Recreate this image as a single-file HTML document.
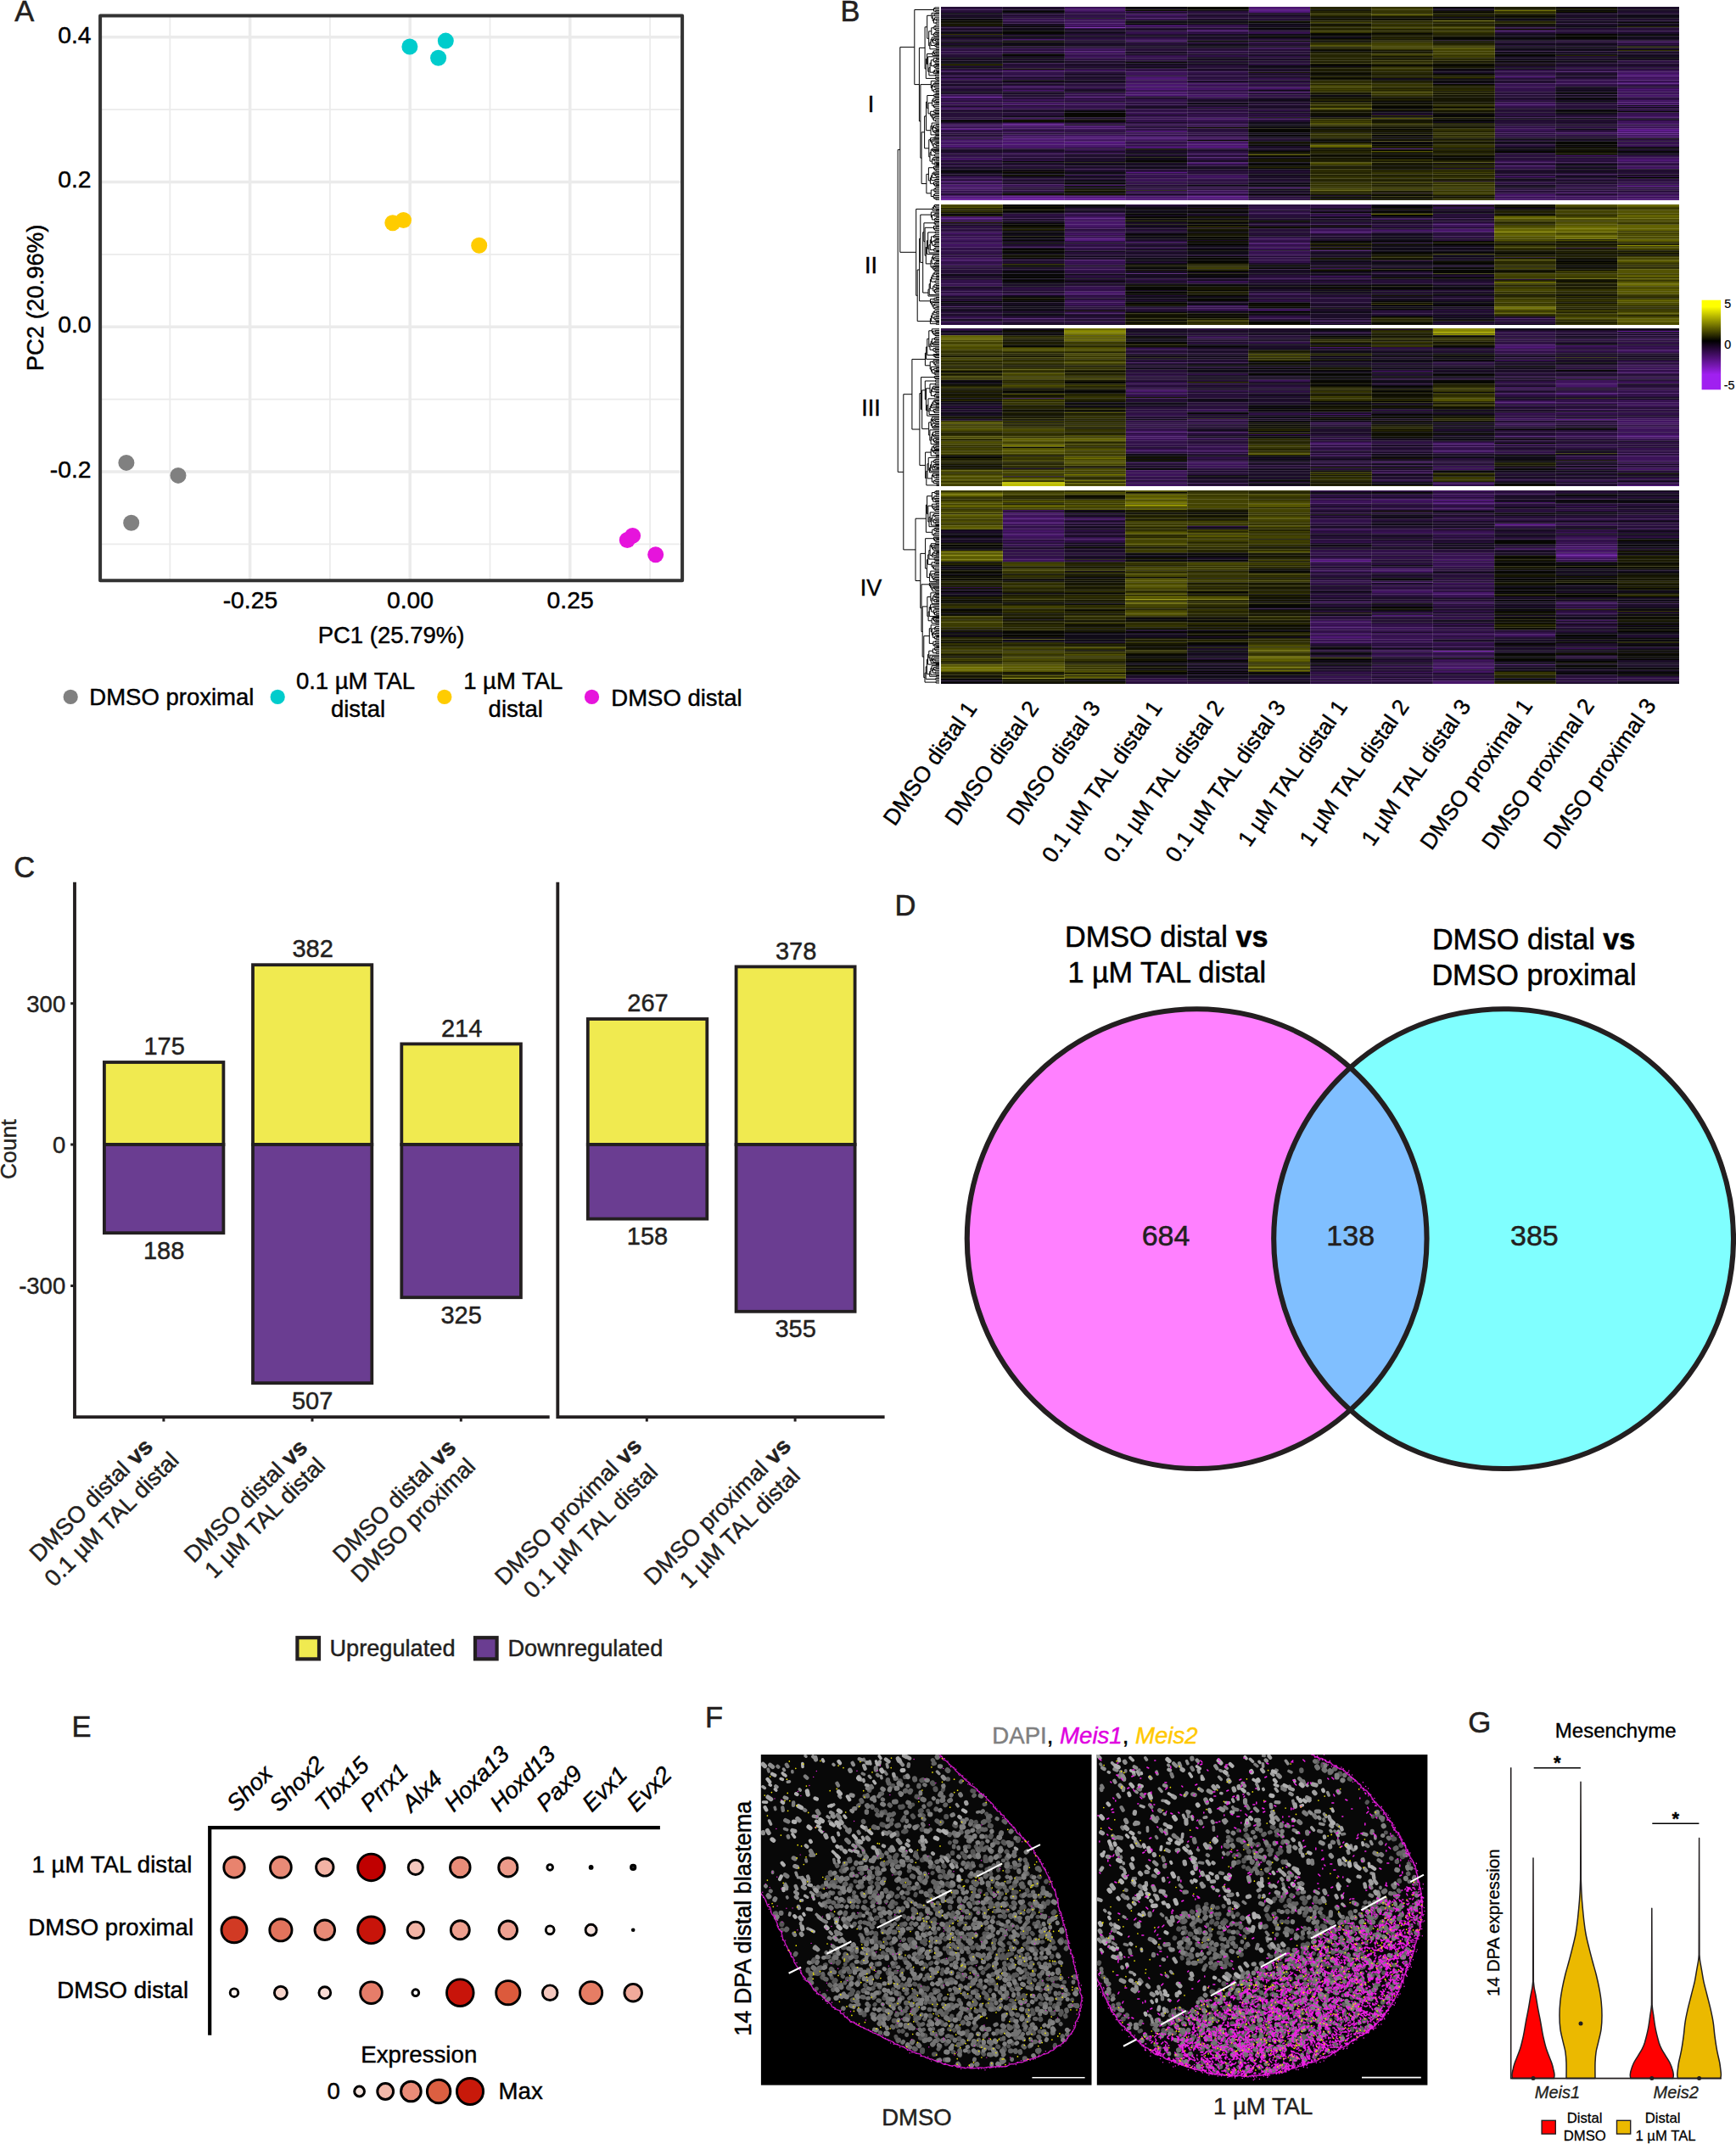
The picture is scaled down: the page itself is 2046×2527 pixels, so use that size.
<!DOCTYPE html>
<html lang="en"><head><meta charset="utf-8"><title>Figure</title>
<style>html,body{margin:0;padding:0;background:#fff}svg{display:block}text{font-family:"Liberation Sans", Arial, Helvetica, sans-serif}</style></head>
<body>
<svg width="2046" height="2527" viewBox="0 0 2046 2527">
<rect width="2046" height="2527" fill="#fff"/>
<g id="panelA">
<text x="17.2" y="25.3" font-size="34.5" fill="#231f20" stroke="#231f20" stroke-width="0.55">A</text>
<path d="M200.3 18.45V684.2M388.9 18.45V684.2M577.5 18.45V684.2M766.1 18.45V684.2M118.1 129.1H804.1M118.1 299.8H804.1M118.1 470.6H804.1M118.1 641.3H804.1" stroke="#ebebeb" stroke-width="1.8" fill="none"/>
<path d="M294.6 18.45V684.2M483.2 18.45V684.2M671.8 18.45V684.2M118.1 43.7H804.1M118.1 214.4H804.1M118.1 385.2H804.1M118.1 556.0H804.1" stroke="#ebebeb" stroke-width="3.5" fill="none"/>
<circle cx="482.9" cy="55.0" r="9.5" fill="#00cccc"/>
<circle cx="525.3" cy="48.1" r="9.5" fill="#00cccc"/>
<circle cx="516.6" cy="68.3" r="9.5" fill="#00cccc"/>
<circle cx="462.8" cy="262.7" r="9.5" fill="#ffcc00"/>
<circle cx="475.5" cy="259.5" r="9.5" fill="#ffcc00"/>
<circle cx="564.7" cy="289.2" r="9.5" fill="#ffcc00"/>
<circle cx="148.9" cy="545.4" r="9.5" fill="#808080"/>
<circle cx="210.0" cy="560.4" r="9.5" fill="#808080"/>
<circle cx="154.7" cy="616.3" r="9.5" fill="#808080"/>
<circle cx="739.3" cy="636.5" r="9.5" fill="#e614dc"/>
<circle cx="745.6" cy="631.4" r="9.5" fill="#e614dc"/>
<circle cx="772.7" cy="653.7" r="9.5" fill="#e614dc"/>
<rect x="118.1" y="18.45" width="686.0" height="665.8" fill="none" stroke="#333" stroke-width="4" stroke-linejoin="round"/>
<text x="107.6" y="50.6" font-size="28.3" text-anchor="end" stroke="#000" stroke-width="0.45">0.4</text>
<text x="107.6" y="221.3" font-size="28.3" text-anchor="end" stroke="#000" stroke-width="0.45">0.2</text>
<text x="107.6" y="392.1" font-size="28.3" text-anchor="end" stroke="#000" stroke-width="0.45">0.0</text>
<text x="107.6" y="562.9" font-size="28.3" text-anchor="end" stroke="#000" stroke-width="0.45">-0.2</text>
<text x="294.9" y="717.0" font-size="28.3" text-anchor="middle" stroke="#000" stroke-width="0.45">-0.25</text>
<text x="483.5" y="717.0" font-size="28.3" text-anchor="middle" stroke="#000" stroke-width="0.45">0.00</text>
<text x="672.1" y="717.0" font-size="28.3" text-anchor="middle" stroke="#000" stroke-width="0.45">0.25</text>
<text x="461.0" y="758.0" font-size="27.5" text-anchor="middle" stroke="#000" stroke-width="0.44">PC1 (25.79%)</text>
<text x="51.0" y="351.0" font-size="27.5" text-anchor="middle" stroke="#000" stroke-width="0.44" transform="rotate(-90 51.0 351.0)">PC2 (20.96%)</text>
<circle cx="83.2" cy="821.4" r="8.6" fill="#808080"/>
<text x="105.3" y="831.2" font-size="27.5" stroke="#000" stroke-width="0.44">DMSO proximal</text>
<circle cx="327.2" cy="821.4" r="8.6" fill="#00cccc"/>
<text x="419.0" y="811.9" font-size="27.5" text-anchor="middle" stroke="#000" stroke-width="0.44">0.1 µM TAL</text>
<text x="422.0" y="845.0" font-size="27.5" text-anchor="middle" stroke="#000" stroke-width="0.44">distal</text>
<circle cx="523.8" cy="821.4" r="8.6" fill="#ffcc00"/>
<text x="604.8" y="811.9" font-size="27.5" text-anchor="middle" stroke="#000" stroke-width="0.44">1 µM TAL</text>
<text x="607.7" y="845.0" font-size="27.5" text-anchor="middle" stroke="#000" stroke-width="0.44">distal</text>
<circle cx="697.5" cy="821.4" r="8.6" fill="#e614dc"/>
<text x="720.3" y="832.0" font-size="27.5" stroke="#000" stroke-width="0.44">DMSO distal</text>
</g>
<g id="panelB">
<text x="990.4" y="24.9" font-size="34.5" fill="#231f20" stroke="#231f20" stroke-width="0.55">B</text>
<path d="M1107 8.9H1101.7V10.7H1107M1107 12.4H1102.7V14H1107M1101.7 9.8H1100.5V13.2H1102.7M1107 16.9H1101.3V18.9H1107M1107 22.6H1103.4V24.3H1107M1107 20.8H1101.6V23.4H1103.4M1107 26.1H1103.1V28.1H1107M1101.6 22.1H1100.4V27.1H1103.1M1101.3 17.9H1099.2V24.6H1100.4M1107 15.4H1098V21.3H1099.2M1107 30.1H1102.1V31.9H1107M1107 33.7H1102.5V35.5H1107M1102.1 31H1100.9V34.6H1102.5M1107 37.2H1103.1V38.7H1107M1107 39.9H1103.8V41H1107M1103.1 37.9H1101.9V40.4H1103.8M1101.9 39.2H1100.7V42.5H1107M1100.9 32.8H1097.8V40.8H1100.7M1107 47.9H1103.8V49.1H1107M1107 46.4H1102.5V48.5H1103.8M1107 45.1H1100.7V47.5H1102.5M1107 50.3H1103V51.3H1107M1100.7 46.3H1099.5V50.8H1103M1107 44H1098.3V48.5H1099.5M1107 53.8H1103.1V55.5H1107M1107 52.4H1101.9V54.6H1103.1M1098.3 46.3H1097.1V53.5H1101.9M1107 57.1H1103.3V58.6H1107M1097.1 49.9H1095.9V57.8H1103.3M1097.8 36.8H1094.7V53.9H1095.9M1098 18.3H1092.7V45.3H1094.7M1107 61.2H1103.1V62.8H1107M1103.1 62H1101.5V64.2H1107M1107 59.9H1100.3V63.1H1101.5M1100.3 61.5H1099.1V65.4H1107M1107 68.1H1103.5V69.5H1107M1107 70.9H1103.2V72.4H1107M1103.2 71.6H1102V74H1107M1103.5 68.8H1100.2V72.8H1102M1107 75.4H1102.5V76.6H1107M1107 77.8H1103.4V78.9H1107M1103.4 78.3H1102.2V80.4H1107M1102.5 76H1101V79.4H1102.2M1100.2 70.8H1097.3V77.7H1101M1107 82H1103.3V83.3H1107M1107 84.5H1103.8V85.6H1107M1103.3 82.6H1101.4V85H1103.8M1101.4 83.8H1100.2V86.7H1107M1097.3 74.2H1096.1V85.2H1100.2M1107 88.1H1102.4V89.8H1107M1096.1 79.7H1094.9V88.9H1102.4M1107 66.8H1093.7V84.3H1094.9M1099.1 63.5H1092.5V75.5H1093.7M1107 92.8H1103.8V94.1H1107M1107 91.4H1102.6V93.4H1103.8M1092.5 69.5H1091.3V92.4H1102.6M1092.7 31.8H1090.1V81H1091.3M1107 97.1H1102.1V98.6H1107M1102.1 97.8H1100.9V99.9H1107M1107 101.3H1101.6V103.1H1107M1100.9 98.9H1099.7V102.2H1101.6M1107 104.7H1102.5V106.1H1107M1107 107.6H1103.1V109H1107M1102.5 105.4H1100.3V108.3H1103.1M1099.7 100.5H1098.5V106.8H1100.3M1107 95.5H1097.3V103.7H1098.5M1107 110.4H1102.6V111.7H1107M1107 113.1H1102.1V114.6H1107M1102.6 111.1H1100.9V113.9H1102.1M1107 117.4H1102.6V119.2H1107M1107 120.6H1102.8V121.8H1107M1102.6 118.3H1101.1V121.2H1102.8M1107 115.9H1099.9V119.7H1101.1M1107 125.3H1101.7V127.3H1107M1107 123.4H1100.5V126.3H1101.7M1099.9 117.8H1098.7V124.8H1100.5M1107 129H1102.6V130.5H1107M1107 132H1102V133.5H1107M1102.6 129.8H1100.8V132.8H1102M1107 137.4H1101.7V139.2H1107M1107 141.1H1102.5V143.1H1107M1101.7 138.3H1100.3V142.1H1102.5M1107 135.9H1099.1V140.2H1100.3M1107 134.8H1097.9V138.1H1099.1M1100.8 131.3H1096.7V136.4H1097.9M1098.7 121.3H1094V133.9H1096.7M1100.9 112.5H1092.8V127.6H1094M1107 146.6H1103.4V148H1107M1107 151H1103.5V152.3H1107M1107 149.6H1102.3V151.7H1103.5M1103.4 147.3H1100.6V150.6H1102.3M1107 153.4H1102.9V154.4H1107M1107 155.7H1102.1V157.1H1107M1102.9 153.9H1100.9V156.4H1102.1M1100.6 149H1099.4V155.2H1100.9M1107 145H1098.2V152.1H1099.4M1107 158.3H1102.7V159.5H1107M1098.2 148.5H1097V158.9H1102.7M1092.8 120H1091.6V153.7H1097M1107 160.9H1102.1V162.4H1107M1102.1 161.6H1100.9V163.7H1107M1107 167.3H1103.5V168.3H1107M1107 169.7H1103.1V171.4H1107M1103.5 167.8H1101.9V170.6H1103.1M1107 172.9H1103.2V174.1H1107M1101.9 169.2H1100.1V173.5H1103.2M1107 166.1H1098.9V171.3H1100.1M1107 164.8H1097.7V168.7H1098.9M1100.9 162.7H1096.5V166.8H1097.7M1107 178.7H1102V180.3H1107M1107 177.4H1100.8V179.5H1102M1107 176.4H1099.6V178.5H1100.8M1107 175.2H1098.4V177.4H1099.6M1107 182H1101.6V184.1H1107M1098.4 176.3H1097.2V183H1101.6M1107 186.8H1103.4V188.2H1107M1103.4 187.5H1101.1V189.8H1107M1107 185.6H1099.9V188.7H1101.1M1107 191.3H1102.8V192.4H1107M1107 193.5H1103.6V194.6H1107M1102.8 191.9H1101.2V194.1H1103.6M1099.9 187.1H1098.7V193H1101.2M1097.2 179.7H1096V190.1H1098.7M1096.5 164.7H1094.8V184.9H1096M1091.6 136.9H1089.6V174.8H1094.8M1107 195.7H1102.8V196.8H1107M1107 199.5H1102.9V201.5H1107M1107 197.9H1101.7V200.5H1102.9M1102.8 196.2H1100.5V199.2H1101.7M1107 205.5H1102.5V207.3H1107M1107 204.1H1101.2V206.4H1102.5M1107 203H1100V205.3H1101.2M1107 208.8H1103.4V210H1107M1100 204.2H1098.8V209.4H1103.4M1107 211.5H1101.8V213.2H1107M1098.8 206.8H1097.6V212.4H1101.8M1107 216H1103.4V217.3H1107M1107 218.6H1103.1V219.8H1107M1103.4 216.7H1101.7V219.2H1103.1M1107 214.7H1100.5V217.9H1101.7M1097.6 209.6H1096.4V216.3H1100.5M1100.5 197.7H1094.4V212.9H1096.4M1107 221.3H1102.4V223.2H1107M1107 225H1102.2V226.7H1107M1102.4 222.3H1101V225.8H1102.2M1107 228.5H1101.4V230.5H1107M1107 233.9H1103V235.3H1107M1107 232.3H1101.8V234.6H1103M1101.4 229.5H1100.2V233.5H1101.8M1101 224H1097.3V231.5H1100.2M1094.4 205.3H1091.9V227.8H1097.3M1089.6 155.8H1086.1V216.5H1091.9M1097.3 99.6H1084.9V186.2H1086.1M1090.1 56.4H1083.4V142.9H1084.9M1100.5 11.5H1077.8V99.6H1083.4M1107 243H1102.7V244.9H1107M1107 241.5H1101.5V243.9H1102.7M1101.5 242.7H1100.3V246.3H1107M1107 247.5H1103.6V248.9H1107M1100.3 244.5H1099.1V248.2H1103.6M1107 251.3H1102.2V252.8H1107M1107 254.1H1103.6V255.3H1107M1102.2 252.1H1101V254.7H1103.6M1107 256.8H1102.9V258.5H1107M1102.9 257.6H1101.7V260.2H1107M1101 253.4H1098.6V258.9H1101.7M1107 250.1H1097.4V256.1H1098.6M1107 263H1102.4V265H1107M1107 261.5H1101.2V264H1102.4M1107 267.9H1103.1V269.7H1107M1103.1 268.8H1101.7V271.3H1107M1107 266.5H1100.5V270.1H1101.7M1107 273H1102.2V274.8H1107M1107 276.7H1101.8V278.6H1107M1101.8 277.7H1100.6V280.1H1107M1107 281.4H1103.5V282.7H1107M1103.5 282H1102.2V284.1H1107M1102.2 283.1H1101V285.4H1107M1107 286.9H1102.2V288.9H1107M1102.2 287.9H1101V290.5H1107M1101 284.2H1098.7V289.2H1101M1100.6 278.9H1097.5V286.7H1098.7M1107 292H1102V294H1107M1107 295.5H1103.5V296.5H1107M1102 293H1100.8V296H1103.5M1097.5 282.8H1096.3V294.5H1100.8M1096.3 288.7H1094.9V297.9H1107M1102.2 273.9H1093.7V293.3H1094.9M1093.7 283.6H1092.5V299.5H1107M1107 302.8H1101.8V304.7H1107M1107 306.3H1103.3V307.5H1107M1101.8 303.7H1100.6V306.9H1103.3M1107 301H1099.4V305.3H1100.6M1107 308.9H1102.8V310.6H1107M1102.8 309.8H1101.6V312H1107M1099.4 303.2H1098.2V310.9H1101.6M1107 315.9H1102.4V317H1107M1107 318.3H1102.6V319.8H1107M1102.4 316.4H1101.2V319H1102.6M1107 314.7H1100V317.7H1101.2M1107 313.4H1098.8V316.2H1100M1098.2 307H1097V314.8H1098.8M1092.5 291.5H1091.3V310.9H1097M1100.5 268.3H1090.1V301.2H1091.3M1101.2 262.8H1088.9V284.7H1090.1M1107 322.4H1103.4V324H1107M1107 321H1101.2V323.2H1103.4M1107 325.5H1103.6V326.8H1107M1101.2 322.1H1100V326.1H1103.6M1107 328.1H1103.5V329.4H1107M1100 324.1H1098.8V328.8H1103.5M1107 331.1H1102V333.1H1107M1098.8 326.4H1097.6V332.1H1102M1107 334.9H1102.9V336.5H1107M1107 338H1103.3V339.3H1107M1102.9 335.7H1101V338.6H1103.3M1107 340.6H1102.6V342H1107M1107 343.7H1102.6V345.7H1107M1102.6 341.3H1101.4V344.7H1102.6M1101 337.2H1099.8V343H1101.4M1097.6 329.3H1096.4V340.1H1099.8M1096.4 334.7H1095.2V347.5H1107M1095.2 341.1H1094V349H1107M1088.9 273.7H1087.7V345H1094M1097.4 253.1H1084.8V309.4H1087.7M1107 350.5H1103.3V352.2H1107M1103.3 351.3H1101V353.7H1107M1107 358.1H1101.3V360.1H1107M1107 361.7H1103.8V362.9H1107M1103.8 362.3H1101.8V364.4H1107M1101.3 359.1H1100.1V363.4H1101.8M1107 356.5H1098.9V361.2H1100.1M1107 355.1H1097.7V358.9H1098.9M1101 352.5H1096.5V357H1097.7M1084.8 281.2H1083.6V354.8H1096.5M1107 367.8H1103.5V369.2H1107M1107 366.3H1101.2V368.5H1103.5M1101.2 367.4H1100V370.9H1107M1107 372.6H1103.3V373.9H1107M1107 375.4H1102.2V377.2H1107M1103.3 373.2H1101V376.3H1102.2M1100 369.2H1098.8V374.8H1101M1107 378.6H1103.1V379.6H1107M1098.8 372H1097.6V379.1H1103.1M1107 380.9H1103.4V382.3H1107M1097.6 375.5H1096.4V381.6H1103.4M1083.6 318H1081.2V378.6H1096.4M1099.1 246.4H1079.7V348.3H1081.2M1107 389.4H1102.5V391.1H1107M1107 393.9H1102V395.5H1107M1107 392.5H1100.8V394.7H1102M1102.5 390.2H1099.6V393.6H1100.8M1107 387.8H1098.4V391.9H1099.6M1107 397.2H1102.8V399H1107M1102.8 398.1H1101.6V400.6H1107M1107 402.1H1102V403.7H1107M1102 402.9H1100.8V405.1H1107M1100.8 404H1099.6V406.6H1107M1101.6 399.4H1098.4V405.3H1099.6M1098.4 402.3H1097.2V408.3H1107M1107 409.9H1102.1V411.5H1107M1107 414.3H1103.2V416H1107M1107 412.8H1102V415.2H1103.2M1102.1 410.7H1100V414H1102M1097.2 405.3H1096V412.3H1100M1098.4 389.8H1094.8V408.8H1096M1107 419.9H1102.5V421.5H1107M1107 418.6H1101.2V420.7H1102.5M1107 417.5H1100V419.6H1101.2M1094.8 399.3H1092.8V418.5H1100M1092.8 408.9H1091.6V423.3H1107M1107 425.9H1103.3V427.2H1107M1107 428.9H1102.4V430.9H1107M1103.3 426.6H1101.2V429.9H1102.4M1107 424.7H1100V428.2H1101.2M1107 433.7H1103.5V435H1107M1107 436.3H1102.8V437.5H1107M1103.5 434.3H1100.9V436.9H1102.8M1107 440.1H1102.3V441.9H1107M1107 438.6H1101.1V441H1102.3M1100.9 435.6H1098.6V439.8H1101.1M1107 432.4H1097.4V437.7H1098.6M1100 426.5H1096.2V435.1H1097.4M1091.6 416.1H1090.4V430.8H1096.2M1107 445H1102.5V446.5H1107M1107 443.5H1101.3V445.7H1102.5M1107 448.1H1102.5V449.9H1107M1107 451.7H1102.3V453.7H1107M1107 456.5H1102.2V458H1107M1102.2 457.2H1101V459.6H1107M1107 455.2H1099.8V458.4H1101M1107 461.2H1102.7V462.5H1107M1099.8 456.8H1098.6V461.8H1102.7M1107 464.1H1102.5V465.9H1107M1107 467.4H1103.5V468.4H1107M1102.5 465H1101.3V467.9H1103.5M1098.6 459.3H1097.4V466.5H1101.3M1102.3 452.7H1096V462.9H1097.4M1107 474.2H1103.5V475.5H1107M1107 472.7H1102.3V474.8H1103.5M1107 471.4H1101.1V473.8H1102.3M1101.1 472.6H1099.9V476.6H1107M1107 477.9H1103.1V479.4H1107M1099.9 474.6H1098.7V478.7H1103.1M1098.7 476.6H1097.5V480.7H1107M1107 481.9H1102.5V483.1H1107M1107 484.7H1101.5V486.6H1107M1102.5 482.5H1100.3V485.7H1101.5M1097.5 478.7H1096.3V484.1H1100.3M1096.3 481.4H1095.1V488.5H1107M1107 469.9H1093.9V484.9H1095.1M1093.9 477.4H1092.7V490.1H1107M1096 457.8H1091.5V483.8H1092.7M1102.5 449H1090.3V470.8H1091.5M1107 494.6H1102.1V496.5H1107M1107 493.1H1100.9V495.5H1102.1M1100.9 494.3H1099.7V498H1107M1107 491.7H1098.5V496.2H1099.7M1107 500.8H1102.2V502.4H1107M1102.2 501.6H1101V503.7H1107M1101 502.7H1099.8V505.1H1107M1107 499.3H1098.6V503.9H1099.8M1098.5 493.9H1097.3V501.6H1098.6M1107 508.4H1102.1V510H1107M1107 511.7H1101.9V513.5H1107M1101.9 512.6H1100.7V515H1107M1102.1 509.2H1099.5V513.8H1100.7M1107 516.1H1102.7V517.3H1107M1107 518.7H1102.9V520.4H1107M1102.9 519.5H1101.7V521.7H1107M1102.7 516.7H1100.5V520.6H1101.7M1099.5 511.5H1098.3V518.7H1100.5M1107 522.8H1103.1V523.9H1107M1098.3 515.1H1097.1V523.3H1103.1M1107 506.8H1095.9V519.2H1097.1M1097.3 497.8H1094.7V513H1095.9M1090.3 459.9H1086.7V505.4H1094.7M1101.3 444.6H1085.5V482.6H1086.7M1107 526.4H1102.8V528.1H1107M1102.8 527.2H1101.6V529.4H1107M1107 525H1100.4V528.3H1101.6M1107 533.1H1102.6V535H1107M1107 531.6H1100.8V534H1102.6M1107 530.5H1099.6V532.8H1100.8M1100.4 526.7H1098.4V531.7H1099.6M1107 536.5H1103.5V537.7H1107M1098.4 529.2H1097.2V537.1H1103.5M1107 538.8H1103.2V539.9H1107M1107 541.4H1101.9V543.2H1107M1107 544.8H1102.3V546.2H1107M1101.9 542.3H1100.7V545.5H1102.3M1107 548.8H1102.6V550.3H1107M1107 551.6H1104V552.7H1107M1102.6 549.5H1101.4V552.1H1104M1107 547.5H1100.2V550.8H1101.4M1100.2 549.1H1099V553.8H1107M1100.7 543.9H1097.8V551.5H1099M1097.8 547.7H1096.6V555.2H1107M1096.6 551.4H1095.4V556.8H1107M1103.2 539.4H1094.2V554.1H1095.4M1107 559.4H1103V560.7H1107M1107 562.2H1103.2V563.9H1107M1103 560.1H1100.8V563.1H1103.2M1107 558.1H1099.6V561.6H1100.8M1107 565.6H1101.8V567.4H1107M1107 568.9H1103.6V570.1H1107M1101.8 566.5H1100.3V569.5H1103.6M1099.6 559.8H1098.4V568H1100.3M1094.2 546.7H1093V563.9H1098.4M1107 571.3H1103.9V572.4H1107M1093 555.3H1091.8V571.9H1103.9M1097.2 533.1H1090.6V563.6H1091.8M1085.5 463.6H1083.9V548.4H1090.6M1090.4 423.4H1074.9V506H1083.9M1107 578.6H1103V579.9H1107M1107 581.2H1103.1V582.3H1107M1103 579.3H1101.8V581.7H1103.1M1107 583.9H1103.1V585.7H1107M1107 587.5H1102.1V589H1107M1103.1 584.8H1100.9V588.2H1102.1M1107 590.5H1102.3V591.8H1107M1100.9 586.5H1099.7V591.2H1102.3M1101.8 580.5H1098.4V588.8H1099.7M1107 593.3H1103.4V595H1107M1107 597.9H1102.9V599.1H1107M1107 600.5H1102.2V602.1H1107M1102.9 598.5H1101V601.3H1102.2M1107 596.6H1099.8V599.9H1101M1103.4 594.2H1098.6V598.2H1099.8M1107 607.5H1101.9V609.4H1107M1107 605.6H1100.7V608.4H1101.9M1107 612.9H1103.1V614H1107M1107 611.4H1101.8V613.4H1103.1M1107 615.4H1102.1V617.1H1107M1101.8 612.4H1100.1V616.2H1102.1M1100.7 607H1098.9V614.3H1100.1M1107 618.5H1102.7V619.5H1107M1098.9 610.7H1097.4V619H1102.7M1107 603.9H1096.2V614.8H1097.4M1096.2 609.4H1095V620.7H1107M1098.6 596.2H1093.8V615H1095M1098.4 584.7H1092.6V605.6H1093.8M1107 622.1H1102.3V623.4H1107M1107 624.9H1103V626.4H1107M1102.3 622.7H1101.1V625.6H1103M1107 628.1H1101.9V630H1107M1101.9 629.1H1100.7V631.8H1107M1101.1 624.2H1098.8V630.4H1100.7M1092.6 595.1H1091.4V627.3H1098.8M1107 634.3H1103.7V635.4H1107M1107 636.7H1102.8V638.4H1107M1103.7 634.8H1101.6V637.5H1102.8M1107 633.3H1100.4V636.2H1101.6M1107 640H1102.2V641.5H1107M1107 645.2H1102.1V646.9H1107M1107 643.9H1100.9V646.1H1102.1M1100.9 645H1099.7V648.2H1107M1107 642.8H1098.5V646.6H1099.7M1102.2 640.7H1097.3V644.7H1098.5M1107 649.3H1103.7V650.4H1107M1107 651.6H1103.5V652.8H1107M1103.7 649.9H1101V652.2H1103.5M1107 653.9H1102.8V655H1107M1101 651H1099.8V654.5H1102.8M1099.8 652.7H1098.6V656.4H1107M1097.3 642.7H1096.1V654.5H1098.6M1107 659.3H1102.4V660.6H1107M1107 657.9H1101.2V660H1102.4M1096.1 648.6H1094.9V659H1101.2M1107 663.3H1103.5V664.7H1107M1107 661.9H1101.7V664H1103.5M1107 669.8H1102V671.7H1107M1107 667.8H1100.4V670.7H1102M1107 666.1H1099.2V669.3H1100.4M1101.7 662.9H1098V667.7H1099.2M1094.9 653.8H1093.7V665.3H1098M1107 674.5H1102.5V676H1107M1102.5 675.2H1101.3V677.6H1107M1107 680.5H1101.6V682.2H1107M1101.6 681.4H1100.4V683.7H1107M1107 679H1099.2V682.5H1100.4M1101.3 676.4H1098V680.7H1099.2M1107 673.1H1096.8V678.6H1098M1107 684.8H1103V686H1107M1096.8 675.9H1095.6V685.4H1103M1093.7 659.6H1092.5V680.6H1095.6M1100.4 634.7H1090.6V670.1H1092.5M1107 693.7H1102.6V695.3H1107M1107 692.3H1101.4V694.5H1102.6M1107 691.2H1100.2V693.4H1101.4M1100.2 692.3H1099V696.8H1107M1107 690.2H1097.8V694.5H1099M1107 688.6H1096.6V692.4H1097.8M1107 687.1H1095.4V690.5H1096.6M1107 698.1H1102.5V699.4H1107M1107 701.9H1103.4V703.3H1107M1103.4 702.6H1102.2V704.6H1107M1107 700.6H1101V703.6H1102.2M1107 706H1103.2V707.2H1107M1107 708.5H1103.3V709.9H1107M1103.2 706.6H1101V709.2H1103.3M1101 702.1H1099.8V707.9H1101M1099.8 705H1098.1V711.4H1107M1102.5 698.8H1096.9V708.2H1098.1M1107 715.9H1102V717.6H1107M1107 714.3H1100.8V716.7H1102M1107 720.5H1103V722.5H1107M1107 724.1H1103.3V725.3H1107M1103 721.5H1101.5V724.7H1103.3M1107 718.9H1100.3V723.1H1101.5M1100.8 715.5H1097.7V721H1100.3M1107 712.8H1096.5V718.3H1097.7M1096.5 715.5H1095.3V726.4H1107M1107 729.9H1102.9V731.4H1107M1102.9 730.6H1101.7V732.7H1107M1107 728.6H1100.5V731.7H1101.7M1107 727.5H1099.3V730.1H1100.5M1107 733.9H1102.7V735.1H1107M1099.3 728.8H1098.1V734.5H1102.7M1095.3 721H1094.1V731.7H1098.1M1096.9 703.5H1092.9V726.3H1094.1M1107 738.6H1102.5V740.6H1107M1102.5 739.6H1101.3V742.1H1107M1107 743.4H1102.9V745H1107M1107 746.6H1102V748.2H1107M1102.9 744.2H1100.8V747.4H1102M1107 749.5H1103.6V750.6H1107M1107 751.9H1103.1V753.6H1107M1103.6 750.1H1101.4V752.8H1103.1M1100.8 745.8H1099.6V751.4H1101.4M1101.3 740.9H1098.4V748.6H1099.6M1107 736.7H1097.2V744.7H1098.4M1107 755.4H1102.6V757.1H1107M1107 758.7H1102.3V760.1H1107M1107 761.3H1103.8V762.4H1107M1102.3 759.4H1101.1V761.9H1103.8M1102.6 756.2H1099.9V760.6H1101.1M1097.2 740.7H1095.3V758.4H1099.9M1107 765.2H1102.8V767H1107M1107 763.6H1101.6V766.1H1102.8M1107 768.7H1103.3V770.4H1107M1101.6 764.9H1099.4V769.6H1103.3M1107 777H1102V778.9H1107M1107 775.2H1100.8V778H1102M1100.8 776.6H1099.6V780.3H1107M1107 773.7H1098.4V778.5H1099.6M1098.4 776.1H1097.2V781.4H1107M1107 772.2H1096V778.7H1097.2M1099.4 767.2H1094.8V775.5H1096M1107 782.5H1103V783.6H1107M1094.8 771.3H1093.6V783.1H1103M1107 785.9H1102.9V787.1H1107M1107 788.6H1101.7V790.4H1107M1102.9 786.5H1100.5V789.5H1101.7M1107 792.1H1102.2V793.8H1107M1100.5 788H1099.3V793H1102.2M1107 784.7H1098.1V790.5H1099.3M1098.1 787.6H1096.9V795.3H1107M1107 796.6H1103.3V798H1107M1096.9 791.4H1095.7V797.3H1103.3M1093.6 777.2H1092.4V794.4H1095.7M1107 799.6H1102.7V801.3H1107M1092.4 785.8H1091.2V800.4H1102.7M1107 803.1H1103.1V805H1107M1091.2 793.1H1090V804.1H1103.1M1095.3 749.6H1088.8V798.6H1090M1092.9 714.9H1087.2V774.1H1088.8M1095.4 688.8H1086V744.5H1087.2M1090.6 652.4H1084.8V716.6H1086M1091.4 611.2H1079V684.5H1084.8M1077.8 55.6H1060.8V297.3H1079.7M1074.9 464.7H1064.8V647.9H1079M1060.8 176.4H1058.2V556.3H1064.8" fill="none" stroke="#000" stroke-width="1"/>
<g shape-rendering="crispEdges">
<rect x="1109.4" y="8" width="869.2" height="228" fill="#1a0f22"/>
<rect x="1109.4" y="241" width="869.2" height="142" fill="#1a0f22"/>
<rect x="1109.4" y="387" width="869.2" height="186" fill="#1a0f22"/>
<rect x="1109.4" y="578" width="869.2" height="228" fill="#1a0f22"/>
<g fill="none" stroke-width="73.03">
<path stroke="#721eaa" d="M1145.6 235v1M1290.5 32v1M1725.1 767v1"/>
<path stroke="#671c9a" d="M1145.6 114v1M1218.0 233v3M1290.5 234v1M1362.9 173v1M1797.5 618v1M1869.9 654v1M1942.3 153v1M1942.3 390v1"/>
<path stroke="#5c1a8a" d="M1145.6 152v1M1145.6 232v1M1145.6 234v1M1218.0 146v1M1218.0 232v1M1290.5 168v1M1290.5 233v1M1290.5 235v1M1362.9 30v1M1362.9 154v1M1362.9 203v1M1435.3 36v1M1435.3 173v1M1435.3 232v1M1507.8 12v1M1580.2 661v1M1725.1 589v1M1725.1 787v1M1869.9 494v1M1869.9 653v1M1869.9 655v1M1942.3 156v1M1942.3 219v1"/>
<path stroke="#511879" d="M1145.6 172v1M1145.6 187v1M1145.6 218v1M1145.6 233v1M1145.6 257v2M1218.0 147v1M1218.0 163v2M1218.0 168v2M1218.0 173v1M1218.0 231v1M1218.0 610v1M1218.0 616v1M1290.5 148v1M1290.5 161v1M1290.5 163v1M1290.5 167v1M1290.5 170v1M1290.5 232v1M1290.5 257v1M1290.5 281v3M1362.9 92v1M1362.9 100v1M1362.9 104v2M1362.9 112v1M1362.9 162v1M1362.9 232v1M1362.9 234v2M1362.9 531v1M1435.3 169v1M1435.3 172v1M1435.3 192v1M1435.3 231v1M1435.3 233v1M1435.3 235v1M1507.8 9v2M1507.8 13v2M1507.8 286v1M1507.8 365v1M1580.2 273v1M1580.2 660v1M1580.2 751v1M1652.6 725v1M1725.1 592v1M1797.5 208v1M1797.5 409v1M1869.9 464v1M1869.9 644v1M1869.9 646v1M1869.9 652v1M1869.9 656v1M1942.3 87v1M1942.3 89v1M1942.3 97v2M1942.3 105v1M1942.3 152v1M1942.3 154v2M1942.3 158v1M1942.3 189v1M1942.3 235v1M1942.3 513v2M1942.3 572v1"/>
<path stroke="#471669" d="M1145.6 148v1M1145.6 151v1M1145.6 165v1M1145.6 167v2M1145.6 170v2M1145.6 173v1M1145.6 213v2M1145.6 220v3M1145.6 230v2M1145.6 255v2M1145.6 275v1M1145.6 288v1M1145.6 307v1M1218.0 46v1M1218.0 83v1M1218.0 106v1M1218.0 122v1M1218.0 145v1M1218.0 148v1M1218.0 150v1M1218.0 160v2M1218.0 165v3M1218.0 170v3M1218.0 230v1M1218.0 375v1M1218.0 605v1M1218.0 611v2M1218.0 615v1M1218.0 625v2M1218.0 629v3M1290.5 9v2M1290.5 12v1M1290.5 23v1M1290.5 27v1M1290.5 29v2M1290.5 58v1M1290.5 60v2M1290.5 114v1M1290.5 149v3M1290.5 160v1M1290.5 162v1M1290.5 164v1M1290.5 166v1M1290.5 169v1M1290.5 171v3M1290.5 218v1M1290.5 231v1M1290.5 255v2M1290.5 258v1M1290.5 261v6M1290.5 276v1M1290.5 280v1M1290.5 307v1M1290.5 344v2M1290.5 347v1M1290.5 612v1M1290.5 636v1M1362.9 17v1M1362.9 48v1M1362.9 90v2M1362.9 93v1M1362.9 96v1M1362.9 99v1M1362.9 101v2M1362.9 108v4M1362.9 161v1M1362.9 163v2M1362.9 233v1M1362.9 285v1M1362.9 322v1M1362.9 460v2M1362.9 508v2M1362.9 514v1M1362.9 516v1M1362.9 545v1M1362.9 571v1M1435.3 99v1M1435.3 104v2M1435.3 112v2M1435.3 139v1M1435.3 168v1M1435.3 170v2M1435.3 181v1M1435.3 185v1M1435.3 208v1M1435.3 227v1M1435.3 230v1M1435.3 234v1M1435.3 331v1M1435.3 333v1M1435.3 360v1M1435.3 545v1M1507.8 8v1M1507.8 11v1M1507.8 103v2M1507.8 221v1M1507.8 293v1M1580.2 295v1M1580.2 409v1M1580.2 488v1M1580.2 522v2M1580.2 659v1M1580.2 732v1M1580.2 738v2M1580.2 746v1M1580.2 749v2M1580.2 757v1M1652.6 175v1M1652.6 258v1M1652.6 271v1M1652.6 437v1M1652.6 544v1M1652.6 589v1M1652.6 671v1M1652.6 673v1M1652.6 686v1M1652.6 697v1M1725.1 264v1M1725.1 270v4M1725.1 522v2M1725.1 526v1M1725.1 531v2M1725.1 593v1M1725.1 660v1M1725.1 698v3M1725.1 785v1M1725.1 791v1M1725.1 803v3M1797.5 36v1M1797.5 90v1M1797.5 123v1M1797.5 229v2M1797.5 234v2M1797.5 407v2M1797.5 410v1M1797.5 464v1M1797.5 473v2M1797.5 514v1M1797.5 592v1M1797.5 748v1M1797.5 783v1M1869.9 84v1M1869.9 183v1M1869.9 233v1M1869.9 235v1M1869.9 451v1M1869.9 453v3M1869.9 463v1M1869.9 649v2M1869.9 657v1M1869.9 659v1M1942.3 85v1M1942.3 88v1M1942.3 90v1M1942.3 92v1M1942.3 94v1M1942.3 107v1M1942.3 112v2M1942.3 118v1M1942.3 120v2M1942.3 123v1M1942.3 125v1M1942.3 137v1M1942.3 145v1M1942.3 148v1M1942.3 151v1M1942.3 159v2M1942.3 168v1M1942.3 187v2M1942.3 196v1M1942.3 198v1M1942.3 230v1M1942.3 233v2M1942.3 413v1M1942.3 438v1M1942.3 496v1M1942.3 498v1M1942.3 515v1M1942.3 553v1"/>
<path stroke="#3c1359" d="M1145.6 83v1M1145.6 92v2M1145.6 112v2M1145.6 115v1M1145.6 117v1M1145.6 121v2M1145.6 126v3M1145.6 147v1M1145.6 150v1M1145.6 162v1M1145.6 164v1M1145.6 166v1M1145.6 169v1M1145.6 208v1M1145.6 217v1M1145.6 219v1M1145.6 223v2M1145.6 226v1M1145.6 274v1M1145.6 279v5M1145.6 285v1M1145.6 287v1M1145.6 289v3M1145.6 301v1M1145.6 304v3M1145.6 311v1M1145.6 334v1M1145.6 336v1M1145.6 345v1M1145.6 347v1M1145.6 361v1M1145.6 373v1M1145.6 379v1M1145.6 388v1M1218.0 23v1M1218.0 101v3M1218.0 117v2M1218.0 121v1M1218.0 123v1M1218.0 126v1M1218.0 139v1M1218.0 149v1M1218.0 151v2M1218.0 155v1M1218.0 159v1M1218.0 162v1M1218.0 181v1M1218.0 217v2M1218.0 347v1M1218.0 601v1M1218.0 604v1M1218.0 606v4M1218.0 613v2M1218.0 617v2M1218.0 622v2M1218.0 627v2M1218.0 632v4M1218.0 638v1M1218.0 642v1M1218.0 658v4M1290.5 11v1M1290.5 13v1M1290.5 25v2M1290.5 28v1M1290.5 62v1M1290.5 64v1M1290.5 66v2M1290.5 82v2M1290.5 110v1M1290.5 113v1M1290.5 115v1M1290.5 117v1M1290.5 121v3M1290.5 127v1M1290.5 152v1M1290.5 159v1M1290.5 165v1M1290.5 206v1M1290.5 230v1M1290.5 251v1M1290.5 253v1M1290.5 259v2M1290.5 267v3M1290.5 274v2M1290.5 279v1M1290.5 288v1M1290.5 291v1M1290.5 306v1M1290.5 309v1M1290.5 311v1M1290.5 317v1M1290.5 339v1M1290.5 343v1M1290.5 346v1M1290.5 354v3M1290.5 358v2M1290.5 369v1M1290.5 634v1M1362.9 13v1M1362.9 18v1M1362.9 21v2M1362.9 38v1M1362.9 46v1M1362.9 66v1M1362.9 81v1M1362.9 84v5M1362.9 94v1M1362.9 97v2M1362.9 103v1M1362.9 106v1M1362.9 129v1M1362.9 133v1M1362.9 137v1M1362.9 140v1M1362.9 155v1M1362.9 157v2M1362.9 160v1M1362.9 165v1M1362.9 169v1M1362.9 172v1M1362.9 207v1M1362.9 211v2M1362.9 216v1M1362.9 225v1M1362.9 227v1M1362.9 230v2M1362.9 427v1M1362.9 459v1M1362.9 464v2M1362.9 512v2M1362.9 515v1M1362.9 517v2M1362.9 529v1M1362.9 554v3M1362.9 558v3M1362.9 564v1M1362.9 568v1M1362.9 572v1M1435.3 30v1M1435.3 97v1M1435.3 100v1M1435.3 102v2M1435.3 108v1M1435.3 110v2M1435.3 126v1M1435.3 140v2M1435.3 146v1M1435.3 161v4M1435.3 166v2M1435.3 174v1M1435.3 191v1M1435.3 206v2M1435.3 209v1M1435.3 220v1M1435.3 224v3M1435.3 363v1M1435.3 365v1M1435.3 397v1M1435.3 483v1M1435.3 494v1M1435.3 509v1M1435.3 517v1M1435.3 525v1M1435.3 527v1M1435.3 530v3M1435.3 546v2M1435.3 549v2M1507.8 38v1M1507.8 57v1M1507.8 102v1M1507.8 108v2M1507.8 140v1M1507.8 281v2M1507.8 287v2M1507.8 290v1M1507.8 292v1M1507.8 296v1M1507.8 298v1M1507.8 300v1M1507.8 346v1M1507.8 448v1M1507.8 512v1M1580.2 241v1M1580.2 253v1M1580.2 270v3M1580.2 274v1M1580.2 316v1M1580.2 325v1M1580.2 521v1M1580.2 526v1M1580.2 536v1M1580.2 587v1M1580.2 590v4M1580.2 624v1M1580.2 649v1M1580.2 658v1M1580.2 662v1M1580.2 664v1M1580.2 672v2M1580.2 709v1M1580.2 733v4M1580.2 740v2M1580.2 747v1M1580.2 752v3M1580.2 756v1M1580.2 797v1M1580.2 803v1M1652.6 272v1M1652.6 556v1M1652.6 590v3M1652.6 627v1M1652.6 670v1M1652.6 672v1M1652.6 695v2M1652.6 698v1M1652.6 739v3M1652.6 746v1M1652.6 749v1M1652.6 751v1M1652.6 753v2M1652.6 757v1M1652.6 767v1M1652.6 772v1M1652.6 785v1M1652.6 792v1M1725.1 241v1M1725.1 245v1M1725.1 263v1M1725.1 265v2M1725.1 524v1M1725.1 530v1M1725.1 549v1M1725.1 552v2M1725.1 569v3M1725.1 578v2M1725.1 582v1M1725.1 584v2M1725.1 587v1M1725.1 590v2M1725.1 594v1M1725.1 598v3M1725.1 623v1M1725.1 625v1M1725.1 627v2M1725.1 652v1M1725.1 655v1M1725.1 657v2M1725.1 663v1M1725.1 665v2M1725.1 683v1M1725.1 687v2M1725.1 701v1M1725.1 703v1M1725.1 710v1M1725.1 746v2M1725.1 749v1M1725.1 751v1M1725.1 757v1M1725.1 761v1M1725.1 768v1M1725.1 772v1M1725.1 777v3M1725.1 781v4M1725.1 786v1M1725.1 792v1M1725.1 802v1M1797.5 87v1M1797.5 89v1M1797.5 91v1M1797.5 98v1M1797.5 100v1M1797.5 103v1M1797.5 121v2M1797.5 124v1M1797.5 152v2M1797.5 156v1M1797.5 190v2M1797.5 195v2M1797.5 231v3M1797.5 375v1M1797.5 400v1M1797.5 405v2M1797.5 412v2M1797.5 424v1M1797.5 456v1M1797.5 475v1M1797.5 478v1M1797.5 487v1M1797.5 493v2M1797.5 498v1M1797.5 500v1M1797.5 524v1M1797.5 617v1M1797.5 619v1M1797.5 646v1M1797.5 747v1M1797.5 749v1M1869.9 95v1M1869.9 97v2M1869.9 156v2M1869.9 226v2M1869.9 230v3M1869.9 407v2M1869.9 445v1M1869.9 448v3M1869.9 452v1M1869.9 474v2M1869.9 482v1M1869.9 486v1M1869.9 513v2M1869.9 618v1M1869.9 627v1M1869.9 633v2M1869.9 639v1M1869.9 641v3M1869.9 645v1M1869.9 648v1M1869.9 651v1M1869.9 658v1M1869.9 661v1M1869.9 710v2M1869.9 714v1M1869.9 731v1M1869.9 764v1M1942.3 49v1M1942.3 83v2M1942.3 86v1M1942.3 91v1M1942.3 93v1M1942.3 95v1M1942.3 99v1M1942.3 104v1M1942.3 106v1M1942.3 109v3M1942.3 119v1M1942.3 122v1M1942.3 134v1M1942.3 136v1M1942.3 138v1M1942.3 142v3M1942.3 146v1M1942.3 149v2M1942.3 157v1M1942.3 161v2M1942.3 171v1M1942.3 186v1M1942.3 190v3M1942.3 197v1M1942.3 207v1M1942.3 216v1M1942.3 218v1M1942.3 227v1M1942.3 229v1M1942.3 231v2M1942.3 400v1M1942.3 409v1M1942.3 412v1M1942.3 414v1M1942.3 430v1M1942.3 433v3M1942.3 439v1M1942.3 450v2M1942.3 460v1M1942.3 463v2M1942.3 466v1M1942.3 472v1M1942.3 474v4M1942.3 479v1M1942.3 493v3M1942.3 497v1M1942.3 499v2M1942.3 503v6M1942.3 510v3M1942.3 516v2M1942.3 529v1M1942.3 531v1M1942.3 534v1M1942.3 537v7M1942.3 546v1M1942.3 552v1M1942.3 571v1"/>
<path stroke="#311149" d="M1145.6 10v2M1145.6 57v2M1145.6 60v3M1145.6 84v1M1145.6 89v2M1145.6 102v1M1145.6 104v1M1145.6 111v1M1145.6 116v1M1145.6 118v1M1145.6 120v1M1145.6 124v1M1145.6 129v1M1145.6 140v1M1145.6 145v2M1145.6 149v1M1145.6 153v1M1145.6 155v2M1145.6 161v1M1145.6 175v1M1145.6 180v1M1145.6 183v4M1145.6 188v1M1145.6 192v1M1145.6 195v1M1145.6 209v3M1145.6 215v2M1145.6 225v1M1145.6 227v1M1145.6 259v3M1145.6 267v1M1145.6 270v1M1145.6 272v2M1145.6 276v3M1145.6 284v1M1145.6 286v1M1145.6 292v7M1145.6 303v1M1145.6 308v3M1145.6 312v1M1145.6 315v1M1145.6 330v4M1145.6 335v1M1145.6 342v2M1145.6 346v1M1145.6 348v1M1145.6 374v2M1145.6 380v1M1145.6 382v1M1145.6 692v1M1218.0 17v1M1218.0 19v1M1218.0 22v1M1218.0 24v2M1218.0 27v1M1218.0 57v2M1218.0 60v2M1218.0 75v1M1218.0 82v1M1218.0 84v7M1218.0 92v1M1218.0 104v1M1218.0 107v1M1218.0 114v1M1218.0 120v1M1218.0 125v1M1218.0 127v2M1218.0 154v1M1218.0 156v1M1218.0 158v1M1218.0 174v2M1218.0 180v1M1218.0 183v1M1218.0 185v1M1218.0 189v1M1218.0 211v1M1218.0 219v2M1218.0 224v2M1218.0 253v1M1218.0 257v1M1218.0 290v2M1218.0 340v1M1218.0 345v1M1218.0 376v1M1218.0 378v1M1218.0 469v1M1218.0 602v1M1218.0 619v3M1218.0 624v1M1218.0 637v1M1218.0 639v1M1218.0 641v1M1218.0 643v1M1218.0 648v3M1218.0 652v2M1218.0 655v3M1290.5 8v1M1290.5 14v3M1290.5 18v3M1290.5 22v1M1290.5 24v1M1290.5 31v1M1290.5 33v1M1290.5 46v1M1290.5 56v2M1290.5 59v1M1290.5 63v1M1290.5 65v1M1290.5 68v1M1290.5 70v1M1290.5 100v1M1290.5 102v3M1290.5 111v2M1290.5 118v1M1290.5 124v3M1290.5 145v1M1290.5 153v3M1290.5 157v2M1290.5 175v3M1290.5 180v2M1290.5 199v1M1290.5 252v1M1290.5 271v3M1290.5 277v2M1290.5 284v2M1290.5 290v1M1290.5 292v2M1290.5 308v1M1290.5 310v1M1290.5 315v2M1290.5 318v2M1290.5 321v1M1290.5 326v1M1290.5 337v2M1290.5 340v3M1290.5 349v2M1290.5 353v1M1290.5 357v1M1290.5 361v1M1290.5 367v2M1290.5 375v1M1290.5 379v1M1290.5 609v3M1290.5 616v1M1290.5 625v1M1290.5 633v1M1290.5 635v1M1290.5 638v1M1290.5 661v1M1362.9 15v1M1362.9 19v2M1362.9 31v2M1362.9 36v1M1362.9 39v1M1362.9 45v1M1362.9 47v1M1362.9 65v1M1362.9 67v4M1362.9 83v1M1362.9 95v1M1362.9 107v1M1362.9 113v1M1362.9 117v4M1362.9 122v2M1362.9 131v2M1362.9 134v1M1362.9 138v2M1362.9 141v3M1362.9 145v4M1362.9 150v3M1362.9 156v1M1362.9 159v1M1362.9 166v3M1362.9 170v2M1362.9 202v1M1362.9 204v3M1362.9 208v3M1362.9 213v2M1362.9 222v2M1362.9 226v1M1362.9 241v1M1362.9 292v1M1362.9 329v1M1362.9 410v3M1362.9 416v1M1362.9 440v1M1362.9 442v1M1362.9 450v4M1362.9 456v1M1362.9 458v1M1362.9 462v2M1362.9 467v1M1362.9 469v1M1362.9 483v1M1362.9 485v1M1362.9 487v4M1362.9 496v2M1362.9 499v4M1362.9 504v4M1362.9 510v2M1362.9 519v7M1362.9 530v1M1362.9 533v1M1362.9 557v1M1362.9 561v3M1362.9 565v1M1362.9 567v1M1362.9 569v2M1362.9 800v2M1362.9 803v1M1435.3 15v1M1435.3 31v2M1435.3 34v2M1435.3 38v2M1435.3 60v2M1435.3 65v2M1435.3 84v3M1435.3 88v1M1435.3 90v1M1435.3 92v1M1435.3 94v1M1435.3 98v1M1435.3 101v1M1435.3 106v2M1435.3 109v1M1435.3 114v3M1435.3 129v1M1435.3 131v2M1435.3 134v5M1435.3 142v2M1435.3 145v1M1435.3 147v3M1435.3 155v1M1435.3 157v2M1435.3 160v1M1435.3 179v1M1435.3 182v1M1435.3 186v2M1435.3 193v2M1435.3 202v1M1435.3 210v3M1435.3 214v1M1435.3 216v1M1435.3 222v1M1435.3 228v1M1435.3 361v2M1435.3 364v1M1435.3 388v1M1435.3 396v1M1435.3 398v1M1435.3 404v1M1435.3 427v1M1435.3 441v1M1435.3 460v2M1435.3 479v1M1435.3 482v1M1435.3 484v1M1435.3 492v1M1435.3 495v2M1435.3 498v2M1435.3 510v1M1435.3 516v1M1435.3 523v1M1435.3 526v1M1435.3 528v2M1435.3 534v1M1435.3 539v2M1435.3 543v2M1435.3 548v1M1435.3 551v1M1435.3 556v1M1435.3 569v1M1435.3 572v1M1435.3 620v1M1435.3 804v1M1507.8 39v1M1507.8 50v1M1507.8 56v1M1507.8 66v1M1507.8 75v1M1507.8 92v2M1507.8 97v1M1507.8 99v2M1507.8 105v1M1507.8 112v2M1507.8 130v1M1507.8 134v1M1507.8 137v1M1507.8 139v1M1507.8 232v1M1507.8 234v1M1507.8 241v1M1507.8 243v5M1507.8 249v4M1507.8 279v2M1507.8 283v2M1507.8 289v1M1507.8 291v1M1507.8 297v1M1507.8 299v1M1507.8 301v1M1507.8 303v7M1507.8 327v3M1507.8 347v1M1507.8 350v1M1507.8 354v1M1507.8 364v1M1507.8 373v3M1507.8 403v2M1507.8 449v1M1507.8 456v1M1507.8 461v1M1507.8 487v2M1580.2 243v2M1580.2 254v1M1580.2 264v1M1580.2 269v1M1580.2 275v1M1580.2 326v1M1580.2 329v1M1580.2 332v1M1580.2 350v1M1580.2 377v2M1580.2 381v1M1580.2 391v1M1580.2 498v2M1580.2 516v2M1580.2 524v2M1580.2 527v1M1580.2 529v2M1580.2 534v1M1580.2 537v1M1580.2 544v1M1580.2 548v2M1580.2 578v1M1580.2 584v1M1580.2 589v1M1580.2 595v1M1580.2 598v1M1580.2 600v1M1580.2 608v1M1580.2 611v6M1580.2 623v1M1580.2 625v1M1580.2 627v1M1580.2 636v1M1580.2 638v2M1580.2 651v4M1580.2 657v1M1580.2 666v1M1580.2 669v1M1580.2 671v1M1580.2 677v1M1580.2 683v3M1580.2 687v2M1580.2 703v1M1580.2 710v1M1580.2 726v1M1580.2 728v1M1580.2 730v2M1580.2 737v1M1580.2 742v4M1580.2 748v1M1580.2 755v1M1580.2 792v2M1580.2 798v4M1580.2 805v1M1652.6 266v1M1652.6 270v1M1652.6 273v1M1652.6 307v1M1652.6 410v1M1652.6 483v1M1652.6 521v1M1652.6 523v1M1652.6 549v1M1652.6 554v1M1652.6 557v1M1652.6 566v1M1652.6 578v1M1652.6 584v1M1652.6 587v2M1652.6 594v1M1652.6 598v3M1652.6 624v3M1652.6 628v1M1652.6 638v1M1652.6 642v1M1652.6 648v6M1652.6 656v3M1652.6 664v1M1652.6 669v1M1652.6 674v1M1652.6 685v1M1652.6 688v1M1652.6 691v2M1652.6 694v1M1652.6 699v3M1652.6 721v1M1652.6 726v1M1652.6 728v1M1652.6 735v4M1652.6 742v3M1652.6 747v2M1652.6 750v1M1652.6 752v1M1652.6 755v2M1652.6 759v1M1652.6 761v2M1652.6 766v1M1652.6 768v1M1652.6 770v2M1652.6 773v1M1652.6 795v1M1652.6 797v1M1652.6 799v1M1652.6 801v3M1725.1 244v1M1725.1 257v1M1725.1 267v1M1725.1 269v1M1725.1 275v1M1725.1 278v2M1725.1 428v1M1725.1 521v1M1725.1 525v1M1725.1 527v3M1725.1 533v1M1725.1 544v1M1725.1 550v1M1725.1 568v1M1725.1 581v1M1725.1 583v1M1725.1 595v1M1725.1 597v1M1725.1 609v1M1725.1 611v1M1725.1 613v1M1725.1 626v1M1725.1 629v1M1725.1 631v2M1725.1 634v1M1725.1 653v2M1725.1 656v1M1725.1 659v1M1725.1 661v2M1725.1 664v1M1725.1 667v3M1725.1 690v3M1725.1 694v2M1725.1 697v1M1725.1 702v1M1725.1 709v1M1725.1 711v1M1725.1 713v2M1725.1 716v1M1725.1 720v1M1725.1 724v1M1725.1 727v3M1725.1 735v2M1725.1 739v3M1725.1 743v2M1725.1 748v1M1725.1 752v1M1725.1 758v2M1725.1 762v1M1725.1 769v3M1725.1 773v1M1725.1 780v1M1725.1 788v3M1725.1 797v1M1725.1 799v1M1725.1 801v1M1797.5 33v1M1797.5 37v1M1797.5 82v4M1797.5 99v1M1797.5 101v2M1797.5 104v4M1797.5 111v1M1797.5 118v1M1797.5 120v1M1797.5 125v2M1797.5 135v1M1797.5 138v1M1797.5 142v1M1797.5 148v4M1797.5 154v2M1797.5 158v3M1797.5 183v1M1797.5 189v1M1797.5 192v1M1797.5 194v1M1797.5 197v2M1797.5 215v1M1797.5 224v1M1797.5 227v2M1797.5 377v1M1797.5 391v2M1797.5 394v1M1797.5 396v1M1797.5 403v1M1797.5 411v1M1797.5 414v3M1797.5 421v1M1797.5 444v1M1797.5 450v2M1797.5 457v3M1797.5 463v1M1797.5 466v1M1797.5 472v1M1797.5 476v1M1797.5 488v2M1797.5 491v2M1797.5 495v1M1797.5 499v1M1797.5 501v1M1797.5 513v1M1797.5 532v2M1797.5 565v1M1797.5 579v1M1797.5 581v2M1797.5 602v1M1797.5 612v1M1797.5 620v2M1797.5 647v1M1797.5 745v2M1797.5 750v1M1869.9 79v1M1869.9 81v2M1869.9 93v2M1869.9 96v1M1869.9 99v2M1869.9 138v1M1869.9 150v1M1869.9 155v1M1869.9 159v1M1869.9 188v1M1869.9 191v1M1869.9 205v1M1869.9 211v1M1869.9 218v1M1869.9 220v2M1869.9 224v1M1869.9 234v1M1869.9 400v1M1869.9 409v2M1869.9 413v2M1869.9 433v1M1869.9 444v1M1869.9 456v1M1869.9 461v2M1869.9 465v2M1869.9 471v3M1869.9 478v1M1869.9 483v1M1869.9 487v2M1869.9 491v1M1869.9 495v1M1869.9 498v1M1869.9 500v1M1869.9 509v2M1869.9 512v1M1869.9 515v2M1869.9 523v3M1869.9 527v1M1869.9 537v2M1869.9 540v1M1869.9 548v1M1869.9 552v1M1869.9 566v2M1869.9 594v1M1869.9 596v2M1869.9 601v1M1869.9 611v2M1869.9 617v1M1869.9 625v1M1869.9 631v2M1869.9 635v4M1869.9 640v1M1869.9 647v1M1869.9 660v1M1869.9 709v1M1869.9 712v1M1869.9 715v1M1869.9 721v3M1869.9 735v1M1869.9 737v1M1869.9 799v2M1869.9 803v1M1942.3 37v1M1942.3 48v1M1942.3 50v1M1942.3 52v1M1942.3 72v1M1942.3 79v1M1942.3 82v1M1942.3 96v1M1942.3 100v1M1942.3 103v1M1942.3 108v1M1942.3 114v2M1942.3 117v1M1942.3 127v1M1942.3 130v1M1942.3 133v1M1942.3 135v1M1942.3 139v1M1942.3 165v1M1942.3 170v1M1942.3 172v1M1942.3 183v3M1942.3 194v2M1942.3 211v1M1942.3 213v1M1942.3 215v1M1942.3 221v3M1942.3 226v1M1942.3 228v1M1942.3 393v1M1942.3 395v1M1942.3 399v1M1942.3 403v2M1942.3 407v2M1942.3 410v2M1942.3 415v1M1942.3 425v2M1942.3 429v1M1942.3 431v2M1942.3 436v2M1942.3 440v1M1942.3 444v3M1942.3 449v1M1942.3 457v2M1942.3 461v2M1942.3 471v1M1942.3 473v1M1942.3 478v1M1942.3 482v2M1942.3 486v3M1942.3 491v2M1942.3 501v2M1942.3 509v1M1942.3 518v1M1942.3 521v1M1942.3 524v1M1942.3 528v1M1942.3 533v1M1942.3 536v1M1942.3 544v1M1942.3 548v1M1942.3 550v2M1942.3 563v2M1942.3 568v3M1942.3 608v1M1942.3 611v2M1942.3 618v1M1942.3 622v2M1942.3 633v1M1942.3 711v1M1942.3 798v1M1942.3 800v2"/>
<path stroke="#260f38" d="M1145.6 8v2M1145.6 12v3M1145.6 32v2M1145.6 36v1M1145.6 46v1M1145.6 51v1M1145.6 59v1M1145.6 63v4M1145.6 78v1M1145.6 81v2M1145.6 85v1M1145.6 87v2M1145.6 94v5M1145.6 101v1M1145.6 103v1M1145.6 106v1M1145.6 110v1M1145.6 119v1M1145.6 123v1M1145.6 131v1M1145.6 133v7M1145.6 154v1M1145.6 157v4M1145.6 174v1M1145.6 181v2M1145.6 189v2M1145.6 193v1M1145.6 196v1M1145.6 212v1M1145.6 228v2M1145.6 263v1M1145.6 266v1M1145.6 268v2M1145.6 271v1M1145.6 299v2M1145.6 302v1M1145.6 313v2M1145.6 316v7M1145.6 326v1M1145.6 329v1M1145.6 337v1M1145.6 340v2M1145.6 344v1M1145.6 353v2M1145.6 367v3M1145.6 371v1M1145.6 381v1M1145.6 387v1M1145.6 389v1M1145.6 479v2M1145.6 484v1M1218.0 8v1M1218.0 11v1M1218.0 20v2M1218.0 26v1M1218.0 41v1M1218.0 54v1M1218.0 59v1M1218.0 62v1M1218.0 70v1M1218.0 74v1M1218.0 77v4M1218.0 93v1M1218.0 97v1M1218.0 100v1M1218.0 105v1M1218.0 112v1M1218.0 115v2M1218.0 119v1M1218.0 124v1M1218.0 129v1M1218.0 132v4M1218.0 138v1M1218.0 140v1M1218.0 144v1M1218.0 153v1M1218.0 157v1M1218.0 179v1M1218.0 182v1M1218.0 184v1M1218.0 186v3M1218.0 194v2M1218.0 197v1M1218.0 213v1M1218.0 215v1M1218.0 221v3M1218.0 252v1M1218.0 254v3M1218.0 259v1M1218.0 288v1M1218.0 305v1M1218.0 307v1M1218.0 309v1M1218.0 338v2M1218.0 341v3M1218.0 346v1M1218.0 367v1M1218.0 373v2M1218.0 377v1M1218.0 379v2M1218.0 603v1M1218.0 636v1M1218.0 640v1M1218.0 644v2M1218.0 647v1M1218.0 651v1M1218.0 654v1M1290.5 17v1M1290.5 40v2M1290.5 44v2M1290.5 48v1M1290.5 50v1M1290.5 54v1M1290.5 69v1M1290.5 71v1M1290.5 74v1M1290.5 78v1M1290.5 81v1M1290.5 84v3M1290.5 89v1M1290.5 92v1M1290.5 97v3M1290.5 101v1M1290.5 109v1M1290.5 116v1M1290.5 119v2M1290.5 128v2M1290.5 146v1M1290.5 156v1M1290.5 174v1M1290.5 179v1M1290.5 183v1M1290.5 185v1M1290.5 187v1M1290.5 189v1M1290.5 195v1M1290.5 198v1M1290.5 201v1M1290.5 211v1M1290.5 245v1M1290.5 247v1M1290.5 250v1M1290.5 254v1M1290.5 270v1M1290.5 287v1M1290.5 289v1M1290.5 294v2M1290.5 297v3M1290.5 301v1M1290.5 303v1M1290.5 305v1M1290.5 313v2M1290.5 320v1M1290.5 322v1M1290.5 324v2M1290.5 329v1M1290.5 332v1M1290.5 336v1M1290.5 348v1M1290.5 351v1M1290.5 360v1M1290.5 362v4M1290.5 370v1M1290.5 373v2M1290.5 376v1M1290.5 378v1M1290.5 380v2M1290.5 605v1M1290.5 613v1M1290.5 615v1M1290.5 617v1M1290.5 619v1M1290.5 622v1M1290.5 626v1M1290.5 628v3M1290.5 637v1M1290.5 639v1M1290.5 652v2M1290.5 658v1M1290.5 660v1M1362.9 16v1M1362.9 23v1M1362.9 29v1M1362.9 33v1M1362.9 37v1M1362.9 40v1M1362.9 43v2M1362.9 49v4M1362.9 57v4M1362.9 72v1M1362.9 77v1M1362.9 82v1M1362.9 114v1M1362.9 116v1M1362.9 121v1M1362.9 124v1M1362.9 128v1M1362.9 130v1M1362.9 135v2M1362.9 153v1M1362.9 174v1M1362.9 182v1M1362.9 199v3M1362.9 215v1M1362.9 217v5M1362.9 228v1M1362.9 268v1M1362.9 271v2M1362.9 284v1M1362.9 287v2M1362.9 291v1M1362.9 293v1M1362.9 296v1M1362.9 300v1M1362.9 309v1M1362.9 330v1M1362.9 332v2M1362.9 348v1M1362.9 354v1M1362.9 362v4M1362.9 394v1M1362.9 414v2M1362.9 418v1M1362.9 424v2M1362.9 428v1M1362.9 432v1M1362.9 436v3M1362.9 441v1M1362.9 443v6M1362.9 454v2M1362.9 457v1M1362.9 466v1M1362.9 470v1M1362.9 472v2M1362.9 479v4M1362.9 484v1M1362.9 486v1M1362.9 492v2M1362.9 495v1M1362.9 498v1M1362.9 503v1M1362.9 526v3M1362.9 532v1M1362.9 534v1M1362.9 547v1M1362.9 550v1M1362.9 566v1M1362.9 743v1M1362.9 799v1M1362.9 802v1M1362.9 804v2M1435.3 13v2M1435.3 17v1M1435.3 19v4M1435.3 29v1M1435.3 37v1M1435.3 46v1M1435.3 50v2M1435.3 57v3M1435.3 62v2M1435.3 72v1M1435.3 77v4M1435.3 83v1M1435.3 87v1M1435.3 89v1M1435.3 91v1M1435.3 93v1M1435.3 95v1M1435.3 120v1M1435.3 128v1M1435.3 130v1M1435.3 133v1M1435.3 144v1M1435.3 151v4M1435.3 156v1M1435.3 159v1M1435.3 175v2M1435.3 178v1M1435.3 180v1M1435.3 183v2M1435.3 188v1M1435.3 195v1M1435.3 200v1M1435.3 203v3M1435.3 213v1M1435.3 215v1M1435.3 221v1M1435.3 223v1M1435.3 229v1M1435.3 301v1M1435.3 328v1M1435.3 393v2M1435.3 399v2M1435.3 402v1M1435.3 412v1M1435.3 416v1M1435.3 424v1M1435.3 426v1M1435.3 432v2M1435.3 440v1M1435.3 448v1M1435.3 452v2M1435.3 455v1M1435.3 463v7M1435.3 474v4M1435.3 480v2M1435.3 488v1M1435.3 497v1M1435.3 501v3M1435.3 508v1M1435.3 511v2M1435.3 518v5M1435.3 524v1M1435.3 533v1M1435.3 535v1M1435.3 538v1M1435.3 541v2M1435.3 552v3M1435.3 558v2M1435.3 570v1M1435.3 776v1M1435.3 801v1M1435.3 803v1M1435.3 805v1M1507.8 19v2M1507.8 22v2M1507.8 36v2M1507.8 46v2M1507.8 49v1M1507.8 51v2M1507.8 58v6M1507.8 67v2M1507.8 72v2M1507.8 76v1M1507.8 82v1M1507.8 84v1M1507.8 86v1M1507.8 88v1M1507.8 91v1M1507.8 94v1M1507.8 96v1M1507.8 101v1M1507.8 107v1M1507.8 111v1M1507.8 114v2M1507.8 122v2M1507.8 128v2M1507.8 135v2M1507.8 141v2M1507.8 164v1M1507.8 202v1M1507.8 212v1M1507.8 214v1M1507.8 220v1M1507.8 230v1M1507.8 233v1M1507.8 235v1M1507.8 242v1M1507.8 253v4M1507.8 258v1M1507.8 263v3M1507.8 270v3M1507.8 274v3M1507.8 285v1M1507.8 295v1M1507.8 302v1M1507.8 317v1M1507.8 324v3M1507.8 331v2M1507.8 344v2M1507.8 348v2M1507.8 352v2M1507.8 355v1M1507.8 372v1M1507.8 376v1M1507.8 395v3M1507.8 399v1M1507.8 402v1M1507.8 447v1M1507.8 450v1M1507.8 454v2M1507.8 458v1M1507.8 460v1M1507.8 462v1M1507.8 467v1M1507.8 473v1M1507.8 493v1M1507.8 545v1M1507.8 548v4M1507.8 563v1M1507.8 568v1M1507.8 717v1M1507.8 800v1M1580.2 242v1M1580.2 245v1M1580.2 248v1M1580.2 251v2M1580.2 257v1M1580.2 262v2M1580.2 277v3M1580.2 313v1M1580.2 327v2M1580.2 348v1M1580.2 351v7M1580.2 361v1M1580.2 375v1M1580.2 379v1M1580.2 393v1M1580.2 411v1M1580.2 486v1M1580.2 497v1M1580.2 500v3M1580.2 506v1M1580.2 512v2M1580.2 515v1M1580.2 519v2M1580.2 528v1M1580.2 531v1M1580.2 533v1M1580.2 535v1M1580.2 539v1M1580.2 542v1M1580.2 545v2M1580.2 552v2M1580.2 579v1M1580.2 583v1M1580.2 585v1M1580.2 588v1M1580.2 594v1M1580.2 597v1M1580.2 599v1M1580.2 601v1M1580.2 603v3M1580.2 609v1M1580.2 617v3M1580.2 622v1M1580.2 626v1M1580.2 628v1M1580.2 632v2M1580.2 635v1M1580.2 637v1M1580.2 646v1M1580.2 648v1M1580.2 650v1M1580.2 655v2M1580.2 663v1M1580.2 665v1M1580.2 667v1M1580.2 670v1M1580.2 674v3M1580.2 678v2M1580.2 686v1M1580.2 689v1M1580.2 692v2M1580.2 695v1M1580.2 699v1M1580.2 701v2M1580.2 706v1M1580.2 708v1M1580.2 713v2M1580.2 720v2M1580.2 723v1M1580.2 727v1M1580.2 729v1M1580.2 758v2M1580.2 761v1M1580.2 766v2M1580.2 772v1M1580.2 785v1M1580.2 791v1M1580.2 794v3M1580.2 804v1M1652.6 134v1M1652.6 257v1M1652.6 263v3M1652.6 267v1M1652.6 274v1M1652.6 321v2M1652.6 330v4M1652.6 342v1M1652.6 344v1M1652.6 366v5M1652.6 388v1M1652.6 409v1M1652.6 411v1M1652.6 428v1M1652.6 441v1M1652.6 446v2M1652.6 452v1M1652.6 519v2M1652.6 522v1M1652.6 526v2M1652.6 529v4M1652.6 534v1M1652.6 545v1M1652.6 548v1M1652.6 552v1M1652.6 555v1M1652.6 558v1M1652.6 562v1M1652.6 564v2M1652.6 567v1M1652.6 579v1M1652.6 583v1M1652.6 585v1M1652.6 593v1M1652.6 595v3M1652.6 603v1M1652.6 605v1M1652.6 612v2M1652.6 622v2M1652.6 629v1M1652.6 633v1M1652.6 637v1M1652.6 639v3M1652.6 643v1M1652.6 654v2M1652.6 659v4M1652.6 665v1M1652.6 668v1M1652.6 675v1M1652.6 679v1M1652.6 689v2M1652.6 693v1M1652.6 702v2M1652.6 707v4M1652.6 722v1M1652.6 724v1M1652.6 727v1M1652.6 730v1M1652.6 732v1M1652.6 734v1M1652.6 758v1M1652.6 760v1M1652.6 763v1M1652.6 765v1M1652.6 769v1M1652.6 774v1M1652.6 778v2M1652.6 783v2M1652.6 786v3M1652.6 790v2M1652.6 793v2M1652.6 796v1M1652.6 800v1M1652.6 804v2M1725.1 243v1M1725.1 252v4M1725.1 258v1M1725.1 260v3M1725.1 268v1M1725.1 276v2M1725.1 280v1M1725.1 282v2M1725.1 325v1M1725.1 332v4M1725.1 342v1M1725.1 349v1M1725.1 351v2M1725.1 365v2M1725.1 368v1M1725.1 370v1M1725.1 381v1M1725.1 410v2M1725.1 414v1M1725.1 426v2M1725.1 429v2M1725.1 446v1M1725.1 506v1M1725.1 520v1M1725.1 534v1M1725.1 540v3M1725.1 545v3M1725.1 551v1M1725.1 572v1M1725.1 580v1M1725.1 586v1M1725.1 588v1M1725.1 596v1M1725.1 601v1M1725.1 605v2M1725.1 610v1M1725.1 612v1M1725.1 616v1M1725.1 622v1M1725.1 630v1M1725.1 633v1M1725.1 635v2M1725.1 638v2M1725.1 647v5M1725.1 670v4M1725.1 676v5M1725.1 684v3M1725.1 689v1M1725.1 693v1M1725.1 696v1M1725.1 704v1M1725.1 707v2M1725.1 712v1M1725.1 719v1M1725.1 721v1M1725.1 723v1M1725.1 725v2M1725.1 738v1M1725.1 742v1M1725.1 745v1M1725.1 750v1M1725.1 753v1M1725.1 760v1M1725.1 763v2M1725.1 766v1M1725.1 774v2M1725.1 793v1M1725.1 795v2M1725.1 798v1M1725.1 800v1M1797.5 32v1M1797.5 35v1M1797.5 38v1M1797.5 49v1M1797.5 53v1M1797.5 60v1M1797.5 75v1M1797.5 79v1M1797.5 86v1M1797.5 88v1M1797.5 92v4M1797.5 97v1M1797.5 108v3M1797.5 112v4M1797.5 117v1M1797.5 119v1M1797.5 127v2M1797.5 130v2M1797.5 133v2M1797.5 136v1M1797.5 144v3M1797.5 157v1M1797.5 161v2M1797.5 165v1M1797.5 170v3M1797.5 180v2M1797.5 184v5M1797.5 199v2M1797.5 204v4M1797.5 214v1M1797.5 216v2M1797.5 222v2M1797.5 225v2M1797.5 329v1M1797.5 373v1M1797.5 376v1M1797.5 379v3M1797.5 390v1M1797.5 393v1M1797.5 395v1M1797.5 397v3M1797.5 401v2M1797.5 404v1M1797.5 417v1M1797.5 422v1M1797.5 425v1M1797.5 439v3M1797.5 443v1M1797.5 447v1M1797.5 449v1M1797.5 452v3M1797.5 460v1M1797.5 462v1M1797.5 465v1M1797.5 467v1M1797.5 471v1M1797.5 479v1M1797.5 481v2M1797.5 486v1M1797.5 490v1M1797.5 496v1M1797.5 502v2M1797.5 507v4M1797.5 512v1M1797.5 515v2M1797.5 518v4M1797.5 523v1M1797.5 525v3M1797.5 529v3M1797.5 534v2M1797.5 550v1M1797.5 559v1M1797.5 563v1M1797.5 566v1M1797.5 578v1M1797.5 580v1M1797.5 583v1M1797.5 593v4M1797.5 600v2M1797.5 608v4M1797.5 613v1M1797.5 616v1M1797.5 623v1M1797.5 627v1M1797.5 633v3M1797.5 643v1M1797.5 645v1M1797.5 648v1M1797.5 743v2M1797.5 751v1M1797.5 767v1M1797.5 785v1M1869.9 23v1M1869.9 27v1M1869.9 34v5M1869.9 48v2M1869.9 60v1M1869.9 66v1M1869.9 75v1M1869.9 78v1M1869.9 83v1M1869.9 85v1M1869.9 87v1M1869.9 89v2M1869.9 92v1M1869.9 101v1M1869.9 111v1M1869.9 121v7M1869.9 136v2M1869.9 142v1M1869.9 145v1M1869.9 148v2M1869.9 153v2M1869.9 158v1M1869.9 160v1M1869.9 162v1M1869.9 184v1M1869.9 186v2M1869.9 189v2M1869.9 192v1M1869.9 196v1M1869.9 204v1M1869.9 206v1M1869.9 209v1M1869.9 213v1M1869.9 216v2M1869.9 219v1M1869.9 222v2M1869.9 225v1M1869.9 228v2M1869.9 292v1M1869.9 390v4M1869.9 395v1M1869.9 399v1M1869.9 401v1M1869.9 403v1M1869.9 411v2M1869.9 415v1M1869.9 420v1M1869.9 430v2M1869.9 434v1M1869.9 438v2M1869.9 441v1M1869.9 443v1M1869.9 446v1M1869.9 457v1M1869.9 459v2M1869.9 467v1M1869.9 470v1M1869.9 476v1M1869.9 479v3M1869.9 489v1M1869.9 492v2M1869.9 496v2M1869.9 499v1M1869.9 503v1M1869.9 507v2M1869.9 511v1M1869.9 517v2M1869.9 520v2M1869.9 526v1M1869.9 528v2M1869.9 539v1M1869.9 541v1M1869.9 543v1M1869.9 551v1M1869.9 556v1M1869.9 560v1M1869.9 564v2M1869.9 569v2M1869.9 572v1M1869.9 579v2M1869.9 587v2M1869.9 599v2M1869.9 602v1M1869.9 608v3M1869.9 613v1M1869.9 615v2M1869.9 619v1M1869.9 621v1M1869.9 624v1M1869.9 626v1M1869.9 628v1M1869.9 713v1M1869.9 716v2M1869.9 719v2M1869.9 724v1M1869.9 730v1M1869.9 733v2M1869.9 738v3M1869.9 743v2M1869.9 760v1M1869.9 762v2M1869.9 773v3M1869.9 796v3M1869.9 801v2M1869.9 804v1M1942.3 14v1M1942.3 16v1M1942.3 23v1M1942.3 33v4M1942.3 51v1M1942.3 71v1M1942.3 73v3M1942.3 78v1M1942.3 81v1M1942.3 101v2M1942.3 116v1M1942.3 128v2M1942.3 132v1M1942.3 147v1M1942.3 164v1M1942.3 166v2M1942.3 169v1M1942.3 193v1M1942.3 201v1M1942.3 203v3M1942.3 212v1M1942.3 214v1M1942.3 217v1M1942.3 220v1M1942.3 224v2M1942.3 392v1M1942.3 396v3M1942.3 401v2M1942.3 405v1M1942.3 416v1M1942.3 427v2M1942.3 441v3M1942.3 448v1M1942.3 454v3M1942.3 459v1M1942.3 465v1M1942.3 467v1M1942.3 480v2M1942.3 484v2M1942.3 489v1M1942.3 519v1M1942.3 522v2M1942.3 525v3M1942.3 530v1M1942.3 532v1M1942.3 535v1M1942.3 545v1M1942.3 549v1M1942.3 554v3M1942.3 565v1M1942.3 580v1M1942.3 585v2M1942.3 593v4M1942.3 598v1M1942.3 601v2M1942.3 604v1M1942.3 606v2M1942.3 609v2M1942.3 615v3M1942.3 619v3M1942.3 627v1M1942.3 631v2M1942.3 646v1M1942.3 709v1M1942.3 749v1M1942.3 763v1M1942.3 797v1M1942.3 799v1"/>
<path stroke="#1b0d28" d="M1145.6 17v3M1145.6 21v1M1145.6 31v1M1145.6 34v2M1145.6 41v1M1145.6 44v2M1145.6 47v3M1145.6 52v1M1145.6 55v2M1145.6 67v1M1145.6 70v2M1145.6 86v1M1145.6 91v1M1145.6 99v2M1145.6 105v1M1145.6 107v2M1145.6 125v1M1145.6 130v1M1145.6 132v1M1145.6 144v1M1145.6 163v1M1145.6 176v4M1145.6 191v1M1145.6 194v1M1145.6 197v3M1145.6 204v4M1145.6 264v2M1145.6 325v1M1145.6 327v2M1145.6 338v2M1145.6 349v4M1145.6 358v3M1145.6 362v4M1145.6 370v1M1145.6 372v1M1145.6 376v3M1145.6 392v3M1145.6 476v1M1145.6 478v1M1145.6 482v2M1145.6 488v1M1145.6 494v2M1145.6 625v3M1145.6 634v2M1145.6 637v2M1145.6 695v1M1145.6 698v2M1145.6 749v1M1145.6 802v1M1218.0 9v2M1218.0 15v2M1218.0 18v1M1218.0 28v1M1218.0 30v1M1218.0 32v1M1218.0 44v2M1218.0 47v1M1218.0 55v2M1218.0 66v1M1218.0 76v1M1218.0 91v1M1218.0 94v1M1218.0 96v1M1218.0 98v2M1218.0 108v4M1218.0 113v1M1218.0 130v2M1218.0 136v1M1218.0 176v3M1218.0 192v2M1218.0 196v1M1218.0 198v2M1218.0 201v1M1218.0 208v3M1218.0 212v1M1218.0 214v1M1218.0 216v1M1218.0 226v2M1218.0 251v1M1218.0 258v1M1218.0 260v1M1218.0 262v1M1218.0 284v2M1218.0 289v1M1218.0 292v1M1218.0 306v1M1218.0 308v1M1218.0 310v1M1218.0 315v4M1218.0 335v2M1218.0 344v1M1218.0 356v1M1218.0 358v1M1218.0 368v1M1218.0 372v1M1218.0 381v2M1218.0 388v1M1218.0 552v1M1218.0 561v1M1218.0 646v1M1290.5 34v4M1290.5 39v1M1290.5 43v1M1290.5 47v1M1290.5 51v2M1290.5 55v1M1290.5 72v2M1290.5 75v3M1290.5 79v2M1290.5 87v2M1290.5 90v2M1290.5 93v3M1290.5 105v4M1290.5 138v3M1290.5 144v1M1290.5 147v1M1290.5 178v1M1290.5 184v1M1290.5 186v1M1290.5 192v1M1290.5 196v2M1290.5 200v1M1290.5 208v3M1290.5 217v1M1290.5 221v1M1290.5 246v1M1290.5 249v1M1290.5 286v1M1290.5 300v1M1290.5 304v1M1290.5 312v1M1290.5 327v1M1290.5 330v1M1290.5 333v3M1290.5 352v1M1290.5 371v2M1290.5 377v1M1290.5 382v1M1290.5 607v1M1290.5 614v1M1290.5 618v1M1290.5 620v1M1290.5 623v2M1290.5 627v1M1290.5 631v2M1290.5 641v3M1290.5 646v6M1290.5 654v3M1290.5 757v1M1362.9 14v1M1362.9 34v2M1362.9 41v1M1362.9 53v4M1362.9 61v4M1362.9 71v1M1362.9 75v1M1362.9 78v1M1362.9 89v1M1362.9 115v1M1362.9 125v3M1362.9 144v1M1362.9 149v1M1362.9 175v1M1362.9 177v3M1362.9 183v1M1362.9 192v2M1362.9 195v2M1362.9 229v1M1362.9 242v2M1362.9 254v1M1362.9 262v2M1362.9 265v1M1362.9 269v2M1362.9 273v2M1362.9 282v2M1362.9 286v1M1362.9 289v2M1362.9 295v1M1362.9 297v3M1362.9 301v3M1362.9 308v1M1362.9 319v1M1362.9 321v1M1362.9 324v1M1362.9 326v3M1362.9 331v1M1362.9 342v1M1362.9 352v1M1362.9 366v2M1362.9 387v4M1362.9 392v2M1362.9 409v1M1362.9 413v1M1362.9 420v1M1362.9 422v1M1362.9 426v1M1362.9 429v3M1362.9 433v1M1362.9 435v1M1362.9 439v1M1362.9 449v1M1362.9 471v1M1362.9 477v1M1362.9 491v1M1362.9 546v1M1362.9 548v2M1362.9 551v1M1362.9 746v1M1362.9 749v1M1362.9 796v3M1435.3 16v1M1435.3 18v1M1435.3 28v1M1435.3 33v1M1435.3 40v1M1435.3 42v4M1435.3 47v1M1435.3 56v1M1435.3 64v1M1435.3 67v2M1435.3 70v1M1435.3 73v1M1435.3 75v2M1435.3 81v2M1435.3 117v3M1435.3 123v3M1435.3 127v1M1435.3 177v1M1435.3 189v2M1435.3 196v2M1435.3 199v1M1435.3 201v1M1435.3 217v1M1435.3 219v1M1435.3 241v1M1435.3 244v1M1435.3 247v1M1435.3 252v2M1435.3 268v1M1435.3 283v1M1435.3 292v1M1435.3 300v1M1435.3 321v1M1435.3 329v1M1435.3 332v1M1435.3 355v3M1435.3 366v1M1435.3 368v1M1435.3 387v1M1435.3 389v4M1435.3 395v1M1435.3 401v1M1435.3 403v1M1435.3 405v1M1435.3 410v2M1435.3 413v3M1435.3 417v2M1435.3 420v2M1435.3 423v1M1435.3 425v1M1435.3 428v1M1435.3 439v1M1435.3 442v1M1435.3 444v1M1435.3 446v1M1435.3 449v1M1435.3 451v1M1435.3 454v1M1435.3 456v4M1435.3 462v1M1435.3 473v1M1435.3 478v1M1435.3 485v1M1435.3 489v2M1435.3 500v1M1435.3 504v3M1435.3 513v3M1435.3 536v1M1435.3 555v1M1435.3 557v1M1435.3 563v6M1435.3 571v1M1435.3 622v1M1435.3 658v1M1435.3 750v1M1435.3 764v2M1435.3 770v1M1435.3 772v1M1435.3 775v1M1435.3 777v1M1435.3 781v3M1435.3 785v2M1435.3 790v1M1435.3 792v1M1435.3 795v1M1435.3 800v1M1435.3 802v1M1507.8 15v4M1507.8 21v1M1507.8 30v1M1507.8 35v1M1507.8 45v1M1507.8 53v3M1507.8 64v2M1507.8 69v3M1507.8 74v1M1507.8 81v1M1507.8 87v1M1507.8 89v2M1507.8 95v1M1507.8 98v1M1507.8 110v1M1507.8 116v1M1507.8 119v3M1507.8 124v4M1507.8 131v3M1507.8 143v1M1507.8 162v2M1507.8 165v1M1507.8 172v5M1507.8 200v2M1507.8 203v2M1507.8 207v5M1507.8 213v1M1507.8 222v1M1507.8 225v4M1507.8 231v1M1507.8 248v1M1507.8 257v1M1507.8 262v1M1507.8 266v1M1507.8 269v1M1507.8 273v1M1507.8 277v2M1507.8 294v1M1507.8 310v2M1507.8 318v1M1507.8 320v2M1507.8 323v1M1507.8 330v1M1507.8 333v3M1507.8 338v1M1507.8 340v4M1507.8 351v1M1507.8 363v1M1507.8 366v1M1507.8 371v1M1507.8 377v1M1507.8 387v6M1507.8 394v1M1507.8 398v1M1507.8 401v1M1507.8 405v1M1507.8 407v4M1507.8 432v2M1507.8 438v1M1507.8 443v2M1507.8 446v1M1507.8 452v2M1507.8 457v1M1507.8 459v1M1507.8 463v3M1507.8 468v5M1507.8 474v3M1507.8 485v2M1507.8 489v1M1507.8 495v1M1507.8 540v1M1507.8 544v1M1507.8 547v1M1507.8 552v1M1507.8 554v7M1507.8 562v1M1507.8 572v1M1507.8 797v3M1507.8 801v1M1507.8 803v1M1507.8 805v1M1580.2 230v1M1580.2 247v1M1580.2 249v1M1580.2 255v1M1580.2 258v2M1580.2 261v1M1580.2 265v1M1580.2 267v2M1580.2 276v1M1580.2 280v4M1580.2 291v1M1580.2 294v1M1580.2 296v3M1580.2 300v3M1580.2 309v2M1580.2 312v1M1580.2 315v1M1580.2 321v1M1580.2 324v1M1580.2 330v2M1580.2 333v3M1580.2 341v1M1580.2 344v1M1580.2 346v2M1580.2 349v1M1580.2 358v3M1580.2 362v1M1580.2 364v3M1580.2 369v6M1580.2 376v1M1580.2 380v1M1580.2 392v1M1580.2 410v1M1580.2 412v1M1580.2 420v1M1580.2 426v1M1580.2 428v2M1580.2 487v1M1580.2 490v2M1580.2 504v1M1580.2 507v5M1580.2 514v1M1580.2 518v1M1580.2 532v1M1580.2 538v1M1580.2 540v1M1580.2 543v1M1580.2 547v1M1580.2 582v1M1580.2 586v1M1580.2 596v1M1580.2 602v1M1580.2 607v1M1580.2 610v1M1580.2 620v2M1580.2 629v3M1580.2 634v1M1580.2 640v1M1580.2 642v1M1580.2 644v2M1580.2 647v1M1580.2 668v1M1580.2 680v3M1580.2 690v2M1580.2 694v1M1580.2 696v1M1580.2 698v1M1580.2 700v1M1580.2 704v2M1580.2 707v1M1580.2 711v2M1580.2 715v1M1580.2 719v1M1580.2 760v1M1580.2 765v1M1580.2 768v1M1580.2 773v2M1580.2 781v1M1580.2 786v5M1580.2 802v1M1652.6 135v1M1652.6 227v1M1652.6 241v1M1652.6 245v1M1652.6 255v2M1652.6 260v3M1652.6 268v2M1652.6 275v1M1652.6 277v1M1652.6 279v1M1652.6 285v2M1652.6 313v3M1652.6 320v1M1652.6 323v1M1652.6 325v1M1652.6 329v1M1652.6 334v1M1652.6 345v1M1652.6 347v1M1652.6 349v1M1652.6 351v2M1652.6 365v1M1652.6 371v1M1652.6 412v3M1652.6 417v1M1652.6 420v3M1652.6 429v2M1652.6 432v2M1652.6 436v1M1652.6 438v1M1652.6 440v1M1652.6 442v1M1652.6 445v1M1652.6 451v1M1652.6 453v1M1652.6 476v1M1652.6 484v1M1652.6 486v2M1652.6 493v1M1652.6 495v1M1652.6 517v1M1652.6 524v2M1652.6 528v1M1652.6 533v1M1652.6 537v1M1652.6 541v3M1652.6 546v1M1652.6 553v1M1652.6 560v2M1652.6 563v1M1652.6 582v1M1652.6 586v1M1652.6 601v1M1652.6 604v1M1652.6 608v1M1652.6 611v1M1652.6 614v3M1652.6 619v3M1652.6 630v3M1652.6 634v3M1652.6 644v4M1652.6 663v1M1652.6 667v1M1652.6 676v3M1652.6 680v1M1652.6 684v1M1652.6 704v3M1652.6 713v2M1652.6 723v1M1652.6 729v1M1652.6 731v1M1652.6 733v1M1652.6 745v1M1652.6 775v3M1652.6 780v3M1652.6 789v1M1652.6 798v1M1725.1 10v1M1725.1 47v1M1725.1 83v1M1725.1 85v1M1725.1 98v1M1725.1 198v1M1725.1 213v1M1725.1 246v1M1725.1 248v2M1725.1 256v1M1725.1 259v1M1725.1 274v1M1725.1 281v1M1725.1 291v1M1725.1 294v1M1725.1 304v2M1725.1 312v3M1725.1 324v1M1725.1 329v3M1725.1 341v1M1725.1 343v3M1725.1 350v1M1725.1 353v2M1725.1 361v2M1725.1 364v1M1725.1 367v1M1725.1 372v2M1725.1 379v2M1725.1 382v1M1725.1 412v2M1725.1 415v1M1725.1 431v3M1725.1 436v2M1725.1 439v1M1725.1 445v1M1725.1 447v1M1725.1 483v1M1725.1 486v2M1725.1 498v1M1725.1 501v2M1725.1 507v1M1725.1 513v2M1725.1 535v3M1725.1 543v1M1725.1 548v1M1725.1 604v1M1725.1 607v2M1725.1 614v2M1725.1 617v5M1725.1 637v1M1725.1 642v3M1725.1 675v1M1725.1 681v2M1725.1 705v2M1725.1 715v1M1725.1 717v2M1725.1 722v1M1725.1 730v1M1725.1 732v3M1725.1 737v1M1725.1 754v3M1725.1 765v1M1725.1 794v1M1797.5 31v1M1797.5 39v1M1797.5 41v1M1797.5 48v1M1797.5 50v2M1797.5 55v1M1797.5 59v1M1797.5 67v1M1797.5 69v1M1797.5 73v1M1797.5 77v2M1797.5 96v1M1797.5 116v1M1797.5 129v1M1797.5 132v1M1797.5 137v1M1797.5 139v2M1797.5 143v1M1797.5 147v1M1797.5 166v1M1797.5 169v1M1797.5 174v1M1797.5 182v1M1797.5 193v1M1797.5 201v3M1797.5 209v2M1797.5 212v2M1797.5 218v1M1797.5 220v2M1797.5 245v1M1797.5 303v1M1797.5 374v1M1797.5 378v1M1797.5 389v1M1797.5 418v3M1797.5 426v1M1797.5 428v3M1797.5 433v1M1797.5 435v4M1797.5 442v1M1797.5 445v2M1797.5 448v1M1797.5 455v1M1797.5 461v1M1797.5 468v1M1797.5 470v1M1797.5 480v1M1797.5 483v3M1797.5 497v1M1797.5 504v2M1797.5 511v1M1797.5 528v1M1797.5 556v3M1797.5 560v2M1797.5 564v1M1797.5 567v1M1797.5 584v6M1797.5 591v1M1797.5 597v1M1797.5 599v1M1797.5 603v2M1797.5 606v1M1797.5 614v2M1797.5 622v1M1797.5 625v2M1797.5 628v2M1797.5 631v2M1797.5 642v1M1797.5 644v1M1797.5 650v4M1797.5 703v2M1797.5 706v1M1797.5 709v1M1797.5 711v2M1797.5 714v2M1797.5 725v1M1797.5 742v1M1797.5 752v4M1797.5 757v1M1797.5 760v1M1797.5 762v4M1797.5 769v1M1797.5 780v1M1797.5 784v1M1797.5 787v1M1797.5 789v1M1869.9 15v5M1869.9 21v2M1869.9 25v1M1869.9 28v2M1869.9 33v1M1869.9 39v1M1869.9 47v1M1869.9 50v2M1869.9 53v2M1869.9 57v1M1869.9 61v2M1869.9 67v4M1869.9 73v2M1869.9 76v2M1869.9 80v1M1869.9 86v1M1869.9 91v1M1869.9 102v1M1869.9 104v2M1869.9 107v1M1869.9 113v2M1869.9 118v1M1869.9 128v1M1869.9 134v2M1869.9 140v2M1869.9 143v2M1869.9 146v2M1869.9 151v1M1869.9 161v1M1869.9 165v1M1869.9 185v1M1869.9 197v1M1869.9 200v2M1869.9 203v1M1869.9 207v1M1869.9 210v1M1869.9 212v1M1869.9 214v2M1869.9 389v1M1869.9 394v1M1869.9 396v2M1869.9 402v1M1869.9 404v1M1869.9 416v2M1869.9 419v1M1869.9 422v1M1869.9 424v3M1869.9 429v1M1869.9 432v1M1869.9 435v1M1869.9 440v1M1869.9 442v1M1869.9 458v1M1869.9 468v1M1869.9 477v1M1869.9 484v2M1869.9 490v1M1869.9 501v2M1869.9 519v1M1869.9 522v1M1869.9 530v1M1869.9 533v1M1869.9 536v1M1869.9 544v1M1869.9 546v2M1869.9 550v1M1869.9 553v1M1869.9 557v1M1869.9 559v1M1869.9 561v3M1869.9 568v1M1869.9 571v1M1869.9 578v1M1869.9 581v1M1869.9 585v2M1869.9 593v1M1869.9 595v1M1869.9 598v1M1869.9 606v2M1869.9 620v1M1869.9 629v2M1869.9 670v1M1869.9 674v1M1869.9 690v1M1869.9 692v1M1869.9 697v2M1869.9 704v2M1869.9 707v2M1869.9 725v3M1869.9 732v1M1869.9 741v1M1869.9 745v1M1869.9 754v1M1869.9 758v2M1869.9 765v1M1869.9 768v1M1869.9 772v1M1869.9 776v1M1869.9 782v1M1869.9 789v2M1869.9 795v1M1869.9 805v1M1942.3 8v3M1942.3 12v2M1942.3 15v1M1942.3 22v1M1942.3 24v2M1942.3 28v1M1942.3 32v1M1942.3 38v2M1942.3 43v1M1942.3 46v2M1942.3 53v1M1942.3 56v2M1942.3 60v5M1942.3 66v1M1942.3 70v1M1942.3 76v2M1942.3 80v1M1942.3 141v1M1942.3 173v1M1942.3 176v2M1942.3 181v1M1942.3 199v2M1942.3 202v1M1942.3 208v1M1942.3 389v1M1942.3 394v1M1942.3 406v1M1942.3 417v6M1942.3 424v1M1942.3 447v1M1942.3 452v2M1942.3 468v3M1942.3 490v1M1942.3 520v1M1942.3 547v1M1942.3 559v2M1942.3 562v1M1942.3 566v1M1942.3 579v1M1942.3 581v1M1942.3 583v1M1942.3 587v1M1942.3 599v2M1942.3 603v1M1942.3 613v1M1942.3 624v2M1942.3 628v1M1942.3 648v1M1942.3 672v1M1942.3 705v1M1942.3 712v4M1942.3 721v2M1942.3 737v1M1942.3 748v1M1942.3 750v2M1942.3 764v1M1942.3 778v3M1942.3 782v4M1942.3 790v1M1942.3 802v2"/>
<path stroke="#100b18" d="M1145.6 15v2M1145.6 20v1M1145.6 22v1M1145.6 37v3M1145.6 42v1M1145.6 53v1M1145.6 68v2M1145.6 72v3M1145.6 77v1M1145.6 79v2M1145.6 109v1M1145.6 141v1M1145.6 143v1M1145.6 200v2M1145.6 203v1M1145.6 252v1M1145.6 323v2M1145.6 356v2M1145.6 366v1M1145.6 390v2M1145.6 448v1M1145.6 450v2M1145.6 469v1M1145.6 473v3M1145.6 477v1M1145.6 481v1M1145.6 485v3M1145.6 489v2M1145.6 628v4M1145.6 633v1M1145.6 636v1M1145.6 639v1M1145.6 646v1M1145.6 648v1M1145.6 668v3M1145.6 677v1M1145.6 694v1M1145.6 696v1M1145.6 700v3M1145.6 722v1M1145.6 742v1M1145.6 745v2M1145.6 801v1M1145.6 803v1M1145.6 805v1M1218.0 12v1M1218.0 14v1M1218.0 29v1M1218.0 33v3M1218.0 40v1M1218.0 43v1M1218.0 48v1M1218.0 50v3M1218.0 63v1M1218.0 67v3M1218.0 71v3M1218.0 137v1M1218.0 191v1M1218.0 204v2M1218.0 250v1M1218.0 261v1M1218.0 272v2M1218.0 275v3M1218.0 280v3M1218.0 287v1M1218.0 298v2M1218.0 319v1M1218.0 321v2M1218.0 325v1M1218.0 328v2M1218.0 332v3M1218.0 337v1M1218.0 348v2M1218.0 354v1M1218.0 357v1M1218.0 359v8M1218.0 369v3M1218.0 387v1M1218.0 392v1M1218.0 394v1M1218.0 683v1M1218.0 699v1M1218.0 730v1M1218.0 751v2M1218.0 754v3M1290.5 21v1M1290.5 38v1M1290.5 42v1M1290.5 49v1M1290.5 53v1M1290.5 96v1M1290.5 130v1M1290.5 132v1M1290.5 142v1M1290.5 182v1M1290.5 188v1M1290.5 190v1M1290.5 193v2M1290.5 202v4M1290.5 207v1M1290.5 212v4M1290.5 220v1M1290.5 227v1M1290.5 242v3M1290.5 248v1M1290.5 296v1M1290.5 302v1M1290.5 323v1M1290.5 328v1M1290.5 474v2M1290.5 478v2M1290.5 550v1M1290.5 601v2M1290.5 604v1M1290.5 606v1M1290.5 608v1M1290.5 621v1M1290.5 640v1M1290.5 657v1M1290.5 673v1M1290.5 681v1M1290.5 711v1M1290.5 746v7M1290.5 754v3M1290.5 801v2M1362.9 9v2M1362.9 24v3M1362.9 28v1M1362.9 42v1M1362.9 74v1M1362.9 76v1M1362.9 79v2M1362.9 180v2M1362.9 184v1M1362.9 186v3M1362.9 194v1M1362.9 197v2M1362.9 244v2M1362.9 247v4M1362.9 253v1M1362.9 258v1M1362.9 266v2M1362.9 275v1M1362.9 277v1M1362.9 279v3M1362.9 294v1M1362.9 304v4M1362.9 310v1M1362.9 317v1M1362.9 320v1M1362.9 323v1M1362.9 325v1M1362.9 335v1M1362.9 349v3M1362.9 353v1M1362.9 355v1M1362.9 360v2M1362.9 391v1M1362.9 395v2M1362.9 399v4M1362.9 417v1M1362.9 423v1M1362.9 434v1M1362.9 474v3M1362.9 478v1M1362.9 494v1M1362.9 535v2M1362.9 540v1M1362.9 544v1M1362.9 553v1M1362.9 652v1M1362.9 654v3M1362.9 660v1M1362.9 728v1M1362.9 742v1M1362.9 747v2M1362.9 750v2M1362.9 781v3M1362.9 788v1M1362.9 795v1M1435.3 12v1M1435.3 23v4M1435.3 41v1M1435.3 49v1M1435.3 52v4M1435.3 69v1M1435.3 71v1M1435.3 74v1M1435.3 96v1M1435.3 121v2M1435.3 198v1M1435.3 218v1M1435.3 242v2M1435.3 249v1M1435.3 251v1M1435.3 254v1M1435.3 258v1M1435.3 263v1M1435.3 274v1M1435.3 289v3M1435.3 293v1M1435.3 296v4M1435.3 303v1M1435.3 324v1M1435.3 326v2M1435.3 330v1M1435.3 335v1M1435.3 349v2M1435.3 358v2M1435.3 367v1M1435.3 372v1M1435.3 406v2M1435.3 409v1M1435.3 419v1M1435.3 422v1M1435.3 429v1M1435.3 431v1M1435.3 434v5M1435.3 443v1M1435.3 445v1M1435.3 447v1M1435.3 470v3M1435.3 486v1M1435.3 491v1M1435.3 507v1M1435.3 537v1M1435.3 560v1M1435.3 562v1M1435.3 621v1M1435.3 652v1M1435.3 656v2M1435.3 659v1M1435.3 661v1M1435.3 728v1M1435.3 742v2M1435.3 751v1M1435.3 760v3M1435.3 766v1M1435.3 768v2M1435.3 771v1M1435.3 773v2M1435.3 779v1M1435.3 784v1M1435.3 787v3M1435.3 794v1M1435.3 796v4M1507.8 24v1M1507.8 27v3M1507.8 31v2M1507.8 34v1M1507.8 40v2M1507.8 44v1M1507.8 77v4M1507.8 83v1M1507.8 106v1M1507.8 117v2M1507.8 144v5M1507.8 150v1M1507.8 156v3M1507.8 160v2M1507.8 166v1M1507.8 169v1M1507.8 177v1M1507.8 185v2M1507.8 191v2M1507.8 199v1M1507.8 205v2M1507.8 215v5M1507.8 223v2M1507.8 259v1M1507.8 314v2M1507.8 319v1M1507.8 322v1M1507.8 336v1M1507.8 356v1M1507.8 368v1M1507.8 370v1M1507.8 378v1M1507.8 393v1M1507.8 400v1M1507.8 406v1M1507.8 411v2M1507.8 427v1M1507.8 430v1M1507.8 435v3M1507.8 439v1M1507.8 442v1M1507.8 445v1M1507.8 451v1M1507.8 466v1M1507.8 477v1M1507.8 479v2M1507.8 483v1M1507.8 490v3M1507.8 494v1M1507.8 496v1M1507.8 499v1M1507.8 509v1M1507.8 511v1M1507.8 514v1M1507.8 538v2M1507.8 541v3M1507.8 546v1M1507.8 553v1M1507.8 561v1M1507.8 564v2M1507.8 567v1M1507.8 569v3M1507.8 709v1M1507.8 716v1M1507.8 718v1M1507.8 743v1M1507.8 750v2M1507.8 792v1M1507.8 795v2M1507.8 802v1M1507.8 804v1M1580.2 43v2M1580.2 78v1M1580.2 112v1M1580.2 137v1M1580.2 233v1M1580.2 246v1M1580.2 256v1M1580.2 260v1M1580.2 289v1M1580.2 299v1M1580.2 303v1M1580.2 306v3M1580.2 311v1M1580.2 320v1M1580.2 322v2M1580.2 338v1M1580.2 342v1M1580.2 345v1M1580.2 367v2M1580.2 382v1M1580.2 389v2M1580.2 394v2M1580.2 405v1M1580.2 413v3M1580.2 421v2M1580.2 425v1M1580.2 427v1M1580.2 430v3M1580.2 437v3M1580.2 443v1M1580.2 446v1M1580.2 475v1M1580.2 485v1M1580.2 489v1M1580.2 495v2M1580.2 503v1M1580.2 505v1M1580.2 541v1M1580.2 551v1M1580.2 555v1M1580.2 580v2M1580.2 641v1M1580.2 697v1M1580.2 716v3M1580.2 724v2M1580.2 763v1M1580.2 770v2M1580.2 778v2M1580.2 782v1M1580.2 784v1M1652.6 92v2M1652.6 131v3M1652.6 137v1M1652.6 160v1M1652.6 163v1M1652.6 167v1M1652.6 174v1M1652.6 242v1M1652.6 248v1M1652.6 259v1M1652.6 276v1M1652.6 278v1M1652.6 280v4M1652.6 287v1M1652.6 289v8M1652.6 308v5M1652.6 316v1M1652.6 319v1M1652.6 324v1M1652.6 326v1M1652.6 328v1M1652.6 335v1M1652.6 338v1M1652.6 341v1M1652.6 343v1M1652.6 346v1M1652.6 350v1M1652.6 353v2M1652.6 359v1M1652.6 361v2M1652.6 372v1M1652.6 415v2M1652.6 418v1M1652.6 423v5M1652.6 431v1M1652.6 434v2M1652.6 439v1M1652.6 443v1M1652.6 448v3M1652.6 454v1M1652.6 457v1M1652.6 475v1M1652.6 481v2M1652.6 485v1M1652.6 490v1M1652.6 494v1M1652.6 497v1M1652.6 499v1M1652.6 518v1M1652.6 535v2M1652.6 539v1M1652.6 547v1M1652.6 550v1M1652.6 559v1M1652.6 568v4M1652.6 581v1M1652.6 606v2M1652.6 609v2M1652.6 617v2M1652.6 666v1M1652.6 681v1M1652.6 683v1M1652.6 687v1M1652.6 712v1M1652.6 719v2M1652.6 764v1M1725.1 9v1M1725.1 11v2M1725.1 20v1M1725.1 81v1M1725.1 84v1M1725.1 86v1M1725.1 93v1M1725.1 95v1M1725.1 97v1M1725.1 134v1M1725.1 143v2M1725.1 192v1M1725.1 247v1M1725.1 250v2M1725.1 289v2M1725.1 292v2M1725.1 295v2M1725.1 298v1M1725.1 300v4M1725.1 306v2M1725.1 317v1M1725.1 323v1M1725.1 326v1M1725.1 336v4M1725.1 347v2M1725.1 355v1M1725.1 357v2M1725.1 363v1M1725.1 369v1M1725.1 371v1M1725.1 374v3M1725.1 378v1M1725.1 409v1M1725.1 416v2M1725.1 420v1M1725.1 422v2M1725.1 425v1M1725.1 434v2M1725.1 438v1M1725.1 440v1M1725.1 443v2M1725.1 484v1M1725.1 488v1M1725.1 497v1M1725.1 499v1M1725.1 503v3M1725.1 508v3M1725.1 512v1M1725.1 515v5M1725.1 538v2M1725.1 554v1M1725.1 556v1M1725.1 602v2M1725.1 640v2M1725.1 645v2M1725.1 674v1M1725.1 731v1M1797.5 22v2M1797.5 29v1M1797.5 40v1M1797.5 42v3M1797.5 46v2M1797.5 52v1M1797.5 54v1M1797.5 56v3M1797.5 61v3M1797.5 66v1M1797.5 68v1M1797.5 70v2M1797.5 80v2M1797.5 141v1M1797.5 163v2M1797.5 167v2M1797.5 173v1M1797.5 176v2M1797.5 211v1M1797.5 219v1M1797.5 382v1M1797.5 387v2M1797.5 423v1M1797.5 427v1M1797.5 431v1M1797.5 434v1M1797.5 469v1M1797.5 477v1M1797.5 537v5M1797.5 543v1M1797.5 552v1M1797.5 554v2M1797.5 562v1M1797.5 568v2M1797.5 590v1M1797.5 598v1M1797.5 607v1M1797.5 624v1M1797.5 630v1M1797.5 636v1M1797.5 641v1M1797.5 649v1M1797.5 654v1M1797.5 672v1M1797.5 681v1M1797.5 691v2M1797.5 695v1M1797.5 698v1M1797.5 705v1M1797.5 708v1M1797.5 710v1M1797.5 713v1M1797.5 716v2M1797.5 719v1M1797.5 727v1M1797.5 756v1M1797.5 766v1M1797.5 768v1M1797.5 774v1M1797.5 779v1M1797.5 781v2M1797.5 786v1M1797.5 788v1M1797.5 790v1M1797.5 799v3M1869.9 8v1M1869.9 20v1M1869.9 24v1M1869.9 26v1M1869.9 30v3M1869.9 46v1M1869.9 52v1M1869.9 55v2M1869.9 58v2M1869.9 63v2M1869.9 71v2M1869.9 88v1M1869.9 103v1M1869.9 106v1M1869.9 108v1M1869.9 110v1M1869.9 112v1M1869.9 115v1M1869.9 117v1M1869.9 119v2M1869.9 129v1M1869.9 131v1M1869.9 133v1M1869.9 139v1M1869.9 152v1M1869.9 163v2M1869.9 166v1M1869.9 172v1M1869.9 193v3M1869.9 198v2M1869.9 202v1M1869.9 208v1M1869.9 387v1M1869.9 398v1M1869.9 405v2M1869.9 418v1M1869.9 423v1M1869.9 428v1M1869.9 437v1M1869.9 447v1M1869.9 504v1M1869.9 506v1M1869.9 531v2M1869.9 535v1M1869.9 545v1M1869.9 549v1M1869.9 554v2M1869.9 558v1M1869.9 582v1M1869.9 584v1M1869.9 589v1M1869.9 591v2M1869.9 603v3M1869.9 614v1M1869.9 622v2M1869.9 662v1M1869.9 664v2M1869.9 671v3M1869.9 675v4M1869.9 681v1M1869.9 689v1M1869.9 691v1M1869.9 693v4M1869.9 728v2M1869.9 742v1M1869.9 746v2M1869.9 750v2M1869.9 755v1M1869.9 761v1M1869.9 766v2M1869.9 777v2M1869.9 783v1M1869.9 787v2M1869.9 791v2M1869.9 794v1M1942.3 11v1M1942.3 17v5M1942.3 27v1M1942.3 29v2M1942.3 40v1M1942.3 42v1M1942.3 44v2M1942.3 54v1M1942.3 58v1M1942.3 65v1M1942.3 67v1M1942.3 69v1M1942.3 124v1M1942.3 126v1M1942.3 140v1M1942.3 175v1M1942.3 179v2M1942.3 182v1M1942.3 210v1M1942.3 387v2M1942.3 391v1M1942.3 423v1M1942.3 557v1M1942.3 561v1M1942.3 567v1M1942.3 578v1M1942.3 582v1M1942.3 584v1M1942.3 588v3M1942.3 592v1M1942.3 597v1M1942.3 605v1M1942.3 614v1M1942.3 626v1M1942.3 629v2M1942.3 634v2M1942.3 638v4M1942.3 643v3M1942.3 653v1M1942.3 671v1M1942.3 673v2M1942.3 696v3M1942.3 704v1M1942.3 706v3M1942.3 716v1M1942.3 719v1M1942.3 725v1M1942.3 734v1M1942.3 740v1M1942.3 745v3M1942.3 754v1M1942.3 758v2M1942.3 761v2M1942.3 765v1M1942.3 769v1M1942.3 776v1M1942.3 781v1M1942.3 786v2M1942.3 789v1M1942.3 791v1M1942.3 793v1M1942.3 796v1M1942.3 804v2"/>
<path stroke="#070703" d="M1145.6 23v3M1145.6 27v1M1145.6 43v1M1145.6 50v1M1145.6 54v1M1145.6 75v1M1145.6 142v1M1145.6 202v1M1145.6 253v1M1145.6 355v1M1145.6 438v1M1145.6 449v1M1145.6 452v2M1145.6 463v1M1145.6 470v1M1145.6 493v1M1145.6 537v3M1145.6 548v1M1145.6 551v1M1145.6 624v1M1145.6 632v1M1145.6 642v4M1145.6 647v1M1145.6 662v1M1145.6 666v2M1145.6 671v1M1145.6 674v3M1145.6 678v1M1145.6 680v1M1145.6 683v1M1145.6 697v1M1145.6 706v1M1145.6 708v3M1145.6 717v3M1145.6 723v2M1145.6 747v2M1145.6 750v1M1145.6 757v1M1145.6 796v1M1145.6 800v1M1145.6 804v1M1218.0 13v1M1218.0 31v1M1218.0 36v4M1218.0 42v1M1218.0 53v1M1218.0 64v2M1218.0 95v1M1218.0 141v1M1218.0 143v1M1218.0 190v1M1218.0 200v1M1218.0 203v1M1218.0 207v1M1218.0 228v1M1218.0 241v2M1218.0 244v2M1218.0 248v2M1218.0 263v4M1218.0 269v1M1218.0 274v1M1218.0 279v1M1218.0 283v1M1218.0 286v1M1218.0 293v5M1218.0 301v1M1218.0 303v2M1218.0 312v3M1218.0 320v1M1218.0 323v2M1218.0 326v2M1218.0 330v2M1218.0 350v1M1218.0 352v1M1218.0 355v1M1218.0 389v1M1218.0 391v1M1218.0 393v1M1218.0 407v2M1218.0 458v1M1218.0 461v3M1218.0 484v1M1218.0 490v1M1218.0 495v1M1218.0 527v1M1218.0 684v1M1218.0 710v2M1218.0 744v6M1218.0 805v1M1290.5 131v1M1290.5 133v5M1290.5 143v1M1290.5 216v1M1290.5 219v1M1290.5 222v1M1290.5 226v1M1290.5 241v1M1290.5 331v1M1290.5 450v2M1290.5 459v5M1290.5 476v1M1290.5 484v1M1290.5 585v1M1290.5 603v1M1290.5 644v2M1290.5 677v1M1290.5 680v1M1290.5 685v1M1290.5 699v1M1290.5 708v1M1290.5 712v1M1290.5 719v1M1290.5 736v1M1290.5 739v1M1290.5 742v1M1290.5 745v1M1290.5 753v1M1290.5 766v1M1290.5 793v1M1290.5 803v1M1362.9 8v1M1362.9 12v1M1362.9 27v1M1362.9 73v1M1362.9 189v3M1362.9 246v1M1362.9 251v2M1362.9 255v2M1362.9 261v1M1362.9 276v1M1362.9 278v1M1362.9 311v1M1362.9 314v3M1362.9 334v1M1362.9 337v5M1362.9 343v5M1362.9 356v3M1362.9 368v1M1362.9 372v1M1362.9 377v1M1362.9 380v1M1362.9 397v2M1362.9 403v2M1362.9 407v1M1362.9 419v1M1362.9 537v2M1362.9 542v2M1362.9 552v1M1362.9 580v1M1362.9 605v1M1362.9 653v1M1362.9 657v1M1362.9 659v1M1362.9 661v1M1362.9 680v1M1362.9 729v3M1362.9 741v1M1362.9 744v2M1362.9 761v1M1362.9 763v1M1362.9 771v5M1362.9 779v2M1362.9 784v1M1362.9 789v1M1362.9 792v3M1435.3 9v2M1435.3 27v1M1435.3 48v1M1435.3 165v1M1435.3 246v1M1435.3 248v1M1435.3 250v1M1435.3 257v1M1435.3 262v1M1435.3 265v1M1435.3 272v2M1435.3 279v4M1435.3 285v4M1435.3 294v2M1435.3 302v1M1435.3 304v6M1435.3 319v2M1435.3 323v1M1435.3 325v1M1435.3 334v1M1435.3 336v2M1435.3 342v1M1435.3 348v1M1435.3 351v4M1435.3 370v1M1435.3 374v1M1435.3 408v1M1435.3 430v1M1435.3 487v1M1435.3 561v1M1435.3 604v2M1435.3 608v1M1435.3 623v1M1435.3 653v3M1435.3 660v1M1435.3 697v2M1435.3 701v1M1435.3 731v2M1435.3 739v1M1435.3 744v2M1435.3 749v1M1435.3 752v1M1435.3 757v3M1435.3 767v1M1435.3 778v1M1435.3 780v1M1435.3 791v1M1435.3 793v1M1507.8 26v1M1507.8 33v1M1507.8 42v2M1507.8 48v1M1507.8 138v1M1507.8 149v1M1507.8 152v4M1507.8 159v1M1507.8 167v1M1507.8 170v2M1507.8 178v1M1507.8 183v2M1507.8 193v3M1507.8 198v1M1507.8 229v1M1507.8 260v2M1507.8 268v1M1507.8 312v2M1507.8 316v1M1507.8 337v1M1507.8 339v1M1507.8 357v2M1507.8 360v3M1507.8 367v1M1507.8 369v1M1507.8 379v3M1507.8 426v1M1507.8 428v1M1507.8 431v1M1507.8 434v1M1507.8 440v2M1507.8 478v1M1507.8 481v2M1507.8 484v1M1507.8 497v1M1507.8 501v1M1507.8 503v1M1507.8 508v1M1507.8 513v1M1507.8 515v2M1507.8 537v1M1507.8 566v1M1507.8 635v1M1507.8 669v1M1507.8 671v4M1507.8 700v1M1507.8 704v1M1507.8 706v1M1507.8 712v4M1507.8 737v1M1507.8 739v1M1507.8 741v2M1507.8 744v1M1507.8 793v1M1580.2 11v1M1580.2 21v1M1580.2 39v4M1580.2 45v1M1580.2 48v1M1580.2 59v2M1580.2 76v2M1580.2 86v1M1580.2 88v1M1580.2 92v1M1580.2 113v2M1580.2 119v1M1580.2 134v1M1580.2 136v1M1580.2 151v1M1580.2 165v3M1580.2 175v1M1580.2 183v1M1580.2 231v1M1580.2 234v1M1580.2 250v1M1580.2 284v3M1580.2 292v1M1580.2 314v1M1580.2 317v1M1580.2 319v1M1580.2 336v2M1580.2 339v1M1580.2 343v1M1580.2 363v1M1580.2 387v2M1580.2 396v1M1580.2 398v1M1580.2 406v1M1580.2 419v1M1580.2 423v1M1580.2 436v1M1580.2 440v3M1580.2 444v2M1580.2 447v4M1580.2 452v3M1580.2 473v2M1580.2 476v1M1580.2 478v1M1580.2 483v1M1580.2 493v2M1580.2 554v1M1580.2 606v1M1580.2 643v1M1580.2 762v1M1580.2 764v1M1580.2 769v1M1580.2 776v2M1580.2 780v1M1580.2 783v1M1652.6 21v1M1652.6 23v1M1652.6 39v1M1652.6 77v1M1652.6 94v1M1652.6 119v3M1652.6 125v4M1652.6 130v1M1652.6 152v1M1652.6 156v1M1652.6 159v1M1652.6 162v1M1652.6 165v1M1652.6 168v4M1652.6 177v1M1652.6 180v1M1652.6 182v1M1652.6 184v3M1652.6 195v1M1652.6 199v1M1652.6 230v1M1652.6 234v1M1652.6 243v2M1652.6 247v1M1652.6 249v2M1652.6 253v2M1652.6 284v1M1652.6 297v2M1652.6 300v1M1652.6 305v1M1652.6 318v1M1652.6 336v1M1652.6 339v2M1652.6 355v1M1652.6 357v1M1652.6 360v1M1652.6 363v2M1652.6 373v1M1652.6 381v1M1652.6 419v1M1652.6 444v1M1652.6 455v2M1652.6 460v2M1652.6 464v1M1652.6 466v1M1652.6 473v1M1652.6 477v2M1652.6 488v2M1652.6 491v1M1652.6 498v1M1652.6 509v2M1652.6 512v1M1652.6 514v3M1652.6 538v1M1652.6 551v1M1652.6 580v1M1652.6 682v1M1652.6 711v1M1652.6 715v3M1725.1 8v1M1725.1 14v1M1725.1 21v1M1725.1 44v3M1725.1 76v2M1725.1 82v1M1725.1 87v1M1725.1 94v1M1725.1 96v1M1725.1 99v1M1725.1 126v1M1725.1 135v3M1725.1 140v3M1725.1 184v3M1725.1 188v1M1725.1 284v1M1725.1 287v2M1725.1 297v1M1725.1 309v3M1725.1 315v2M1725.1 318v4M1725.1 327v2M1725.1 340v1M1725.1 346v1M1725.1 356v1M1725.1 359v2M1725.1 395v2M1725.1 406v1M1725.1 408v1M1725.1 419v1M1725.1 421v1M1725.1 424v1M1725.1 441v2M1725.1 448v4M1725.1 462v1M1725.1 480v1M1725.1 482v1M1725.1 485v1M1725.1 489v1M1725.1 491v1M1725.1 500v1M1725.1 555v1M1725.1 624v1M1725.1 776v1M1797.5 19v1M1797.5 21v1M1797.5 24v1M1797.5 45v1M1797.5 64v2M1797.5 72v1M1797.5 74v1M1797.5 175v1M1797.5 178v2M1797.5 244v1M1797.5 246v1M1797.5 252v1M1797.5 298v1M1797.5 320v1M1797.5 432v1M1797.5 506v1M1797.5 517v1M1797.5 522v1M1797.5 536v1M1797.5 542v1M1797.5 544v1M1797.5 551v1M1797.5 553v1M1797.5 570v2M1797.5 605v1M1797.5 637v4M1797.5 656v2M1797.5 661v6M1797.5 669v1M1797.5 671v1M1797.5 673v4M1797.5 680v1M1797.5 682v4M1797.5 689v2M1797.5 693v2M1797.5 696v2M1797.5 699v1M1797.5 702v1M1797.5 707v1M1797.5 718v1M1797.5 720v1M1797.5 722v1M1797.5 724v1M1797.5 728v1M1797.5 731v1M1797.5 733v1M1797.5 735v1M1797.5 740v1M1797.5 758v2M1797.5 761v1M1797.5 770v4M1797.5 775v4M1869.9 11v2M1869.9 14v1M1869.9 40v6M1869.9 109v1M1869.9 116v1M1869.9 130v1M1869.9 132v1M1869.9 167v5M1869.9 174v1M1869.9 176v1M1869.9 178v1M1869.9 182v1M1869.9 285v1M1869.9 305v4M1869.9 310v1M1869.9 312v4M1869.9 318v1M1869.9 331v1M1869.9 388v1M1869.9 427v1M1869.9 436v1M1869.9 505v1M1869.9 583v1M1869.9 590v1M1869.9 663v1M1869.9 666v1M1869.9 668v2M1869.9 680v1M1869.9 682v1M1869.9 687v2M1869.9 699v1M1869.9 701v3M1869.9 706v1M1869.9 736v1M1869.9 748v2M1869.9 752v2M1869.9 756v2M1869.9 769v1M1869.9 771v1M1869.9 779v2M1869.9 784v3M1869.9 793v1M1942.3 26v1M1942.3 41v1M1942.3 68v1M1942.3 131v1M1942.3 163v1M1942.3 174v1M1942.3 178v1M1942.3 206v1M1942.3 209v1M1942.3 591v1M1942.3 637v1M1942.3 642v1M1942.3 647v1M1942.3 651v2M1942.3 654v1M1942.3 662v1M1942.3 664v1M1942.3 669v1M1942.3 675v1M1942.3 677v1M1942.3 693v1M1942.3 695v1M1942.3 703v1M1942.3 710v1M1942.3 717v2M1942.3 723v2M1942.3 727v1M1942.3 729v1M1942.3 733v1M1942.3 736v1M1942.3 738v2M1942.3 741v1M1942.3 743v2M1942.3 752v2M1942.3 755v1M1942.3 760v1M1942.3 766v3M1942.3 771v5M1942.3 777v1M1942.3 788v1M1942.3 792v1M1942.3 794v2"/>
<path stroke="#161603" d="M1145.6 26v1M1145.6 28v3M1145.6 250v2M1145.6 420v1M1145.6 437v1M1145.6 441v1M1145.6 454v1M1145.6 458v3M1145.6 462v1M1145.6 464v3M1145.6 468v1M1145.6 472v1M1145.6 491v2M1145.6 518v1M1145.6 536v1M1145.6 541v1M1145.6 545v1M1145.6 547v1M1145.6 549v2M1145.6 552v1M1145.6 640v2M1145.6 663v1M1145.6 672v2M1145.6 679v1M1145.6 681v2M1145.6 684v1M1145.6 687v1M1145.6 689v3M1145.6 693v1M1145.6 703v1M1145.6 705v1M1145.6 707v1M1145.6 720v2M1145.6 725v1M1145.6 743v2M1145.6 755v2M1145.6 771v1M1145.6 773v2M1145.6 794v1M1145.6 797v1M1145.6 799v1M1218.0 49v1M1218.0 81v1M1218.0 142v1M1218.0 202v1M1218.0 206v1M1218.0 229v1M1218.0 243v1M1218.0 246v2M1218.0 267v2M1218.0 271v1M1218.0 278v1M1218.0 300v1M1218.0 302v1M1218.0 351v1M1218.0 353v1M1218.0 390v1M1218.0 395v1M1218.0 400v4M1218.0 405v2M1218.0 420v1M1218.0 431v1M1218.0 459v2M1218.0 465v3M1218.0 478v1M1218.0 482v2M1218.0 485v1M1218.0 487v3M1218.0 492v1M1218.0 494v1M1218.0 497v1M1218.0 500v1M1218.0 537v1M1218.0 551v1M1218.0 676v2M1218.0 682v1M1218.0 685v1M1218.0 698v1M1218.0 700v2M1218.0 708v1M1218.0 712v1M1218.0 722v3M1218.0 726v1M1218.0 728v2M1218.0 731v1M1218.0 735v1M1218.0 743v1M1218.0 750v1M1218.0 792v2M1218.0 795v1M1218.0 801v4M1290.5 141v1M1290.5 191v1M1290.5 223v3M1290.5 228v2M1290.5 366v1M1290.5 431v1M1290.5 437v2M1290.5 440v1M1290.5 448v2M1290.5 472v2M1290.5 477v1M1290.5 480v1M1290.5 483v1M1290.5 485v1M1290.5 487v1M1290.5 495v1M1290.5 504v1M1290.5 584v1M1290.5 586v2M1290.5 659v1M1290.5 662v2M1290.5 667v2M1290.5 679v1M1290.5 682v3M1290.5 686v5M1290.5 692v2M1290.5 695v1M1290.5 698v1M1290.5 700v1M1290.5 710v1M1290.5 718v1M1290.5 723v2M1290.5 731v2M1290.5 737v2M1290.5 743v2M1290.5 758v1M1290.5 761v1M1290.5 780v1M1290.5 800v1M1290.5 804v2M1362.9 11v1M1362.9 176v1M1362.9 185v1M1362.9 224v1M1362.9 257v1M1362.9 259v2M1362.9 264v1M1362.9 312v2M1362.9 318v1M1362.9 336v1M1362.9 370v2M1362.9 373v2M1362.9 376v1M1362.9 378v1M1362.9 381v1M1362.9 405v1M1362.9 408v1M1362.9 421v1M1362.9 468v1M1362.9 539v1M1362.9 541v1M1362.9 601v1M1362.9 603v2M1362.9 608v1M1362.9 612v1M1362.9 645v1M1362.9 658v1M1362.9 732v1M1362.9 739v1M1362.9 752v1M1362.9 755v2M1362.9 758v3M1362.9 762v1M1362.9 764v2M1362.9 770v1M1362.9 776v3M1362.9 785v3M1362.9 790v1M1435.3 8v1M1435.3 11v1M1435.3 150v1M1435.3 245v1M1435.3 255v2M1435.3 259v3M1435.3 264v1M1435.3 266v1M1435.3 269v3M1435.3 275v4M1435.3 284v1M1435.3 310v1M1435.3 317v1M1435.3 322v1M1435.3 338v4M1435.3 343v1M1435.3 345v3M1435.3 369v1M1435.3 371v1M1435.3 373v1M1435.3 376v1M1435.3 493v1M1435.3 601v3M1435.3 607v1M1435.3 611v2M1435.3 651v1M1435.3 681v1M1435.3 687v1M1435.3 700v1M1435.3 709v1M1435.3 715v1M1435.3 717v1M1435.3 726v1M1435.3 729v2M1435.3 733v1M1435.3 736v2M1435.3 740v1M1435.3 746v3M1435.3 753v1M1507.8 25v1M1507.8 85v1M1507.8 151v1M1507.8 179v3M1507.8 187v4M1507.8 196v1M1507.8 267v1M1507.8 359v1M1507.8 382v1M1507.8 414v1M1507.8 416v1M1507.8 425v1M1507.8 429v1M1507.8 498v1M1507.8 500v1M1507.8 502v1M1507.8 504v2M1507.8 536v1M1507.8 644v2M1507.8 652v5M1507.8 662v1M1507.8 681v1M1507.8 687v2M1507.8 692v2M1507.8 695v1M1507.8 701v2M1507.8 705v1M1507.8 707v2M1507.8 710v1M1507.8 719v3M1507.8 723v3M1507.8 731v3M1507.8 736v1M1507.8 738v1M1507.8 740v1M1507.8 749v1M1507.8 794v1M1580.2 12v1M1580.2 19v2M1580.2 22v2M1580.2 28v3M1580.2 46v2M1580.2 49v1M1580.2 58v1M1580.2 61v1M1580.2 73v1M1580.2 75v1M1580.2 79v1M1580.2 81v1M1580.2 83v3M1580.2 87v1M1580.2 89v1M1580.2 91v1M1580.2 93v2M1580.2 109v3M1580.2 115v2M1580.2 130v4M1580.2 135v1M1580.2 138v2M1580.2 149v2M1580.2 152v2M1580.2 155v2M1580.2 163v2M1580.2 174v1M1580.2 177v1M1580.2 181v2M1580.2 184v4M1580.2 189v1M1580.2 196v1M1580.2 198v1M1580.2 229v1M1580.2 232v1M1580.2 266v1M1580.2 288v1M1580.2 304v2M1580.2 318v1M1580.2 340v1M1580.2 397v1M1580.2 399v1M1580.2 404v1M1580.2 408v1M1580.2 416v2M1580.2 424v1M1580.2 433v3M1580.2 451v1M1580.2 455v1M1580.2 463v1M1580.2 465v1M1580.2 477v1M1580.2 479v4M1580.2 484v1M1580.2 492v1M1580.2 550v1M1580.2 557v1M1580.2 560v1M1580.2 568v2M1580.2 571v1M1652.6 19v2M1652.6 22v1M1652.6 40v2M1652.6 43v1M1652.6 46v1M1652.6 59v3M1652.6 66v1M1652.6 68v2M1652.6 76v1M1652.6 88v1M1652.6 95v1M1652.6 114v3M1652.6 118v1M1652.6 122v3M1652.6 138v1M1652.6 141v4M1652.6 149v3M1652.6 153v3M1652.6 157v1M1652.6 161v1M1652.6 164v1M1652.6 176v1M1652.6 181v1M1652.6 183v1M1652.6 187v1M1652.6 190v1M1652.6 192v3M1652.6 196v3M1652.6 207v1M1652.6 213v1M1652.6 225v1M1652.6 229v1M1652.6 232v2M1652.6 246v1M1652.6 251v1M1652.6 288v1M1652.6 299v1M1652.6 301v1M1652.6 304v1M1652.6 306v1M1652.6 327v1M1652.6 337v1M1652.6 348v1M1652.6 356v1M1652.6 379v2M1652.6 382v1M1652.6 393v1M1652.6 395v3M1652.6 401v1M1652.6 405v1M1652.6 458v2M1652.6 462v2M1652.6 465v1M1652.6 467v4M1652.6 472v1M1652.6 479v2M1652.6 492v1M1652.6 496v1M1652.6 500v3M1652.6 506v1M1652.6 508v1M1652.6 511v1M1652.6 513v1M1652.6 540v1M1652.6 602v1M1652.6 718v1M1725.1 13v1M1725.1 16v2M1725.1 19v1M1725.1 22v2M1725.1 42v2M1725.1 48v3M1725.1 69v1M1725.1 72v1M1725.1 74v2M1725.1 78v3M1725.1 88v2M1725.1 92v1M1725.1 100v1M1725.1 102v1M1725.1 107v1M1725.1 110v1M1725.1 112v10M1725.1 130v4M1725.1 139v1M1725.1 146v1M1725.1 148v3M1725.1 163v2M1725.1 167v2M1725.1 174v2M1725.1 178v1M1725.1 180v1M1725.1 183v1M1725.1 187v1M1725.1 194v2M1725.1 199v1M1725.1 211v1M1725.1 230v3M1725.1 242v1M1725.1 285v2M1725.1 308v1M1725.1 377v1M1725.1 403v2M1725.1 407v1M1725.1 418v1M1725.1 453v1M1725.1 475v1M1725.1 481v1M1725.1 490v1M1725.1 496v1M1725.1 511v1M1725.1 560v2M1797.5 9v1M1797.5 16v3M1797.5 20v1M1797.5 28v1M1797.5 30v1M1797.5 34v1M1797.5 76v1M1797.5 241v3M1797.5 247v2M1797.5 251v1M1797.5 287v2M1797.5 295v3M1797.5 299v3M1797.5 304v1M1797.5 318v2M1797.5 346v1M1797.5 545v1M1797.5 547v3M1797.5 572v1M1797.5 655v1M1797.5 658v3M1797.5 667v1M1797.5 670v1M1797.5 677v3M1797.5 686v3M1797.5 700v1M1797.5 721v1M1797.5 723v1M1797.5 726v1M1797.5 729v2M1797.5 732v1M1797.5 734v1M1797.5 738v1M1797.5 741v1M1797.5 791v1M1797.5 796v1M1797.5 802v2M1869.9 9v2M1869.9 13v1M1869.9 173v1M1869.9 175v1M1869.9 177v1M1869.9 179v3M1869.9 287v2M1869.9 294v1M1869.9 296v1M1869.9 298v4M1869.9 303v2M1869.9 309v1M1869.9 311v1M1869.9 316v2M1869.9 329v2M1869.9 335v2M1869.9 339v1M1869.9 346v3M1869.9 350v1M1869.9 356v2M1869.9 469v1M1869.9 542v1M1869.9 679v1M1869.9 683v3M1869.9 700v1M1869.9 770v1M1869.9 781v1M1942.3 295v2M1942.3 298v4M1942.3 558v1M1942.3 636v1M1942.3 649v2M1942.3 656v2M1942.3 659v2M1942.3 663v1M1942.3 665v2M1942.3 668v1M1942.3 670v1M1942.3 676v1M1942.3 678v7M1942.3 686v1M1942.3 688v4M1942.3 694v1M1942.3 699v2M1942.3 726v1M1942.3 728v1M1942.3 730v3M1942.3 735v1M1942.3 742v1M1942.3 756v1M1942.3 770v1"/>
<path stroke="#252503" d="M1145.6 245v1M1145.6 247v2M1145.6 254v1M1145.6 262v1M1145.6 418v2M1145.6 426v1M1145.6 428v1M1145.6 431v3M1145.6 439v1M1145.6 442v1M1145.6 455v1M1145.6 457v1M1145.6 461v1M1145.6 467v1M1145.6 509v4M1145.6 540v1M1145.6 542v3M1145.6 546v1M1145.6 664v2M1145.6 685v2M1145.6 688v1M1145.6 704v1M1145.6 711v3M1145.6 730v1M1145.6 739v2M1145.6 751v4M1145.6 760v3M1145.6 772v1M1145.6 775v1M1145.6 779v3M1145.6 792v2M1145.6 798v1M1218.0 270v1M1218.0 396v1M1218.0 398v2M1218.0 404v1M1218.0 415v1M1218.0 417v3M1218.0 423v2M1218.0 429v2M1218.0 432v2M1218.0 438v1M1218.0 448v1M1218.0 451v1M1218.0 457v1M1218.0 468v1M1218.0 470v1M1218.0 473v1M1218.0 477v1M1218.0 479v3M1218.0 486v1M1218.0 491v1M1218.0 498v1M1218.0 501v2M1218.0 509v1M1218.0 511v1M1218.0 536v1M1218.0 544v4M1218.0 550v1M1218.0 585v1M1218.0 587v1M1218.0 593v2M1218.0 662v1M1218.0 667v3M1218.0 680v2M1218.0 686v1M1218.0 689v1M1218.0 693v5M1218.0 702v3M1218.0 707v1M1218.0 709v1M1218.0 713v1M1218.0 717v3M1218.0 725v1M1218.0 727v1M1218.0 732v3M1218.0 737v4M1218.0 742v1M1218.0 757v1M1218.0 759v3M1218.0 766v1M1218.0 794v1M1218.0 797v1M1218.0 800v1M1290.5 408v1M1290.5 415v1M1290.5 424v1M1290.5 432v1M1290.5 436v1M1290.5 441v1M1290.5 443v1M1290.5 452v2M1290.5 455v4M1290.5 464v3M1290.5 469v3M1290.5 481v2M1290.5 488v3M1290.5 493v2M1290.5 497v1M1290.5 499v2M1290.5 503v1M1290.5 505v1M1290.5 509v4M1290.5 521v1M1290.5 526v1M1290.5 563v1M1290.5 568v1M1290.5 583v1M1290.5 588v1M1290.5 664v3M1290.5 669v2M1290.5 674v3M1290.5 678v1M1290.5 691v1M1290.5 694v1M1290.5 696v1M1290.5 701v2M1290.5 704v4M1290.5 709v1M1290.5 714v1M1290.5 717v1M1290.5 720v3M1290.5 728v1M1290.5 730v1M1290.5 733v1M1290.5 735v1M1290.5 740v2M1290.5 759v2M1290.5 765v1M1290.5 767v1M1290.5 779v1M1290.5 781v2M1362.9 359v1M1362.9 369v1M1362.9 375v1M1362.9 379v1M1362.9 382v1M1362.9 406v1M1362.9 602v1M1362.9 606v2M1362.9 609v1M1362.9 611v1M1362.9 613v1M1362.9 621v1M1362.9 624v1M1362.9 631v1M1362.9 633v1M1362.9 644v1M1362.9 651v1M1362.9 666v2M1362.9 672v1M1362.9 674v1M1362.9 697v1M1362.9 701v1M1362.9 717v2M1362.9 726v2M1362.9 733v1M1362.9 735v1M1362.9 740v1M1362.9 753v2M1362.9 768v2M1362.9 791v1M1435.3 311v3M1435.3 318v1M1435.3 344v1M1435.3 375v1M1435.3 380v1M1435.3 606v1M1435.3 609v2M1435.3 613v1M1435.3 619v1M1435.3 626v1M1435.3 639v1M1435.3 645v1M1435.3 648v3M1435.3 672v2M1435.3 686v1M1435.3 688v1M1435.3 690v2M1435.3 693v2M1435.3 699v1M1435.3 707v1M1435.3 713v1M1435.3 716v1M1435.3 720v2M1435.3 723v3M1435.3 727v1M1435.3 734v1M1435.3 738v1M1435.3 741v1M1435.3 754v3M1435.3 763v1M1507.8 168v1M1507.8 197v1M1507.8 413v1M1507.8 415v1M1507.8 418v1M1507.8 422v1M1507.8 506v2M1507.8 518v6M1507.8 529v2M1507.8 532v1M1507.8 580v2M1507.8 589v1M1507.8 598v1M1507.8 624v2M1507.8 641v1M1507.8 643v1M1507.8 646v1M1507.8 648v1M1507.8 657v3M1507.8 661v1M1507.8 666v2M1507.8 670v1M1507.8 675v1M1507.8 678v1M1507.8 680v1M1507.8 682v1M1507.8 686v1M1507.8 689v3M1507.8 694v1M1507.8 696v3M1507.8 703v1M1507.8 711v1M1507.8 722v1M1507.8 728v2M1507.8 734v2M1507.8 745v4M1507.8 752v2M1507.8 755v1M1507.8 757v1M1507.8 781v1M1507.8 789v1M1580.2 8v3M1580.2 13v3M1580.2 17v1M1580.2 24v2M1580.2 27v1M1580.2 32v4M1580.2 50v1M1580.2 55v3M1580.2 62v11M1580.2 80v1M1580.2 82v1M1580.2 90v1M1580.2 96v1M1580.2 99v1M1580.2 117v2M1580.2 120v2M1580.2 125v2M1580.2 154v1M1580.2 160v1M1580.2 162v1M1580.2 168v1M1580.2 176v1M1580.2 178v3M1580.2 188v1M1580.2 190v1M1580.2 195v1M1580.2 197v1M1580.2 200v1M1580.2 202v3M1580.2 206v2M1580.2 211v4M1580.2 226v3M1580.2 235v1M1580.2 287v1M1580.2 290v1M1580.2 293v1M1580.2 401v1M1580.2 403v1M1580.2 407v1M1580.2 456v2M1580.2 459v2M1580.2 464v1M1580.2 466v1M1580.2 472v1M1580.2 558v1M1580.2 561v2M1580.2 565v3M1580.2 570v1M1580.2 572v1M1580.2 722v1M1652.6 25v1M1652.6 27v1M1652.6 30v1M1652.6 34v2M1652.6 37v2M1652.6 42v1M1652.6 44v2M1652.6 47v2M1652.6 62v1M1652.6 67v1M1652.6 70v1M1652.6 72v1M1652.6 75v1M1652.6 78v1M1652.6 83v5M1652.6 89v3M1652.6 96v3M1652.6 103v2M1652.6 106v1M1652.6 113v1M1652.6 117v1M1652.6 129v1M1652.6 140v1M1652.6 147v2M1652.6 158v1M1652.6 172v2M1652.6 179v1M1652.6 189v1M1652.6 200v3M1652.6 205v2M1652.6 210v3M1652.6 216v4M1652.6 226v1M1652.6 228v1M1652.6 231v1M1652.6 235v1M1652.6 302v2M1652.6 317v1M1652.6 374v5M1652.6 387v1M1652.6 389v1M1652.6 391v2M1652.6 394v1M1652.6 398v1M1652.6 400v1M1652.6 402v1M1652.6 406v1M1652.6 474v1M1652.6 503v3M1652.6 507v1M1652.6 572v1M1725.1 15v1M1725.1 18v1M1725.1 26v5M1725.1 35v1M1725.1 39v3M1725.1 51v2M1725.1 71v1M1725.1 73v1M1725.1 90v1M1725.1 101v1M1725.1 103v3M1725.1 108v2M1725.1 111v1M1725.1 122v2M1725.1 125v1M1725.1 127v1M1725.1 138v1M1725.1 145v1M1725.1 147v1M1725.1 151v1M1725.1 154v2M1725.1 159v1M1725.1 162v1M1725.1 165v2M1725.1 169v2M1725.1 176v2M1725.1 179v1M1725.1 181v2M1725.1 189v2M1725.1 193v1M1725.1 196v2M1725.1 200v1M1725.1 202v1M1725.1 204v1M1725.1 206v2M1725.1 212v1M1725.1 233v1M1725.1 397v2M1725.1 401v2M1725.1 452v1M1725.1 454v3M1725.1 463v1M1725.1 466v1M1725.1 473v2M1725.1 476v1M1725.1 478v2M1725.1 492v4M1725.1 557v1M1725.1 559v1M1725.1 567v1M1797.5 8v1M1797.5 10v2M1797.5 14v1M1797.5 25v3M1797.5 249v2M1797.5 253v2M1797.5 262v1M1797.5 264v1M1797.5 285v2M1797.5 293v2M1797.5 305v1M1797.5 307v1M1797.5 309v2M1797.5 313v2M1797.5 317v1M1797.5 330v2M1797.5 336v2M1797.5 344v1M1797.5 347v3M1797.5 371v2M1797.5 546v1M1797.5 668v1M1797.5 701v1M1797.5 737v1M1797.5 739v1M1797.5 795v1M1797.5 797v2M1797.5 804v1M1869.9 65v1M1869.9 245v2M1869.9 282v1M1869.9 284v1M1869.9 286v1M1869.9 289v3M1869.9 293v1M1869.9 295v1M1869.9 297v1M1869.9 302v1M1869.9 332v3M1869.9 337v2M1869.9 340v1M1869.9 343v2M1869.9 351v2M1869.9 355v1M1869.9 360v1M1869.9 362v4M1869.9 367v2M1869.9 377v1M1869.9 379v3M1869.9 421v1M1869.9 667v1M1869.9 686v1M1869.9 718v1M1942.3 31v1M1942.3 287v2M1942.3 312v1M1942.3 315v1M1942.3 350v1M1942.3 363v1M1942.3 371v1M1942.3 655v1M1942.3 658v1M1942.3 661v1M1942.3 667v1M1942.3 685v1M1942.3 687v1M1942.3 692v1M1942.3 702v1M1942.3 757v1"/>
<path stroke="#343403" d="M1145.6 40v1M1145.6 246v1M1145.6 249v1M1145.6 413v5M1145.6 423v1M1145.6 425v1M1145.6 427v1M1145.6 429v2M1145.6 434v1M1145.6 436v1M1145.6 440v1M1145.6 445v3M1145.6 456v1M1145.6 471v1M1145.6 497v1M1145.6 500v1M1145.6 508v1M1145.6 513v1M1145.6 525v3M1145.6 530v1M1145.6 553v1M1145.6 556v3M1145.6 567v1M1145.6 579v1M1145.6 586v5M1145.6 599v2M1145.6 602v1M1145.6 605v1M1145.6 612v1M1145.6 617v1M1145.6 714v3M1145.6 728v2M1145.6 731v1M1145.6 735v1M1145.6 737v1M1145.6 741v1M1145.6 758v2M1145.6 763v2M1145.6 766v3M1145.6 770v1M1145.6 777v1M1145.6 782v1M1145.6 795v1M1218.0 311v1M1218.0 397v1M1218.0 409v1M1218.0 414v1M1218.0 416v1M1218.0 422v1M1218.0 425v4M1218.0 434v1M1218.0 436v2M1218.0 443v1M1218.0 447v1M1218.0 449v2M1218.0 452v2M1218.0 456v1M1218.0 474v3M1218.0 493v1M1218.0 499v1M1218.0 503v2M1218.0 512v2M1218.0 515v1M1218.0 538v1M1218.0 540v2M1218.0 548v2M1218.0 553v1M1218.0 558v1M1218.0 563v1M1218.0 567v1M1218.0 579v1M1218.0 584v1M1218.0 586v1M1218.0 588v2M1218.0 592v1M1218.0 663v1M1218.0 670v1M1218.0 673v3M1218.0 678v2M1218.0 687v2M1218.0 690v3M1218.0 705v2M1218.0 720v2M1218.0 736v1M1218.0 741v1M1218.0 758v1M1218.0 762v1M1218.0 765v1M1218.0 768v1M1218.0 771v3M1218.0 776v1M1218.0 779v1M1290.5 403v1M1290.5 405v3M1290.5 414v1M1290.5 420v1M1290.5 423v1M1290.5 429v2M1290.5 433v3M1290.5 439v1M1290.5 442v1M1290.5 444v2M1290.5 447v1M1290.5 467v2M1290.5 491v2M1290.5 496v1M1290.5 498v1M1290.5 501v2M1290.5 506v3M1290.5 514v1M1290.5 522v1M1290.5 525v1M1290.5 527v1M1290.5 531v1M1290.5 536v2M1290.5 549v1M1290.5 551v2M1290.5 558v1M1290.5 561v2M1290.5 564v2M1290.5 578v2M1290.5 589v1M1290.5 594v1M1290.5 671v2M1290.5 697v1M1290.5 703v1M1290.5 713v1M1290.5 715v2M1290.5 725v3M1290.5 729v1M1290.5 734v1M1290.5 764v1M1290.5 768v3M1290.5 773v2M1290.5 776v3M1290.5 783v1M1290.5 785v1M1290.5 787v1M1290.5 796v1M1290.5 799v1M1362.9 581v1M1362.9 610v1M1362.9 616v1M1362.9 618v1M1362.9 622v2M1362.9 625v1M1362.9 630v1M1362.9 632v1M1362.9 643v1M1362.9 646v3M1362.9 650v1M1362.9 662v4M1362.9 681v1M1362.9 696v1M1362.9 698v1M1362.9 708v1M1362.9 716v1M1362.9 734v1M1362.9 736v3M1362.9 757v1M1362.9 766v2M1435.3 267v1M1435.3 314v2M1435.3 378v2M1435.3 381v2M1435.3 450v1M1435.3 578v4M1435.3 584v1M1435.3 599v2M1435.3 615v2M1435.3 618v1M1435.3 624v1M1435.3 627v1M1435.3 630v1M1435.3 633v1M1435.3 635v1M1435.3 638v1M1435.3 640v3M1435.3 644v1M1435.3 646v2M1435.3 662v2M1435.3 666v1M1435.3 668v1M1435.3 671v1M1435.3 674v7M1435.3 682v1M1435.3 684v1M1435.3 689v1M1435.3 692v1M1435.3 695v2M1435.3 708v1M1435.3 710v1M1435.3 712v1M1435.3 714v1M1435.3 718v2M1435.3 722v1M1435.3 735v1M1507.8 419v1M1507.8 421v1M1507.8 423v2M1507.8 510v1M1507.8 517v1M1507.8 524v1M1507.8 526v3M1507.8 531v1M1507.8 578v2M1507.8 585v4M1507.8 591v1M1507.8 604v2M1507.8 607v1M1507.8 615v1M1507.8 617v2M1507.8 621v3M1507.8 627v4M1507.8 637v1M1507.8 639v1M1507.8 642v1M1507.8 647v1M1507.8 651v1M1507.8 664v1M1507.8 676v1M1507.8 679v1M1507.8 683v1M1507.8 685v1M1507.8 699v1M1507.8 726v2M1507.8 730v1M1507.8 754v1M1507.8 756v1M1507.8 758v2M1507.8 762v1M1507.8 768v1M1507.8 770v3M1507.8 783v1M1580.2 18v1M1580.2 31v1M1580.2 37v2M1580.2 51v2M1580.2 74v1M1580.2 95v1M1580.2 97v2M1580.2 104v1M1580.2 106v3M1580.2 122v2M1580.2 129v1M1580.2 140v3M1580.2 144v1M1580.2 147v2M1580.2 157v3M1580.2 161v1M1580.2 169v2M1580.2 194v1M1580.2 199v1M1580.2 201v1M1580.2 205v1M1580.2 208v3M1580.2 215v7M1580.2 225v1M1580.2 400v1M1580.2 402v1M1580.2 418v1M1580.2 458v1M1580.2 461v2M1580.2 468v4M1580.2 563v2M1652.6 8v2M1652.6 11v6M1652.6 18v1M1652.6 24v1M1652.6 26v1M1652.6 28v2M1652.6 32v1M1652.6 36v1M1652.6 49v2M1652.6 58v1M1652.6 63v1M1652.6 65v1M1652.6 71v1M1652.6 73v2M1652.6 79v4M1652.6 99v4M1652.6 105v1M1652.6 107v1M1652.6 110v3M1652.6 136v1M1652.6 145v2M1652.6 188v1M1652.6 191v1M1652.6 203v2M1652.6 208v2M1652.6 215v1M1652.6 220v3M1652.6 224v1M1652.6 390v1M1652.6 399v1M1652.6 403v2M1652.6 407v2M1652.6 471v1M1725.1 25v1M1725.1 34v1M1725.1 37v2M1725.1 53v1M1725.1 55v1M1725.1 65v1M1725.1 67v2M1725.1 70v1M1725.1 91v1M1725.1 106v1M1725.1 124v1M1725.1 128v2M1725.1 152v2M1725.1 156v3M1725.1 160v2M1725.1 171v3M1725.1 201v1M1725.1 205v1M1725.1 208v3M1725.1 214v3M1725.1 218v2M1725.1 221v2M1725.1 224v2M1725.1 227v1M1725.1 229v1M1725.1 234v2M1725.1 322v1M1725.1 399v2M1725.1 405v1M1725.1 458v4M1725.1 464v2M1725.1 467v1M1725.1 558v1M1725.1 562v1M1725.1 564v3M1797.5 13v1M1797.5 261v1M1797.5 263v1M1797.5 284v1M1797.5 289v2M1797.5 292v1M1797.5 302v1M1797.5 308v1M1797.5 311v2M1797.5 315v1M1797.5 321v2M1797.5 326v1M1797.5 328v1M1797.5 334v1M1797.5 338v1M1797.5 340v1M1797.5 350v1M1797.5 352v1M1797.5 357v1M1797.5 366v1M1797.5 370v1M1797.5 736v1M1797.5 792v3M1797.5 805v1M1869.9 244v1M1869.9 251v1M1869.9 253v2M1869.9 320v3M1869.9 326v1M1869.9 341v2M1869.9 345v1M1869.9 349v1M1869.9 353v2M1869.9 358v2M1869.9 361v1M1869.9 369v1M1869.9 371v2M1869.9 378v1M1869.9 382v1M1869.9 534v1M1942.3 55v1M1942.3 59v1M1942.3 245v1M1942.3 263v1M1942.3 272v1M1942.3 285v2M1942.3 294v1M1942.3 297v1M1942.3 310v1M1942.3 313v2M1942.3 316v1M1942.3 330v1M1942.3 348v2M1942.3 351v2M1942.3 360v3M1942.3 364v1M1942.3 366v1M1942.3 372v1M1942.3 701v1M1942.3 720v1"/>
<path stroke="#434303" d="M1145.6 76v1M1145.6 242v2M1145.6 401v1M1145.6 403v3M1145.6 409v1M1145.6 411v2M1145.6 421v2M1145.6 424v1M1145.6 435v1M1145.6 443v2M1145.6 496v1M1145.6 499v1M1145.6 501v4M1145.6 507v1M1145.6 515v1M1145.6 517v1M1145.6 519v2M1145.6 522v3M1145.6 528v2M1145.6 531v5M1145.6 559v1M1145.6 564v1M1145.6 568v1M1145.6 570v3M1145.6 578v1M1145.6 585v1M1145.6 594v1M1145.6 598v1M1145.6 601v1M1145.6 604v1M1145.6 610v1M1145.6 613v1M1145.6 615v2M1145.6 618v1M1145.6 661v1M1145.6 726v2M1145.6 732v3M1145.6 736v1M1145.6 738v1M1145.6 765v1M1145.6 769v1M1145.6 776v1M1145.6 778v1M1218.0 412v1M1218.0 421v1M1218.0 439v1M1218.0 441v2M1218.0 444v3M1218.0 455v1M1218.0 471v2M1218.0 496v1M1218.0 505v1M1218.0 507v2M1218.0 510v1M1218.0 514v1M1218.0 521v2M1218.0 526v1M1218.0 535v1M1218.0 539v1M1218.0 542v2M1218.0 554v2M1218.0 557v1M1218.0 559v2M1218.0 562v1M1218.0 565v2M1218.0 578v1M1218.0 580v4M1218.0 598v3M1218.0 664v3M1218.0 671v2M1218.0 714v3M1218.0 753v1M1218.0 763v2M1218.0 767v1M1218.0 769v2M1218.0 774v1M1218.0 778v1M1218.0 780v3M1218.0 798v1M1290.5 395v1M1290.5 402v1M1290.5 404v1M1290.5 409v1M1290.5 412v1M1290.5 416v4M1290.5 421v2M1290.5 425v2M1290.5 428v1M1290.5 446v1M1290.5 454v1M1290.5 515v1M1290.5 520v1M1290.5 523v2M1290.5 528v1M1290.5 532v4M1290.5 541v1M1290.5 543v1M1290.5 547v2M1290.5 554v4M1290.5 567v1M1290.5 571v1M1290.5 581v2M1290.5 591v3M1290.5 597v3M1290.5 762v1M1290.5 772v1M1290.5 775v1M1290.5 784v1M1290.5 786v1M1290.5 788v3M1290.5 792v1M1290.5 795v1M1362.9 582v1M1362.9 598v2M1362.9 614v2M1362.9 617v1M1362.9 619v2M1362.9 626v1M1362.9 629v1M1362.9 635v5M1362.9 642v1M1362.9 649v1M1362.9 668v4M1362.9 673v1M1362.9 675v2M1362.9 678v2M1362.9 682v1M1362.9 686v2M1362.9 693v3M1362.9 709v1M1362.9 712v4M1362.9 719v2M1362.9 725v1M1435.3 316v1M1435.3 377v1M1435.3 582v2M1435.3 585v12M1435.3 598v1M1435.3 614v1M1435.3 617v1M1435.3 625v1M1435.3 629v1M1435.3 634v1M1435.3 636v2M1435.3 643v1M1435.3 665v1M1435.3 667v1M1435.3 669v2M1435.3 683v1M1435.3 685v1M1435.3 702v2M1435.3 711v1M1507.8 420v1M1507.8 525v1M1507.8 533v2M1507.8 582v3M1507.8 593v1M1507.8 599v5M1507.8 606v1M1507.8 608v2M1507.8 611v4M1507.8 616v1M1507.8 619v1M1507.8 626v1M1507.8 631v4M1507.8 636v1M1507.8 638v1M1507.8 640v1M1507.8 649v1M1507.8 660v1M1507.8 663v1M1507.8 665v1M1507.8 668v1M1507.8 677v1M1507.8 684v1M1507.8 761v1M1507.8 763v1M1507.8 769v1M1507.8 780v1M1507.8 782v1M1507.8 784v1M1507.8 788v1M1507.8 791v1M1580.2 16v1M1580.2 26v1M1580.2 36v1M1580.2 54v1M1580.2 100v4M1580.2 105v1M1580.2 124v1M1580.2 128v1M1580.2 143v1M1580.2 146v1M1580.2 191v1M1580.2 193v1M1580.2 222v2M1580.2 467v1M1580.2 556v1M1580.2 559v1M1580.2 775v1M1652.6 10v1M1652.6 31v1M1652.6 33v1M1652.6 51v7M1652.6 64v1M1652.6 108v2M1652.6 166v1M1652.6 214v1M1652.6 223v1M1652.6 358v1M1725.1 31v3M1725.1 36v1M1725.1 54v1M1725.1 58v7M1725.1 66v1M1725.1 191v1M1725.1 203v1M1725.1 217v1M1725.1 220v1M1725.1 223v1M1725.1 226v1M1725.1 228v1M1725.1 299v1M1725.1 457v1M1725.1 468v2M1725.1 477v1M1725.1 563v1M1797.5 15v1M1797.5 259v2M1797.5 265v2M1797.5 282v1M1797.5 291v1M1797.5 316v1M1797.5 323v3M1797.5 327v1M1797.5 335v1M1797.5 339v1M1797.5 342v2M1797.5 351v1M1797.5 353v4M1797.5 358v3M1797.5 367v1M1869.9 243v1M1869.9 247v4M1869.9 252v1M1869.9 255v1M1869.9 259v3M1869.9 275v1M1869.9 319v1M1869.9 323v3M1869.9 327v1M1869.9 370v1M1869.9 373v1M1869.9 375v2M1942.3 244v1M1942.3 246v2M1942.3 252v1M1942.3 259v1M1942.3 261v2M1942.3 264v1M1942.3 274v2M1942.3 277v1M1942.3 280v1M1942.3 290v2M1942.3 293v1M1942.3 302v4M1942.3 309v1M1942.3 311v1M1942.3 322v2M1942.3 326v2M1942.3 331v1M1942.3 337v1M1942.3 339v1M1942.3 346v2M1942.3 357v1M1942.3 359v1M1942.3 365v1M1942.3 367v1M1942.3 373v1M1942.3 381v1"/>
<path stroke="#535303" d="M1145.6 241v1M1145.6 244v1M1145.6 395v1M1145.6 402v1M1145.6 406v3M1145.6 410v1M1145.6 505v2M1145.6 514v1M1145.6 516v1M1145.6 521v1M1145.6 554v2M1145.6 560v4M1145.6 565v2M1145.6 569v1M1145.6 580v1M1145.6 591v3M1145.6 595v1M1145.6 597v1M1145.6 606v1M1145.6 608v2M1145.6 611v1M1145.6 614v1M1145.6 619v2M1145.6 622v1M1145.6 652v1M1145.6 657v1M1145.6 784v1M1145.6 791v1M1218.0 410v2M1218.0 413v1M1218.0 435v1M1218.0 440v1M1218.0 454v1M1218.0 464v1M1218.0 506v1M1218.0 516v1M1218.0 519v2M1218.0 523v1M1218.0 528v2M1218.0 531v4M1218.0 556v1M1218.0 590v2M1218.0 595v1M1218.0 597v1M1218.0 775v1M1218.0 777v1M1218.0 783v2M1218.0 786v1M1218.0 788v1M1218.0 790v2M1290.5 398v2M1290.5 410v2M1290.5 413v1M1290.5 427v1M1290.5 486v1M1290.5 513v1M1290.5 516v1M1290.5 519v1M1290.5 529v2M1290.5 539v1M1290.5 542v1M1290.5 544v3M1290.5 553v1M1290.5 560v1M1290.5 570v1M1290.5 572v1M1290.5 580v1M1290.5 590v1M1290.5 595v2M1290.5 600v1M1290.5 763v1M1290.5 771v1M1290.5 791v1M1290.5 794v1M1290.5 797v1M1362.9 578v2M1362.9 585v1M1362.9 588v3M1362.9 627v1M1362.9 634v1M1362.9 640v2M1362.9 677v1M1362.9 684v2M1362.9 688v5M1362.9 699v2M1362.9 702v1M1362.9 704v2M1362.9 707v1M1362.9 721v4M1435.3 597v1M1435.3 628v1M1435.3 632v1M1435.3 664v1M1435.3 704v2M1507.8 417v1M1507.8 590v1M1507.8 592v1M1507.8 595v3M1507.8 620v1M1507.8 650v1M1507.8 760v1M1507.8 764v2M1507.8 776v1M1507.8 779v1M1507.8 785v1M1507.8 787v1M1580.2 53v1M1580.2 145v1M1580.2 173v1M1580.2 192v1M1580.2 224v1M1652.6 139v1M1652.6 178v1M1725.1 56v2M1725.1 470v3M1797.5 258v1M1797.5 267v2M1797.5 275v1M1797.5 278v4M1797.5 283v1M1797.5 333v1M1797.5 341v1M1797.5 345v1M1797.5 365v1M1797.5 368v2M1869.9 241v2M1869.9 256v1M1869.9 258v1M1869.9 262v4M1869.9 274v1M1869.9 276v1M1869.9 283v1M1869.9 366v1M1869.9 374v1M1942.3 243v1M1942.3 248v4M1942.3 256v1M1942.3 258v1M1942.3 260v1M1942.3 273v1M1942.3 276v1M1942.3 278v2M1942.3 281v1M1942.3 284v1M1942.3 292v1M1942.3 306v1M1942.3 308v1M1942.3 317v5M1942.3 324v1M1942.3 328v2M1942.3 332v1M1942.3 338v1M1942.3 340v1M1942.3 342v3M1942.3 355v2M1942.3 358v1M1942.3 368v3M1942.3 374v2M1942.3 377v1M1942.3 379v2M1942.3 382v1"/>
<path stroke="#626203" d="M1145.6 396v5M1145.6 581v1M1145.6 584v1M1145.6 603v1M1145.6 607v1M1145.6 621v1M1145.6 623v1M1145.6 649v3M1145.6 653v1M1145.6 655v2M1145.6 658v1M1145.6 660v1M1145.6 783v1M1145.6 785v1M1145.6 789v1M1218.0 517v2M1218.0 524v1M1218.0 530v1M1218.0 785v1M1218.0 787v1M1218.0 789v1M1218.0 796v1M1290.5 388v1M1290.5 396v2M1290.5 400v2M1290.5 517v2M1290.5 538v1M1290.5 569v1M1290.5 798v1M1362.9 583v2M1362.9 586v1M1362.9 593v2M1362.9 596v2M1362.9 600v1M1362.9 628v1M1362.9 683v1M1362.9 703v1M1362.9 710v2M1435.3 631v1M1507.8 182v1M1507.8 535v1M1507.8 594v1M1507.8 610v1M1507.8 766v2M1507.8 773v2M1507.8 777v2M1580.2 127v1M1580.2 172v1M1652.6 17v1M1652.6 252v1M1725.1 24v1M1725.1 393v1M1797.5 256v2M1797.5 269v3M1797.5 274v1M1797.5 276v2M1797.5 306v1M1797.5 361v1M1797.5 363v2M1869.9 266v2M1869.9 271v2M1869.9 277v1M1869.9 279v1M1869.9 281v1M1869.9 328v1M1942.3 241v1M1942.3 253v3M1942.3 257v1M1942.3 265v7M1942.3 282v2M1942.3 307v1M1942.3 333v2M1942.3 336v1M1942.3 341v1M1942.3 345v1M1942.3 353v2M1942.3 376v1M1942.3 378v1"/>
<path stroke="#717103" d="M1145.6 498v1M1145.6 582v2M1145.6 596v1M1145.6 659v1M1145.6 786v3M1145.6 790v1M1218.0 596v1M1290.5 387v1M1290.5 393v2M1290.5 540v1M1290.5 566v1M1362.9 587v1M1362.9 591v2M1435.3 706v1M1507.8 775v1M1507.8 786v1M1507.8 790v1M1580.2 171v1M1797.5 12v1M1797.5 255v1M1797.5 272v1M1797.5 332v1M1797.5 362v1M1869.9 257v1M1869.9 268v3M1869.9 273v1M1869.9 278v1M1869.9 280v1M1942.3 242v1M1942.3 325v1M1942.3 335v1"/>
<path stroke="#808003" d="M1145.6 654v1M1218.0 525v1M1218.0 564v1M1218.0 799v1M1290.5 389v1M1290.5 391v2M1290.5 559v1M1725.1 387v1M1725.1 389v1M1797.5 273v1"/>
<path stroke="#8f8f03" d="M1290.5 390v1M1362.9 706v1M1725.1 388v1M1725.1 390v1M1942.3 289v1"/>
<path stroke="#9f9f03" d="M1725.1 391v2M1725.1 394v1"/>
<path stroke="#aeae03" d="M1362.9 595v1"/>
<path stroke="#bdbd03" d="M1218.0 568v5"/>
</g>
<path d="M1181.8 8V236M1181.8 241V383M1181.8 387V573M1181.8 578V806M1254.3 8V236M1254.3 241V383M1254.3 387V573M1254.3 578V806M1326.7 8V236M1326.7 241V383M1326.7 387V573M1326.7 578V806M1399.1 8V236M1399.1 241V383M1399.1 387V573M1399.1 578V806M1471.6 8V236M1471.6 241V383M1471.6 387V573M1471.6 578V806M1544.0 8V236M1544.0 241V383M1544.0 387V573M1544.0 578V806M1616.4 8V236M1616.4 241V383M1616.4 387V573M1616.4 578V806M1688.8 8V236M1688.8 241V383M1688.8 387V573M1688.8 578V806M1761.3 8V236M1761.3 241V383M1761.3 387V573M1761.3 578V806M1833.7 8V236M1833.7 241V383M1833.7 387V573M1833.7 578V806M1906.1 8V236M1906.1 241V383M1906.1 387V573M1906.1 578V806" stroke="#fff" stroke-opacity="0.12" stroke-width="1" fill="none"/>
<path d="M1109.4 11.5H1978.6M1109.4 16.5H1978.6M1109.4 21.5H1978.6M1109.4 24.5H1978.6M1109.4 27.5H1978.6M1109.4 32.5H1978.6M1109.4 36.5H1978.6M1109.4 42.5H1978.6M1109.4 47.5H1978.6M1109.4 49.5H1978.6M1109.4 54.5H1978.6M1109.4 56.5H1978.6M1109.4 60.5H1978.6M1109.4 63.5H1978.6M1109.4 68.5H1978.6M1109.4 71.5H1978.6M1109.4 74.5H1978.6M1109.4 80.5H1978.6M1109.4 84.5H1978.6M1109.4 89.5H1978.6M1109.4 94.5H1978.6M1109.4 98.5H1978.6M1109.4 102.5H1978.6M1109.4 108.5H1978.6M1109.4 111.5H1978.6M1109.4 114.5H1978.6M1109.4 120.5H1978.6M1109.4 123.5H1978.6M1109.4 128.5H1978.6M1109.4 132.5H1978.6M1109.4 138.5H1978.6M1109.4 140.5H1978.6M1109.4 146.5H1978.6M1109.4 148.5H1978.6M1109.4 151.5H1978.6M1109.4 156.5H1978.6M1109.4 158.5H1978.6M1109.4 161.5H1978.6M1109.4 163.5H1978.6M1109.4 166.5H1978.6M1109.4 170.5H1978.6M1109.4 175.5H1978.6M1109.4 181.5H1978.6M1109.4 185.5H1978.6M1109.4 191.5H1978.6M1109.4 195.5H1978.6M1109.4 199.5H1978.6M1109.4 205.5H1978.6M1109.4 210.5H1978.6M1109.4 214.5H1978.6M1109.4 217.5H1978.6M1109.4 220.5H1978.6M1109.4 222.5H1978.6M1109.4 224.5H1978.6M1109.4 227.5H1978.6M1109.4 231.5H1978.6M1109.4 234.5H1978.6M1109.4 247.5H1978.6M1109.4 251.5H1978.6M1109.4 257.5H1978.6M1109.4 260.5H1978.6M1109.4 264.5H1978.6M1109.4 269.5H1978.6M1109.4 273.5H1978.6M1109.4 278.5H1978.6M1109.4 281.5H1978.6M1109.4 286.5H1978.6M1109.4 291.5H1978.6M1109.4 295.5H1978.6M1109.4 300.5H1978.6M1109.4 303.5H1978.6M1109.4 306.5H1978.6M1109.4 312.5H1978.6M1109.4 314.5H1978.6M1109.4 317.5H1978.6M1109.4 322.5H1978.6M1109.4 328.5H1978.6M1109.4 334.5H1978.6M1109.4 337.5H1978.6M1109.4 343.5H1978.6M1109.4 346.5H1978.6M1109.4 351.5H1978.6M1109.4 356.5H1978.6M1109.4 361.5H1978.6M1109.4 363.5H1978.6M1109.4 369.5H1978.6M1109.4 375.5H1978.6M1109.4 378.5H1978.6M1109.4 392.5H1978.6M1109.4 395.5H1978.6M1109.4 398.5H1978.6M1109.4 400.5H1978.6M1109.4 402.5H1978.6M1109.4 406.5H1978.6M1109.4 412.5H1978.6M1109.4 416.5H1978.6M1109.4 418.5H1978.6M1109.4 421.5H1978.6M1109.4 423.5H1978.6M1109.4 427.5H1978.6M1109.4 430.5H1978.6M1109.4 432.5H1978.6M1109.4 435.5H1978.6M1109.4 439.5H1978.6M1109.4 443.5H1978.6M1109.4 445.5H1978.6M1109.4 447.5H1978.6M1109.4 452.5H1978.6M1109.4 457.5H1978.6M1109.4 459.5H1978.6M1109.4 463.5H1978.6M1109.4 469.5H1978.6M1109.4 474.5H1978.6M1109.4 477.5H1978.6M1109.4 482.5H1978.6M1109.4 485.5H1978.6M1109.4 490.5H1978.6M1109.4 493.5H1978.6M1109.4 495.5H1978.6M1109.4 498.5H1978.6M1109.4 500.5H1978.6M1109.4 502.5H1978.6M1109.4 504.5H1978.6M1109.4 509.5H1978.6M1109.4 514.5H1978.6M1109.4 516.5H1978.6M1109.4 519.5H1978.6M1109.4 523.5H1978.6M1109.4 526.5H1978.6M1109.4 531.5H1978.6M1109.4 534.5H1978.6M1109.4 537.5H1978.6M1109.4 543.5H1978.6M1109.4 545.5H1978.6M1109.4 548.5H1978.6M1109.4 551.5H1978.6M1109.4 554.5H1978.6M1109.4 557.5H1978.6M1109.4 561.5H1978.6M1109.4 565.5H1978.6M1109.4 569.5H1978.6M1109.4 582.5H1978.6M1109.4 588.5H1978.6M1109.4 593.5H1978.6M1109.4 599.5H1978.6M1109.4 604.5H1978.6M1109.4 606.5H1978.6M1109.4 611.5H1978.6M1109.4 616.5H1978.6M1109.4 619.5H1978.6M1109.4 623.5H1978.6M1109.4 629.5H1978.6M1109.4 635.5H1978.6M1109.4 641.5H1978.6M1109.4 644.5H1978.6M1109.4 647.5H1978.6M1109.4 651.5H1978.6M1109.4 654.5H1978.6M1109.4 659.5H1978.6M1109.4 662.5H1978.6M1109.4 667.5H1978.6M1109.4 670.5H1978.6M1109.4 672.5H1978.6M1109.4 676.5H1978.6M1109.4 681.5H1978.6M1109.4 684.5H1978.6M1109.4 686.5H1978.6M1109.4 690.5H1978.6M1109.4 695.5H1978.6M1109.4 700.5H1978.6M1109.4 706.5H1978.6M1109.4 709.5H1978.6M1109.4 711.5H1978.6M1109.4 717.5H1978.6M1109.4 723.5H1978.6M1109.4 726.5H1978.6M1109.4 730.5H1978.6M1109.4 733.5H1978.6M1109.4 739.5H1978.6M1109.4 742.5H1978.6M1109.4 747.5H1978.6M1109.4 753.5H1978.6M1109.4 756.5H1978.6M1109.4 762.5H1978.6M1109.4 766.5H1978.6M1109.4 768.5H1978.6M1109.4 773.5H1978.6M1109.4 775.5H1978.6M1109.4 781.5H1978.6M1109.4 783.5H1978.6M1109.4 786.5H1978.6M1109.4 789.5H1978.6M1109.4 795.5H1978.6M1109.4 799.5H1978.6M1109.4 802.5H1978.6" stroke="#fff" stroke-opacity="0.13" stroke-width="1" fill="none"/>
</g>
<text x="1026.6" y="131.9" font-size="27" text-anchor="middle" stroke="#000" stroke-width="0.43">I</text>
<text x="1026.6" y="321.6" font-size="27" text-anchor="middle" stroke="#000" stroke-width="0.43">II</text>
<text x="1026.6" y="490.4" font-size="27" text-anchor="middle" stroke="#000" stroke-width="0.43">III</text>
<text x="1026.6" y="701.6" font-size="27" text-anchor="middle" stroke="#000" stroke-width="0.43">IV</text>
<defs><linearGradient id="cb" x1="0" y1="0" x2="0" y2="1"><stop offset="0" stop-color="#ffff00"/><stop offset="0.075" stop-color="#ffff00"/><stop offset="0.455" stop-color="#000"/><stop offset="0.83" stop-color="#a020f0"/><stop offset="1" stop-color="#a020f0"/></linearGradient></defs>
<rect x="2005.6" y="353.7" width="22.5" height="105.6" fill="url(#cb)"/>
<text x="2032.3" y="363.0" font-size="14.3" stroke="#000" stroke-width="0.23">5</text>
<text x="2032.3" y="410.8" font-size="14.3" stroke="#000" stroke-width="0.23">0</text>
<text x="2031.8" y="458.6" font-size="14.3" stroke="#000" stroke-width="0.23">-5</text>
<text x="1152.4" y="834.8" font-size="26.5" text-anchor="end" stroke="#000" stroke-width="0.42" transform="rotate(-55 1152.4 834.8)">DMSO distal 1</text>
<text x="1225.2" y="834.5" font-size="26.5" text-anchor="end" stroke="#000" stroke-width="0.42" transform="rotate(-55 1225.2 834.5)">DMSO distal 2</text>
<text x="1297.9" y="834.2" font-size="26.5" text-anchor="end" stroke="#000" stroke-width="0.42" transform="rotate(-55 1297.9 834.2)">DMSO distal 3</text>
<text x="1370.7" y="833.9" font-size="26.5" text-anchor="end" stroke="#000" stroke-width="0.42" transform="rotate(-55 1370.7 833.9)">0.1 µM TAL distal 1</text>
<text x="1443.5" y="833.6" font-size="26.5" text-anchor="end" stroke="#000" stroke-width="0.42" transform="rotate(-55 1443.5 833.6)">0.1 µM TAL distal 2</text>
<text x="1516.2" y="833.3" font-size="26.5" text-anchor="end" stroke="#000" stroke-width="0.42" transform="rotate(-55 1516.2 833.3)">0.1 µM TAL distal 3</text>
<text x="1589.0" y="832.9" font-size="26.5" text-anchor="end" stroke="#000" stroke-width="0.42" transform="rotate(-55 1589.0 832.9)">1 µM TAL distal 1</text>
<text x="1661.7" y="832.6" font-size="26.5" text-anchor="end" stroke="#000" stroke-width="0.42" transform="rotate(-55 1661.7 832.6)">1 µM TAL distal 2</text>
<text x="1734.5" y="832.3" font-size="26.5" text-anchor="end" stroke="#000" stroke-width="0.42" transform="rotate(-55 1734.5 832.3)">1 µM TAL distal 3</text>
<text x="1807.3" y="832.0" font-size="26.5" text-anchor="end" stroke="#000" stroke-width="0.42" transform="rotate(-55 1807.3 832.0)">DMSO proximal 1</text>
<text x="1880.0" y="831.7" font-size="26.5" text-anchor="end" stroke="#000" stroke-width="0.42" transform="rotate(-55 1880.0 831.7)">DMSO proximal 2</text>
<text x="1952.8" y="831.4" font-size="26.5" text-anchor="end" stroke="#000" stroke-width="0.42" transform="rotate(-55 1952.8 831.4)">DMSO proximal 3</text>
</g>
<g id="panelC">
<text x="16.3" y="1034.0" font-size="34.5" fill="#231f20" stroke="#231f20" stroke-width="0.55">C</text>
<rect x="122.9" y="1252.0" width="140.5" height="97.0" fill="#f0ea50" stroke="#231f20" stroke-width="3.8"/>
<rect x="122.9" y="1349.0" width="140.5" height="104.2" fill="#6a3d91" stroke="#231f20" stroke-width="3.8"/>
<text x="193.6" y="1243.1" font-size="29" text-anchor="middle" fill="#231f20" stroke="#231f20" stroke-width="0.46">175</text>
<text x="193.1" y="1483.6" font-size="29" text-anchor="middle" fill="#231f20" stroke="#231f20" stroke-width="0.46">188</text>
<rect x="298.0" y="1137.2" width="140.3" height="211.8" fill="#f0ea50" stroke="#231f20" stroke-width="3.8"/>
<rect x="298.0" y="1349.0" width="140.3" height="281.1" fill="#6a3d91" stroke="#231f20" stroke-width="3.8"/>
<text x="368.6" y="1128.3" font-size="29" text-anchor="middle" fill="#231f20" stroke="#231f20" stroke-width="0.46">382</text>
<text x="368.1" y="1660.5" font-size="29" text-anchor="middle" fill="#231f20" stroke="#231f20" stroke-width="0.46">507</text>
<rect x="473.3" y="1230.4" width="140.6" height="118.6" fill="#f0ea50" stroke="#231f20" stroke-width="3.8"/>
<rect x="473.3" y="1349.0" width="140.6" height="180.2" fill="#6a3d91" stroke="#231f20" stroke-width="3.8"/>
<text x="544.1" y="1221.5" font-size="29" text-anchor="middle" fill="#231f20" stroke="#231f20" stroke-width="0.46">214</text>
<text x="543.6" y="1559.6" font-size="29" text-anchor="middle" fill="#231f20" stroke="#231f20" stroke-width="0.46">325</text>
<rect x="692.8" y="1201.0" width="140.5" height="148.0" fill="#f0ea50" stroke="#231f20" stroke-width="3.8"/>
<rect x="692.8" y="1349.0" width="140.5" height="87.6" fill="#6a3d91" stroke="#231f20" stroke-width="3.8"/>
<text x="763.5" y="1192.1" font-size="29" text-anchor="middle" fill="#231f20" stroke="#231f20" stroke-width="0.46">267</text>
<text x="763.0" y="1467.0" font-size="29" text-anchor="middle" fill="#231f20" stroke="#231f20" stroke-width="0.46">158</text>
<rect x="867.6" y="1139.4" width="140.0" height="209.6" fill="#f0ea50" stroke="#231f20" stroke-width="3.8"/>
<rect x="867.6" y="1349.0" width="140.0" height="196.8" fill="#6a3d91" stroke="#231f20" stroke-width="3.8"/>
<text x="938.1" y="1130.5" font-size="29" text-anchor="middle" fill="#231f20" stroke="#231f20" stroke-width="0.46">378</text>
<text x="937.6" y="1576.2" font-size="29" text-anchor="middle" fill="#231f20" stroke="#231f20" stroke-width="0.46">355</text>
<path d="M88.0 1039.7V1672M86.1 1670.1H647.7M657.3 1039.7V1672M655.4 1670.1H1042.6" stroke="#231f20" stroke-width="3.85" fill="none"/>
<path d="M192.9 1671V1675.5M368.0 1671V1675.5M543.3 1671V1675.5M762.3 1671V1675.5M937.1 1671V1675.5M83.2 1182.8H87M83.2 1349H87M83.2 1515.4H87" stroke="#231f20" stroke-width="3" fill="none"/>
<text x="77.2" y="1192.6" font-size="27.5" text-anchor="end" fill="#231f20" stroke="#231f20" stroke-width="0.44">300</text>
<text x="77.2" y="1358.8" font-size="27.5" text-anchor="end" fill="#231f20" stroke="#231f20" stroke-width="0.44">0</text>
<text x="77.2" y="1525.2" font-size="27.5" text-anchor="end" fill="#231f20" stroke="#231f20" stroke-width="0.44">-300</text>
<text x="19.5" y="1354.7" font-size="26.5" text-anchor="middle" fill="#231f20" stroke="#231f20" stroke-width="0.42" transform="rotate(-90 19.5 1354.7)">Count</text>
<text x="46.1" y="1842.3" font-size="27.4" fill="#231f20" stroke="#231f20" stroke-width="0.44" transform="rotate(-45 46.1 1842.3)">DMSO distal <tspan font-weight="bold">vs</tspan></text>
<text x="63.8" y="1871.4" font-size="27.4" fill="#231f20" stroke="#231f20" stroke-width="0.44" transform="rotate(-45 63.8 1871.4)">0.1 µM TAL distal</text>
<text x="228.3" y="1843.3" font-size="27.4" fill="#231f20" stroke="#231f20" stroke-width="0.44" transform="rotate(-45 228.3 1843.3)">DMSO distal <tspan font-weight="bold">vs</tspan></text>
<text x="252.5" y="1861.7" font-size="27.4" fill="#231f20" stroke="#231f20" stroke-width="0.44" transform="rotate(-45 252.5 1861.7)">1 µM TAL distal</text>
<text x="403.5" y="1843.3" font-size="27.4" fill="#231f20" stroke="#231f20" stroke-width="0.44" transform="rotate(-45 403.5 1843.3)">DMSO distal <tspan font-weight="bold">vs</tspan></text>
<text x="425.1" y="1866.5" font-size="27.4" fill="#231f20" stroke="#231f20" stroke-width="0.44" transform="rotate(-45 425.1 1866.5)">DMSO proximal</text>
<text x="594.5" y="1869.7" font-size="27.4" fill="#231f20" stroke="#231f20" stroke-width="0.44" transform="rotate(-45 594.5 1869.7)">DMSO proximal <tspan font-weight="bold">vs</tspan></text>
<text x="628.3" y="1885.2" font-size="27.4" fill="#231f20" stroke="#231f20" stroke-width="0.44" transform="rotate(-45 628.3 1885.2)">0.1 µM TAL distal</text>
<text x="770.3" y="1869.7" font-size="27.4" fill="#231f20" stroke="#231f20" stroke-width="0.44" transform="rotate(-45 770.3 1869.7)">DMSO proximal <tspan font-weight="bold">vs</tspan></text>
<text x="812.2" y="1873.6" font-size="27.4" fill="#231f20" stroke="#231f20" stroke-width="0.44" transform="rotate(-45 812.2 1873.6)">1 µM TAL distal</text>
<rect x="350.4" y="1930.2" width="25.6" height="25.2" fill="#f0ea50" stroke="#231f20" stroke-width="4.2"/>
<text x="388.4" y="1952.3" font-size="27.2" fill="#231f20" stroke="#231f20" stroke-width="0.44">Upregulated</text>
<rect x="560.0" y="1930.2" width="25.6" height="25.2" fill="#6a3d91" stroke="#231f20" stroke-width="4.2"/>
<text x="598.4" y="1952.3" font-size="27.2" fill="#231f20" stroke="#231f20" stroke-width="0.44">Downregulated</text>
</g>
<g id="panelD">
<text x="1054.6" y="1078.9" font-size="34.5" fill="#231f20" stroke="#231f20" stroke-width="0.55">D</text>
<defs><clipPath id="vc"><circle cx="1410.65" cy="1460.1" r="270.9"/></clipPath></defs>
<circle cx="1410.65" cy="1460.1" r="270.9" fill="#ff80ff"/>
<circle cx="1772.1" cy="1460.1" r="270.9" fill="#80ffff"/>
<circle cx="1772.1" cy="1460.1" r="270.9" fill="#80bfff" clip-path="url(#vc)"/>
<circle cx="1410.65" cy="1460.1" r="270.9" fill="none" stroke="#231f20" stroke-width="6.1"/>
<circle cx="1772.1" cy="1460.1" r="270.9" fill="none" stroke="#231f20" stroke-width="6.1"/>
<text x="1374.8" y="1116.3" font-size="34.2" text-anchor="middle" stroke="#000" stroke-width="0.55">DMSO distal <tspan font-weight="bold">vs</tspan></text>
<text x="1375.3" y="1158.1" font-size="34.2" text-anchor="middle" stroke="#000" stroke-width="0.55">1 µM TAL distal</text>
<text x="1807.6" y="1119.0" font-size="34.2" text-anchor="middle" stroke="#000" stroke-width="0.55">DMSO distal <tspan font-weight="bold">vs</tspan></text>
<text x="1808.0" y="1161.0" font-size="34.2" text-anchor="middle" stroke="#000" stroke-width="0.55">DMSO proximal</text>
<text x="1374.0" y="1467.7" font-size="34" text-anchor="middle" fill="#231f20" stroke="#231f20" stroke-width="0.54">684</text>
<text x="1591.7" y="1467.7" font-size="34" text-anchor="middle" fill="#231f20" stroke="#231f20" stroke-width="0.54">138</text>
<text x="1808.4" y="1467.7" font-size="34" text-anchor="middle" fill="#231f20" stroke="#231f20" stroke-width="0.54">385</text>
</g>
<g id="panelE">
<text x="84.4" y="2047.2" font-size="34.5" fill="#231f20" stroke="#231f20" stroke-width="0.55">E</text>
<path d="M247.2 2398.7V2154.2H777.9" stroke="#000" stroke-width="4.2" fill="none"/>
<text x="278.4" y="2136.7" font-size="27.6" stroke="#000" stroke-width="0.44" transform="rotate(-45 278.4 2136.7)" font-style="italic">Shox</text>
<text x="328.7" y="2136.7" font-size="27.6" stroke="#000" stroke-width="0.44" transform="rotate(-45 328.7 2136.7)" font-style="italic">Shox2</text>
<text x="382.5" y="2136.7" font-size="27.6" stroke="#000" stroke-width="0.44" transform="rotate(-45 382.5 2136.7)" font-style="italic">Tbx15</text>
<text x="436.0" y="2136.7" font-size="27.6" stroke="#000" stroke-width="0.44" transform="rotate(-45 436.0 2136.7)" font-style="italic">Prrx1</text>
<text x="485.1" y="2136.7" font-size="27.6" stroke="#000" stroke-width="0.44" transform="rotate(-45 485.1 2136.7)" font-style="italic">Alx4</text>
<text x="534.7" y="2136.7" font-size="27.6" stroke="#000" stroke-width="0.44" transform="rotate(-45 534.7 2136.7)" font-style="italic">Hoxa13</text>
<text x="588.8" y="2136.7" font-size="27.6" stroke="#000" stroke-width="0.44" transform="rotate(-45 588.8 2136.7)" font-style="italic">Hoxd13</text>
<text x="643.6" y="2136.7" font-size="27.6" stroke="#000" stroke-width="0.44" transform="rotate(-45 643.6 2136.7)" font-style="italic">Pax9</text>
<text x="697.5" y="2136.7" font-size="27.6" stroke="#000" stroke-width="0.44" transform="rotate(-45 697.5 2136.7)" font-style="italic">Evx1</text>
<text x="750.0" y="2136.7" font-size="27.6" stroke="#000" stroke-width="0.44" transform="rotate(-45 750.0 2136.7)" font-style="italic">Evx2</text>
<text x="226.3" y="2206.9" font-size="27.6" text-anchor="end" stroke="#000" stroke-width="0.44">1 µM TAL distal</text>
<text x="228.1" y="2280.7" font-size="27.6" text-anchor="end" stroke="#000" stroke-width="0.44">DMSO proximal</text>
<text x="222.1" y="2354.5" font-size="27.6" text-anchor="end" stroke="#000" stroke-width="0.44">DMSO distal</text>
<circle cx="276.0" cy="2200.9" r="12.20" fill="#e8836e" stroke="#000" stroke-width="2.9"/>
<circle cx="330.9" cy="2200.9" r="12.40" fill="#e98a76" stroke="#000" stroke-width="2.9"/>
<circle cx="382.8" cy="2200.9" r="10.20" fill="#f3b3a4" stroke="#000" stroke-width="2.9"/>
<circle cx="437.5" cy="2200.9" r="15.80" fill="#c00000" stroke="#000" stroke-width="2.9"/>
<circle cx="489.8" cy="2200.9" r="8.60" fill="#f5c8be" stroke="#000" stroke-width="2.9"/>
<circle cx="542.3" cy="2200.9" r="11.80" fill="#e98c78" stroke="#000" stroke-width="2.9"/>
<circle cx="598.8" cy="2200.9" r="11.10" fill="#ed9b8a" stroke="#000" stroke-width="2.9"/>
<circle cx="648.2" cy="2200.9" r="3.30" fill="#fff" stroke="#000" stroke-width="2.9"/>
<circle cx="696.6" cy="2200.9" r="2.9" fill="#000"/>
<circle cx="746.2" cy="2200.9" r="2.65" fill="#222" stroke="#000" stroke-width="2.9"/>
<circle cx="276.0" cy="2274.8" r="15.00" fill="#d13a24" stroke="#000" stroke-width="2.9"/>
<circle cx="330.9" cy="2274.8" r="13.10" fill="#e2735c" stroke="#000" stroke-width="2.9"/>
<circle cx="382.8" cy="2274.8" r="11.80" fill="#e88a76" stroke="#000" stroke-width="2.9"/>
<circle cx="437.5" cy="2274.8" r="15.80" fill="#c8140a" stroke="#000" stroke-width="2.9"/>
<circle cx="489.8" cy="2274.8" r="9.70" fill="#f2b4a5" stroke="#000" stroke-width="2.9"/>
<circle cx="542.3" cy="2274.8" r="11.00" fill="#eea08f" stroke="#000" stroke-width="2.9"/>
<circle cx="598.8" cy="2274.8" r="10.80" fill="#eea091" stroke="#000" stroke-width="2.9"/>
<circle cx="648.2" cy="2274.8" r="4.90" fill="#faf0eb" stroke="#000" stroke-width="2.9"/>
<circle cx="696.6" cy="2274.8" r="6.50" fill="#f5e1dc" stroke="#000" stroke-width="2.9"/>
<circle cx="746.2" cy="2274.8" r="2.3" fill="#000"/>
<circle cx="276.0" cy="2348.7" r="4.80" fill="#fff5f0" stroke="#000" stroke-width="2.9"/>
<circle cx="330.9" cy="2348.7" r="7.50" fill="#f8d6cc" stroke="#000" stroke-width="2.9"/>
<circle cx="382.8" cy="2348.7" r="6.90" fill="#f9dcd4" stroke="#000" stroke-width="2.9"/>
<circle cx="437.5" cy="2348.7" r="12.80" fill="#e67d69" stroke="#000" stroke-width="2.9"/>
<circle cx="489.8" cy="2348.7" r="3.90" fill="#fff" stroke="#000" stroke-width="2.9"/>
<circle cx="542.3" cy="2348.7" r="15.80" fill="#c8140a" stroke="#000" stroke-width="2.9"/>
<circle cx="598.8" cy="2348.7" r="14.10" fill="#dc5a3c" stroke="#000" stroke-width="2.9"/>
<circle cx="648.2" cy="2348.7" r="8.80" fill="#f5c8be" stroke="#000" stroke-width="2.9"/>
<circle cx="696.6" cy="2348.7" r="13.10" fill="#e67d64" stroke="#000" stroke-width="2.9"/>
<circle cx="746.2" cy="2348.7" r="10.30" fill="#f0aa9b" stroke="#000" stroke-width="2.9"/>
<text x="493.8" y="2430.6" font-size="27.7" text-anchor="middle" stroke="#000" stroke-width="0.44">Expression</text>
<text x="385.6" y="2473.9" font-size="27.6" stroke="#000" stroke-width="0.44">0</text>
<text x="587.6" y="2473.9" font-size="27.6" stroke="#000" stroke-width="0.44">Max</text>
<circle cx="423.6" cy="2465" r="5.90" fill="#f5e4de" stroke="#000" stroke-width="3"/>
<circle cx="454.2" cy="2465" r="9.40" fill="#f3b9aa" stroke="#000" stroke-width="3"/>
<circle cx="484.4" cy="2465" r="11.80" fill="#eb8c78" stroke="#000" stroke-width="3"/>
<circle cx="517.1" cy="2465" r="13.70" fill="#dc5f41" stroke="#000" stroke-width="3"/>
<circle cx="554.0" cy="2465" r="15.55" fill="#c8190a" stroke="#000" stroke-width="3"/>
</g>
<g id="panelF">
<text x="830.9" y="2035.7" font-size="34.5" fill="#231f20" stroke="#231f20" stroke-width="0.55">F</text>
<text x="1169.3" y="2055.4" font-size="27.6" stroke="#000" stroke-width="0.44"><tspan fill="#808080" stroke="#808080">DAPI</tspan>, <tspan fill="#e000e0" stroke="#e000e0" font-style="italic">Meis1</tspan>, <tspan fill="#ffc800" stroke="#ffc800" font-style="italic">Meis2</tspan></text>
<text x="885.4" y="2261.2" font-size="27" text-anchor="middle" stroke="#000" stroke-width="0.43" transform="rotate(-90 885.4 2261.2)">14 DPA distal blastema</text>
<text x="1080.5" y="2505.1" font-size="27.5" text-anchor="middle" fill="#231f20" stroke="#231f20" stroke-width="0.44">DMSO</text>
<text x="1488.7" y="2491.8" font-size="27.5" text-anchor="middle" fill="#231f20" stroke="#231f20" stroke-width="0.44">1 µM TAL</text>
<g transform="translate(896.9,2068.0)">
<clipPath id="mc5"><rect width="389.6" height="389.6"/></clipPath>
<rect width="389.6" height="389.6" fill="#000"/>
<g clip-path="url(#mc5)" fill="none" stroke-linecap="round">
<path d="M210.5 0.1C215.4 4.8 229.9 18.9 239.6 28.0C249.3 37.0 259.3 45.3 268.6 54.6C277.9 63.9 287.2 74.7 295.2 83.6C303.3 92.5 310.5 99.3 317.0 107.8C323.5 116.3 329.1 125.6 333.9 134.4C338.8 143.3 342.8 152.2 346.0 161.0C349.3 169.9 350.9 178.8 353.3 187.7C355.7 196.5 358.1 205.0 360.5 214.3C363.0 223.6 365.6 234.4 367.8 243.3C370.0 252.2 372.2 259.8 373.9 267.5C375.5 275.2 377.7 281.6 377.5 289.3C377.3 296.9 375.5 305.8 372.6 313.5C369.8 321.1 365.8 329.2 360.5 335.3C355.3 341.3 348.5 345.7 341.2 349.8C333.9 353.8 325.9 356.6 317.0 359.4C308.1 362.3 298.0 365.1 288.0 366.7C277.9 368.3 267.0 369.1 256.5 369.1C246.0 369.1 235.1 368.7 225.1 366.7C215.0 364.7 205.7 360.7 196.0 357.0C186.3 353.4 176.7 349.4 167.0 344.9C157.3 340.5 147.6 335.3 138.0 330.4C128.3 325.6 117.8 321.5 108.9 315.9C100.0 310.3 92.4 303.0 84.7 296.5C77.1 290.1 69.4 284.0 62.9 277.2C56.5 270.3 51.3 263.5 46.0 255.4C40.8 247.3 35.9 238.1 31.5 228.8C27.1 219.5 23.4 208.6 19.4 199.8C15.4 190.9 10.9 182.4 7.3 175.6C3.7 168.7 -0.8 161.4 -2.4 158.6L-2.4 -5L-5 -5Z" fill="#080808" stroke="none"/>
<filter id="nb5" x="0" y="0" width="389.6" height="389.6" filterUnits="userSpaceOnUse"><feGaussianBlur stdDeviation="0.7"/></filter>
<g filter="url(#nb5)">
<path stroke="#565656" stroke-width="4.8" d="M214.9 40.2l-.5 1.4M163.6 61.1l.3 1.4M178.9 59l-.5 .2M196.8 66.1l.1 .6M265.7 69.8l.9 1.2M167.5 76l-1 1.7M236.1 83.9l1.3 .8M167.5 91l1.8 .3M255.5 90l1 1.2M222.6 103.7l-.1 .3M237.5 116.3l-.6 0M121.3 117.5l1.5 .7M108.6 133.9l-1.1 .7M185.3 133.3l-.6 0M259 131l.7 0M294.4 132.5l-1.4 .1M327.7 133.9l-1.1 .3M175.1 137l-.9 .2M202.3 139.4l-.2 .4M279.5 135.5l.2 .8M273.9 146.6l.3 .3M111 149.5l.6 .1M234.7 148.2l-.5 .6M242.6 149l.4 .2M322.2 149.2l1.1 .4M222.2 155.5l.7 .2M323.5 153.9l1.4 .1M182.4 164.2l-.5 1.8M257.4 160.2l1.2 .3M258.4 161.6l-.5 0M265.8 164.3l.1 .5M283.9 163.9l-1.2 .8M300.5 161.7l.7 .5M109.2 167.1l.8 0M167.1 168.4l1.1 .5M227.4 166.9l-.1 .2M306.7 166.1l1.6 1M97 172l.9 .9M123.2 173.2l-1.2 .3M158.6 175.4l.6 .2M251.3 174.4l-.5 .6M125.8 182.5l-.5 .4M210.5 178.9l-.3 .9M273.6 177.6l0 1.6M294.8 179.3l-.5 0M291.1 184.1l-1.5 .1M330.9 183.6l-1.2 .4M127.7 193.5l1.2 .8M168.3 190.2l.9 .9M325.9 191.3l.9 .1M151.9 199.5l-1 .1M200.7 196.5l.8 .7M233.5 199.8l.1 .6M241.3 199.1l-.6 .1M319.2 210.3l1.3 1.3M193.4 218.1l.7 .8M274.3 218.4l1.6 .3M99 221.5l.4 1.6M147 221.9l.8 .6M253.9 224.3l.4 1.8M292 222.3l1.3 .4M332.1 220.6l-1.1 .4M340.8 224.5l-.1 .7M154.3 228.5l.2 .9M207.8 228.9l-1.8 .5M285.6 230.3l-1.2 .5M87.7 235.3l-.9 .2M285.1 235.7l-.3 .9M295.9 234.7l-.4 .1M306.6 236.2l-.1 1M324.8 231.5l-.6 .3M216.7 242.1l1.5 .2M282.3 239.2l1.1 .9M76.4 247.6l-1.2 .4M99.3 246.7l-.1 .4M158.6 245.7l.2 .2M201.2 245.4l-1.6 1M245.3 245.6l-1.1 .4M97.7 251.7l0 1M157.3 249.6l-1.7 .2M213.9 253.4l.6 .9M265.2 252.1l-.5 .3M311.4 253.7l-.8 .6M322.6 254l-1.2 .1M149.1 256.9l.6 1.4M213.3 257.1l-.1 1.5M232.4 258l.8 .1M83 261.7l.6 1.6M338 264.4l.5 .4M337.4 271.8l0 .8M357.8 268.2l-.9 .1M65.5 276l-.8 .6M155.5 276.7l.7 .1M244.3 275.7l.1 .6M252.5 278l1.8 .7M260.4 274.8l1.5 1.1M270.2 277.5l-.5 1.2M179.4 282.7l-.8 1.8M340 279.6l-0 .4M256.1 286.1l1 1.2M294.6 289.8l1.8 .6M302.6 287l-.1 .7M304.6 285.6l.7 .4M330.6 287.1l.6 .9M366.8 289l-.2 .1M134.5 294.3l-.6 .7M340.8 293.3l.3 .1M319.5 300.7l.2 .5M207.6 303.8l-.2 1.5M352.6 305.7l.7 1M185.6 317.6l1.1 1.4M162.5 325.8l.3 .5M221.6 323.7l1.4 .4M227.5 324.5l.4 .6M243.5 325.9l-1.3 .6M250.4 323.1l.8 .3M310.9 324.1l.3 .2M159 332.4l.5 1.6M278.5 327.8l-1 1.1M283.2 328l-.1 .3M282.8 335.3l0 .4M219.2 340.6l-1 .6M237 340.7l-1.7 0M256.4 341.5l-.8 1M291.7 343.6l.2 .4M346.5 342.1l-.4 1.5M244.5 349.8l.3 .4M234.5 353.4l-.1 1.4"/>
<path stroke="#565656" stroke-width="5.4" d="M155.6 36.6l-1.1 .1M249 42.8l1.9 .3M135.8 65.3l.9 1M146.1 67.2l.4 1.4M178.6 72.2l1 1.4M189.6 71.2l1.7 .9M253.3 79.6l.1 .4M260.7 104.4l-1 1.1M275.6 101.2l.1 1M295.6 104.6l-.8 .1M244.3 108.4l.6 .1M253.5 108.3l.4 .8M259.4 109.3l-0 .7M182.4 115.8l.1 .3M225.7 115.8l-0 .6M159.9 118.4l-.6 1.2M264.4 120.5l-.2 1.3M280 118.9l1.1 .7M148.5 127.7l.2 .4M172.8 123.4l-0 1M215.2 130.5l.8 1.3M94.5 136.8l1.2 1M213.4 137.7l1.3 .3M270.8 140.4l-.1 .8M313.7 139.9l.4 .8M78.1 144.9l1.2 1.6M216.4 142.6l.4 1.4M319.3 143.9l.7 .5M327.9 144l.6 .3M129.9 150.2l-1.1 .4M336.4 149.3l-.4 .5M73 155l-.7 .8M106 154.3l.1 .9M125.1 162.1l.2 .3M225.4 161.1l.8 1.2M313.6 159.7l.4 1.2M161.2 166.8l-1.1 .6M196.6 172.9l1.8 0M317 175.8l1.2 1.2M222.7 179.4l.2 1.4M256.3 182.1l-.1 .4M307.2 180.7l-.2 .3M309.9 178.9l.3 1.3M82.4 188.5l1.6 1M226.4 186.7l.3 .2M246.7 187.7l.1 .4M275.5 184.6l1.2 .1M321.4 187l-.5 .3M158.6 191.8l1 .6M193.1 194.2l-.1 .6M245.9 191.2l-.4 .7M102.9 199.6l.5 .7M149.3 199.3l-1.4 1.3M166.7 200l-1.1 .4M219.5 199.5l.8 .9M322.2 199.6l1.9 .4M24.9 206.4l-.3 .1M143.8 203l-1.1 .8M310.8 205.4l1 .6M220.5 211.5l1.1 .2M313.3 209.1l-.2 1.5M126.1 217.6l-.2 .1M145.9 217.9l.2 .1M174.9 217.8l.5 1.9M218 216.5l-1 1.1M283.4 217.7l-1.1 .8M140.1 221.8l.3 .2M154.4 221.8l-.9 .9M189.9 220.4l-.1 .4M192.8 222.6l.6 .6M311.4 223.3l-.9 .6M343.4 219.6l.9 1.7M359.6 220.9l.7 .5M186.5 228.5l.1 1.5M107.4 233.5l.8 1.6M143.6 233.9l.8 1.1M220.8 232.1l.8 1.6M190.1 238.2l.1 .3M222.6 240.7l.7 .5M226.3 239.6l-1.3 .9M343 237.5l-.4 1M118.7 245.1l.3 .1M136.5 246.7l-0 .6M268.5 248.5l-.8 1.1M292.4 247.9l-.5 .4M345.6 245.6l.7 .2M126.4 254l.2 1.7M166.8 254.3l-1 1.5M206 253.6l.2 .7M250.6 253.8l-.5 .7M159.6 256.2l-.9 .1M237.2 259.7l1.4 .2M261.7 256.7l-.3 .4M300.7 259l.9 .8M72.2 262.4l.5 .6M115.8 261.6l0 .7M315.6 263.6l1.7 .8M330.6 266.5l-.4 .8M346.6 263.5l1.7 .2M114.8 267.6l.1 1M122.7 271.7l.2 .4M135.2 270.6l-.2 .5M166.1 271.3l1 1.3M180.8 270.3l.8 .4M213 268.8l-.7 1.4M256.3 271.8l.9 .7M319.5 272.2l-1.5 1M107.2 277.6l1.2 .8M132.1 275.4l-.7 .3M196.4 275.3l-.7 1.7M329.6 277.1l-.2 .2M114.6 280.7l-.3 .4M246.8 285.6l.1 .6M162.7 291.8l-1.3 1.4M329.5 293.7l.6 .2M346.2 295.9l-.6 .9M117.8 301.9l.1 1.1M353.8 302.5l.4 1.4M181.9 308.5l.1 1.2M224.9 308.2l-.1 .3M288.5 306.4l-.5 .3M358.8 307.7l.2 1M252.8 319.6l.5 .4M299.3 319.9l.2 1M167.1 325.9l-.3 .3M328.9 326.3l-.5 .2M224.3 332.5l.7 1.4M244 330l-.9 .8M279 344.2l.7 .4M296.2 340.1l.3 .5M226.5 350.6l.2 .1M205.4 353.1l-1.6 .2M261.5 351.7l.9 1.5"/>
<path stroke="#565656" stroke-width="6.0" d="M163.9 31.3l.1 1.6M190.6 29.9l-1.2 .5M202 33.4l.7 1M205.5 40.2l.2 1M183.5 49.6l1.5 .5M166.8 61.4l-.9 .4M199.2 57.9l-.9 .7M188.9 66.2l-.9 .5M218.3 72.9l0 .5M267.6 76.9l.9 1M142.4 82.4l1.7 .6M228.3 83.1l1 .8M269.7 83.8l1.3 .4M160.2 92.5l.4 1.8M169.8 89.7l1 .3M190.2 88l-.5 .1M271.1 95.6l-.6 1.3M285.7 103.2l1.4 1.1M303.2 99.4l-.4 1.8M249.7 114.2l.3 1.7M289.5 114.4l.2 .3M158.5 120l-.6 1.2M198.5 121.7l-.6 1.4M240 119.8l.9 1.3M190.9 123.9l-1 .2M266 124.9l-1.5 .1M96.7 132.7l.3 1.1M203.3 131.7l-.7 .4M247.4 132.8l-.3 .4M299.8 130.9l-.2 1.8M158.2 139.3l-0 .3M266.8 135.5l-.3 .1M290.8 137.4l-.3 .1M189.6 142.9l-.4 1.8M86.4 149.8l1.1 .9M136.8 152l.5 1.2M219.9 152.2l.1 1M175.2 157.8l-.7 .3M184.3 154.8l1 1.6M269 158.5l.5 1M277.8 154.2l.7 .8M282 155.5l-.9 .8M299.2 153.7l-.5 .5M69.1 164.2l-1.9 .6M298 162.2l-.1 .3M199.4 166.6l.6 .5M134.3 171.8l-.9 .5M338.5 173.5l-.7 1.5M153.5 177.8l1 1.2M205.8 181.9l1.5 1M323.6 177.5l1.4 .2M116.8 188.6l-.1 .9M345.7 185.5l-1.1 1.1M136.7 192.5l-.8 .3M151.9 192.2l.5 .7M204.4 194.5l-1.3 .9M287.2 190.2l-.3 .7M300.7 193.4l1.3 .5M24.6 199.4l-.2 .8M223.9 197.2l1 .3M189.6 204.2l1.2 1.5M266.2 205.5l.2 .1M293.8 204.1l-1.1 1.4M327.8 201.9l.6 .5M135.3 210.9l.1 1.1M263.4 211.3l.8 .1M150.5 215.5l.4 .1M177.9 218.4l-.9 1.1M234.1 215.3l-.4 1.4M246.8 215.4l.1 .7M260.5 217.5l.2 .9M353.9 218.4l.6 1.4M135.4 220l-.8 1.2M98.5 227l-1.6 .2M167.1 228.4l.3 .4M216.8 228.6l.2 0M223.4 229.9l0 .9M237.8 226.3l-1.2 .5M249.6 227.5l-.4 .1M314.6 227.7l.9 .9M321.8 228.7l-.3 1.5M147.6 236.2l-.3 .5M271.5 232.4l-.3 .5M279.6 236.3l-.9 .1M292.2 235.9l-1.1 .3M62.6 242.1l-.5 .7M102.6 240.9l-.9 1.5M111.8 238.5l.3 .1M169.4 241.1l.3 1.3M186.2 238.5l-.7 .9M208.7 242.3l.2 1M247.5 238.1l1.8 .1M287 239.2l1.9 .3M306.7 239.6l1.1 .3M84.7 244.2l-.1 .3M91.4 244.4l-.7 1.2M107.5 248.4l.3 .3M193.1 247.9l1.4 1.2M67.8 257.9l-1.4 .2M95.5 256l-1.4 1M104.7 256l-.4 .3M137.3 260l-.7 .5M291.5 260.5l1 1.5M298.4 260.1l-.4 .6M313.7 258.4l.3 .1M87.7 266.3l-1.2 1.4M101.8 264.6l1.6 .2M237.5 264.1l-.1 .3M186.7 272.5l.5 1.5M268.7 267.9l1.1 1.5M273.6 268.1l.2 1M301 271.6l.1 1.1M191.8 275.3l-.1 1M204.8 277.7l1.1 .6M107 281.8l-1.7 .8M162.6 282l-.7 .2M309.7 284.1l.6 1M108.9 288.8l-1.1 .6M145.5 286.6l-.1 .4M266.2 285.5l-.5 .7M268.9 288.6l1.2 .4M287.5 286.2l1.5 .4M199.2 291.4l.3 0M205.1 293.6l.3 1.6M266.9 295.4l1 1M293.2 296.1l1.1 0M144.6 299.8l.7 1.3M243.8 301.5l.9 .4M121.5 305.1l.1 1.5M172.9 308l.5 1.9M199.3 308l.2 .4M218.6 304.2l-.2 .2M320.5 304.6l.2 .6M344.6 304.9l-1 .1M157.7 313.8l-.9 0M296.5 312.2l-.7 .3M329.3 311.8l.1 .3M161.5 318.6l-1.1 1.2M213.4 316.5l.5 .9M193.4 331.3l.1 .8M321.2 328.1l-.9 .3M188.2 333.5l-.2 .3M233.6 334.8l-.4 .2M210.6 343.9l-.5 0M190.2 348.3l-.1 1.7M286.5 346.4l.3 1.3M326.3 349.1l.6 .9"/>
<path stroke="#646464" stroke-width="4.8" d="M202.3 6.5l.7 .7M204.7 10.4l-1.6 .4M236.2 31.2l-.8 1M122.1 48.9l.4 .7M125.4 47.5l.4 1.7M251.6 47.9l-.9 .8M115.5 59.4l-1 .7M175.1 61.3l.8 .4M264.2 58.5l-1.1 .3M168.9 73.6l-.5 1.6M154.6 77.1l-.8 .9M184.6 84.2l-.5 .4M253.3 84.1l-1.7 .1M199.7 88.4l-.5 .5M265.3 96.5l-.2 .5M278 103.6l1.4 .4M227.3 107.6l0 1.6M266.5 109.2l-1.8 .5M138.3 120.8l-.3 .3M184 120.8l.3 .9M251.3 119.6l1.2 .8M229.3 127.9l.7 .5M249.1 128l.7 .1M270.6 124.1l.3 .8M285.3 124.8l.7 0M144.5 130.4l.1 .6M304.8 129.8l-1.2 .8M328.6 136.4l.1 .2M195.8 144.5l-.2 .2M304.7 145.9l.4 .2M188.1 148.2l.9 .9M292.9 149.8l-1.9 .5M299.3 150.4l-.7 .7M130.6 155.6l.4 .3M161.9 157.7l-.2 .3M84.9 163l-.5 .7M109.8 162.4l-.2 .5M251.1 162.7l.1 .5M272 163.2l.4 .8M79.7 167.1l-.9 .2M128.6 168.5l.6 .3M174 170.5l1.3 .5M203.7 169.4l-1 .6M223.1 169.5l.7 .4M269.3 169.8l1.1 .5M280.9 168.5l-.6 .8M288.3 169.2l-.5 .7M328.4 166.1l.3 1.2M147.9 173l-.8 .4M208.6 175l-.6 0M271.7 174.9l-1.7 .1M289.2 175.5l.6 1.2M332.6 174.9l.2 .2M75.9 178.5l.7 .6M113.8 179.2l-.1 .5M192.5 178.9l-1.4 .3M270.4 179.5l-.7 .1M134 183.5l-.1 .7M179.6 188.5l-0 .5M188.3 188l.9 1.2M238.6 183.6l.2 .4M309 186.4l.3 .6M112.3 191.4l-.9 .2M174 192.6l-.7 1.5M242.1 192l-.1 .2M273.8 191.7l-.5 .9M281 190.4l1.8 0M121.6 197.9l1.9 .5M133.5 198.2l-.3 .5M157.6 199.3l.3 .4M177.8 198.5l-1.1 1.1M161.3 204.6l1.2 .3M177.5 204.7l-1.2 .6M117 212.5l1.1 .5M130.9 209.5l-1.5 1M245.6 211.9l-1.9 0M267.5 211.1l-.3 1.2M163.4 214.3l.4 1M168.6 217.8l-.9 .8M253.3 213.7l-.2 .2M310 215.1l-1.1 .5M164.2 224.3l-.6 .1M235.2 227.9l-0 .5M268.6 228.7l-1.7 .2M281.7 229.7l-.9 1.7M200.3 231.5l-1.1 .2M249 236.2l.7 .2M314.3 235.2l-1.2 .5M349.7 235.6l.3 .2M85.9 239.2l-.7 1.3M97.5 239.5l1.1 1.2M61.1 243.8l-.9 .9M81.5 243.5l.2 .7M249.1 244.6l-.3 1.4M308.5 247.1l.3 .4M312.9 247.4l-1.3 .5M327.5 246.1l.4 .5M151.4 253.3l-.2 .3M72.8 258.2l.5 1.7M96.2 261.4l.4 .3M136.2 261.8l.8 .7M322.5 265.6l.3 .3M99.1 268.8l-.2 .3M259.2 271.3l-.9 0M287.1 272.3l.1 1.4M332.3 270.3l-.2 .6M344.5 271.2l1.6 .5M180.3 278.2l.3 .3M172.3 281l-1 .7M182.3 281l1.2 .5M265 282l1.2 1.2M351.6 281.3l-.4 .6M361.4 281.7l.9 .8M176 286.1l-1.4 1.4M209.6 287l.6 1.7M217.5 287.2l-1.1 .6M324 288.3l.1 .5M349 287.5l.9 .4M127.2 295.9l-.4 1.3M157.7 295.1l-.2 .4M194.1 292.3l-.2 .5M298.1 293.4l.9 .1M315.1 295.1l-.1 .6M168.9 301.9l1.5 .5M171.9 298.2l.4 .4M293.6 301.1l.7 1.6M133.7 306.7l-1.3 1.3M181.9 312.3l1.2 1.6M193.7 310.6l-1.1 1.2M206.4 311.6l1 1M222.9 312.3l-0 .6M232.3 310.6l1.4 1.1M315.5 312.9l-.4 .6M322.5 311.4l1.7 .1M154.5 320.3l1.2 1.5M191.1 317.6l-1.5 .6M291.6 319.5l.7 1.6M353.1 317.4l.2 .3M191.8 324.2l-.4 .2M202.9 323.3l-.2 0M210.2 325.6l.9 .2M171.8 329.9l-.1 .7M221.1 331.4l-1.9 .6M263.1 331.2l-.1 1.4M361 329.3l-.4 .6M256.6 336l.7 1.3M286 334l.1 1.3M209.5 346.6l-.5 .6"/>
<path stroke="#646464" stroke-width="5.4" d="M169.9 26.4l.2 0M149.5 29.6l-.1 1.9M220.4 28.9l-.3 0M150.9 33.8l-.5 .2M186.1 36.1l-.1 1.8M127.9 41.8l-.2 .4M142.5 46l-1.9 .3M118.1 53.8l.8 1.7M130.8 61l.6 1.3M151.4 59.2l.9 .9M217.6 59l-.5 .5M206.5 64l-.3 .5M137 70.8l1.2 .9M156.4 69.7l-1.4 1.1M120.5 78.5l.4 1M207.2 78.1l1.2 .8M286.3 78.5l1.5 1.2M153.5 81.4l-.2 .2M235.7 90.6l.5 1M260.9 88l-1 .1M264.8 88.2l-1.8 .4M228.4 102.3l1.6 .5M261.9 112.1l1 .2M150.8 120.6l.8 .3M220.4 119.1l.7 1.4M289.6 121.7l.6 .7M290.7 128.2l-1.4 .9M311.3 124l.2 .6M313.2 128.6l.6 1.7M89.4 130.2l.5 .9M274.5 130.7l-.5 1M118.4 139.7l.2 .2M209.2 136.1l.5 1.2M259.9 139.1l-1.1 .5M138.7 146.2l-.9 0M145.2 146.6l-.1 .3M301.3 146l-.2 1.8M171.7 147.6l-.8 .1M208.5 151.5l.3 .1M250.2 150l.2 .6M272.7 149.3l.3 .1M138.5 156.3l-.7 1.4M170.1 154.7l-1.3 .1M214.3 153.6l-.4 1M251 158.6l.2 .1M287 155.9l.1 .6M294.5 156.8l1 .5M332.4 157.3l-.2 1.7M93 162.9l.1 .9M171.8 163.1l1.2 .1M289.8 160.5l-.5 .3M103.9 169.7l-.1 .2M153.7 165.4l-.3 .8M248 169.6l.7 .9M249.9 166.1l1 .5M317.8 165.9l-1.9 .2M85.1 174.6l.6 .2M92.6 171.6l-.3 1.2M131.3 174.4l.6 .2M155.2 173.4l-1.2 1.6M233.3 171.6l.4 1.5M152 178.5l1.2 1.1M179.2 181.9l.1 1.8M262.5 180.8l-.8 1.2M279.5 178.6l-.6 .7M99.7 186.3l-.6 1.8M128.2 188.1l.3 .5M158.1 184.8l.4 .2M264.6 183.8l-.3 .9M285.4 185.2l.4 .3M304.6 185.5l.6 .6M315.4 184.2l-.3 .4M110.3 199.5l-.7 1.3M117.2 197.6l-.6 .5M194 198l-.5 1.7M280.1 198.2l-.7 .2M314.4 196.9l-1 1M326.6 197.6l-.6 .7M197.3 203.2l-1.2 .6M289.3 201.8l-1.3 .2M301.6 203.2l.5 .9M194.8 211.4l.6 .7M205 208.6l-.2 1.5M288.6 211.6l-1.9 .6M333.5 209.6l.7 1.2M211.7 216.4l-.3 .2M285.5 216l-.8 .3M329.5 214.1l1.8 .3M119.5 219.6l1.1 .2M226.2 223.7l.6 1.8M284.3 224.1l1 1.2M301 220.9l.6 .7M315.6 221.1l-.9 0M164.3 230l-0 .4M330.9 228.9l1.6 1.1M360.4 227.6l-.9 1.3M41.1 234.5l-.7 1.2M244.6 232.5l.1 .3M79.9 238.3l-2 .2M122.5 242l-1.7 1M265.3 240l1.5 .6M301.1 238.1l.7 1.2M253.4 244.2l-1.1 .3M286.9 245.8l.2 1.3M55.3 253.1l-.1 2M102.3 252.1l-1.2 .7M132.4 251.7l-.6 .1M235.1 252.8l1.5 .6M247.5 252.1l-1 .6M274.7 249.8l1 1.7M286.6 251.6l.9 1.7M196.5 259.9l-.9 .7M273.9 259l-1 .2M327.8 260.2l.7 1.3M75.6 264.4l1.5 .6M192.8 264.8l0 .2M202 262.2l-1.1 1M218.1 266.3l-.2 .5M297.8 265.7l.9 1M342.6 264.7l.9 1.2M81.1 271.3l.9 .9M172.3 270l-1 1.1M245.6 271.5l1.5 .3M277.3 272.4l.1 .9M315.7 268l1.2 .8M348.4 272.5l1.4 .1M84.9 276.8l.1 .5M140 273.6l-.1 .5M170.1 276.6l-1.5 .6M208.8 278.5l-.8 .4M295.3 276.5l1 .8M371.5 276.6l.8 .8M139.3 280.4l-.5 .4M193.1 282.8l-1.5 1.1M211.3 283.7l-1.3 1.3M224.7 283.3l.7 .1M230.3 280l-.4 .2M242.3 284.6l-.4 .7M262.8 280.6l-.2 .2M328.4 283.7l-.6 1.5M119.1 285.7l1.9 .3M133.5 285.6l-1 .8M138.2 289.9l1.2 .3M165.7 286.6l1 .4M226.3 286.9l.2 1.4M233.4 289.5l-.1 .3M251.3 290.1l.7 1.8M354.2 287l-1 1.1M246.9 295.6l.9 .8M307.3 292l-.5 1.4M369.8 295.6l.5 .1M198.4 300.5l.9 .2M222.3 300.2l-.7 .3M259.2 299.7l0 2M261.5 301.8l1.6 .4M360 300.8l.3 1.7M117.1 303.8l.1 .8M165.9 304.3l.1 .7M213.4 304.7l.7 1.7M307.8 308.5l-.3 1.3M185.9 310.3l.3 .2M210.8 314.5l.2 .1M310.6 317.6l-.4 1.4M233 322.7l-.2 1.5M278.3 325.7l1.1 .1M288.2 326.2l.6 1.3M317.9 323.2l-.6 .7M140.4 327.9l.2 0M205.9 329.5l.4 1.9M327.1 332.6l.7 .8M355.5 331.9l-.3 .7M323.5 338.4l-1.6 .4M265.1 344.5l-1.4 .1M309.1 343.6l1.3 1.3M317.1 343.5l-.4 .2M180.5 346.3l1.7 1M256 350.1l-.2 1.7M270.4 345.5l-1.6 .4M305.3 349.8l.3 1.5M216.8 359.8l.4 0"/>
<path stroke="#646464" stroke-width="6.0" d="M219.7 18.2l.8 .7M181.1 28.3l.2 1.3M170.5 42.5l-.5 .4M176.3 42.6l-.9 1.6M142.6 68.4l.4 .2M151.6 71.1l-.6 .2M269.7 72.7l-1.5 .9M212.7 79.8l-1.1 1.2M247.9 79.1l-.3 1.5M263 79.1l-1 .8M132.9 85.3l1.2 .5M162.1 83.3l-1.9 .4M222.1 94l-.1 .4M229.5 93.6l.1 1.8M255.6 111.9l1.1 1.4M142.3 118.6l-.2 .8M182 119l.7 .1M104.2 123.6l.4 1.8M152.3 125.1l1.4 1M159 126.2l-1.7 .6M243.9 128.6l.2 1.1M116.5 134.1l-.5 .3M137.1 134.3l.2 .3M326.1 134.2l-.2 .1M81.8 139.2l.4 1.9M137.1 138.7l.2 1.8M131.2 143.9l-.2 .2M178.1 143.3l1.3 .6M211.2 143.8l.1 .5M220.7 143.2l-1.3 1.5M246.4 142.8l.9 .3M265.6 142.2l-.9 1.3M83.5 151.1l1.2 .9M99.6 152.5l-.8 .6M166.8 148.9l-.7 1.1M174.7 151.2l-.1 .4M203.3 149.9l1.5 1.2M254.3 151.4l-1.1 1.7M307.6 152.4l-1 .8M118.6 155l.2 .3M206 155.6l0 .6M307.9 155.6l1.2 .2M135 162l-.2 .1M147 159.8l.6 1.3M153.2 163.5l1 .6M199.9 160.3l-.5 .3M80.4 173.1l-1.3 .1M114.4 172.5l.5 .7M265.2 172.2l.6 1.4M297.8 174.7l1.3 1.3M91.1 178.3l-1.9 .4M108.2 178.6l-.3 .5M143.9 182.1l-1.1 .1M167.1 181.3l-1 1.7M186 178.5l1.2 0M333.7 178.2l-.2 .8M17.2 187.4l-.4 .1M181.4 184l.6 1.8M224.1 189.6l.8 1M294.1 189.9l.7 .9M99.1 197l.3 1.5M126.7 199.3l.4 .1M142.9 196.4l1.4 .1M169.7 199.6l-.2 .2M235.6 196.4l.3 1M30.4 205.7l-.6 .7M130.7 202.6l.2 .5M217.8 204.1l.8 1.2M315.5 205.1l0 .5M124.8 209l.5 1.6M157.7 209.2l-1.5 .1M231.2 209.2l.6 1.3M248.5 211.7l0 1.5M309.6 210l-1.8 .5M133.8 216.3l1 .3M206.2 216.8l.7 .8M239.5 215l.7 1.4M263.8 215l.3 .2M294.5 215.1l1.6 .2M315.7 216.3l.5 1.7M177.5 224l-1.1 1.4M200.7 221l.1 .4M235.2 224.2l-.1 .9M274 222.5l.1 .8M229.9 227.4l1.6 .6M256.9 227.4l-.6 .9M345.8 228.1l-.4 .2M99.5 235.6l1.5 1.1M129.5 233.8l-0 .7M132.7 239.1l2 0M330.5 239.4l.5 .2M318.9 245.9l.7 .8M65.3 254.4l.2 .1M70.2 251.3l-1.8 .6M82.9 253l.7 .6M109.5 252.1l.2 .5M238.7 250.5l.3 .5M58.5 257.8l.2 1.3M64.7 256.4l-1 .8M254.4 259.9l.3 1.3M58.3 264.4l-1 .7M160.5 266.6l1.1 .6M223.9 265.4l-1.5 .4M225.8 266.4l1.4 1.1M310.2 262.5l-.2 .1M369.5 262l1.4 .6M94.3 271.6l-1.7 .7M327.4 271.1l-.1 1.3M103.3 274.5l-.2 .3M121.8 277.8l-1.2 .6M340.9 275.3l-.2 0M74.2 283.9l.5 .9M200.7 283.1l-.4 .7M181.4 287l.3 1.9M274.7 288.1l-1.5 .3M171.7 292.7l-.6 0M224.7 295.3l-1.8 .1M252.8 293l-.7 1.2M271.4 294.6l.5 1.5M350.8 293.4l.8 .1M372.5 295.8l.1 .7M183.6 299.5l-1.1 1.4M211.7 302.5l-.6 .4M253.5 302.1l.6 .3M275.1 299.6l-.6 .3M314 301.7l0 .7M140.7 308.1l-.3 1.2M160.6 305.7l-.6 1M233.2 307.6l.8 1.2M302 306.9l.5 .1M150.5 310l-.8 1M238.2 315.8l-.4 .4M294.1 321.9l-1 .7M162.3 336.7l-.8 .3M208.1 336.4l-1.2 .9M300.7 333.5l-.3 .1M232.8 341.8l0 .6M234.3 349.1l.1 .8M294.6 349.2l-.6 .1M299.8 349.2l.3 .7M327.7 348.7l-1.6 .5M310.9 358.3l-0 .6"/>
<path stroke="#727272" stroke-width="4.8" d="M129.9 37.2l.9 1.5M173.1 37l-.3 .1M192.6 35.5l.9 .4M139.3 48.6l-.6 .7M224.6 47.5l-.5 .6M143.2 52.8l.7 .3M208.2 54.4l-0 1.8M191.8 60.8l.4 .8M261.6 66.6l-1.4 1.2M142.4 70l-.4 1.8M187.5 71.5l-.5 .1M149.6 75.5l-.1 1.7M171.8 77.9l-0 1.1M191 75.7l1.4 .7M242.7 76.4l-.9 .1M278 75.6l.5 .2M137.9 86.4l-0 .3M190.5 81.7l.9 1.6M246.4 82.3l.3 .2M151 91.6l1.6 .6M300.1 98l-.3 .8M292.3 103.3l-1.5 .1M232.7 109.3l.2 1.3M274.3 105.5l-1 1.4M282.5 109.9l-.5 1M170.7 114.6l-.2 1.1M115.5 118.5l1.4 .5M177.3 125.1l.1 .6M195 123.9l.4 .3M225.7 125.5l.7 .1M305.5 123.6l-.3 .7M131.5 133.4l-.8 .1M179.6 133.7l1.4 .8M199.3 132l-.2 .2M242.5 131.4l-.7 1.6M250.6 131.1l.1 .2M193.2 139.9l.8 1.7M222.5 137.8l-.8 1.7M255.4 138.6l1.6 .3M112.7 143l.3 .1M186.4 144.8l.1 1.9M290.3 144l-.3 .3M232.1 147.7l.6 .1M90.8 156.2l1.2 .1M209.9 156.5l.3 .1M233.5 155.3l.1 .7M237.7 158.3l-.4 1.2M318.8 154.6l.2 .1M11.2 160.8l.3 .2M81.6 162.6l.4 .7M119 163.6l.7 .8M189.5 161.9l-1.3 0M279.4 161.4l1 1.5M311 164.5l-1.1 .6M320.9 161.9l-.4 .2M214.5 167.6l.1 1.2M299.5 167.6l-0 1.3M310.9 165.6l-1.4 .9M177.2 172.9l.8 .5M224.4 173.6l.3 .1M239.3 172.5l.6 .2M95.4 178.5l-.4 .2M161.5 181.2l1.3 .2M253.3 181.5l-1.6 .8M298.7 180.3l-1.1 1.2M320.5 181.7l-.7 .8M108.9 187.9l.1 .2M140.9 187.1l-.8 .2M198.9 186.4l1.4 .9M207.5 186.9l0 1.6M220.7 187.5l.1 .3M262.7 187.6l1 .3M107.1 191l-1 1.2M141.8 190.4l-.3 .1M211.1 189.5l-.5 .6M268 191.6l-.6 1M304.2 192.3l1.3 .2M319.2 190.1l-.4 .9M331.8 189.8l-1.1 1.3M295.7 200.5l1.1 .9M305.2 196.8l.3 .2M311.4 200.4l-.9 1.2M154.4 201.6l.4 .9M174 205l-1.1 .1M209.5 205l-.1 .4M226.5 204.3l.2 1.4M324.3 202.4l-.2 .5M145.9 208.8l-.4 .1M221.6 224.3l-1 1.5M132.1 228.4l-1 1.7M298.8 228.4l-.8 1.1M77 233.4l.2 .2M82.3 231.6l-.1 1.4M112.6 232l.2 .4M262.6 235.9l-1.1 1.2M303.9 231.8l.1 .7M174.5 237.8l.4 .4M206.1 238.7l-1.3 .1M295.2 242.3l.6 .6M323.7 240.3l.9 .3M66.7 244.3l-1 1.6M224.3 247.9l-.1 .3M297.4 247.4l-.6 .1M339.9 247.5l.5 1.8M117.6 253.2l.5 .5M162.1 250.6l-1 .2M172.9 250.6l-.2 .6M190.5 252.8l.3 0M281.8 254.2l-1.1 1M97.8 255.9l-.1 .2M138.8 256.2l1.2 .4M203.4 257.6l-1.3 .5M349.3 257l.8 .6M88.1 271.4l-1.2 1.1M175.8 271.7l-.8 .2M368.1 267.8l-0 .8M126.4 275.6l1.8 .8M172.2 276.9l-.5 .1M213.7 273.4l.3 .7M222.8 277.1l0 .5M276.9 276.6l.5 .1M314 274.4l.5 .3M318.4 275.9l.7 .6M239.4 281.4l-.3 1.1M281.2 279.7l.9 1.2M303.3 281.6l-.1 1.1M347.1 281l.2 1.5M79.9 287.9l-1.4 1.4M126.9 287.2l-1.4 .1M223.4 287.9l1.8 .1M282.9 289.1l-.9 1M311.9 290.3l-1 1.4M115.3 294.6l-1.8 0M125.2 293.4l-.3 .8M149.5 291.5l-.5 .6M214.6 294.5l.6 .1M282.8 295.5l.1 1.1M163.4 298.4l.7 1.1M227.2 297.9l-.6 .7M242.1 299.7l-1.2 .7M189.4 306.3l-.5 .8M328.6 305.2l.3 1M248.2 310.3l-1.8 .3M285.5 310.5l0 1.9M313.2 313l-.2 .5M197.2 318.8l.4 .2M218 317.9l-1.1 .8M231.1 320.2l-.5 1M277.5 317.9l-1.6 .8M312.4 320.6l-.6 1.1M187 323.8l1.1 1.6M284 325.4l-0 .5M300 325.4l-.3 1.2M304.6 325.8l-.3 .9M296.6 329.4l.2 .9M308.7 329.4l-.9 1.3M316.3 328l-1.8 .8M167.7 338.4l-.9 1.1M245.4 335.2l-.1 .3M309.5 335.3l.2 .5M317.7 335.5l.2 .5M209.4 342.3l1.3 .8M260.5 343.8l-1.4 .1M233.5 353.6l1 .1M286.3 353.5l-.8 .9M251.7 359l-.3 .9M295.8 359.1l-.1 .5"/>
<path stroke="#727272" stroke-width="5.4" d="M159.2 28.1l-1 .2M164.2 45.6l1 .9M214.9 50l-.3 .4M258.5 48.4l1.4 .6M173.1 56.4l1.4 .6M223.5 53.6l-1.6 .9M124.5 67l-0 1.2M149.9 84.3l-1.4 .6M242.1 96.5l1.8 .8M246.6 97.5l.6 .4M244.6 101.8l1.5 .3M240.7 109.1l.1 .3M147.9 116.1l.3 .1M298.8 114.6l.1 .4M112.4 127.2l-.5 1.5M208.2 126l-1.1 .5M238.6 127.5l-.5 1.3M279.6 127.9l0 1.2M155 130.2l-.3 .3M280.8 130.3l-.4 .1M98.4 136.4l.2 .5M107.5 140.3l.7 1.8M163.6 139.2l-.3 1M303.9 136.7l.2 1.5M225.6 142.1l-.3 1.2M279.9 144.4l-1.3 1.2M301.1 149.5l-.8 .2M67.3 156.3l-.6 .8M114.3 155.5l.5 .7M247.9 156.2l.1 1.7M112.3 167.9l-.3 .1M241.7 169l.4 .4M340.6 165.7l-.2 .3M75.4 175l-1.4 .6M108.5 172.2l.8 .8M170.6 174.6l1.3 1M220.5 172.3l.8 .3M255.6 174.4l-.6 .3M279.2 175.7l-1.1 .5M308.5 173.4l-1.1 .4M325.3 175.7l-.5 1.6M81.9 180.1l1.1 .9M139.7 181.1l-.5 .3M246.5 178.4l0 .7M256.1 186.2l-.1 .3M279 183.8l1.9 .1M334.7 190.4l-.4 1.4M182.9 199.5l-1.1 .7M204.9 199l-1.4 1.3M250.6 199.8l-.5 1M116.4 203.5l.2 .6M152 205.9l-1 1.1M221.8 205.7l-.5 1.7M240.9 203.8l-.7 1.3M273.7 205.7l-.5 1.6M283.5 206.3l1.5 .8M143.4 208.6l.2 .7M214 212.1l-1.3 1M271.3 212.3l1.8 .8M287 208.7l.6 .1M301.5 212.2l1 .8M119.2 215.8l.3 .5M200.5 216.6l.4 .7M227.9 216l0 1.4M341.3 216l-.9 1.2M210.6 220.9l-.2 .1M261.7 223.2l.3 0M299 219.4l.6 .1M243.4 228.2l-1.8 .5M274.4 227.5l.4 .8M340.3 226.9l-.5 .9M157.2 235.7l-.4 .9M181.5 235l-.9 .6M236.8 231.6l-.1 .7M269.1 235.6l-.3 .1M106.8 238.8l-1.2 .8M142.4 238.1l0 .3M163.8 238.8l.8 .2M237.8 241.5l.4 .8M258.9 237.5l.1 .6M269.7 238.7l-1.9 .1M155 245.8l.2 .4M172.4 245.3l-1.5 0M214.2 243.6l-.5 .2M335.3 246.8l-.5 .7M177.9 253.5l-.2 .1M259.7 251.3l-1.2 .4M294.6 251.1l-.9 .6M81 258.2l.9 .6M85.7 256.4l.9 .2M126.5 255.5l-0 .4M240.5 259.6l-.5 .5M319.4 259.1l1.9 0M331.8 256.5l-.8 1.4M106.9 263l-.3 1.2M198.1 263.2l.1 .5M232.5 262l-.8 .2M246.4 262.9l.3 0M258.6 266.4l.1 .9M292.8 263.3l-.4 1.5M59.5 268.7l.2 .4M138.8 271.5l1.3 .4M224.2 268.6l-0 .3M235 272.6l1.1 1.3M162 273.5l-.1 .8M228.2 275.8l1.4 1.2M301.7 276.5l1 .4M304.3 276l-1.2 1M147.2 283.4l-.2 .3M206 279.8l-.6 .5M335 283.3l1 .9M113.5 290.4l-1.4 .2M149.4 287.7l1.6 .5M186.1 289.1l.7 .6M105.8 296l.7 .4M230.1 295.7l.6 .3M235.3 292.9l.2 1.1M277 292.6l.1 .3M96.9 299.1l.2 .1M180.5 300.8l-.1 .2M270.2 300.2l1.5 .3M340.3 299.3l.4 1.5M198.8 314.3l1.4 1.3M340.8 314.1l-.3 1.2M350 313.3l-.9 .3M224.6 319l-.3 .6M301.4 319.4l1 1.4M320.2 318.1l-.9 .5M175.7 321.9l.1 .5M179.6 322.5l-.6 .2M190.2 329.8l.2 .2M201.5 328.8l.5 .1M265.7 329.4l-.1 .4M332.9 327.9l1.3 .7M205.2 337.7l-.3 .1M220.6 337.7l.9 .4M228.6 336.3l-.2 .7M306.9 333.5l-2 .2M174.6 344.3l.9 .6M269.4 353.4l-.7 0M271.8 353.7l-1.2 .3M232 364.4l1.1 1.6"/>
<path stroke="#727272" stroke-width="6.0" d="M207.7 2.5l.2 .6M212 46l-.8 1.4M158.9 55.6l-1.9 .2M190.5 52.6l1.5 .8M214.5 53.8l-1.2 .2M125.1 60.2l.7 .9M171.4 68.3l-.3 .1M227.5 92.5l1.1 .7M244 91.1l-1.2 .5M283.2 92.2l-.4 1.4M294.8 90.4l-.2 .3M294.7 106.1l-1.7 .7M138.5 113.6l.8 1.5M271.6 113.8l-.2 .3M193.4 120.5l.8 1.6M270.6 122l.4 .7M298 118.2l.6 .9M98.7 128.5l.9 0M143 128.5l-.1 .3M298.8 127.6l.6 1.1M119.4 133.8l1 .7M161.7 132.2l-.9 0M166.8 129.6l.8 .3M175.1 131.2l-.2 1.2M208.9 133.5l-.4 1.4M270 134.2l0 1.2M290.3 130.3l-.8 1.3M128 138.2l.2 1.4M139.3 139.4l.4 .2M311.6 139.9l.2 .4M89.5 144.7l-.3 .2M101.5 145.9l-1.3 .6M92.8 147.6l.9 1.1M118.3 150.1l-1.4 .2M160.2 148.1l.2 .1M193.7 149l-.7 1.8M267.7 151.5l.2 1.9M324.5 150.3l.2 .8M80.4 154.8l-.1 .2M85.7 154.8l.9 .8M104.1 158.2l.6 1M180.2 157.3l.4 .2M226.4 153.5l-1.3 .8M194.5 163.9l.8 1.3M207.6 161l1.5 .9M229 162.1l1.3 0M333.3 161.8l-1.2 1.3M72.8 167l-0 .5M133.2 166.2l.5 .4M142.3 166.4l-.7 1.2M234.1 170l.2 .7M245 175.9l.3 .7M120.9 180.1l1 .6M196.4 182.3l-.2 .7M237.7 179.5l-.5 .4M23.6 186.8l-0 .3M242.7 185l.1 .4M161.1 192.8l-.8 .8M230.3 191.9l-1.1 .9M314 192.7l.6 .1M255 198.7l1.6 .4M265.7 198l-.8 .5M340.2 196l-.3 1.3M150.6 209.5l-1.3 .4M165.2 210.2l.4 .5M323.8 218.5l.8 1.8M124.6 222l-.4 1.7M232.6 220.2l-0 .9M244.3 219.6l1.4 .1M247.9 221.2l-1.3 1.3M281.6 222.3l.4 .2M326.1 220.4l-.3 .8M352.5 220.1l.9 1.4M105.7 228.9l1.4 1.2M149.4 230.2l.4 .2M180.2 226.5l1.6 .3M295.1 227.7l.5 1.6M124.3 235.8l.7 .8M154.8 232.2l-.6 1.5M188 232.5l-1.1 1.2M207.8 233.1l-.6 .1M255.2 235.9l1.5 .3M87.6 239l1.1 .3M139.4 238.4l.8 .6M139.4 246.5l-.4 .1M174.5 247.7l.5 .6M218.9 244.8l-1 .3M229.6 245.3l-.7 .5M274.8 247.3l.2 1.7M61.6 251.2l.8 .6M113.5 253l-1.7 .5M208.2 251.7l-.3 1.1M317.4 250.3l-.4 .1M350 253.9l.4 1.9M152.6 258l1.6 .6M124.8 264.8l.5 1.2M129.8 263.2l.4 1.1M158.1 263.3l1.2 1.4M175.2 265.6l-.2 .9M181.8 263l-.5 .5M185.4 263.2l-.2 .4M252.6 265.5l-1.1 .6M272.1 266.1l-.3 .2M280.1 261.8l1.4 1M353.5 263.5l-.1 .3M249.6 268.1l.5 1.3M94.5 273.8l.1 .3M233.3 277.9l-.4 .7M159.3 280.3l.3 1.2M188.6 280.1l.7 .1M250.5 280.3l-.7 0M255.3 283.8l-.2 1.4M289.5 280.7l.1 1.4M195.5 286.4l.1 1.6M203.2 287.7l.8 1M342.4 288.2l-1.3 .2M152.6 294.7l1 1.2M335.1 294.2l.3 .9M365.1 295.9l-.8 .3M236.5 299.2l1.2 .6M281 298.3l-.9 1.2M288.6 298.2l.8 .6M325.7 299.4l-.1 1.4M349.3 298.6l-.1 1.7M131.5 306.4l.7 .3M144.6 308l.6 .9M152.7 304l-.8 1.3M178.7 303.8l1.3 .3M235.5 304.8l-.8 1.1M296.2 305.6l-.6 .2M335 303.8l.5 .2M139.1 310l.5 .8M169.6 311.7l-.2 .2M218.2 310l1.3 1M241.9 310.3l.6 .7M140.8 315.7l-1.2 1.5M170.7 318.9l-0 1.5M175.6 319l.9 1M244.7 316.6l-.4 .8M284.8 319.6l1.4 1.2M261.6 321.7l-.4 1.8M268.6 323.8l-1.4 .1M333.5 326.4l.1 2M212.9 328.2l-.7 .5M247.8 330.7l-.4 1.2M302 328.6l-1.9 .6M336.5 329.4l-.9 .1M343.8 327.4l.1 .7M178.6 338.3l-.6 1M194 336.7l-1.5 .4M199 335.5l-.9 .3M215.3 336.7l-1.2 .3M237.9 338l.4 .4M250.8 338l.7 .2M269 338.4l.6 0M185.4 342.1l1 1.1M202.9 341l-.7 .6M249.9 341.5l1.1 .3M271.4 340l-.4 .3M284.2 349.3l1 1.4M255.2 351.7l-.6 0M283.6 359.7l.5 .1M285.9 361.1l-1.4 1M254.6 364.9l-.3 .2"/>
<path stroke="#7c7c7c" stroke-width="3.6" d="M121.2 5.4l.7 1.6M8.3 17.1l.9 2.9M36.9 19.6l.1 1.2M146 20.2l2 2.9M119.4 22.4l2.1 .9M16.3 62.4l.6 2.2M254.9 68l2.1 -.5M80.5 78.4l3.4 2.3M98.1 84.2l3 3.3M27.7 87.5l3 1.2M116.3 108.4l3.5 2.7M212.4 120.2l3.9 .9M53 123.9l.5 2.1M85.9 123.6l.8 4.1M13.7 138.1l0 1.3M28.7 152.4l2.1 3.8M55 148.1l1.9 1.3M30.7 167.8l.4 1"/>
<path stroke="#7c7c7c" stroke-width="4.4" d="M19.6 13.9l.8 .7M30 11.8l1.4 2.2M174.1 11.2l-.4 2.7M52.1 25.6l2.2 2M137.1 23.8l.9 .9M89.6 33.9l1.4 2.6M38.3 56.5l-.2 3.4M25.4 62.5l.5 3.4M50.9 64.9l1.4 .9M101.4 89.5l2.4 2.1M104.7 88.2l.1 1.6M114.7 90.8l1 1.8M31.8 96l.5 1.6M120.7 113.2l.4 2M58.4 118.7l3.9 -.1M62.5 156.8l.9 1.4M42.7 163.8l-.1 1M73.1 195.6l3.8 1.8M91.3 209.9l3 1.9M80.2 215.7l1.7 .9"/>
<path stroke="#7c7c7c" stroke-width="5.2" d="M135.3 15.7l.2 2.5M234.8 46.8l.7 1.2M66.4 66.6l1.7 2.7M90.3 71.4l2.6 3.5M28.8 77.5l3.2 1.5M144.7 91.8l3.8 1.2M100.8 100.4l2.7 2.9M113 102.2l1.4 3.1M187.7 102.5l3.2 2.1M58.5 113.5l1.9 3.6M38.3 121.9l1.8 .9M28.4 141.7l2.6 1.8M87.9 194l1.9 .1M88.5 208.9l1.1 2.8"/>
<path stroke="#808080" stroke-width="4.8" d="M165.9 35.2l-.6 .9M187.9 44.5l.1 1.7M133.3 50.2l-.3 .1M165.9 46.2l-.9 1.3M133.5 52.6l.4 1.8M203.3 51.6l.3 .3M211.4 65.4l-.7 .6M170.3 85.1l.4 .2M248.6 100.2l-1.3 .3M266.8 101.8l.4 .3M272.5 106l-0 1.6M240.8 112.5l1 1.5M118.6 127.7l-1.8 .1M101.3 134.5l-.4 .2M145.6 135.5l-1.9 .5M184 136l1.1 1.5M187.7 139.6l-1.2 0M248.1 139.8l-.3 1M121.7 145.3l-.1 1.2M259.6 146.4l-0 1.1M272.3 145.7l-.9 .2M293.9 145l.4 .7M322.3 144.6l-1.1 .2M183.6 152.1l.3 .3M278.3 151.5l1.4 .9M283.9 152.6l1.5 0M5.5 154.9l.2 .2M77 164.5l-1.2 1M103.2 160.1l1 .7M142.4 163.3l.3 0M214.5 161.2l-.7 .1M242.6 161.8l-.2 .3M8.5 165.6l-.5 .6M10.3 167.5l-1.3 .6M89.3 169.1l-.9 .2M305.3 173.6l1.3 1.5M101.3 179.1l-.5 .5M132.3 178.4l-1.3 .6M172.8 178.1l-.1 .7M287.5 178.1l-.7 .2M125.1 186.6l-.4 0M162.6 184.1l0 1.2M120.9 189.8l0 .2M129.9 192.8l1 1.3M195.8 192.2l1 .1M252.6 193.5l-1.1 1.5M264.1 191.2l-.7 .2M190.5 199.8l.7 1.6M282.6 199.9l1.7 .6M333.1 199.3l.3 .9M349.2 198l.3 .8M307.5 204.7l.4 .4M340.7 203.1l.1 .9M38.9 210.9l1 1.7M237.1 210.6l-1.9 .2M279.6 209.3l-.3 .9M329.2 208.1l1.1 1M206.6 220.8l-.4 .3M84.4 225.7l1.1 .9M112.7 228.1l.3 1.8M121.4 228.9l.8 .7M199.6 226l.4 .1M206 228.4l.1 1.2M308.1 229.6l-1.1 1M336.9 229.9l.4 .2M118.8 233.7l1.1 .3M132.9 234.4l.9 1.5M164.3 233.7l-1.5 .6M330.6 233.9l.2 .4M74.4 239.3l-.9 .1M124.3 240.1l-.3 0M158 239l.3 1.5M232.3 240.8l-.5 0M277.5 240.4l.6 .3M316.8 239.5l.1 .6M335.7 239.3l-.3 .1M56.4 245l1 .4M113.6 244.2l-1.5 .2M130.4 246.9l-.9 1.2M206.5 245.5l.8 .4M352.2 244.7l1.6 .9M145.2 252.6l.6 .4M220 252.7l-.3 .1M298.1 249.6l-.1 .8M165.7 259.1l-.4 1.2M178 256.9l.3 .2M188.3 259.9l-.6 1.8M343.8 258.2l-.5 .5M121.4 263.3l-.2 1.6M266 266.3l-1 .3M305.3 264l-.1 .5M229.6 268.4l-0 .6M150 278.2l.2 .9M188.5 277.9l-.2 .5M241.3 274.2l1.4 1.4M264.2 273.8l-.3 .4M283.8 274.7l-.1 .9M287 276.4l-1.8 .4M359.1 277.1l.3 .7M124.3 280.7l1.8 .3M130.9 283l1.4 .9M153.4 281.1l-.2 .1M297.8 282.4l-.2 1.9M337.3 287.5l-.3 .2M361.4 288.5l-.2 .1M109.9 296.2l-.7 1.6M143.2 294.2l.3 .2M184.7 294.3l-.7 .4M245.3 293l-.8 1.3M259.3 295.1l-.1 .4M133.5 300.1l.5 0M156.1 298.7l.2 .5M192.4 298.6l-1.8 .5M204.8 300.9l.2 0M216.2 298l1 1.2M246.8 306.5l.4 .3M257.2 308.4l-1 1.2M316.4 307.8l-.3 .9M162.1 312.7l-.5 1.2M251.3 315.5l-.1 .8M334.4 318.9l-.7 .5M339.4 319.1l-.7 1.3M133.5 323.9l1.2 .7M136.5 324.5l-.6 .6M148.3 321.7l.4 1.3M199.2 323.7l.3 .4M214.1 324.3l-.8 .4M260.1 322.7l-.3 .2M184.7 329.3l.6 .3M233.1 327.6l.1 .2M274 328.7l.3 .3M329 337.9l-.2 .6M336.7 335.6l-.5 1M225.5 342.8l-.5 .8M243.9 344.4l-.7 .2M301.9 339.8l-.9 .6M241.5 348.6l-1.1 .4M263.7 347.6l-1.4 1.4M271.9 364.2l-.1 1.8"/>
<path stroke="#808080" stroke-width="5.4" d="M210.5 13.9l1.2 .1M195.2 30.3l1.2 .1M214.9 36.8l.1 .5M125.6 39.5l.4 .2M143.1 40.3l1.2 .9M152 40l-.6 1.8M131 52l-.1 .2M142.9 58.3l1.6 .7M110.9 63.6l-1.1 .1M226.3 70.9l-1.1 .5M174.9 84l-.2 .3M218.4 90.8l.3 .7M249.7 89.2l-.6 .2M272 90.3l.1 .5M255.7 103.7l-.5 .1M269.6 111.9l.3 .4M313.7 114.1l-1.3 .9M168 118.4l.1 .2M171.9 121.6l1 0M232.9 120.3l.4 .3M246.1 120.1l-.3 .1M291.4 118.9l1.3 1M122 123.9l.9 .4M129.4 125l1.8 0M132.8 123.8l-.8 1.7M86.9 139.5l-.6 .4M95 145.3l.7 1.4M162.3 146.2l.4 .6M252.5 142.1l1.2 .3M76.7 150.9l.2 1.9M212.5 150.9l1.2 .8M225.1 150.9l1.3 .9M260.9 150.9l-.6 .3M316.8 150.5l-.2 1M98.2 161.1l-.6 1M166.6 162.4l-.8 .9M238.5 162.9l.3 .1M336.9 163.1l-.1 2M16.8 169.8l-.7 1.4M94.4 170.6l.9 .3M211.8 167.4l-.1 .5M275.1 165.5l.3 .2M296 167.9l.2 0M139.7 172.4l.1 1.9M181.9 175.9l.1 .3M202.1 176.2l.6 1.7M214.5 171.7l-.1 .9M261.2 174.4l.8 .7M285.9 175.5l-1.5 1M72.6 177.4l-.3 .2M234.6 179.1l-.8 .9M93.7 186.1l-1.1 .9M196.3 183.9l-.2 1.3M212.5 185l-.6 .2M231.5 185.9l.9 1M178.9 192.2l.6 .4M216.9 190.1l1.2 1.5M346.9 192.3l-.8 .2M272.4 196.5l.7 .6M291.4 196.9l-.5 .1M123.8 206.2l.7 1.2M187.3 204l1.6 1.2M203.8 204.1l-.9 1.1M245.5 204.4l-.6 .3M252.5 204.8l-.8 .1M256.3 203.3l-.3 .3M183.9 210.5l.2 1.1M190.9 212.2l1.5 1.1M199.2 210.6l-.3 .3M225.1 211.4l-.3 .1M253.3 212.4l.1 .3M298 208.6l.7 1.4M339 211l.9 .9M269.6 214.6l-1.7 .6M297.9 214.3l-.4 .4M338.5 213.4l-.9 .6M130.4 219.5l.4 1.6M157.3 219.5l-.8 1.2M264.7 220.3l.2 .6M89.8 228.8l-0 1.5M103.2 228.7l1.1 .3M126.1 229.9l-.7 1.2M142.3 226.2l1.7 .3M91.3 234.4l.2 .2M323 235.1l.5 .1M66.4 238.6l.5 .4M350.2 237.6l.6 .4M124.4 244l-1.8 .6M183.6 243.7l.1 .9M189.4 245.3l-1.3 .9M261.7 244.2l.8 .1M276.7 245.1l.6 1.3M75.5 250.6l-1.4 .7M329.9 250.2l1.7 .6M110.6 256.1l-0 .9M181.1 258.8l-1.3 .5M204.7 256.9l1.1 .1M251.2 256.2l.8 .3M268.1 260.6l.8 1.1M307.2 256.1l-.9 .5M168.2 263.7l-.2 .5M210.9 265.4l.5 1.7M129.6 268l-.1 1.3M145.4 269.9l.3 0M158.8 271.5l.2 .9M201.9 270.2l.3 .2M207.8 269.8l1 .7M219.6 270.1l.4 .4M298.8 267.8l.3 1.2M307.9 270.5l1.6 .7M89.2 276.6l.9 1.2M325.4 275.2l1.5 .2M354.8 273.8l1.7 .2M97.4 282.2l.9 1.4M136.5 280.7l-1.5 .7M274.2 283.3l.5 .9M285.4 284.2l.5 1.4M319.6 284.4l1.3 .2M163.7 288.8l-.3 1M190.1 289l-.5 .2M188.7 291.9l0 1.8M220.5 295.9l-1.3 .8M305.3 291.7l1 1.1M319.5 291.4l.4 .2M115.5 301l.2 .2M139.6 300.5l-.8 .7M299 297.6l-.6 .5M331 302.4l-.7 .1M194.3 307.3l-.1 .5M263.1 305.8l-.4 .1M145.3 311.6l-.2 .2M172.3 312.4l.3 .2M253.4 311.6l-.3 .3M299.9 314.3l1.2 .2M144.6 316.8l.5 1.9M164.6 318.2l-.2 .8M360.8 324.5l.6 .6M255.7 329.2l.7 .2M262.4 338.1l.1 1.8M275.6 337.1l1.1 1.6M294.1 337.8l-1.7 .7M355.9 336.5l.3 .1M172.8 341.7l-.3 .7M287.2 340.9l-.1 .3M318.5 342.1l-.3 0M250.6 348.9l1.2 1.3M321 354.8l.5 .8M210.6 360.1l-1.6 .4M248.4 366.4l-.8 .7"/>
<path stroke="#808080" stroke-width="6.0" d="M162.5 33.8l.1 .5M160.6 39.7l-.9 .1M199.1 70.5l.4 0M237.9 78.5l1.2 1.3M182 85.7l-.6 .4M238.5 85.5l-1.9 .3M256.6 84.7l-1.1 .4M194.6 90.1l1.7 .4M232.4 94l-.7 .8M251.7 95.9l-.1 .7M260.3 96.5l.4 0M280.3 97.8l1 .2M152.5 112.1l.4 .6M282.9 112.6l-.8 1.1M124.1 121l-.3 .3M133.8 121.6l-1 1.4M255.8 118.5l.5 1.9M277.4 120.5l-.6 .5M165.6 126.1l1.6 .4M199.5 126.8l.5 .8M123.5 132.9l-.1 1.1M312 133l-.1 1.6M155.4 135.8l.5 1M107.3 141.8l-.6 .1M127.2 144.9l-.1 1.1M309.6 142.9l.2 1.8M142.7 150.8l.7 .7M96.9 157.3l-1.2 .6M128.3 157.8l.3 1.9M128.8 161.7l-.1 .3M216.5 162.9l-.3 1.2M120.6 165.7l.9 .6M138.5 168.7l-1 1.4M150.3 167.1l-.2 .8M255.4 166.7l.7 0M266.5 169.9l-.9 .6M322.8 166.6l-0 .6M104.5 172.7l.7 .2M323.2 173.6l-.1 .8M344.8 173.5l1.3 .8M328.9 178.8l1.2 .4M145.2 186.2l.5 .4M151.1 185.9l1 .9M299.3 188.6l-.3 1.7M18.8 191.3l-.8 1.1M97.4 193.5l-.1 .6M103.3 193.3l1 .7M185.7 193.2l1 .2M236.2 192.1l-.3 .8M343.6 193.5l-.2 .4M213.3 199.8l.7 .4M258.6 199.5l.4 .5M167 206.2l.4 1.5M271.2 203.1l-1.4 .2M334.5 206l-.3 .2M354.2 206.6l.5 1.8M157.3 217.4l1.1 1.2M184.9 215.9l2 .3M221.8 214.8l-.4 1M93.9 219.5l-.7 .1M109 224.3l-.5 .4M170.3 224.5l-1.6 .6M180.6 221.3l.5 .9M320.7 221.5l1.8 .5M135.7 225.7l-.2 1.7M171.5 227.9l1.6 .4M190.4 229.9l-.8 .3M261.7 226.5l.5 0M318.7 229.3l.8 1.2M196.3 232.8l-.8 1.8M211.2 235l-1.7 1M226.2 234.6l-1.6 0M231.6 235.6l.2 1M339.2 233.4l-.5 .3M148.3 239.1l-0 1M179.9 240.4l.1 .2M197.8 239.2l-.8 .1M250.1 240.3l-1.4 .2M311.4 240.8l.3 1.2M237.8 247.9l1.1 .4M305.3 243.9l-.4 1.2M200.6 253.3l.7 .1M229 250.2l.7 .2M303.6 253.2l.6 .4M336.2 251.8l-.7 .5M118.8 258.8l-.7 .4M122 256.5l0 .8M218.9 256l-.3 .1M224.6 257.1l0 .5M278 256.4l.1 .5M286.3 258.6l1.8 .5M338.3 257.6l0 .7M151.7 263.2l.3 1.5M287.4 265.3l.6 .6M106.7 269.8l-.4 .7M113.3 270.2l.4 .5M151.9 268.3l-.2 .1M292.2 270.3l.7 1.2M145.5 277.6l.2 .1M337 275.5l-.3 .3M93.7 284.4l1.3 .7M113 284.6l.9 1.2M357.1 283.4l1.3 .5M370.3 281.4l.7 .6M88.8 286.9l-.4 .1M100.4 285.4l.6 .1M153.6 288.5l1.6 .2M177.4 294.4l.5 .8M124.9 300.7l-0 .3M149.6 302.3l-.7 .1M306.9 300l.6 .2M334.7 297.7l.2 .1M286.9 307.6l-.9 .2M132.5 310.2l1.2 1.3M228.3 312.7l1 .2M307.9 310.7l-.5 1M201.4 317.2l0 .6M208.9 315.7l-1 1.4M343.7 316.1l-.3 .2M323.1 322.4l.1 .3M343.8 323.2l.9 1.4M147.2 328.5l1.7 .5M238 328.4l-1.6 .5M291.2 329.8l1.1 .9M218.2 350.5l1.6 .2M224.2 345.9l-.3 .2M273.8 347.9l.6 1.4M276.6 351.9l.3 1.6M220.6 359.7l-.9 .1M279.3 364.6l1.1 .9"/>
<path stroke="#8e8e8e" stroke-width="3.6" d="M52.2 1.5l.8 .7M85.2 11.5l.8 .8M148.4 11.3l.8 3.6M26.6 17.1l.9 1.3M207.6 20.1l2.3 2.3M127.4 25.3l1.6 1.8M141.5 25.6l.6 2.1M31.4 32.2l2.2 -.3M45.4 40.9l.9 1.1M91.8 48.5l1.8 2.2M230.6 58.7l1.5 2.1M78.2 73l2.2 1.7M230.5 131.2l.6 1.7M41.2 139.3l1 3M43.6 144.8l2.5 .2M58.7 162.4l3.3 2.6M68.9 175.2l1.9 2.3M34.1 186.9l-.5 2.2M65.4 188.5l3.3 3.1M46.7 198.6l-.1 1.3M55 205l1.2 .5M81.2 209l2.2 2.5M62.5 228.1l1.8 1.1"/>
<path stroke="#8e8e8e" stroke-width="4.4" d="M61.4 2.4l1.2 1M115.9 5.2l2.7 1.1M107.8 9.9l1.1 2.1M164.5 9.4l2.5 2.8M115.3 26l2.5 3.6M17.4 37.4l1.2 .9M27.8 50.6l2.6 .9M82.2 68.2l2.5 1.5M106.6 66l1.3 1.1M61.9 72.7l4.2 .8M123.4 86.1l.5 2.5M108.5 106.8l3 2.3M190.4 106.9l2 2.6M190.7 111.5l1.5 -.1M212 123.8l2.2 2.5M236 135.9l.8 .8M55.2 143.6l1 3M28.4 154.2l1.7 4M40.8 155.1l1.4 3.2M40.4 162.2l2.5 1.9M41 167.7l1.7 1.3M44.2 178.9l.7 2M67.9 191.5l2.8 2.3M95.4 217.4l1.9 2.3"/>
<path stroke="#8e8e8e" stroke-width="5.2" d="M64.1 3.5l.5 2.5M10.8 12.3l2.9 2.2M104.8 18.2l.6 1.2M172.6 24.9l.7 1.7M214.3 26.2l1.6 2M106 47.8l2.2 .5M84.2 72.1l1.3 1M42.9 75.5l2.3 2.2M2.4 91.6l.1 1.1M125.1 98.1l1.7 1.7M161.4 100.8l2.7 3.3M94 109.4l.9 1.4M154.3 109.1l1.8 3.6M164.4 112.1l2.6 1.3M39.9 131.6l2.5 .8M48.4 145.5l1.9 3M49.4 156l2.1 1.3M47.4 211.1l.8 1.3M86.5 215.6l2 2.3M64 227l2.9 2.8"/>
<path stroke="#a0a0a0" stroke-width="3.6" d="M128.2 8l.8 3M163.7 5.9l1 2.5M120.9 29.6l.3 2M2.1 37.8l2.3 1.6M123.5 35.9l2.7 .3M85.8 59l-3.1 2.1M9.7 78l1.9 4.1M90.7 84.4l2.7 2.3M90.9 92.3l.7 2.5M119.6 97.3l1.3 3M172.9 101l1.3 .9M193.6 100.7l1.4 2.5M299.6 110.2l2 1.3M104.1 112.7l2.9 1.2M91.3 124.7l.9 2.3M51.9 166.5l2.8 1.7M60.8 166.4l1.5 4M46.6 171.9l2.1 0M106.5 202.3l.8 .8"/>
<path stroke="#a0a0a0" stroke-width="4.4" d="M168.1 1.4l3.2 1.6M171.6 2.3l3.6 2.2M139.9 8.5l-.7 3M147 5.6l3.6 2.7M121.3 12.9l1.4 3.9M156.3 22.9l.5 2.3M233.5 73.2l1.3 1.1M228.7 80.4l.9 .6M208.7 89l2.5 1.3M84.4 98.1l1.8 3.9M52.9 107.4l1.4 1.3M144 107.6l1.1 .5M171.7 105.7l2 1.6M110.7 113.6l3.4 1.3M136.1 112.6l1.3 4.2M202.2 116.3l.8 .6M217.5 121.9l2.8 3.4M56.4 153.5l2.6 .7M54.9 182l4.2 .7M98.4 202.1l2.5 1.7"/>
<path stroke="#a0a0a0" stroke-width="5.2" d="M161.4 4.7l1.1 2.5M2.3 11.3l2.3 2.3M125 9.7l1.5 .1M8.1 50.1l3.7 2.5M241.7 56.5l.4 1.2M93.9 78.8l1.3 1.8M7.5 89.5l1.7 3M37 89.4l2.9 .8M75.9 94.9l1.2 2.6M154.1 95.9l2.9 -2.2M190 97.2l.2 4.1M115.3 102.2l2.6 1M132.2 109.4l1 .5M98.5 113.7l1 1M224.3 130.1l1.7 2.4M50.8 148.3l.4 3.4M64.1 159.5l1.4 1.2M46.1 192.1l1.4 2M78.9 189.8l.8 2.6M89.1 196.3l-.3 1.9M48.3 202.8l.6 3"/>
<path stroke="#b0b0b0" stroke-width="3.6" d="M139.3 1.8l1.7 2.5M72.6 5.9l1 1.9M135.7 8l.8 2.4M48.9 10.6l.2 3.9M136.2 10.4l.8 1.6M25.4 21.9l1.5 1.9M27.7 23.6l1.4 1.4M23.3 28.5l2.1 .8M132.9 31.4l1.6 2.4M10.3 35.5l1.1 .6M16.5 40.7l1.3 1.4M2.6 56l4.1 .1M79.9 60.9l3.6 -1.4M98.1 72.2l1.7 2.2M66.5 84.2l3.3 1.5M69.1 88.8l2.7 2.6M143.4 92.6l.4 1.7M37.1 93.8l2.5 3.4M84.6 114.2l2.8 2.8M50.1 187.5l.9 1.6M58.5 206.5l3.8 2.1"/>
<path stroke="#b0b0b0" stroke-width="4.4" d="M91.6 8.1l1.4 2M13.2 22.9l3.2 1.6M7.7 29l2.6 3.3M41.3 46.2l1.2 .8M102 49.5l2.2 3.7M24.8 55.8l1.3 1M63.7 51.6l2.2 .8M4.7 62.2l1.6 3M238.2 65.5l3 1.9M65.2 78.7l3.6 2.2M82.3 81.5l3.6 2M119.1 84.7l2.1 1.6M127.2 90.2l3 2.8M109.2 95.6l2.7 3.1M58.1 101.7l.7 1.2M89.6 108.1l.8 .8M166.2 109.8l2.2 .5M176.1 112.9l.9 .9M89.1 118.8l2.7 2.7M24.9 127.8l1.9 2.4M23.8 143.6l-1.6 3.3M26.4 158l.2 2.1M39.5 190.3l1 1.2"/>
<path stroke="#b0b0b0" stroke-width="5.2" d="M141.9 18.1l1.1 1.9M166.2 18.6l1.8 -.1M114.7 27.8l.9 1M54.4 43l.9 4.2M91.5 43.8l2 2.4M44.2 60.8l3.3 1.7M91.4 65.9l2.2 1.5M38.4 79.2l1.6 .2M70 76.6l2.5 1.8M89.1 80l2.6 2.8M56.1 85.1l2 1.6M215.2 90l2.8 2.3M205.4 98.2l2.4 1M13.1 99.9l1.7 1.3M233 143.9l.5 3.5M76.6 203l1.6 1.6M91.1 202.6l2.3 2.2"/>
</g>
<path stroke="#d316c9" stroke-width="1.4" stroke-opacity="0.9" d="M210.5 -.1L212 1.9L213.4 2.7L214.7 5.9L217.4 6.8L220.6 9.6L221.6 11.1L223.6 12.9L227.6 16.3L229.3 18.7L232.5 21.8L234.4 23.1L236.8 25.6L239.8 28.7L241.8 30.6L244.4 32.2L246.4 33.8L247.1 36L250.7 38L253.3 39.9L255.6 42.4L257.6 45L259.6 45.9L262.5 48.3L264.5 49.8L266.1 51.9L268.6 54.4L270.4 56L273.7 59L274.2 61.8L276.9 64L278.6 66.6L281.2 67L283.3 70.7L286.3 72.1L287.1 74.9L290 76.9L291 78.6L293.2 81L295.8 84.1L298.5 86.1L300 88.4L301.7 92.2L304.2 94L306.6 96.3L308.8 98.9L310.9 100.1L313.2 103.4L315.2 105.4L316.6 107.8L319.2 109.8L321.8 113.2L321.9 116L323.9 118.5L326.4 120.8L327.4 123.4L329.4 125.9L331 129.4L332.1 132.1L333.5 134L335.2 136.6L336.8 140.5L338.5 143.2L339.5 146.6L340.9 148.5L342.7 151.8L343.3 156L345.1 158.4L346.7 160.9L347.5 163.8L347.7 166.8L349 169.3L349.9 173.2L350.3 176.4L350.3 178.8L351.4 181.9L352.1 184.8L353.8 186.8L354.2 190.2L354.8 193.3L356 197.5L356.2 199.1L357.8 202.4L358.4 204.6L359.6 208.7L359.9 210.1L360.1 215.1L361.4 218L362.8 220.1L361.9 223.1L363.6 228.9L365 230.3L365 233.6L367.4 237.1L367.5 240.4L368.5 242.7L368.5 246.7L369.8 249.3L370 252.6L371.8 256.3L371.6 258.1L372 262.2L373.2 264.7L374.1 267.2L374.3 270.4L374.7 273.3L376.5 276.9L375.7 280.4L377.6 283.7L378 286.1L378 290.2L377.2 292.5L376.6 295.4L377.6 297.3L376.2 300.5L374.7 304L375.4 307.1L374.3 309.6L372.4 313.2L370.5 315.8L370.8 319L369.9 322L367.9 325L366.1 328L364.1 330.6L362 332.9L361 334.7L359.2 337.9L357.1 338.4L354.3 341.3L352 342.5L348.4 344.5L347 345.9L344.5 348.4L341 349.3L338.7 351.6L335.1 352.8L332.9 353.2L329.5 355.1L326.5 356.4L323.8 356.7L321.6 357.9L317.1 359.2L313.9 359.3L311.1 361.2L307.8 362.8L304.1 362.6L301.1 363.7L298 364.8L294.2 364.6L291.5 366.3L288.2 367.8L284.7 367.8L282.9 367.9L279.2 367.7L274.7 368L271.9 368.7L268.8 368.3L265.7 368.7L262.9 369.5L259.5 368.9L256.5 369L253.8 369.4L250.6 369.7L246.7 369.8L243.4 368.9L240.9 369.7L237.2 368.8L234.2 368.2L231.1 368.5L228.8 366.1L225.4 367.1L222.4 366.5L218.7 365.2L215.9 365.3L213.3 363.9L210.6 362L207.1 361.7L204.1 360.4L200.9 358.9L199.1 358.6L195.3 357.5L192.3 355.8L189.5 355.4L187.4 352.9L183.7 352.2L181 351.4L178.6 350.1L176 348.7L173 347.9L169.7 345.8L167.8 344.1L164 343.6L161.8 342.1L157.8 341L155.4 338.6L152.8 337.6L149.3 336L146.5 335.1L144.3 333.8L140.5 331.3L138.1 330.4L134.8 328.7L131.9 327.9L129.6 326.3L125.5 324.4L124.1 323.8L120.2 321.6L117.7 320.9L114.6 319L112.2 318.1L109.4 315.1L105.5 315.2L104 312.7L101.1 310.4L98.4 308.2L96.9 305.7L93.8 305L93 301.9L89.4 300.7L87 298.8L83.7 297.3L82.6 294.6L79.8 292L76.2 290.2L75.2 287.8L72.3 285L70.3 283.3L66.7 281.6L65.4 279.6L62.1 277.3L60.9 274.9L59.7 272.8L57.9 269.5L55.6 267.7L52.1 265.9L51.7 263.2L49.5 261.1L46.8 257.2L47.2 255L44.5 252.6L43.2 251L41.4 248.4L39 244.6L38.5 242.1L37.7 238.8L35.8 238.3L34.4 233.9L33 231.7L31.8 229.2L30.3 226.3L29 223.9L27.9 220.5L25.7 217.5L25.1 214L24.3 210.8L24.3 209.3L21.1 205.8L19.5 202.5L19.4 200.2L18.4 197.5L17 194.5L15.3 191L12.7 188L11.9 185.4L11.4 182.6L10.5 179.8L7.8 178.8L6.8 175.6L5.5 171.8L3.5 168.4L1 165.2L.3 164.1L-1.8 160.3L-1.5 159.1"/>
<path stroke="#f01ee6" stroke-width="1.4" d="M210.2 -.6h0M212.9 2h0M211 3h0M215.8 4.6h0M216.5 4.7h0M220.1 8h0M221.8 11.8h0M223.4 14.5h0M227.3 15.4h0M229.9 17.2h0M232.8 23.1h0M233.9 24.6h0M237.8 24.9h0M240.6 28.6h0M242.3 29.1h0M244.7 32.9h0M245.6 35.3h0M249.5 34.7h0M251.1 38.1h0M254.6 40.7h0M254.7 42.7h0M257.2 43.7h0M259.5 46h0M262.6 46.8h0M265.6 49.7h0M265.3 53.9h0M267.9 53.7h0M270.9 57h0M274.3 61.2h0M276.5 61.9h0M276.4 63.8h0M278.1 64.1h0M282.7 70.6h0M282.6 70h0M284.9 74.3h0M288.1 75.7h0M291.1 78.5h0M291.5 78.4h0M293.2 81.4h0M295.2 82.6h0M297.3 86.5h0M299.2 89.1h0M304.7 92h0M305.4 93.7h0M306.2 95.2h0M309.3 97.9h0M310.5 100.7h0M314.5 103.3h0M315.2 102.2h0M317 107h0M318.6 111.7h0M318.6 112.5h0M323.3 115.7h0M324.9 119.7h0M327.4 122.1h0M329 123.7h0M328.3 126.2h0M330.7 129.1h0M332.4 128.8h0M334.7 133.9h0M335.3 135.8h0M338.5 139.1h0M340 144.4h0M340.5 145.9h0M343.1 149.5h0M340 152.8h0M343.6 156h0M346.5 158.8h0M346.4 160.3h0M347.4 164.6h0M347.5 166h0M350.2 169.6h0M350.1 171.1h0M349.2 174.8h0M350 179.1h0M351.4 183.7h0M352.9 185.3h0M352 187.4h0M353.1 189.5h0M355.7 192.4h0M356.9 195.5h0M357.9 200.1h0M356 201.2h0M359.8 206.5h0M359.5 206.3h0M360.3 212.6h0M361.5 213.6h0M361.2 215.6h0M362.1 220.1h0M363.8 222.2h0M362.8 225.3h0M365.2 230.3h0M364.6 234.8h0M366.6 238.2h0M368.9 239.2h0M367.7 243.9h0M370.3 245h0M370.2 249.4h0M370.9 252.9h0M370.9 255.8h0M373.8 259.8h0M372.8 262.4h0M373.5 265.6h0M373.6 266.3h0M375.1 269.3h0M377.4 272h0M375.9 275.5h0M376.8 277.4h0M378 284.4h0M379 286.7h0M378.7 290.4h0M378.8 290.2h0M378.2 294.9h0M375.6 299.5h0M376.7 302.2h0M375.4 306.5h0M372.3 306h0M374.1 310h0M373.4 314.6h0M370.6 316.4h0M368.8 319.4h0M368.9 321.1h0M364.4 324.8h0M367.3 326.6h0M365.9 329.4h0M362 331.6h0M360.8 334.4h0M357 336h0M356.3 339.9h0M353.1 343.5h0M351 343.3h0M348.7 343.5h0M345.1 345.2h0M345 346.7h0M340.8 349.5h0M338.8 351.3h0M335.4 349.7h0M333.6 352.5h0M327.7 354.2h0M326.9 355.8h0M323.3 358.5h0M321 359.3h0M317.2 360.3h0M313.6 360.7h0M310.2 360.6h0M306.6 360.7h0M302.8 362.8h0M302.1 363h0M300.5 365.5h0M292.4 363.9h0M289.8 367.6h0M288.1 367.5h0M284 368.1h0M281.6 367.5h0M279.5 366.5h0M276.7 368.7h0M271.5 368.2h0M269.9 369.4h0M265.7 369.1h0M264.1 371.7h0M259.8 370.1h0M256.7 370.4h0M255.5 369.8h0M249.2 368h0M247.3 369h0M243.7 368.3h0M239.8 369.1h0M235.8 370.4h0M233.7 367.5h0M232.6 366.3h0M229.3 367.2h0M225.3 367.3h0M222.1 366.5h0M217.3 364.2h0M216.2 364.5h0M212.6 360.4h0M208.5 361.4h0M209.6 360.7h0M205.2 360.4h0M200.7 361.1h0M199.2 359.3h0M196.9 356.2h0M193.8 356.6h0M188.5 355.6h0M188.2 355.2h0M183.1 352.1h0M181.3 349.6h0M178 351.3h0M175.3 351.7h0M172.6 348.2h0M169.1 345.4h0M167.2 344.8h0M163.7 345.1h0M160.7 341.5h0M156.4 341.3h0M155.9 339.6h0M152.7 339.9h0M150.3 337.1h0M146.6 334.4h0M143.8 333.4h0M143.5 330.7h0M138 330.5h0M134.1 328.4h0M131.4 325.6h0M129.1 326.5h0M126.8 324.3h0M121.2 322.4h0M121.3 322.8h0M117.2 320.6h0M114.6 319h0M112.4 317h0M109.8 316.5h0M106.3 314.6h0M104.6 313.3h0M101.8 309.3h0M98.6 309h0M98 304.3h0M93.6 302.7h0M94.3 301.3h0M87.2 300.4h0M87.1 298.9h0M85.7 297.7h0M83.6 292.2h0M78.2 293.4h0M76.4 290.5h0M74.6 286.2h0M72.7 288.6h0M67.5 282.8h0M69.5 280h0M65.5 281.8h0M64.5 277.1h0M61.9 276h0M57.6 270.6h0M56.4 268.5h0M53.8 266.8h0M52.6 264.1h0M50.3 264.5h0M49.5 262h0M47.8 257.8h0M47 257.1h0M46.6 252h0M45.3 251.3h0M42.1 245.5h0M40 245.6h0M39.5 242.1h0M36.3 238.6h0M35.2 235.3h0M35.4 233.9h0M33.9 232.7h0M31.8 230.7h0M30.7 226.2h0M27.5 224.8h0M28.8 219.1h0M25.4 218.5h0M23.8 214.1h0M24.8 209.3h0M24.3 208.5h0M21.7 206.2h0M20.4 202.7h0M19 201.1h0M19.7 195.3h0M16.1 191.4h0M17.1 190.9h0M16.1 189.3h0M11.4 185.4h0M9.4 182.3h0M9.8 179.4h0M9.4 176.4h0M8.7 176.7h0M5.6 172.7h0M2.7 168.4h0M.4 165.1h0M1.9 162.2h0M-1.4 159.3h0M-2.4 160.6h0M138.2 164.8h0M164.3 219.9h0M258.8 163.1h0M251 259.3h0M150.5 249.3h0M123.4 312.9h0M72.5 191.1h0M362.6 262.7h0M43 206.8h0M130.4 251.3h0M30 181.2h0M251.5 343.3h0M160.7 316.6h0M237.8 258.5h0M289.9 182.9h0M5.5 152.6h0M176.3 302.7h0M307.8 102.7h0M10.3 156.6h0M109.5 142.7h0M105.6 302.7h0M244 299.5h0M83.1 202.5h0M197.9 344.7h0M81.2 289.6h0M147.9 175.9h0M214.9 16.4h0M157.8 188.7h0M155.6 235.2h0M76.6 204.7h0M65.9 72.8h0M16.1 51.9h0M198.4 82.7h0M77.6 269.2h0M78 277.9h0M259.9 220.7h0M82.7 246.3h0M215.2 204.4h0M259.7 124.7h0M355.1 274.4h0M126.8 135.1h0M287.8 213.5h0M154.9 141.9h0M152 47.5h0M160 234.7h0M120.1 112.9h0M227.1 137.8h0M230.6 351.1h0M257.3 173.3h0M82.5 183.7h0M235.9 215.2h0M253.8 248.7h0M23.9 158.1h0M236.3 184.4h0M264.2 325h0M177.6 192h0M333.5 276.7h0M319.3 337.8h0M165.8 302h0M115.1 139.6h0M215.7 271.7h0M265.9 357.1h0M109.7 78.5h0M306.7 294.3h0M355.2 281.6h0M274.6 162.3h0M143.6 294.4h0M92.4 191.8h0M114 186.5h0M45.6 251.1h0M165.8 311.6h0M197.7 140.3h0M77.1 157.4h0M331.9 266.8h0M215.2 333.9h0M292.3 286.2h0M101.7 266.2h0M206.6 330.5h0M339.3 191.4h0M321.5 283.5h0M206 33.4h0M256.6 147.7h0M268.9 334.5h0M215.5 208.1h0M19.2 178.4h0M65.4 19.5h0M13.5 138.5h0M140.5 13h0M43.5 43.5h0M228.7 192.4h0M47 48.6h0M82.7 223.5h0M242.4 262.8h0M37.2 180.9h0M193.1 28.7h0M293.7 357h0M180.2 5.5h0M90.8 252.2h0M253.2 209.9h0M196.5 188.6h0M263.1 318.9h0M328 338h0M183.8 323.4h0M23.8 53.4h0M345.1 268.1h0M346 301.9h0M218.8 240.3h0M228 354h0M135.9 232.8h0M18.9 144.3h0M161.7 287.1h0M274.4 168.4h0M59.2 222.4h0M215.5 335.9h0M57 36.5h0M244 34.7h0M297 202h0M135.1 255.4h0M25 197.3h0M238.2 189.7h0M123 142.7h0M235.9 176.3h0M61.8 26.4h0M18 87.5h0M177.4 299.9h0M339.7 260.9h0M137.1 19h0M171.5 113.2h0M340.8 207.1h0M330 187.8h0M277.9 164.9h0M367 295.5h0M60.3 168.4h0M183.3 226h0M289.5 206.5h0M88 215.8h0M208.6 199.1h0M113.1 19.3h0M319.1 179h0M256.2 186.1h0M201.5 174.2h0M137.4 119.5h0M185.8 51.4h0M111.8 107.9h0M349.6 310.1h0M196.9 119.8h0M108.7 112.2h0M255.7 260.4h0M136.7 175.3h0M335.8 301.6h0M159 303.1h0M161.5 254.6h0M73.9 90.6h0M188.7 272.9h0M322.6 222.7h0M63.7 85.8h0M46.3 118.1h0M312.1 292.3h0M260.1 82.9h0M177.5 336h0M207.9 312.4h0M281.8 134.4h0"/>
<path stroke="#f0e600" stroke-width="1.7" d="M272.5 222h0M343 215.1h0M280.5 335.4h0M289.9 305.4h0M180.1 292.8h0M105.6 174.1h0M291.7 230.9h0M47.7 107.9h0M310.7 336.8h0M60.2 208.4h0M178.2 275.8h0M246.9 274.1h0M285.3 136.8h0M70 7.5h0M115.8 61.3h0M14.4 179.3h0M145.2 125.6h0M340.6 150.1h0M202 294.4h0M372.7 275.4h0M104.6 260.6h0M121.6 163.9h0M119.1 227.6h0M278.4 270.2h0M173.6 317.7h0M258.5 284.8h0M305.1 237.8h0M166.4 257h0M268 292.8h0M318 156.6h0M315.7 301.1h0M250.6 362.8h0M260 357h0M270.5 335.3h0M101.1 296.9h0M82.4 256.2h0M316.3 133.2h0M125.4 266h0M62 259.5h0M184.6 112.5h0M89.4 40.4h0M269 288.2h0M229.8 330.1h0M185.9 55.5h0M321.8 171.9h0M129.2 251h0M255.6 330.3h0M338 272.7h0M153.3 15.6h0M260.4 308.7h0M283.4 288h0M297.4 227.8h0M235.9 249.2h0M224.5 256.6h0M42.6 179.8h0M312.3 102.7h0M192 196.1h0M168.2 275.4h0M205 176.2h0M223.7 211.3h0M347.7 287.9h0M72.9 144.5h0M161.7 314.2h0M260 345h0M44.6 133.7h0M240.7 250h0M318.9 154.5h0M296.9 158.6h0M217.4 295.1h0M202.1 20.9h0M189.6 74.8h0M313.2 282.7h0M170.1 236.3h0M310.5 243.7h0M315.5 308.2h0M245.9 188.1h0M211.1 107.9h0M78.1 223h0M131.1 20.8h0M41.4 225.2h0M297.2 167.3h0M140.9 122.5h0M226.2 198.9h0M274.8 180h0M228.7 352.5h0M227.8 44.6h0M300.1 247.7h0M109.3 288.1h0M88.7 196.9h0M320.2 254.7h0M353.2 259.6h0M163.3 235.6h0M318.5 269.5h0M153.6 4.1h0M232 196h0M349.2 189.5h0M310.4 342.5h0M352 328.9h0M367 274.1h0M229.5 343h0M325.6 152.2h0M28.1 54.4h0M152.3 323h0M334.5 168h0M124.8 235.2h0M97.1 15.6h0M335.8 216.5h0M191 193.2h0M310.6 183.4h0M113 228.5h0M292.9 314.7h0M291.2 182.8h0M174.6 291.5h0M115.7 317.3h0M247.6 299.4h0M150.4 305.1h0M114.9 298.3h0M296.6 300h0M139.5 105.1h0M193.1 141.6h0M13.2 175.5h0M107 307.4h0M91.1 260.4h0M12.5 44.6h0M199 231h0M255.4 336.8h0M207.9 294.3h0M54.8 149.8h0M288 365.6h0M287.5 149.6h0M286.9 328.6h0M278.9 337.1h0M223 221.3h0M55.8 68.4h0M7.5 72.1h0M300 191h0M231.3 358.6h0M235.1 182.3h0M300.8 300.3h0M268.1 182.7h0M331.3 339.5h0M272.4 157h0M61.5 264.3h0M307.5 227.5h0M177.4 174h0M209.4 308.1h0M119.4 228.3h0M340.4 243.1h0M306.3 187.2h0M335.1 328.4h0M10.8 26h0M339.9 207.9h0M327.7 217.4h0M366.9 277.4h0M206.7 219.5h0M156.6 269.6h0M42.3 121.9h0M302.5 355.9h0M65.3 117.2h0M124.5 262h0M341.2 219.8h0M319.1 329.6h0M152.1 296.1h0M283.2 129.1h0M261.5 293.3h0M256.9 349.6h0M343.7 243.3h0M355.2 286.2h0M286.1 358.7h0M265.4 56.4h0M49.8 11.2h0M324 218.1h0M184.4 187.4h0M162.6 208.4h0M140.9 321.4h0M31.7 66.3h0M53.5 37.1h0M61.7 257.7h0M229.8 233.5h0M86.8 146.9h0M33.9 54.6h0M253 148.3h0M320.5 255.8h0M161.2 293.4h0M184.5 284.1h0M277.1 304h0M214.3 298.1h0M263.7 186.8h0M191.8 177.5h0M266.1 310.6h0M344.7 208.4h0M314 315h0M249.6 291.4h0M329.3 142.4h0M221.5 314.3h0M203.2 305.5h0M320.7 153.7h0M141 263.6h0M308.8 239.5h0M31.3 45.4h0M366.6 261.3h0M226 215.6h0M279.7 262.3h0M23.5 95.1h0M198.5 220.2h0M299.1 145.6h0M204.8 233.9h0M170.4 150.8h0M334.2 208.7h0M327.7 186h0M117.9 268.7h0M178.1 307h0M330.1 322.2h0M222 319.8h0M118.8 224h0M243.5 336.8h0M311.3 101.8h0M94.3 267.8h0M237 147.5h0M200 261.7h0M182.4 127.3h0M211.1 176.3h0M128.7 87.8h0M175.6 305.6h0M40.9 16.3h0M284.3 359h0M350.9 207.9h0M323.7 119.3h0M188 307.1h0M144.5 220.8h0M288.8 164.2h0M277 351.5h0M321.4 247h0M179.8 250.6h0M326.9 343.6h0M353.2 263.7h0M271.8 364h0M347.6 190.3h0M318.1 283h0M113.3 205.5h0M109.5 302.4h0M241.1 340.6h0M81.3 42.7h0M309.3 288.4h0M314.6 359.2h0M33.4 7.9h0M245.4 366.2h0M354.1 249h0M74.3 158.2h0M136 323.2h0M176.1 208.5h0M365 300.8h0M121.9 50h0M101.6 235.3h0M260.1 201.9h0M132.2 265h0M307.5 275.5h0M150 270.5h0M222.8 62.2h0M201 14.8h0M235.7 281.5h0M98.4 241.1h0M206.8 354h0M222.6 202.1h0M211.7 79.5h0M279.4 162h0M163.8 184.4h0M263.1 165.4h0M53.1 120.8h0M290.9 88.3h0M32.9 230.7h0M171.7 344.6h0M258.7 309.3h0M249.6 216.2h0M64.6 86.2h0M320.3 182.7h0M248.4 162.1h0M7.5 148.1h0M343 336.1h0M250.2 238.3h0M199 203.5h0M336.2 212.8h0M113.6 250.8h0M213.7 189.7h0M372.1 301h0M125 258.6h0M243.8 281.9h0M232.1 227.8h0M213.6 32.4h0M120.8 42.7h0M246.6 257.4h0M298.8 218.6h0M224.7 162.4h0M75.7 146.8h0M277.9 235.9h0M367.5 291.3h0M220.2 282.7h0M253.4 145h0M322.7 129.6h0M140.6 229.9h0M121.1 242.5h0M186.4 297.7h0M109.1 297.3h0M283.8 257.8h0M340.1 200h0M40.1 209.2h0M93.9 282.9h0M261.7 335.6h0M223 227.6h0M234.9 345.6h0M299.6 239.5h0M160.9 270.5h0M324.8 126.5h0M231.7 42.2h0M231.2 365.2h0M121.7 123.5h0M260.4 241.2h0M257 145.6h0M208.8 256.3h0M200.5 169.4h0M143.2 210.1h0M98.5 127.6h0M192.5 251.3h0M30.5 29.2h0M281.9 298.3h0M355.2 275.5h0M50.4 129.5h0M162 201.3h0M42 60.2h0M179.9 314.8h0M86.7 185.2h0M213.6 4.6h0M273.8 346.6h0M98.1 243.2h0M91.2 13.1h0M253.5 213.5h0M305.2 160.3h0M238.2 31.2h0M273.5 249.3h0M238.4 155.3h0M178.8 329.5h0M309.3 208.2h0M203 326.5h0M237.4 248h0M195.2 196.8h0M43.3 106.7h0M313.3 306.1h0M130.3 286h0M338.1 218.3h0M137.4 104.7h0M217.4 172.6h0M349.9 331.9h0M290.7 240.8h0M327.1 165.3h0M283.3 179.4h0M227.7 29.2h0M316.5 334.3h0M234.1 275.9h0M346.4 243.6h0M236.7 79.6h0M342.3 309.1h0M304 123.3h0M239.8 154.8h0M241.1 200.7h0M92.5 291.3h0M184.5 339.4h0M201 197.3h0M122.5 315.6h0M4.4 48.1h0M99.8 68h0M338.6 277.3h0M116.9 8.5h0M223 218h0M277.6 264h0M299.5 190.5h0M272.1 148.2h0M252 298.8h0M146.1 149.5h0M272.9 185.5h0M234.5 318.7h0M223.3 325h0M190 42h0M69.6 255.6h0M46.5 173h0M26.3 151.3h0M133.6 254.2h0M209.9 185.7h0M299.7 289.4h0M263.8 346.6h0"/>
<path stroke="#fff" stroke-width="2.1" stroke-linecap="butt" d="M32.7 257.8L47.2 250.6M77.5 234.8L106.5 220.3M136.7 204.1L165.8 189.6M195.5 174.4L224.6 159.8M254.6 143.6L284.3 128.4M313.4 113.9L329.1 106.1"/>
<path stroke="#fff" stroke-width="1.6" stroke-linecap="butt" d="M319.5 380.8H381.7"/>
</g></g>
<g transform="translate(1292.8,2068.0)">
<clipPath id="mc6"><rect width="389.6" height="389.6"/></clipPath>
<rect width="389.6" height="389.6" fill="#000"/>
<g clip-path="url(#mc6)" fill="none" stroke-linecap="round">
<path d="M253.4 0.1C259.4 3.2 278.4 10.4 289.6 18.3C300.9 26.2 311.8 37.2 321.1 47.3C330.4 57.4 338.0 68.3 345.3 78.8C352.6 89.3 359.4 100.2 364.6 110.2C369.9 120.3 373.7 129.2 376.7 139.3C379.8 149.4 382.0 160.6 382.8 170.7C383.6 180.8 383.0 190.1 381.6 199.8C380.2 209.4 377.2 219.5 374.3 228.8C371.5 238.1 367.9 246.9 364.6 255.4C361.4 263.9 358.6 271.9 355.0 279.6C351.3 287.3 347.7 294.5 342.9 301.4C338.0 308.2 332.8 314.7 325.9 320.7C319.1 326.8 310.6 332.0 301.7 337.7C292.9 343.3 282.8 349.8 272.7 354.6C262.6 359.4 252.5 363.1 241.3 366.7C230.0 370.3 217.1 374.4 205.0 376.4C192.9 378.4 180.8 379.0 168.7 378.8C156.6 378.6 144.5 377.6 132.4 375.2C120.3 372.8 107.4 368.5 96.1 364.3C84.8 360.1 73.9 355.4 64.6 349.8C55.4 344.1 48.1 338.1 40.4 330.4C32.8 322.8 24.7 313.5 18.7 303.8C12.6 294.1 7.8 280.4 4.1 272.3C0.5 264.3 -1.9 258.2 -3.1 255.4L-3.1 -5L-5 -5Z" fill="#080808" stroke="none"/>
<filter id="nb6" x="0" y="0" width="389.6" height="389.6" filterUnits="userSpaceOnUse"><feGaussianBlur stdDeviation="0.7"/></filter>
<g filter="url(#nb6)">
<path stroke="#565656" stroke-width="4.8" d="M259.6 7.5l.4 1.3M318.8 55.8l-.6 .8M325.3 72.8l.1 .4M166.6 89.4l.2 0M340.7 92l-.3 0M176.2 94.3l-1 1.2M211.7 95l.8 .3M175.3 106.8l-1 1.4M177.5 109.1l-1.8 .9M200.5 106.8l.1 .6M216.1 110.3l-.4 1.1M213 116.4l.4 1.2M162.2 118.5l-.7 1M173 132l-.2 .2M203.7 133.6l-.2 .5M210.1 169.9l-1.2 .2M243.8 168.3l-.1 .3M129.3 176.2l-.8 .2M208 171.8l.3 1.2M343.5 174.5l1.4 .1M142.6 180.5l-1.3 .2M222.5 178.5l-.6 .2M314.2 180l.1 1.5M158.7 186l.1 2M371.6 184.2l.7 .5M142.7 192.8l-.6 .1M379.4 199.1l.1 .4M113.8 203l.2 .5M143.4 210l1 .1M147 210.3l.6 1.5M155.5 208.2l1 .1M369 208.9l.7 1.5M173.7 214.5l.2 .7M250.9 214.6l-.6 .2M270.6 217.8l-.1 1M175.6 225.4l-.4 1.7M225.4 229.2l-.3 1.2M281.9 230.1l1.1 1M301.7 226.9l-.3 1.3M248.8 234.6l-1 1.1M261.7 236.1l-.1 .2M264.8 235.9l1.2 .2M313.1 234.4l-1.5 .4M100.1 238.8l.4 1.5M107.6 241.4l.4 1.6M134.4 240.8l1.6 .3M205.6 238.1l-1.6 0M134.3 250.4l1.4 .6M139.2 251.3l-1.1 1.2M254.1 254.4l-.3 1.5M190.7 257.9l0 .4M305.1 256.9l.2 .9M325.3 259.5l-.1 .5M338.1 256.9l-.4 .7M262.9 262.8l-0 .3M207.6 270.7l-.4 .8M269 267.7l0 .3M297 271l.3 1M175.9 277.9l-1.3 1.5M185.5 278.3l-1 .1M190 277.4l.3 .5M298.5 277.3l.6 1.2M229.4 279.6l1.7 .4M290.8 283.6l-.7 0M12.7 287.1l.3 .3M183.6 290l1.1 1.4M229.2 288.6l-.1 .5M233.8 286.1l-1.4 0M239.1 289.9l-.6 .8M279.7 295.7l.2 .3M343.6 292.9l.5 .3M101.4 301.7l.2 .5M222.7 298.7l-.1 1M282 302.2l.7 .2M334 297.7l.5 .3M106.2 304l-.8 .3M182.1 307.1l.7 .9M271.7 306.8l.7 1.4M141.9 313.6l-.1 .3M283.2 309.7l-1.2 1M287.7 313.5l1.1 .8M326.3 309.4l-.6 .5M174.6 318.4l-.3 1.3M51.8 325.4l-1.6 .8M104.4 328.3l-.8 1.6M134.8 328.3l0 1.4M186.6 332.5l.4 .1M112.8 344l1.7 .8M205.1 344.6l-.2 .1M161.5 349.6l-.5 1.9M196.5 350.6l.4 .3M221.8 348l-.2 .7M163.7 353.1l-.4 1.3M166.7 368.3l.8 .7M231.6 365.2l0 .6M152.2 371.8l.5 .2"/>
<path stroke="#565656" stroke-width="5.4" d="M206.5 85.4l.9 .1M208.1 85.8l.1 .2M348.3 96.9l-1.5 .7M157 100.2l1.6 .7M350.9 99.5l-1.2 .2M203.3 111.4l-.9 1.2M167.2 126.5l-1.3 .7M173.3 124.2l0 1.6M356.3 148.5l.3 1M236.8 162.9l.4 .2M201.7 179.5l-1.1 1.4M111.9 185.2l.9 .6M166 188l-.6 .7M244.9 187.9l0 1.7M325.3 183.6l-1.4 1.3M200.5 189.5l.8 1.2M203.9 193.7l-1.4 .2M99.7 196.2l1 1.1M135.8 196.1l-1 1.6M141.6 198.8l-1.4 .9M150.7 195.4l1.4 1M217.7 196.9l.3 0M223 196.9l1.6 .5M269.6 196.7l.7 .3M291.2 197.8l-.8 0M323.1 203.4l-.9 1.7M369.9 201.8l.3 .3M104.6 208.7l-.8 1.1M165.5 209.3l.3 .3M301.8 207.8l.1 .6M319.8 211.3l0 1.7M348.6 211.6l.2 1.6M91.7 216.1l-.2 .3M241.6 215.7l.6 .5M107.3 224l1.1 .4M308.5 224.5l1.1 1.6M107.2 227.7l-1 .1M243.3 231.9l-.4 1.7M255.1 234.2l.2 .1M121.6 242.3l1.3 1.3M150.1 240.2l-.3 .8M153.4 239.5l-.5 .1M2.7 245.1l-.4 1.1M157.2 247.5l.2 .1M314.7 248.6l-.7 1.8M259.6 250l-.7 .4M312 251.1l-.1 .2M223 257.6l.5 .2M248.1 257.8l.6 .1M274.8 260.5l-.3 .7M312.5 257.9l-.9 1.1M7.2 262.1l1 .5M202.9 263.1l.4 .2M276.3 265.2l.6 .7M350 264l.1 .8M192.8 272.4l.5 0M254.2 270.7l-0 1M272.2 269.6l-0 .7M355.6 272.1l-.3 .1M178.7 273.8l-.3 .1M250.5 276.8l1.6 .5M316.5 278.2l-1.7 .1M255.4 282.5l0 1.2M309.2 283.4l-.7 0M124.4 296l.7 1.5M190.7 295.8l-.1 1.2M138.5 300.2l1.4 1.1M248.1 300.1l-.6 .9M262.8 298.6l.4 .7M275.6 299.3l.1 .4M203.1 308.5l-.1 .3M268.7 306.3l-.4 1.5M31 311.5l.2 .4M170.4 309.7l.1 1.3M175.9 312.3l.9 .1M228.4 313l.1 1.6M79.4 317.6l-1.6 .8M200.6 316.7l.7 .4M239.2 318.1l-.5 .2M120.8 324.1l1.6 .3M137.3 324.2l-.9 .3M157.7 325.2l-.5 1.5M203.9 322l-0 1M271.4 322.7l1.5 .5M300.9 323.3l-0 .9M91.1 328.2l.3 .1M113.1 331.1l1.3 1.4M172.8 329.8l-.2 .2M235.5 327.5l.5 .3M247.7 331.6l.4 1.7M288.8 332.5l-.4 .3M94.9 337l.4 .2M107.1 336.7l.4 1.4M119.5 335.4l.5 1.8M181.1 337.8l1.4 .7M138.5 348.2l.4 .5M259.9 351.7l-.1 .3M131.1 367l-.8 1M143.1 366.2l.5 1.3"/>
<path stroke="#565656" stroke-width="6.0" d="M266.6 11.7l-.1 1.3M286.4 22.6l0 .6M297.9 28.5l.8 .3M190.1 106.1l-1 .4M358.8 106.5l-.3 .4M179 114.1l.1 .4M216.8 113.8l-.4 1M166.9 118.3l.6 .6M359.9 119.5l.2 .9M178.1 134.2l-.3 .2M193.5 139.8l.3 .5M375.9 150.5l-.9 1.2M217.8 171.4l-.4 .4M226.6 172l-.1 .9M245.6 173.2l-.9 1.6M257.3 172.8l1.2 .1M378.8 173.6l0 .4M119 179.6l.2 1.9M265.6 190.6l1.1 .6M301.2 199.8l-.2 .8M321.4 196.9l.5 .4M96.5 205.3l-.1 .4M265.6 202.3l1.6 .2M276.8 204.5l-.4 .4M109.7 211.5l1 .2M229.5 208l-.3 .6M263.8 214l0 .6M296.4 215l1.3 .5M242.9 224.5l.3 .9M248.2 223.3l.4 .2M121.3 225.4l1.2 .9M133.6 227.8l.5 1.2M148.5 228.8l.8 .7M309.6 229.5l-1.4 .2M169.8 235.7l.3 0M220.1 231.8l-1.2 1.2M225.6 234.9l-1.7 .1M231.8 242.4l-.9 1.3M152.7 244.6l0 .8M214.6 248.4l-.2 .1M217 247l.4 1.6M267.3 245.7l0 1.9M273.1 248l-.4 .1M232.6 250l-.4 .7M279.7 251.6l.6 .9M331.6 250.5l.8 1.1M243.9 255.5l1.6 0M162.8 263.1l.3 .4M174.7 264.3l.4 .1M226.3 263.7l1.8 .7M245.5 263.5l-.6 1M292.7 261.5l-.4 0M149.6 270.1l0 .5M160.6 270.2l2 .3M232.5 270.5l1.5 .2M310.7 268.5l1.1 1.1M274.6 275.9l-1.7 1M300.9 285.8l-.1 .3M318.6 287.5l1.4 .5M211.1 292.7l-1 1M90.1 302.2l.1 1.5M118.9 297.5l-.2 .4M151.8 298.5l-1.6 .6M156.1 299.8l-1.7 .2M163.7 298.1l-1.4 1.2M175.4 298.7l.4 .9M191.4 302.3l-1.3 .7M87.1 307.7l.6 .5M97.1 306.6l-.1 .7M133.8 305.6l.5 1M150.8 308.1l-1.1 .4M218.7 306.6l-1.9 0M306.5 304.7l.6 .6M178 311.1l-.4 .7M241.1 312.5l-.2 .3M87.3 316.6l-1 .3M159.2 317.2l.7 .1M191.5 317.8l-.3 .1M216.6 318.2l.4 1.6M224 320l-1 .5M78.6 325.2l1.3 1M199.1 323.5l1.9 0M220.7 326l-.2 .3M307.8 324.6l-.1 1.3M157.3 328l.3 1M170.3 333.7l-1.1 1.4M158.4 343.7l-1 1.6M176.8 339.6l-.7 1.7M197 340.4l-.7 .3M124.2 347.6l-.3 .9M143.7 345.8l-.1 .6M154.5 347.4l-.6 1.4M259.1 350l-.1 1.7M95.4 361.3l.9 .4M125 361.8l.5 .5M223.6 368.1l-.2 .1M138.7 372.3l1.1 1.6M154.2 370.7l-.3 1.1"/>
<path stroke="#646464" stroke-width="4.8" d="M336.5 76.4l.1 1M193.2 88.9l-.1 1.1M204.6 91.4l-1.2 .5M154.4 97.4l.9 0M177.6 96.1l-.5 1.6M219.6 102.2l-.7 1.8M201.5 107l1.6 .5M154.9 116.2l-.8 .9M185.3 113.7l.4 1.1M175.9 121.1l.9 1.5M204.5 117.6l-.9 .5M346.6 122.1l.8 .5M196.4 123.9l.5 .5M367.3 128.5l.7 1.2M351.5 154.2l-1.4 .9M350.6 163.5l-.2 .9M355.4 160l1 1.4M376.1 163.4l-1.4 .9M213.4 166l.9 .8M235.4 175.5l-.5 .1M316.6 174.1l-.6 .3M129.8 181.1l-.6 1.7M149.2 178.4l.3 .5M156.5 181.3l-.3 1.8M264.4 181.7l-.5 .4M140.7 188.1l-.5 .3M144.4 187.7l0 .8M209.3 187.5l-1.4 .3M214.5 184.2l-.2 0M230.5 185.4l.1 .2M272.2 192.9l-.1 .7M130.2 200.4l-.2 1.2M164 199.8l.2 .3M168.9 198.7l-1.4 .6M310.9 198.3l.6 .7M103.4 204l-1.9 .3M133.3 205.8l.6 1.5M281.7 205.8l1.9 .3M133.9 212.6l-.2 .8M212.2 211.9l-.3 .5M234.5 212l.1 .6M271.3 211.6l-.2 .2M312.9 209l-.5 .2M328.2 212.2l-1.3 .3M344.7 208.1l-.1 .6M116.1 215.4l-1.5 .1M276.6 213.6l0 1.8M317.2 214.5l-.4 1.1M342.6 218.3l-.8 1.8M118 222.8l.3 1.7M147.4 224.2l1.4 1M154.5 220.5l-0 1.3M316.9 221.9l.5 .1M271.5 232.5l.4 .1M291.8 232.9l.4 1M128.5 248.6l-1.3 1.3M351.4 248.2l-1.8 0M364.2 245.2l.1 .8M222.3 251.2l1.6 .9M239.8 250.2l.4 1M334 254l-1.8 .4M207.9 262.6l.2 .4M244.8 269.6l-.3 1.1M285 271.2l.5 1.1M331.4 270.7l.3 .5M144.6 277.4l-.6 .9M204.8 276.2l.2 .1M285.7 274.2l1 .2M293 274l-.2 .5M19.2 284.1l-.8 .8M186.7 284.3l-1 .6M207.6 281.8l-1.6 .8M247.1 283.1l-1.6 0M347.2 282.1l-1.2 .3M130.7 290l-.4 1.4M166.7 287l.7 .1M206.5 290.2l-.5 .8M257.6 289.6l.1 1.4M19.2 295.4l-.2 .5M25.9 294l-1.2 .1M131.5 295.1l-.2 1.1M182.6 293.4l-.4 .2M202.4 293.4l-.3 .9M251 294.1l-1.6 .1M290.8 294.3l.9 .7M25.3 298.5l-.7 .5M97.1 299l1.2 1.3M287.5 299.3l-1 .1M291.9 302.2l-.1 .8M145.2 305.7l-.7 .6M207.2 306.4l1.1 .6M213.6 306.9l1.5 1.2M241.5 303.6l1.1 1.2M291.8 306.2l.4 .1M52.1 314.5l-.2 .2M100.4 310.6l-.4 1.5M164.2 309.6l1.1 .9M233.7 314.2l-.7 .4M51.3 316l-.6 1.8M65.2 317.6l-.1 .3M76.3 316.5l-1 .6M109.8 315.8l.7 1.4M171.4 319.1l1.4 1.2M204.8 320.1l-.1 .7M244.1 319.8l-.4 .1M84.9 324.6l-1.2 .2M141.5 323.7l1.1 1.6M99.2 330.1l-.9 .6M147.4 329.8l1.2 .2M152.7 330.4l-1.7 0M167 328.6l.1 1.7M202 328.2l.4 1.1M259.6 327.6l1.3 .3M59.8 333.5l.3 .8M153.7 338l-.9 1.6M187.2 336.9l.9 .3M69 342.1l.4 .1M74 346l-.7 .7M132.2 349.2l-0 .6M216.5 347.5l-.1 .2M262.8 345.8l-.2 1.4M153.7 365.4l.7 .1"/>
<path stroke="#646464" stroke-width="5.4" d="M241 17.9l.1 1.4M280.9 16.8l-1 .3M274.7 21.5l-.2 0M175.3 88.3l-.3 .2M212.8 89.7l-1.5 1.2M197.5 93.6l-1.3 .9M151.5 106.8l-0 .4M183.5 105.6l-.9 1.1M219.3 126.2l.2 .8M353.5 125.8l0 .5M189.5 129.8l-1.2 .9M182.2 137l-.2 .3M366.8 140.2l.2 .3M241.5 169.4l.7 .5M337.5 170.2l0 1.2M339.5 169.5l.5 1.4M328.4 179.3l.8 .4M335.8 181l1.3 .3M348.3 182.5l-1.7 .4M370.5 180l-.4 1.5M126.6 185.4l.6 1.2M134 184.9l1.4 1.3M246.6 185.8l-.8 .7M211.3 192.6l-.7 1.6M320.1 190.8l.5 .6M122.2 196l-.1 .3M211.6 200.1l-.2 .3M335 198.3l-.9 1.5M120.8 205.7l-.2 .1M170 202.8l-.5 .9M244.8 204.6l.5 1M301.6 202.8l.4 .2M254.4 210.6l.7 .8M280.1 208.5l-1.3 .9M341.3 207.4l1.1 1.2M146.4 216.3l.5 .8M158 216.6l-.3 .5M129.1 223.9l-1.4 .6M279.9 224.6l1.8 .1M242.5 227.5l.9 .7M112 238.7l-.4 .2M295.9 241.2l.1 .3M339.9 240.6l-1.4 1.4M122.3 243.5l-1.3 .1M231.6 246.1l-.3 1.9M284.5 248.2l-.2 .8M300.6 247l1.1 .6M321.8 258.2l-.4 1.6M187.5 265.5l.4 1.4M353.1 261.9l-.6 .2M313.2 270.2l-1.8 .5M343.3 270.2l-.4 .1M352 269.3l-1.3 .1M219.5 276l.6 1.6M193.7 280.6l.2 .3M198.5 283l1.1 .4M271 283.5l-.1 1.4M304 281l-.3 1.6M122.6 287.8l-1.2 .4M140.6 288.6l1.2 1.2M337.3 290.5l-.5 1.6M25.8 306.5l-1.1 .9M35.5 307.2l-.8 1.1M118 304.8l-.9 .2M143.2 306.9l.8 1M237.7 308l1.1 .8M249.5 305.7l-.2 .1M84.5 314l-.1 1.1M106.2 310.6l.2 .1M248.4 312l.1 .6M275.1 312.9l-1.1 .5M248.8 320.5l-.5 .4M68 322.9l.7 .2M87.6 325.2l-.4 .6M229.4 323.5l1.8 .7M273.5 325.8l.4 1.1M312.2 323.1l.6 1.6M176.2 327.9l-1.5 1.2M243.3 332l-1.2 .4M198.8 337.3l-.4 1.7M203.1 334.8l-.1 .3M141.2 343.4l1.3 .8M226.4 340.2l.7 .8M182.1 352.6l-.3 .3M189 353.9l.7 .3M213.7 355.4l-.3 1.3M257.3 354.9l-1.1 1.4M169.9 361.2l-1.2 1.2M145.8 366.8l.1 1.4"/>
<path stroke="#646464" stroke-width="6.0" d="M330.8 70.6l-.3 .2M166.9 100.4l1 .1M154.4 107.4l-.5 .8M352.7 110.2l-.9 .6M205.5 113l-.5 1M357.3 116.3l-1.6 .3M361.4 114.5l1.1 1.3M220.1 167.1l-1.2 1.4M229.5 166.2l1 .6M257.5 169.1l-.1 .4M231.6 176l1.6 .5M262.8 172.9l.3 1M332.7 173l-.3 1.2M247.1 181.6l-.1 1.1M257.4 179.9l1.2 1.1M324.8 179.5l0 2M343 179.1l.4 .5M224.4 184.6l.3 .5M298.7 186.4l.4 1.7M171.4 192.6l.4 .4M328.8 190.3l-.8 1.6M341.8 190.4l.3 .3M356.3 193.4l-.1 .3M376 192.9l-.7 .4M103.7 196.1l-.9 .7M115 197.2l-.4 .3M148.1 198.5l1.3 .9M295.2 196.1l-0 1M337.2 197l-1.4 .4M176.2 206.5l-1.4 .3M199 202.5l-1.3 .6M259.3 203.4l.7 1M268.7 203.6l-.3 1.5M294.7 203.8l0 .2M121.1 208.6l-.1 .8M178.2 208.8l-1.1 .5M103.1 217.3l.4 .2M160.6 216.5l-.7 .2M353.2 214.3l-1.2 .7M365.4 216.9l-.1 1.2M265.2 224.1l-.5 0M290.1 222.4l.7 1.2M136.8 229.3l1.5 .5M163 226.1l.4 0M270.8 228.5l-.1 .5M104.4 234.5l.6 .8M109.8 236l1.3 .6M211.5 236.1l1.2 .3M234.5 233l1.3 .8M279.6 231.6l-1.6 1M362.5 235.4l-.2 .1M143.7 237.6l.9 .1M259.8 242l.9 1M272 238.2l-.1 .7M140.2 247.3l-.9 .9M244.5 247.3l-1.2 .6M150.7 250.1l-1.3 0M194.4 253.7l1.3 1.3M293.2 252.3l-.6 1.5M289.8 257.2l-1.3 .7M307.3 259.5l.1 .5M330.5 258l.4 .1M178 262l1.6 .3M221 264.3l-.9 .4M251.5 264.8l.3 1.6M224.7 270.4l-.7 .5M247.1 270.9l.4 .1M301.9 268.2l.1 .3M328.4 272.1l-.4 .1M259.2 275.4l-.8 .2M135.7 279.5l1.1 .4M164.4 281.2l1.8 .2M170.2 282.3l.3 2M245.3 282.8l-.6 .2M210.1 289.7l1.1 1.3M218.2 290.5l.1 .8M305.8 285.8l1.2 0M139 296.1l.2 1.3M205 296.5l-1.3 1.3M232.3 293.6l-.7 1.3M306.7 294.7l.1 .9M18.9 299.4l.8 .2M184.1 301.8l-1.2 .5M233.3 305.7l.6 .5M305.1 306.7l-.1 1.5M331.8 305l1.7 .2M253.5 312l-1.1 1.3M295.2 311.4l-.6 .1M316.1 313.1l-1.4 .8M184.1 320.4l.9 .6M274.7 316l-.2 .3M284.7 319l.4 1.1M179.7 322.2l-.2 .1M251.3 322.3l0 .7M288.2 323l-.5 .3M318.9 321.6l.7 1.2M79.4 328.4l-1.2 .4M219.7 328.8l-.4 1.3M149.1 335.4l-.2 .6M239 334.5l.4 1.2M243.5 334.8l.4 .5M280.4 341.7l1.1 .7M96.7 354.9l1.8 .2M229.6 358.2l.8 .2M191.6 367.9l.2 .8M220.2 366.3l-1.4 .6M178 372.9l-1.9 .5"/>
<path stroke="#727272" stroke-width="4.8" d="M186.7 97.2l-.5 .2M343.3 98l1 1M189.3 127.5l.3 1.8M222.6 125.8l.3 1.8M374.1 144.3l-.6 1.4M368.9 149.7l-.9 .1M321.4 174.9l.5 1.3M241.5 181.1l1.5 .6M316.6 180.5l-1.5 .2M155.2 187.6l-.2 .8M262.4 185.9l1 .7M310.1 188.2l-.2 0M118.9 193.7l-.1 1.4M289.7 191.1l-0 1.3M260.1 196.8l-.5 1.8M144.8 203.1l-0 .8M249.9 205.2l.5 .4M286.6 204.6l-.4 .3M221.4 209.8l1 .6M242.5 209.3l.3 2M310.1 208.6l.7 1.3M150.7 217.4l-1.1 .6M135.7 221.4l-1.2 1.4M171.1 220.5l-0 .5M177.5 223.1l.8 1.5M100.7 228.7l-.1 .5M154.3 225.8l-1.7 .4M266.4 225.9l-.1 .4M132.7 233.6l-1.3 .6M286.8 232.3l1.4 .6M352.9 234.4l.5 .9M367.1 232l-1.8 .9M127.2 239l-.9 1M223.6 241.8l1.6 .1M307.5 239.3l.9 .2M134.8 245.4l-1.4 .3M206.2 244.4l-.4 .2M260.4 248.3l-.4 .3M281.5 246.8l.9 .4M309.9 247.9l-1.6 1M342.9 247.7l-.7 1.6M5.2 252.5l.1 .3M126.4 252.6l-.5 .8M287.7 252.8l-.4 1.1M302.5 251.7l.6 1.3M306 252.2l.2 .1M5.5 256l.1 1.1M199.1 259.4l-1 1.5M351.8 255.5l.2 .3M354.5 260.1l-.5 1M236.2 263.1l-.2 .6M300.1 264.9l-.1 .5M218.7 271l-1.4 .9M211.4 274l-.3 0M283.6 275.2l-1.6 .2M325.7 277.2l.1 .8M141.6 281l.8 .5M177.6 287.7l-1.4 .1M195.5 287.8l.8 .3M286 289.1l1.2 0M156.9 294.7l.2 1M177.1 291.5l-.7 0M204.8 300.5l.6 0M207.9 300.6l1.2 1M239.3 301.9l-.9 1.7M269.8 298.7l.5 .7M119.2 312.7l1.8 .7M101.6 316.8l.4 .9M119.4 316.6l.6 1.7M128.4 319.5l.6 .1M192.7 319.3l.8 1.2M279.6 316.7l.8 .1M71.6 324.8l-2 .1M184.4 323.1l-1.5 .5M255.6 324.9l.3 .7M184.5 331.5l.9 .3M211.8 330.6l-.1 .3M175.7 336l1.1 .6M215.3 336.9l1.2 1.2M136.3 340.4l1.1 .5M203.6 343.1l.5 0M220.2 344.2l.6 .5M177.8 347l.7 1.2M193.4 349.2l.5 .7M199.1 364.4l.2 .3"/>
<path stroke="#727272" stroke-width="5.4" d="M256.9 7.8l.3 .3M292 24l.1 .6M183.9 91.4l.3 .1M188.7 87.4l.4 .3M334.3 103.9l.4 .6M194 112.5l-1.2 1.1M364.6 118.5l-1.8 0M186 134.4l.9 .4M188.8 137.9l.3 1.9M221.1 163.6l.2 .1M345.9 163.6l.9 .2M327.2 173.8l.2 .3M127.2 180.6l-.2 .3M136.5 178.8l-.4 1.5M295.2 193l-.1 .4M304 191.6l.5 1.1M113.2 199l-1.4 1.3M159.8 198.7l-1.2 1.2M274.8 196.9l.1 1.1M278.2 197.9l-1.6 .8M325.7 197.4l-.1 .4M347.3 195.9l-.9 .6M334.4 204.8l-.2 .9M348.1 205.9l.7 1.6M293.2 210.5l.7 .1M257.6 213.5l.5 .2M288.2 215.6l.1 1.3M109.9 222.1l-.3 0M160.5 222.4l-.7 .3M345.4 224.1l-.1 .2M97.6 226.3l-.7 .6M232.4 230.5l1.2 .2M296.6 236.4l-.3 .7M304.8 235.8l-.7 0M306.7 236.4l1 .6M218.1 237.7l-1.3 .9M241.2 238.8l-.9 1.2M300.1 241.4l-.6 .2M318 242.4l1.1 .3M108.5 245.7l-1.1 0M146.1 245.8l-0 .8M236.8 248.5l-.1 .2M333.3 244.6l.8 .8M263.6 254.2l-.2 0M172.1 257l.4 1.3M215 258.5l-1.4 .1M277.4 258.5l.4 .9M305.2 263.9l.3 .5M312.6 264.8l.2 1.4M14 270.3l-.9 .4M175.5 269.6l.1 .3M258.6 269.2l-2 .2M292.1 267.7l-.5 .1M160.3 274.2l-.5 1.2M226.5 277l.9 1.2M243.8 276.8l-.6 .9M311.9 276l-.2 .5M144.8 281.8l1 .2M218.9 282.5l.8 0M191.4 286.4l-1 .9M263.4 285.5l.2 .4M197.2 295.9l-.2 .2M275 296.2l-.9 .6M167.3 300.6l1 .9M179 304l-1.1 .1M223.4 308l-.2 1.7M115.1 311l-.6 .1M127.9 313.1l-1.1 0M137.3 310.8l.7 .7M149 309.8l1.3 1M211.2 310.6l-.2 .3M103 317l.2 .1M98.5 324.4l.3 .7M107.9 324.6l-.6 1M124.6 323.5l-.1 1.2M193.1 326.1l.5 1M233.7 323.4l-.9 .1M241.5 322.6l1.5 1.1M123 327.8l-.4 1.1M112.4 335.5l-.7 .5M144.1 333.7l.1 .4M233.1 336.8l-.9 .2M124.9 344.5l-.6 .5M202 347.4l-.6 1.4M249.8 349.1l-.3 1.3M110.2 352.6l-.3 .2M101.1 362.3l.2 .6M214.5 368.4l-.7 .6M208.5 371.7l-.3 1"/>
<path stroke="#727272" stroke-width="6.0" d="M259.3 14.2l.9 1.4M267.7 17.8l.9 .8M274.8 19.2l1.2 1M335 74.3l1.5 .8M171.8 102.1l-.6 .5M186.8 116.5l1.3 .2M183.1 126.2l-.2 .6M202.3 127.3l1.3 .8M200 135.8l.4 .6M339.4 160.6l-1.3 1M352.6 166.4l1.2 .8M199.9 182.2l-.3 .8M227.3 178l.9 .7M251.7 182.5l.1 .5M355.1 181l.6 1.4M359.1 178.1l-.4 1.1M104.2 187.4l-.3 1.1M120.7 184l0 .4M358.6 188.6l.6 .2M108.5 190.6l-.4 .1M128.2 191.5l-.9 1.4M250 193.2l-.6 1.4M256 191.4l-.4 1M322 192.3l1.4 .6M287.5 197.4l-1.1 1.1M223.6 205.6l1.4 1.1M305.5 205l1.3 .1M339.7 203.5l.9 1.1M353.7 202.8l-1.5 .8M331.2 211.8l1.6 1.1M376.6 209.7l1 1.4M127.4 217l-.8 1.4M130.7 217.2l.8 .3M280.7 215.8l.3 .1M314.1 214l1.6 .6M140.8 223.9l-.5 .3M273.3 219.5l1.3 .3M287.5 220.7l.7 .3M297 219.6l.6 .3M126.2 225.8l.3 .6M293.9 228.3l.3 .2M306.3 229.9l1.3 .6M365.5 230l1.2 .6M139.6 235.7l1.4 1M139.8 238.6l-.4 .3M252.3 240.9l-1.4 .5M280.1 242.6l-.3 .4M116 245.8l-2 0M297.9 247.2l-.2 .3M203.7 251.8l-.2 .2M195.2 258.6l-1.1 .5M296.7 260.3l-1.4 .1M191.6 262.5l.6 .7M217 263.9l1 .6M240.8 261.7l-.9 .3M257.8 264.7l-1.3 .7M285.7 262.4l-1.1 .3M328.3 275.2l.2 .3M347.2 274.3l1.5 1.2M13.3 280.8l.7 0M155.4 281.9l-1.5 .7M180.8 284.1l-1.2 .6M211 283.7l-.9 .2M267.8 284.6l-.9 1.6M280.8 280.2l1.6 .7M124.1 289.2l.2 .8M147.6 286.7l1.8 .8M270.7 289l-.2 .9M311.6 289.7l.3 .1M322.3 287.2l.7 .7M224.4 293.1l-.3 1.7M235.4 292.7l-1.5 .6M112.8 302l-.4 .4M91.1 306.4l.3 1.9M127 308.3l.2 .5M196.1 304.9l-1.1 .3M95.4 311.7l.2 1.2M221.2 309.7l-.8 .8M260.4 314.3l1.5 0M268.5 309.7l1.8 .5M68.8 318.2l1.3 .7M93.5 319.5l.8 1.7M267.9 317.2l1.6 1M101.7 325l.6 1.7M193.7 331.7l-.6 1.9M133.1 335.1l-1.2 .2M139.1 338l.2 .8M252.3 335.4l.4 .4M130 344.2l.3 .4M151.2 343.7l.2 .7M239.4 341.8l1.6 .2M96.7 348.2l-.6 .1M186.5 347.5l1.5 .2M174.8 352.6l.8 1.3M196.4 353.7l.2 1.7M233.6 359.2l-.6 .1M162.2 374.2l-.7 .2"/>
<path stroke="#7c7c7c" stroke-width="3.6" d="M195.8 1.3l1.6 .2M4.2 11.1l.6 1.1M186.2 11.4l2.8 2.3M33.9 18.7l-0 1.3M211 18.1l1.3 .5M226.2 19.5l2.9 1.4M152.5 22.4l2.1 2.5M150.4 61.5l2.8 2.2M160 61.8l2 3.7M107.3 69.4l.7 4.1M267.2 76.2l1.2 2.2M137.5 85.4l.1 3.8M282.9 82.6l3 2.5M49.5 91.9l1 .3M280.2 90.1l3.3 2.9M69.7 96.6l1.1 1.8M288.9 94l2.9 -.5M284.2 101.1l1.3 4.2M47.5 107.3l4.3 1.1M118.7 112l1 .7M28.2 120.2l.5 1.4M120.7 127.2l4.2 .7M289.8 127.9l2.8 2.5M160.2 130.2l.2 1.3M233.3 136.5l1.6 1.6M128.5 143.1l1.5 1.5M41.5 150.8l2.8 3.3M219.3 152l1.2 3.5M97.6 153.7l2.4 2.7M334.2 156.3l-0 1.1M191.7 166.2l-.5 2.1M172.4 173.5l2.5 1.9M75.7 188l2 1.9M81.7 192.5l.4 1.2M178.6 197.4l.9 1.1M199.6 209.3l2.4 3.3M200.3 215.8l.8 4.2M18.6 221.9l3.7 2.4M32.6 223.5l3.2 1M213.6 224.5l1.1 2.5M73.2 226.8l1.6 1.4M202.2 235.4l.8 1.1M81.5 259.9l2.1 2M143.6 265.8l1.2 1M43.1 269.7l2.4 .4M82.1 300.7l1.1 2.5"/>
<path stroke="#7c7c7c" stroke-width="4.4" d="M28.3 20.1l.3 1.7M49.5 18.4l-.1 1M111.7 15.4l1.4 2.5M87.8 22.8l1.2 3.3M238.4 28.2l2.8 2.7M243.3 31.4l.8 2.1M5.6 36.7l1.2 2.3M218.4 37.8l2.6 3.6M5 39.9l.5 2M218.6 40.3l3.2 1.2M52.6 46.8l2.3 2.4M28.9 62.2l1.9 3.4M62.4 59.3l2.1 2.7M176.3 59.8l2.3 3.6M162.5 64.5l3.1 .6M70.9 74.2l.7 1.6M29.6 85.6l1.2 1.8M222.7 83.9l3.6 .6M75.2 88.3l1.6 2.2M153.8 90.4l.8 .7M231.9 89.1l2.3 1M261.4 90.1l3 .7M93.6 97.6l1.8 1.4M317.2 106.4l2.3 1.6M77.8 121.4l1.2 3.6M130.1 118.3l1 .7M116.7 128l.6 4.1M331.9 124.3l2.6 1.9M28.5 133.1l1.2 .6M145.2 139.4l3 .7M43 146.3l2.2 -0M66.2 142.7l2.4 .8M322.2 154.3l1.4 2.8M33.8 159.6l1 .3M321.9 165.6l2.4 1M101.5 186.8l.2 2.1M94 191.1l3.4 1.8M45.7 200.6l2.8 2.1M5.7 214.6l1.7 2.6M189.6 224.1l-1.2 4.3M38.6 230.5l.9 3.8M86.1 228.6l1 1.1M202.9 225.6l1.9 2.2M210.6 228.6l2.2 3.3M50.5 265.4l2.1 2.7M77.2 286.2l0 2"/>
<path stroke="#7c7c7c" stroke-width="5.2" d="M112 4.1l.2 1.2M26.5 24.7l.7 1.2M49.2 40.1l1.5 .7M112.9 46.8l2.5 .7M73.8 65.7l1 .7M244.1 68.1l2.7 2.1M256 71.7l1.8 2.3M121.9 79l.8 1.9M237.8 78.7l2 1.8M217.4 82.2l-.2 2.3M247.8 91.2l.2 2M324.4 90.4l-.3 1.8M18.8 95.9l2.3 2.6M24.7 97.6l3.9 .7M90.5 95.3l1 .9M114.5 99.7l.8 3.4M277.7 103.2l1.1 .4M327.2 116l3.7 2.1M334.9 117.6l1 .8M253.5 125l.4 3.3M79.7 130.7l.2 1.2M226.6 139.2l3.1 3M240.5 151.6l1.6 .9M50.6 155l3 2.5M236 157.1l3.2 -.1M349.1 154l1.5 2.3M103 162.1l2.7 -.1M30.5 165.9l2.7 2.5M155.1 165.7l4.2 -.6M163.8 176l2.2 2M192.8 175.4l2.4 1M302.5 174.4l3.8 2.2M282.5 179.8l.9 1.2M62.2 187.1l.1 2.4M275.6 185.7l-.2 4.2M192.6 199.6l.6 1.5M19.2 206.1l1.9 1.5M62.4 217.5l3.5 1.2M80 224.2l4.5 -.5M66.8 235.5l-.2 1.2M25.7 238l2.3 1.5"/>
<path stroke="#808080" stroke-width="4.8" d="M269.5 12.5l-.3 1M217.7 95.1l.9 1.3M336.6 95.4l.6 .2M154.3 102.2l.1 .2M191 120.4l1.8 .6M210.6 122.2l1.6 1.2M370.4 134l-.1 .2M376.6 166.3l.8 0M351.5 175.1l.4 1.7M376.2 175.4l.8 1.3M218.8 185.4l-1.3 .1M256.5 185.4l.1 1.9M304.9 184.5l-.5 0M134.6 190.2l-.5 .2M160.8 190.6l.1 .7M300.8 191.8l-.2 .9M312.4 190.4l-.6 .1M348.8 194.5l.2 .2M149.5 204.4l1.1 1.5M101.5 209.9l-.3 .9M249.9 209.9l-.3 .2M259.6 208.5l.4 1.8M265.2 208.9l-.9 1.5M117.8 217.6l1.6 .2M301.3 216.8l-.5 1.8M307.1 216.8l-.9 1M324.4 216.4l-.1 .3M263 223.9l-.3 .7M112.8 229.2l-.9 1.7M168.8 229.3l1.7 .8M347 225.6l-0 .5M167.3 232.8l-1.2 .7M211.5 241.2l.4 .2M203.5 248.6l-1.7 1M226.6 247l-.2 .1M188.3 251.8l-.4 1.3M225.5 251.1l.5 .4M244 254.2l1 .3M323.3 250.5l.4 .3M256.2 258.2l.5 0M267.9 258.7l-.3 .4M332.1 262.4l-.2 .8M261.6 275.8l-.3 .1M270.7 276.6l.5 .2M11.2 280.6l.7 .6M19.4 287.8l-1.1 1M144.5 289.9l.2 1.5M174.2 290.1l1.8 .5M253.2 288.9l-.3 .4M119 292l-0 .3M259 295.3l.7 1.4M196.4 297.9l.4 0M306.9 299.9l1.3 .9M189.3 308.1l-1.4 .6M327 306.9l-.3 .5M88.5 313.4l-.1 .2M183.4 312.9l.9 .6M214.7 309.9l.2 1.4M301.8 310.3l-0 1M39.2 317.7l.2 .9M144.6 320.6l.5 0M263 317.6l-.1 1.3M309.5 316.2l-.4 .2M38.1 322.4l-.8 .4M131.6 323.8l-.1 .6M159.7 326.4l.2 0M212.3 325.4l-.2 .2M244.5 324.1l-1.9 .6M262.9 322.4l-1 .1M57 330.1l-.4 .8M85.7 329.1l-.1 .2M205.9 327.5l.8 1.8M92.1 336.2l1.3 .6M230.2 335.2l-1.6 1.1M183.2 341.5l-.4 .7M81.6 346.6l-0 1.5M271.1 348.3l1.2 .9M85 352.1l.1 .7M95.1 353.6l-1.8 .5M241.8 354l-.1 1.8M182.5 359.5l.6 .5M134.5 368.1l-.4 .3M199.1 373.4l-.7 0"/>
<path stroke="#808080" stroke-width="5.4" d="M330.6 67.8l-1.3 .5M160.4 92.3l.5 .3M218.3 90.4l-.1 .4M179.6 100l1.5 .1M180.9 103.8l-.2 1.3M199.2 103.1l.7 1.3M209.5 104.1l0 .9M223.1 102.5l1.6 .8M159.6 106.9l.8 1.3M226.9 108.6l-1.3 .4M187 120.6l.2 .2M197.5 120.6l-.5 .8M365.9 132.3l.5 1.9M222.7 162.3l-.1 .2M243.8 161.9l-1.4 .1M250.2 168l-.8 .6M331.7 170.2l.4 .7M375.5 180.6l.1 .5M238.8 184.2l.1 1.8M340.7 187.4l-.2 .1M101.5 191.1l-.9 .4M113.3 192.1l.1 .2M209.4 197.3l.3 .1M230.7 196.8l-.1 .6M256.2 197.5l-.8 .5M213.9 204.9l-1.2 0M318.3 206.3l.4 1.8M116.5 207.8l.9 1.6M161 209.3l-.7 .1M223.8 211.7l-0 1M107.5 218.2l-1.1 .8M338.1 214.6l1.5 1.1M350 216.7l-.3 .3M245.9 227.5l.8 .8M258.7 227.6l.2 .7M118.5 235.9l.1 .6M123.5 234.8l-.3 .3M147.5 232.8l1.2 1.1M152 236.4l-1 .3M158.3 231.5l1.3 .8M344.5 236.5l1.7 .8M227.4 241.2l1.2 .4M314.2 239.9l.2 .2M360 239l1.6 0M194.8 245.9l-1.2 .4M177.7 257.1l.1 .4M184.6 257.2l-0 .5M283.5 263l-1.6 1.2M180.8 270.3l-1.1 .1M189.4 269.7l-.6 1M278.2 268.6l-.8 .6M13.8 276.4l.3 .6M157.4 277.2l.1 .2M308.2 275l-.1 1.3M354.3 274.1l-.3 .5M127.6 283.4l.5 .4M236.3 280.9l-1.9 .2M280.8 289.8l-.4 1.3M294.3 290.5l.5 1M145.6 292.1l-1 .4M241.9 291.8l-.3 .2M268.8 294.4l-.6 .5M27.8 301.1l2 .2M182.3 301.5l-.5 1M214.1 301.6l-.4 .4M228.2 298.3l1.6 .6M253.9 298.7l1.1 .1M329.9 300l.8 .5M111.2 307.9l.4 .9M45.8 318.4l.5 .1M124.3 318.6l1.3 .3M133.8 317l-1.3 .4M165.6 317.9l1.3 .1M212.5 318.3l-.7 .3M321.2 319.6l.8 .2M147.5 324.4l-0 1.7M217.4 324.9l-.2 .2M76.7 330l-.3 1.7M138.9 328.5l-0 1.2M253.2 329.2l-.2 .2M267.6 329.9l-.4 .6M128.3 333.8l.3 1.5M160.3 336.3l-.8 .8M209 336.6l-.1 .2M289.6 334.7l-.5 1.1M163.5 342.5l1.1 .6M215.3 344l1.3 .2M242.8 339.7l-.3 .1M210 346.6l1.1 .6M245.2 360l-1.3 .9M177.9 368.3l-.3 1.3M202.6 372.1l1.4 .2"/>
<path stroke="#808080" stroke-width="6.0" d="M282.8 24.6l.1 2M289.5 30.3l.3 .1M176.2 82.9l.3 .5M178.6 82.3l-.7 .3M190.6 81.9l-.1 .3M337.8 84l.2 .4M226.4 113.1l0 .6M179.3 121.4l.9 .3M161.4 127.4l0 .8M353.4 135.9l.9 .2M364 145.7l.1 .5M337.1 173.2l.5 .6M232.5 181.3l-.5 1M119 188.5l-.3 .2M319.3 185.1l-.2 .2M332.7 183.4l.4 .9M344.9 188.5l-.3 .6M312.6 196.8l-.9 .3M313.7 203.7l-.4 .1M127.4 210.2l.5 .4M297.7 209.7l.9 .1M235.8 214.7l-.8 1.2M331.2 214.4l-.2 1M99.1 221.6l-1.8 .9M256 219.9l-.7 .9M101 233.4l.7 .2M230.8 236.5l.2 .7M244.2 242.5l.7 1.1M262.8 241l-.4 1.4M277.2 242.2l1.3 .2M256.2 246.2l-1.8 .9M321.3 244.1l-1.5 .7M324.9 247.6l-1.7 .1M339.2 247.2l.1 .4M214.9 253.2l-.3 .2M207.7 258.4l-.8 1.2M217.6 256.9l-.7 1.1M260.4 255.5l1 .8M11 266l.1 1.4M170.5 261.9l-1.7 .4M272.5 266l-1.8 .5M321.9 261.4l-.6 0M170.5 268.6l.1 1.3M236.1 269.8l-.6 .3M166.7 277.5l-.7 .3M239.5 277.1l1.2 .2M179.1 282.8l-.1 2M263 282.3l1.5 .6M294.8 282.3l0 .6M320.9 280.3l.5 .9M245.2 288.8l-1.7 .1M342.8 286.8l.3 0M137.6 296.3l-1.2 .2M256.5 295.1l-.2 .8M297.1 295.8l-.9 1.1M303.3 294.3l.1 1.1M126.7 301.9l.4 .4M260.6 301.9l-.3 0M300.3 299.2l.7 .3M161 307.5l.8 1.6M166.3 303.7l1.4 1.2M171.8 305.7l.2 1.2M261.4 304.6l.5 1.2M72.5 313l-1.7 .3M133.8 312l.7 .7M193.1 312.3l-1.8 .8M204.1 311.1l-1.1 .6M263.6 310.7l-.9 .5M230.2 316.8l-.3 .2M46 321.8l.6 .2M232.2 330.3l1.2 .3M53 336.9l-.1 .3M101.2 335.9l.5 .3M191.4 336.9l1.3 1.3M262.1 333.7l.5 1.2M101.2 341.4l-.5 .4M119 340.1l-.3 .7M147.6 344.6l.9 1.7M171.2 341.8l-1.6 1M190.9 341.6l.5 .5M168.1 346.9l1.8 .4M173.7 348.1l.5 .7M142.5 354.6l.9 1.5M160.4 353.5l-.6 .1M105.5 361.8l-.1 .4M119.5 367.1l.6 1.8"/>
<path stroke="#8e8e8e" stroke-width="3.6" d="M57 3.8l1.6 2.3M105.8 7.6l1.3 3.1M222.6 7.3l2.4 3.5M84 12.2l.8 .8M151.7 14.5l1.8 1.8M195.6 10.7l.3 3.5M70.3 20.2l.9 2.8M145 18.6l1.9 .9M143.8 26.4l2.6 2.9M188.1 34.6l1.5 2.9M45.8 43.5l1.5 1.1M73.5 40.1l2.7 3.3M271.8 44.6l1.5 3.4M177.9 45.7l1.1 .9M77.1 54.2l4.3 .5M231 54.4l.9 3.7M79.3 69.9l1 .5M126.4 74.3l2.6 -.4M267.7 69.9l2.3 3.5M151.2 76.6l1.7 2.1M59.6 85.7l.1 4.4M262.9 81.4l4.3 1M275.3 89.4l.9 1.3M327.9 95.9l.2 3M322.8 102.5l1.3 3M106.4 107.2l.9 1.2M299.4 107.1l.9 3.8M148.9 115.5l1 1.9M302.4 112.5l1.9 -.8M31.3 127.5l.2 1.1M323.2 139.9l2.8 .3M96.1 144.8l-0 2.9M234.5 144.4l1.1 .8M237.4 151.6l1.5 1.8M126.3 154.2l.2 1.2M135.8 155.7l1.9 2.4M149.1 156.4l1.7 3.4M78.6 164.2l2.9 2.3M67.9 165.5l1.7 1.1M8.9 183.4l1.1 1.2M285.5 187.7l1.7 3.1M31.4 191l1.8 1M20.9 199.8l0 1.6M14.3 225.9l1.4 2M213.4 229.2l3 2.3M39.2 256.4l2.2 .6M86.8 255.6l1.5 1.8M74.7 279.8l1.2 3.5M61.8 307.3l1.2 1M64.5 311.3l.9 4.1"/>
<path stroke="#8e8e8e" stroke-width="4.4" d="M117.9 6.5l1.1 1.4M198.9 6.5l1.1 1M44 14.3l2.3 1.4M90.4 10.4l3 3.2M97.1 10.3l1.3 3.6M139.5 13.3l2 3.1M6.4 15.6l2.3 1.4M20.6 17.3l3 1.2M43.4 22l.4 1.4M20.6 30.9l1 1.7M31.7 27.6l.5 2.1M79.2 36.2l2.3 .9M171.6 33.9l2.5 3.1M226.9 37.7l.3 1.2M31.4 39.6l-.3 2.5M120.5 40.4l3.4 2.2M24.7 47.4l1.6 2.5M105.7 45.4l-2 2.9M227.7 45.9l2.1 1.3M247.4 50.4l3.4 1.4M210.8 56.1l3.8 .3M205 59l.4 3.3M106.5 67.1l2.1 .7M186.4 63.5l2.9 2.8M250.6 67.6l2 1.6M65.4 72.6l1.2 1.5M211.2 73.8l2.5 3.2M261.4 73.8l1.1 1.4M136 78.7l.8 1.5M149.3 77.8l1.6 2.6M44.3 82l1.7 -.2M81.2 89.2l.7 4.1M314 93.4l3.6 1M137.3 101.3l2.1 2.4M81.8 112.2l3.1 1.7M106.9 113.8l2.4 2.4M239.5 111.9l.5 3.1M295.8 113.5l.8 2.5M67.4 126.7l3.1 2.8M315.6 134.4l1.8 2.2M217.5 146.4l1 1.2M190 160.4l1.8 -1.1M257.1 161l3.7 2.4M35.5 168.4l.8 1.3M43.4 169.5l4.1 1.3M161.2 174.8l1 .7M16.4 199.7l.8 .9M49.1 199l.4 3.7M2 217.8l2.5 2.6M78 241.2l1.1 .6M29.6 250.4l.3 1M109.9 264.2l2.1 .6M59.2 271.7l2 2.3M72.6 273.7l.5 2.1M77 305.9l.8 1.2"/>
<path stroke="#8e8e8e" stroke-width="5.2" d="M32.6 8.2l.7 1.1M30.4 25.2l1.5 3.1M213.7 24.2l1.8 1.9M262.6 31.3l.1 1.1M27.4 36.2l2.1 2.3M131.4 42.7l3.1 1.8M284.1 43.2l1.1 1.5M128 52.9l1.7 3.9M174.7 53.5l.1 3.2M145.9 63.7l2.9 1.8M206.8 67.7l1.1 1.5M258.6 67l3.1 0M33.8 77.2l1.2 2.4M45.8 80.3l2.7 .6M66.5 75.7l3.2 2.9M187.7 77.4l3.1 -.1M45.8 102.7l2.5 3.5M263.6 103.5l2.8 1.4M17 108.8l.4 1.9M132 107.9l1.5 1.9M233 109.2l1.2 1M274.6 107.2l.3 1.8M23.5 114.1l1 3.5M94.3 112.9l1.8 -.3M12.5 120.3l1.4 .3M275.4 118.6l1.3 1.6M249.2 124.9l.2 2.6M304.7 128.5l.2 1.6M313.3 123.7l.2 1.3M58.1 138.3l1.6 .2M178.6 144.7l1.1 4.3M225.6 144.9l.3 2.2M123.4 152.3l1.4 3M66.1 155.4l1.8 4.1M204.5 154.5l1.2 .7M211.4 162.3l2.4 .8M268.1 160.5l1 2.7M331.1 162.2l1.1 3.8M266.4 169.3l1.7 3.6M37.5 178.1l1.6 1.8M88.7 191.8l.6 4.1M84.8 196.9l2.6 3.4M179.1 206.1l1.4 .5M3.4 207.6l.8 1.6M11.6 218.1l2.7 1.7M16.3 215l1.6 .6M87.5 230.2l1.9 -.2M184.3 247l1.2 -.1M153.1 258.4l3.3 2.7M28.4 265.9l3.6 1.7M154.1 263.3l.6 1.8M42.1 277.1l2.7 1.8M46.4 273.8l.2 3.4M64.5 282l2.2 1.4"/>
<path stroke="#a0a0a0" stroke-width="3.6" d="M180.6 5.3l3.1 3M191.2 8.3l.9 1.2M17.8 9.7l2.2 2.3M13.5 20.6l1.1 .5M47.5 20l2.1 3.9M119.4 18.2l.9 2.6M123.6 25.4l2 3.8M205.8 22.5l2.2 1.8M141.9 36.6l1.6 1.8M247.2 35.9l.9 .7M190.1 39.6l.4 1.3M196 40.4l.4 1M210.5 40.1l2.2 3.1M146 45.5l1.1 .2M166.1 48.8l.3 4M151.9 56.5l4 .4M159.9 52.8l1.1 2.5M51.5 60.4l3.7 1.3M101.8 71.4l1.2 2.9M111.8 72.9l.9 3.5M253 86l2.6 3.2M284.6 90.2l1.5 2.1M101 93.5l-.4 4M283.3 94.2l1.2 1.7M83 104.2l2.7 .5M238.7 104l.6 3.3M240.2 107.2l1.1 2.9M58.7 131.3l2.8 2.9M32 135.5l1.4 4.1M111 148.9l1.4 2M284.2 152.2l2.2 3M351.4 151.2l.6 1M208.1 153.8l2.8 2.2M288.8 166.2l.7 2.2M79.1 174l1.2 1.7M289.1 176.2l2.1 1.8M14.2 186.4l1.3 1.2M201.6 217.3l3.2 .2M4.5 229.7l2.1 2.8M52.5 229l.3 2.4M43.8 258.7l.7 .8M64.3 290.4l1.2 2M84.7 289.1l1.4 .7"/>
<path stroke="#a0a0a0" stroke-width="4.4" d="M1.5 1.7l2.1 2.5M202.7 1.6l1.6 2.2M84.6 17.7l1.6 .8M194.3 17.7l1.9 2.4M62.4 26.6l1.2 1.3M227.5 40l3.5 1.3M132.5 64.9l1 2.6M158.5 67.7l1.8 .5M273.6 73l1.3 3.8M275.5 77.3l3.2 3M80 82l1.4 .8M275.3 83.4l2 1.5M288.1 86.3l.7 2.2M268.1 96.5l.2 1.3M230.7 99.6l1.2 1.4M112.3 121.3l3.7 1.8M242.3 117.8l.4 1.6M130 125.7l2.2 3.4M136.7 127.4l1 .7M6.3 133.5l-1.6 2.6M215.1 135.8l1.2 1.6M218.3 138.8l3.1 3.1M78.1 146.1l.5 2.5M194.3 146.3l.2 3.6M307.8 143.7l2 .5M325.9 141.5l.7 4.3M58 151.1l.2 2.7M134.9 149.8l3.3 -.3M295.7 147.9l1.7 1.3M315.6 152.4l.8 3.9M327.3 148.7l2.2 3M219.8 157.9l3.2 3.1M141.5 160l1.1 .3M1.4 170.6l3.3 1.2M196.6 166.1l.2 1.3M281.8 166.3l1.1 2.3M43.2 174.6l1.5 1.5M63.5 172l1.2 1.3M54.5 186.2l1.2 2.3M192.1 202l.5 1.9M39.6 222.8l.9 .8M90.8 240.6l2.3 3.8M174.9 246l2.5 3.1M168.4 250.7l1.8 3.3M126.9 274.5l-.2 2.3M70.4 279.7l.9 1.9M73.4 297.4l-.7 3.3M79.1 299.4l.6 3.7"/>
<path stroke="#a0a0a0" stroke-width="5.2" d="M100.2 17.5l1.3 .8M155 30l1.2 1.7M137.2 37.6l2 2.3M167.2 37.5l.3 1.8M254.4 34.9l3.9 1.1M161.2 40l.7 2.1M255.9 44.3l1.3 1.5M89.5 49.1l2.2 1.4M249.4 53.3l.9 .7M233.4 58.9l.3 2.5M44.7 67.6l-.3 1.9M205.6 71.8l1.7 4.1M105.1 77.2l.2 4.1M205.6 78.9l2.5 1.6M33.5 85.3l2.3 2.3M4.9 91.8l1.8 1M99 101l.6 1.1M127.6 106.1l2.1 3.5M67.4 117.6l.3 1M103.2 126.3l.5 2.6M285.8 124.9l.7 4M40.5 129.4l1.6 3.9M115.9 131.5l.5 3.1M232.1 134.2l3.8 1.5M50.7 139.6l1.1 1.3M123.9 139.5l.7 1.9M31.2 142.3l2.5 2.5M141.4 143.7l.3 1.4M190.7 151.8l2.4 3.1M322.3 149.2l1.2 2.5M17.3 154.1l2.4 3.6M51.4 162.3l1.2 2.3M75.1 161.2l3.4 .4M328.1 161.7l1 1.7M70.2 167.1l1.1 2.9M177.6 167.7l2.1 -.6M154.9 171.8l.8 2.9M185.7 189.5l4.1 1M184.2 203.5l-1 4.3M67.5 220.3l1.1 1.1M206.2 223.6l2 2.6M218.6 223.1l1.5 1.7M193.1 229.9l.9 1.2M19.1 238.1l3.7 1.4M111.3 258.2l.8 2.2M39.6 266.1l1.2 .6M95.5 270.2l2.6 2.6M94.3 282.1l.1 1.8"/>
<path stroke="#b0b0b0" stroke-width="3.6" d="M174.5 2.6l1.6 2M39.2 3.6l3.2 3.1M117.7 14l3.7 2.5M39.9 18.9l4.1 1.9M52.3 21.6l.3 1M109.2 22.3l2.3 3.7M123.6 27.4l.3 1.8M184.4 29.5l3.6 2.3M232.8 30.6l.3 1.2M209.6 35.5l3.5 1.4M84.7 46l2.5 1.5M236.4 50.5l.6 1.6M240.4 60.4l2 -.7M277.2 64.2l1.1 2.6M235.5 92l1.7 -.1M34.8 95l2.1 2.3M313.1 103.7l.4 2.9M75.9 108.6l-.6 3.6M8.4 114.8l-.6 1.9M110 114l1.4 2.6M290.4 122l2.7 3.3M87.1 126.5l.7 1.6M320.6 128.2l.6 3.8M133.4 139.6l2.7 1.3M207.5 138.4l1.3 2M165.5 163.7l.6 2.1M59.3 166.8l.7 1.6M150.4 167.8l1.5 2.8M77.6 174.3l.6 1.3M49.5 188.2l3.7 1.8M14 191.6l1.1 1.9M190.1 191.8l1.5 .3M24.8 209.8l3.8 2.2M23.4 227.9l1 .3M27.5 233.9l1 2.1M70.3 288.7l-0 2.4"/>
<path stroke="#b0b0b0" stroke-width="4.4" d="M25.9 5.3l.4 1.9M157 11.2l2.6 2.4M207.2 19.6l3.3 1.5M209.2 29.8l1.7 2.2M39.7 34.8l2.6 3M50 36.2l2.9 1.2M220.8 36.1l2.9 1.5M171.4 41l2.4 2.4M266.4 41.5l.6 1.6M37.6 45.5l.9 2.5M81.7 55.3l2.8 1.8M134.4 53l.7 .7M244 53.7l1.9 1.7M12.8 57.6l1.5 1.8M180.5 74.2l1.6 1.7M231.2 76.5l1.2 1.2M39.8 91.7l2.7 1.6M42.9 97.9l1.8 1.4M14.4 102.2l1.6 4.2M21 104.4l.7 2.1M85.4 99.6l1.6 1.4M25 110.4l3.2 3M40.8 107.3l1.2 2.1M55.2 106.4l.8 2.3M102.7 110l2.6 2.7M305.1 108.9l.2 1.2M249.3 115.5l2.4 1M41.9 122.3l.5 1.5M225.5 129.5l1.1 .8M323.8 132.2l3.5 2.5M235.3 136.8l2.7 3.2M155.5 141.6l1.5 1.1M42.6 148.3l1.8 2.8M115.1 148.1l1.6 .9M193.5 151.8l1.7 3.1M239.3 156.9l2.9 1.4M283.7 154.6l1.4 3.9M58.7 163.6l2.8 1.1M152.3 160.6l3.6 .3M24.7 168.9l1.2 1.6M163.5 178.7l1.1 1M80.8 209.4l1.8 1M35.3 247.3l.5 1.7M138.3 262.9l1 .4M149.7 261.9l3.4 2.9M49.3 269.1l1.3 1.2M79.7 278.5l1.3 2.1M79.9 282.4l3.5 1.3M97.1 279.8l.7 1M57 304.9l.7 1.8"/>
<path stroke="#b0b0b0" stroke-width="5.2" d="M83.1 5.6l2.2 2M143.4 7.1l2.7 2.9M22.1 13.3l3.3 1.6M150.8 20.5l1.4 1M181.9 19.5l.6 1.3M189.8 29.8l.6 1M240.4 35.1l2 1.7M62.1 46.7l1.4 4.3M205.1 48.2l2 .5M239.3 53.6l.6 1.1M118.6 58.9l.7 1M4.7 72.7l2 2.5M90.8 73.4l1.9 2.8M177.1 77.7l-.3 2.5M277.2 80.2l1.3 .8M84.3 84.9l2.5 .6M94.1 103.7l2.3 1.1M138.8 99.6l1.9 2M60.9 110.2l1 3.9M294.2 106.6l3 3.2M6.1 117.9l.4 .9M24.7 124.1l2.9 1.5M112.9 124.8l1.3 1.9M297.4 127.9l.6 3.1M306 131.6l3.4 2.6M69.6 136.6l2.4 2.6M89.1 140.1l1.7 3.5M112.5 138.9l.5 .9M130.8 143.9l.7 2.6M151.7 145.1l3.2 1.5M28 148.8l1.5 1.6M230.4 152.5l1.3 1.5M56 156l1.2 2.7M14.2 159.6l1.4 1.7M48.6 165.7l.9 2.8M92.2 171.6l1.5 4M201.3 171.5l3.7 2.5M65.7 178.4l3.8 -.3M83.7 177.6l.6 1.4M185.1 187.8l.5 4M177.7 192.4l1.8 3.5M3.6 198.6l1 2M22.3 202.3l3 1.5M8.3 220.4l1.6 2.1M18.2 228l1.9 1.7M163.9 259l2.7 2.3"/>
</g>
<path stroke="#d316c9" stroke-width="1.6" stroke-opacity="0.9" d="M253.2 .2L255.6 .5L257.2 2.7L260 2.8L261.8 4.6L264.7 4.6L268.2 6.1L271 8.9L274.7 8.9L277.9 12.2L280.9 13.2L283.6 15.6L287.4 16.9L290 17.8L292.9 20.2L294.5 22.5L295.9 23.4L299.5 26.2L301.3 27.5L303.9 30L306 31.6L308.3 34.7L310.6 35.7L312 38.8L314.8 41.2L317.8 42.5L318.9 44.1L321.2 46.6L323.3 49.6L325.1 52.5L326.5 54.7L328.5 57.1L330.6 58.8L333 61.5L335.5 63.8L338 66.5L338.4 69.1L340.6 71.2L342.3 74.8L342.9 76L346 78.6L347.9 81.1L348.2 84.1L350.4 87.2L351.9 89.8L354.2 91.7L356.1 94.2L357.9 97.1L358.3 100.2L360.1 103.6L361.9 104.7L363.3 106.7L364.2 110.8L366.1 112.9L367.6 116.4L368.1 119.3L370.5 122.6L371.6 124.3L373.3 127.6L373.5 129.2L375.1 132.2L376.4 136.7L376.5 138.8L377.8 142.3L378 145.6L378.8 148.6L380 151L380.1 155.6L381.4 157.7L381.7 161.3L382.2 164.3L382.3 166.9L383.1 171.2L383.6 174.2L383.4 177.3L382.9 180.6L383.2 184.2L383.5 187L381.8 190.3L382.4 193.8L382.5 195.9L381.1 199.4L381.8 202.5L380 206L378.9 209.2L378.7 212.9L377.9 216L376.8 218.9L375.9 222.2L374.7 224.6L374.2 229.6L372.6 231.9L372.6 234L371.5 238.4L370 241.2L369.2 243L368 246.9L366.7 249.2L365.3 252.9L364.6 255.2L363.1 258.4L361.8 261L361.3 264.7L358.8 268.4L358.9 269.6L358.1 274.3L355.8 277.4L355.4 279.3L353.5 282.2L352.3 285.1L351.1 287.7L349.3 290.5L347.5 293.3L346.6 296.2L343.9 299.2L343.2 301.4L340.4 303.6L339.5 307L337.3 308.7L335.7 312.1L333 313.4L330.9 315.9L329 317.9L326 320.9L324.1 322.6L320.5 324.3L317.7 326.3L316.1 328.8L314.5 329.9L310.1 331.4L307.5 333.5L304.8 335.6L301.5 337.6L298.7 338.8L297 340.8L294.6 342.3L291.5 344.4L288.5 345.4L286.1 346.1L284.3 348.1L281.2 350.5L277.9 351.8L275 354.4L273.6 355.1L270.4 356L266.2 356.4L263.3 358L261.4 359.3L258.7 361.3L256.1 362.2L253.5 362.7L249.5 363.3L247.5 365L244.3 365.6L241.1 367.2L237.8 367.3L235.4 369L231.8 369.8L229.6 370.1L227.1 371.2L223.1 371.6L219.9 374.5L217.3 374.4L214.5 374.6L210.8 374.9L207.6 376L205.2 375.7L201.9 376.6L200 377.3L196 377.6L192.5 378.3L189 378.1L186.8 378.6L183.7 378.3L180 378.8L178.2 379.9L174.6 378.9L171.2 379.3L168.2 378.1L165.3 378.7L162.5 379L159.7 377.9L156.5 379.5L152.9 377.7L150.8 377.7L147.9 377.1L144.6 377.6L141.3 376.8L137.7 376.3L135.3 376.5L132.8 375.6L129.8 375.4L127 372.3L123 372.7L120.3 371.9L117.2 371.1L113.9 370.5L111.3 369.4L108.9 368.8L105.7 367.7L101.1 366.3L98.8 364.8L96.6 364.2L93 363.2L90.4 361.5L87.1 360.6L84.4 359.7L80.8 358.6L78.1 356.1L75.3 355L72.7 353.7L69 353.4L66.9 351.9L64.3 349.4L62.2 348.6L60.4 346.3L55.9 344.5L54.3 342.4L51.8 341.6L49.8 338.8L47.3 336.8L44.9 334.6L42.5 332L40.3 330.6L39.6 327.2L36.6 326.5L34.2 323.6L32.3 320.8L29.1 319L26.8 316.3L25.7 314.5L23.5 311.2L23 309.8L21 306.4L19 304.2L16.5 301.4L15.4 297.7L14.4 295L12.6 292.3L11.4 289.1L9.3 285.6L8.3 283L7.2 280.4L6.5 277.6L5.8 275.6L4.1 272.4L2.1 268.5L.5 265.4L-1.3 261.8L-1.3 258.3L-3.4 257L-3.5 255.9"/>
<path stroke="#f01ee6" stroke-width="1.5" d="M254.4 -.9h0M251.4 -4.1h0M254.3 -.6h0M257 3.1h0M259.5 -3.3h0M259.5 3.2h0M262.3 6.2h0M259.6 1.5h0M262.8 6.1h0M261 3.7h0M265.6 5.2h0M267.7 .3h0M269.5 6.5h0M266 6.6h0M267.1 10.5h0M270 7.7h0M272.5 11.9h0M274.5 7.2h0M273.4 9.4h0M279.2 14.4h0M276.6 14.1h0M281.7 12.9h0M282.5 13.2h0M280.6 13.7h0M288.1 15h0M283.4 15h0M286.3 16.9h0M290.4 16.8h0M296.1 20.9h0M297 18.9h0M290.9 19.2h0M296.2 21h0M297.5 23.2h0M294.8 21.4h0M299.7 27.1h0M300.8 24.1h0M299.4 26.4h0M303.2 29.6h0M302.3 28.6h0M301.6 32.2h0M304.1 31.5h0M304.7 30.2h0M307.7 34.1h0M309.4 34.5h0M313.6 32.7h0M310.7 38.9h0M314.2 40.1h0M314.3 39.5h0M319.8 39.9h0M314.4 42.2h0M316.8 37.4h0M316.6 46.5h0M321.4 47.5h0M319.9 48.8h0M320.3 45.8h0M319.8 46.4h0M322.9 47.2h0M320.6 46.3h0M324.4 52.8h0M327.1 51.4h0M325.1 56.2h0M326.9 56.2h0M327.2 55.2h0M329.1 56.2h0M328 60.5h0M328.4 59.7h0M329.6 60.4h0M330.5 58.4h0M335.3 61.3h0M335.5 61.8h0M337.3 65.4h0M335 66.1h0M340.1 68.8h0M337.6 70.2h0M343.5 71.5h0M338.3 68.4h0M343.1 74.6h0M341.4 69.9h0M343 74.4h0M345.2 79h0M345.3 74.9h0M344.8 77.8h0M348.4 80.7h0M347.6 83.2h0M350 82.9h0M351.2 85.8h0M349.8 88.7h0M349.1 86.2h0M350.7 88.9h0M351.7 86.6h0M355.9 93h0M352.4 91.8h0M354.5 94.9h0M355.7 92h0M356.4 97.1h0M356.8 97.7h0M360 100.8h0M359.1 99.3h0M361.9 103.8h0M359.8 104.9h0M360.7 105.6h0M362.8 105.1h0M363.8 107.2h0M362.7 107.5h0M363.9 109h0M363.9 112.5h0M366.1 112h0M367.7 116.8h0M367.3 117.7h0M369.2 115.9h0M369.1 122.5h0M364.7 119.8h0M368.7 118.3h0M369.7 124.9h0M372.6 127.2h0M367.4 124.9h0M376.3 128h0M370.4 126.6h0M376.6 128.4h0M374.2 130.1h0M374.1 134.7h0M374.4 134.7h0M375.4 131h0M377.7 136.8h0M377.9 137h0M376.9 139.2h0M375.6 143.2h0M378 143.8h0M378 147.8h0M378.2 148.6h0M378 149.9h0M377.4 147.1h0M378.4 150.5h0M377.7 153.7h0M379.8 156.5h0M384.5 152.8h0M379.1 162.5h0M383.9 157.9h0M382.6 164.1h0M379.4 161.5h0M380 165h0M381.5 164h0M382.9 167.6h0M379.5 164.9h0M382.1 168.2h0M384.5 168.4h0M384.2 173.3h0M382.9 174.6h0M382.1 178.9h0M383.2 178.7h0M380.5 181.7h0M383.1 178.2h0M386.1 184.6h0M385.5 180.4h0M385.2 188.5h0M383.9 189h0M383.4 194.8h0M384.3 190.1h0M380.3 193.6h0M380.8 192.2h0M384.2 197.1h0M385.9 195.9h0M379.9 199.1h0M380.4 201h0M383 205.4h0M381.6 205.6h0M376.4 208.8h0M379.3 208.1h0M378.3 208.1h0M377.5 209.2h0M377.6 214.2h0M383.5 213.8h0M379.2 217.3h0M380.3 212.9h0M374.3 216.6h0M373.9 221.3h0M375.1 219.5h0M372.1 224.4h0M374.2 224h0M374.6 224.9h0M370.8 227.5h0M377.4 230.1h0M373.8 231.9h0M376.4 232.3h0M371.2 236.3h0M372.5 234.4h0M371.8 237.5h0M370.7 236.3h0M372.6 241.7h0M368.2 240.2h0M368.9 242h0M370.1 243.6h0M368.7 249.4h0M369.2 246.2h0M370.6 250.6h0M366.1 250.1h0M369.5 247.7h0M363.7 253.1h0M366.7 253.8h0M364.8 254.7h0M364.6 259.2h0M363.4 259.1h0M364.7 260.6h0M365.6 261.3h0M361.1 266.2h0M354.5 261.9h0M359.6 268.1h0M358 270.1h0M361.2 269.3h0M362.2 273.3h0M357.6 272.7h0M356 274.2h0M353.3 272.3h0M351.9 273.4h0M354.1 276h0M357.3 282.1h0M353.6 283h0M354.1 282.5h0M354.3 286.1h0M355.5 283.2h0M348.1 287.8h0M350.4 290.1h0M351.6 292.8h0M349.6 288.9h0M348.9 294.4h0M350.4 295.2h0M344.3 296.5h0M345.8 294.9h0M342.4 296.8h0M343.5 298h0M341.4 302.7h0M343.8 301.4h0M341.1 303.8h0M343.3 305.6h0M337 307.1h0M339.1 311.8h0M338 309.3h0M338.5 311.1h0M334.4 311.6h0M336.2 312.1h0M332.1 313h0M330.1 313.9h0M328.1 318.5h0M335.1 318.1h0M331.9 318.6h0M328.7 322.2h0M326.8 322.2h0M323.6 320.1h0M325.4 321h0M324.9 322.1h0M320.4 327.1h0M321 325.7h0M319 323.2h0M319.5 325h0M317.5 328.3h0M314.4 333.9h0M312.2 328.5h0M313.2 330.6h0M311 331.2h0M311.2 331.2h0M307.6 333.5h0M309.5 330.1h0M300.7 336.3h0M302.2 337.3h0M306.1 336.2h0M301.8 340.5h0M301.5 340.3h0M299.8 337.5h0M297.7 339h0M295.7 340.5h0M296.3 340.8h0M295.1 344.6h0M294.7 346.6h0M291.2 346.2h0M286.3 345h0M290.3 347.3h0M286.4 347.3h0M282.8 345.6h0M283.8 348.6h0M281.8 350.4h0M276.8 349.3h0M279.3 348.3h0M280.9 354.1h0M279.5 351.6h0M274.2 351.2h0M276 353.4h0M273.9 355.3h0M273.3 352.4h0M266.6 358.3h0M270.8 357h0M265.8 356.6h0M267.4 361h0M264.7 358h0M262.1 358.8h0M263.2 362.5h0M262.3 358.2h0M258.6 363.2h0M254.5 357h0M253.2 359.7h0M256.1 360.4h0M248.4 363.5h0M250.6 362.9h0M247.2 363.5h0M247.8 369h0M245.5 364.4h0M247.2 366.5h0M247.3 365.4h0M243.6 368.6h0M243.7 367.1h0M242.6 364.9h0M236.8 366.3h0M237.6 367.3h0M237.3 371.4h0M233.5 367h0M229.9 369.6h0M234.8 371.2h0M228.6 366.6h0M227 370.8h0M226.3 369.5h0M226 371.6h0M226.1 372.4h0M223.1 372.9h0M218.9 373.1h0M222.2 374h0M216.6 372.2h0M218.2 375.6h0M217.3 374.6h0M214.4 373.7h0M211.5 376.4h0M211.2 376.2h0M205.9 374.2h0M208 372.1h0M201.6 379h0M202.2 376.4h0M201.7 377.9h0M203.6 378.1h0M201 380.4h0M200.5 378h0M195.8 377.2h0M194.7 374.7h0M193.1 375.8h0M196.5 378.9h0M188 379.9h0M191.6 382.4h0M185.9 382.3h0M186.2 378h0M183 378h0M181.5 374.7h0M184.5 383.4h0M181.4 379.8h0M176 379.1h0M173.6 380.1h0M176.2 375.5h0M173.6 380.1h0M174 376.7h0M173.6 377.8h0M171.4 381.4h0M165.9 376.7h0M162.7 379.8h0M165.3 378.7h0M162.8 381.1h0M162.2 377.5h0M162.2 375.6h0M159.2 379.7h0M154.6 378h0M154.1 376.5h0M154.2 380.4h0M152 374.8h0M153.2 377.4h0M148.4 377.8h0M146.8 378.7h0M146.5 377.4h0M147.4 376.1h0M144.4 376.5h0M142.5 378.9h0M143.5 375.1h0M136.7 375h0M138.4 376.9h0M134.7 373.8h0M132.1 377.8h0M131.8 371.5h0M137.9 371.9h0M131.8 373h0M129.5 375.1h0M124.8 372h0M124.5 375.1h0M123.9 369.4h0M123.2 373.7h0M122.8 369.3h0M117.3 370.9h0M115.1 371.8h0M116.5 373.5h0M111.2 368.7h0M113.8 370.2h0M113.3 370.2h0M114.8 365.4h0M107.7 371.5h0M109.9 366.3h0M106 367.2h0M106.6 366h0M105.5 366.2h0M100.1 365.5h0M98.2 364.6h0M92.5 367h0M96.4 365.6h0M97.2 363.7h0M90.5 359.3h0M91.2 362.9h0M92.2 362.6h0M90 367.9h0M87.7 362.1h0M87.7 360.9h0M85 358.6h0M85.4 362.9h0M85.3 357.7h0M79 357.6h0M77.7 362.7h0M74.7 358.6h0M75.3 355.1h0M75.5 353.7h0M74.4 354.4h0M71 353.6h0M69.2 352.2h0M69.1 353.4h0M65.1 349.2h0M66.4 351.5h0M63.1 355.3h0M66.1 348.3h0M56.7 348.2h0M63.6 351.3h0M56.9 347.3h0M57.5 348.8h0M54.6 344h0M57 345.7h0M53.2 343.2h0M55.1 342.4h0M52 338.6h0M51.7 340.5h0M50.3 336.5h0M49.9 337.3h0M46.4 335.1h0M46.1 335.9h0M45 336.1h0M49.1 337.3h0M43.8 332.8h0M44.6 331h0M42 331.1h0M43.4 333.1h0M37.9 332.5h0M38.8 328.2h0M37.3 323.9h0M35.7 325.6h0M34.6 325.2h0M37.4 323.3h0M32.7 324h0M32.6 321.1h0M28.9 317.4h0M29.7 324.7h0M26.9 313.4h0M27.7 316.3h0M29.1 313.8h0M27.6 312.9h0M24.7 306.9h0M22.7 312.6h0M23.1 309.2h0M28.3 305.7h0M20.2 306.3h0M19.2 306.5h0M17.2 303.3h0M21 302.4h0M18.3 300.7h0M19.6 297.2h0M17.6 301.1h0M13.5 298.7h0M15.6 295.9h0M13.4 293.9h0M14.1 291.1h0M13.5 295.2h0M14.1 291.5h0M12.3 291.7h0M9.9 284.6h0M6.8 284.3h0M8.3 282.9h0M6.9 281.9h0M8.2 276h0M11.9 272.7h0M4.5 280h0M3 276.5h0M7.8 274.5h0M.7 272.9h0M1.7 271.6h0M5.2 269.9h0M3.3 269.2h0M3.3 269.2h0M-1.8 265.6h0M-.7 262.8h0M-.8 260.6h0M-1.1 263.2h0M2.9 260.5h0M-6 259h0M.1 254.3h0M-3.1 253.7h0M-2.4 254.1h0M-3.4 254.8h0M371 236l-1 -1M305 329l-2 1M278 240l-1 1M358 212l2 0M278 297l-2 -1M327 243l1 0M330 269l0 -1M173 355l-1 -1M260 287l-2 1M64 74l-1 2M366 182l2 1M180 370l2 1M293 308l1 2M200 267l0 2M134 315l-2 1M305 265l2 0M252 289l2 -1M271 273l2 -1M169 342l-1 2M313 292l0 2M336 246l2 2M360 199l0 1M234 234l2 -1M119 110l0 -1M160 356l1 2M241 227l1 1M192 362l1 -1M188 364l-2 0M170 213l-2 -1M305 175l-1 2M307 287l0 1M269 236l-2 1M360 254l1 -1M98 231l-1 2M295 324l0 -1M119 297l-1 -1M281 244l1 0M115 340l2 -1M210 349l-2 2M220 97l-1 0M272 237l2 0M118 322l-1 0M253 226l0 2M315 296l1 1M200 329l1 -1M57 290l0 2M271 322l-2 -1M230 343l-2 -1M252 363l2 -1M249 332l1 2M155 312l0 -1M251 336l2 2M292 277l0 -1M266 134l0 1M198 280l2 0M113 316l0 2M185 369l-2 0M237 357l2 2M305 192l-1 1M291 289l-2 1M97 344l2 1M346 247l-2 2M183 302l2 1M184 357l0 1M365 114l1 0M163 372l-2 -1M233 167l-1 1M192 129l-1 1M189 303l0 2M352 256l2 1M246 301l0 2M353 269l-2 1M236 325l2 1M233 241l-2 -1M174 4l-1 0M164 330l0 1M133 329l2 2M296 262l2 0M300 224l2 0M282 301l2 2M337 231l-1 1M101 359l-2 -1M292 274l1 0M200 278l-2 2M192 314l1 0M262 299l2 -1M325 294l1 0M286 347l-1 0M329 299l-2 1M298 267l0 2M201 292l-1 -1M247 354l2 2M300 229l-1 0M322 212l-1 -1M146 277l1 1M189 352l1 0M133 358l2 1M241 335l-1 -1M176 348l-1 2M118 329l1 2M271 307l-1 0M329 305l2 2M116 343l2 0M159 285l2 -1M131 346l-2 -1M353 214l1 -1M172 292l0 -1M256 285l-1 1M320 259l2 2M227 335l-2 0M245 356l1 2M335 309l2 -1M177 278l-2 2M321 321l1 -1M305 322l1 0M299 325l-2 2M319 303l-2 2M344 276l2 -1M209 297l-2 2M121 326l1 -1M193 326l2 1M308 268l-1 0M74 352l-2 2M228 139l1 1M301 228l2 -1M304 257l1 1M308 242l2 2M127 342l1 2M242 300l-1 1M346 222l2 -1M141 374l2 -1M221 347l1 0M178 281l-1 0M199 249l-1 1M111 340l-1 -1M360 175l2 0M150 315l-1 1M118 354l0 1M216 283l2 -1M217 346l-1 -1M261 158l1 0M239 288l1 0M220 314l1 2M304 251l2 2M294 314l-1 1M328 248l1 1M191 368l1 2M285 242l-2 -1M232 269l1 0M241 358l1 1M336 229l0 1M193 337l1 -1M101 349l2 1M222 315l2 1M291 302l1 0M172 47l1 0M328 257l-2 -1M112 355l2 2M266 302l1 2M158 311l1 -1M273 29l-1 -1M292 238l-2 -1M218 321l1 1M175 273l-2 2M231 7l-2 2M376 207l2 0M264 321l-1 0M231 257l-2 2M275 294l-1 2M351 281l-2 2M211 327l-2 1M368 185l1 2M327 237l2 0M211 300l-2 -1M160 324l2 1M25 230l-2 0M175 363l-2 0M230 338l2 1M105 366l-1 1M345 215l0 1M128 291l-1 -1M278 329l2 2M348 96l-1 0M197 322l-2 0M117 344l2 2M135 375l1 2M334 312l0 1M282 258l1 0M330 201l1 1M280 259l-2 2M143 5l2 2M100 342l2 1M102 342l-2 0M322 298l1 -1M217 291l2 0M170 303l-2 1M249 294l1 0M346 187l1 0M352 237l1 2M216 261l0 2M12 76l2 -1M311 290l-1 2M316 194l1 1M301 258l-1 2M102 307l-1 -1M198 250l-1 2M306 296l-2 1M314 329l-1 2M280 220l1 1M195 290l-2 -1M251 246l1 0M138 330l2 1M108 333l0 -1M239 255l1 2M198 172l0 2M222 368l-2 2M289 323l2 0M181 347l2 -1M167 73l-2 0M323 305l2 1M319 306l-1 1M306 230l-2 -1M292 247l0 -1M332 239l1 0M333 269l-2 0M317 328l1 0M188 359l-2 2M273 343l1 0M129 365l-1 0M125 316l-1 0M334 242l0 1M140 303l-2 2M313 126l-1 -1M148 305l-1 2M272 300l2 0M132 367l2 2M283 271l2 1M188 359l-1 0M231 362l0 2M202 276l2 -1M214 344l-2 -1M281 298l-1 2M296 283l0 2M288 254l1 -1M173 335l0 2M357 210l0 2M239 365l1 0M149 208l2 -1M212 278l0 1M237 352l2 2M285 330l2 0M307 278l-1 -1M257 350l-1 -1M278 273l-1 0M2 72l-1 0M151 349l1 1M165 327l1 2M183 278l1 0M351 238l1 2M382 171l1 2M265 253l2 1M276 343l0 -1M368 170l2 0M349 241l2 -1M210 304l-2 -1M357 197l0 1M204 307l-1 1M371 182l0 2M296 240l1 2M220 286l1 1M308 98l-2 1M172 301l2 0M157 377l-2 -1M212 269l1 0M253 305l-2 1M252 333l-2 0M186 273l-1 2M317 297l2 -1M208 302l1 0M73 217l2 0M249 279l-1 2M268 264l2 1M185 279l2 0M337 262l-1 2M161 332l1 1M281 236l1 0M279 291l-2 0M250 359l-1 -1M218 279l1 0M324 282l2 0M287 272l-2 0M277 224l2 -1M340 200l2 -1M33 275l2 0M216 242l1 0M327 186l1 0M132 305l2 0M101 364l1 2M160 324l-2 -1M180 375l-1 -1M16 299l0 -1M282 265l0 -1M367 222l0 2M329 317l0 1M325 263l1 0M112 299l1 0M284 238l2 1M253 362l1 -1M243 351l0 -1M186 311l0 2M183 371l-2 2M361 229l-1 -1M235 242l2 -1M353 264l1 2M146 328l-1 2M113 340l0 1M127 373l0 -1M196 288l-1 0M155 282l1 2M320 67l-2 2M315 202l2 -1M192 351l1 0M144 323l1 -1M349 268l2 1M269 308l-2 1M252 34l0 -1M274 304l1 0M231 331l0 2M349 258l2 -1M70 346l-2 2M276 297l-1 -1M190 357l-2 -1M346 205l-2 0M115 340l1 -1M156 335l-1 -1M196 355l-2 2M273 308l2 0M194 374l1 0M179 315l-1 1M374 183l-1 -1M264 349l-1 2M341 208l-2 1M372 226l2 1M227 288l2 0M124 324l-1 0M176 280l2 -1M188 291l-1 1M213 317l2 -1M218 324l1 0M273 245l-1 -1M353 214l-2 1M292 257l-2 0M289 285l0 -1M246 347l-2 -1M264 235l0 1M326 188l1 0M171 36l-1 2M180 281l2 2M124 365l0 1M226 310l0 -1M150 313l-1 0M328 279l1 0M368 209l-1 2M60 302l0 1M296 252l-2 2M358 207l-1 1M109 347l0 -1M171 327l-2 0M170 361l-1 2M79 201l-2 2M146 324l0 -1M267 338l0 2M249 329l-2 2M148 364l-2 2M88 315l0 2M324 220l-1 -1M325 293l0 2M358 238l0 -1M108 329l2 -1M284 295l-2 -1M286 323l0 1M251 239l0 2M292 320l0 -1M226 271l-1 0M284 42l0 2M367 223l-2 -1M222 342l-1 2M295 312l-1 -1M326 244l2 0M183 313l2 0M239 308l0 2M127 262l0 -1M69 346l-1 1M236 160l2 -1M150 288l0 2M192 286l1 1M365 214l1 1M233 361l-1 -1M213 278l2 1M71 341l1 -1M215 366l-2 2M311 301l-1 1M302 295l2 -1M253 307l1 1M16 211l-1 0M208 333l1 -1M23 151l-2 -1M203 364l0 2M178 359l2 -1M150 154l1 -1M350 203l-2 0M217 351l1 2M357 234l1 -1M221 315l2 0M350 180l0 1M225 327l1 -1M316 269l0 2M260 279l1 1M213 350l-2 0M155 42l-2 1M72 140l2 -1M152 305l-2 -1M238 237l-1 -1M256 216l0 -1M282 256l1 0M184 279l1 -1M298 305l-1 1M237 325l-1 1M239 302l0 1M170 337l-2 2M206 348l0 2M271 265l-2 2M256 314l-1 -1M354 123l1 0M225 364l-2 0M351 253l-2 2M215 347l-1 0M276 204l0 -1M235 245l0 1M207 312l1 -1M366 193l2 0M331 300l2 2M209 245l-2 1M180 354l-1 0M306 301l0 1M190 273l-1 1M196 288l1 1M241 330l-1 -1M158 373l2 2M134 368l-2 2M218 284l-1 1M175 368l2 2M285 259l1 1M105 329l-1 2M329 277l-2 -1M282 292l2 -1M98 47l2 1M125 371l1 1M285 255l0 1M61 124l2 1M274 328l1 1M267 122l0 2M49 58l-1 0M54 293l0 -1M232 250l0 1M204 296l1 -1M251 261l2 1M241 280l1 -1M271 312l-1 1M183 304l1 0M352 206l-2 1M327 286l-1 0M263 328l1 -1M366 189l-2 1M183 271l-2 -1M256 162l0 -1M95 334l2 2M372 232l1 0M247 299l0 2M122 307l1 0M292 207l-1 -1M199 290l2 1M291 265l-2 -1M251 303l0 1M383 168l2 1M229 239l0 1M132 273l-1 2M268 228l-2 -1M208 353l1 -1M136 186l-2 1M249 309l2 -1M122 290l2 1M175 378l-1 -1M234 183l1 2M356 269l-2 1M283 332l-1 1M218 369l0 -1M127 202l2 2M272 229l0 2M229 257l-1 -1M104 319l0 1M137 344l0 2M72 212l-1 1M197 322l1 -1M276 240l2 0M264 332l2 1M224 307l0 1M240 338l1 2M293 322l-2 2M329 222l-2 0M231 350l-1 1M261 268l1 0M306 318l-1 -1M80 167l2 1M356 263l2 2M114 347l0 2M191 342l1 0M83 39l-2 2M274 207l1 -1M341 302l2 -1M64 348l-2 0M277 254l1 0M261 326l-2 -1M64 333l-1 2M225 315l-2 2M183 110l-1 -1M201 250l-2 0M148 363l2 1M252 340l1 0M303 314l0 2M327 202l2 1M283 178l2 1M209 365l2 0M235 356l0 2M320 266l0 -1M280 314l-1 2M232 366l0 -1M138 326l2 2M315 208l-2 0M214 364l-2 2M200 252l0 -1M161 333l-1 -1M210 313l2 -1M182 265l-1 0M185 294l-2 0M294 272l1 2M223 85l-1 -1M74 320l2 -1M179 291l0 2M233 236l0 2M78 353l0 2M223 368l-1 -1M160 349l-1 -1M254 233l-2 2M185 285l2 0M321 311l-1 -1M300 284l-2 -1M177 80l0 1M152 350l1 2M291 303l-2 1M192 348l1 -1M153 330l1 0M277 314l-2 2M270 348l-1 2M320 273l2 1M33 144l0 -1M207 304l-1 2M158 375l2 -1M266 339l2 1M367 197l1 2M149 345l1 1M229 295l2 0M282 329l-1 2M159 348l1 -1M219 353l2 1M323 234l-2 2M249 340l-1 2M282 261l-2 0M371 188l1 0M141 376l2 -1M18 99l2 0M65 299l-2 1M217 315l1 0M338 305l1 0M118 303l1 1M285 282l-1 0M75 249l-1 0M187 301l0 2M216 293l2 1M344 242l-2 -1M143 358l-2 0M361 223l1 0M231 336l0 1M343 274l-2 0M365 200l-2 -1M332 307l-2 0M281 324l2 1M130 295l-1 0M327 306l2 -1M381 198l1 0M195 358l-1 0M261 339l2 2M303 202l0 1M142 281l2 0M327 318l1 2M279 275l2 -1M179 327l2 -1M239 318l1 0M150 308l1 1M374 158l1 1M160 328l1 0M378 185l-1 -1M228 295l2 1M374 190l-2 -1M206 322l2 1M346 264l0 1M199 286l0 -1M199 304l-2 0M213 243l1 1M299 316l-2 0M214 260l-1 1M310 281l2 2M305 322l1 -1M299 307l1 1M302 261l2 0M381 191l-1 1M204 258l1 0M312 270l1 2M295 281l1 -1M194 355l-1 2M203 304l2 -1M346 256l-1 2M248 271l2 -1M238 325l0 1M236 330l2 0M329 188l1 1M100 189l-2 0M91 314l-1 0M176 300l1 0M206 302l0 2M234 242l1 1M238 320l0 2M273 289l2 -1M161 287l-2 -1M372 157l2 0M144 355l1 1M212 251l1 -1M169 371l0 -1M14 226l-1 1M343 270l2 -1M121 320l0 1M129 290l2 0M259 341l1 -1M350 166l0 1M237 275l-2 0M173 326l-2 1M263 301l-2 0M193 366l2 2M341 272l1 0M277 302l-2 0M265 247l-1 2M225 329l1 2M223 320l2 1M194 362l-1 1M350 254l0 2M210 292l0 1M160 306l0 2M306 265l-1 1M204 306l2 1M104 352l-1 -1M219 279l-2 2M211 103l2 2M220 278l-2 0M161 375l-1 -1M244 362l-1 0M355 223l2 1M266 316l1 1M165 318l-2 2M269 269l-1 1M231 242l0 -1M219 345l-2 2M194 324l-1 0M96 337l-1 -1M290 262l-2 -1M322 288l-1 -1M223 371l-1 0M264 289l2 2M158 270l2 -1M113 329l0 1M313 269l-1 2M271 298l1 1M257 226l2 0M261 308l-2 -1M163 322l0 -1M124 231l-1 1M316 286l0 -1M132 326l1 1M113 340l-1 0M303 321l0 1M158 145l-2 1M192 349l1 0M343 178l1 0M225 264l-2 -1M131 332l-1 -1M145 321l1 0M180 318l1 1M107 353l0 2M343 219l-2 2M328 221l0 1M244 278l0 2M343 224l-1 1M340 247l-1 2M158 134l0 -1M344 192l0 -1M197 309l1 2M282 275l1 -1M310 273l-1 1M254 304l-1 1M259 292l-1 1M231 334l-2 2M298 291l-1 0M275 337l0 2M341 105l-1 2M367 161l-2 0M187 264l-2 -1M113 72l1 2M125 330l1 -1M130 364l0 1M226 73l1 0M368 212l1 0M125 368l1 0M239 239l-2 2M274 304l2 -1M26 241l-1 2M161 359l1 0M324 263l-1 2M98 364l1 1M172 297l-1 -1M255 245l1 1M370 233l-2 0M298 171l1 -1M147 348l-1 0M199 375l0 1M285 216l1 0M150 71l0 1M157 114l2 1M300 318l2 -1M110 358l-1 2M345 175l-2 2M349 213l-1 2M52 197l-2 -1M358 256l0 -1M186 330l2 -1M125 314l1 0M224 367l2 1M333 256l-1 0M316 287l-1 1M15 130l1 1M124 301l0 -1M310 303l1 -1M245 345l0 1M152 373l-2 -1M324 247l-1 0M183 343l2 1M295 297l-1 0M342 227l0 1M257 230l1 1M285 260l-2 1M239 341l2 1M263 232l0 2M97 364l1 1M287 319l1 -1M103 358l0 -1M153 303l-2 1M97 269l1 0M296 319l1 0M228 300l-1 1M236 295l1 2M62 264l-1 -1M284 271l-2 1M225 285l-2 -1M97 334l-1 0M167 341l2 -1M140 344l-1 2M285 260l1 0M36 194l-1 0M146 283l1 2M377 184l1 -1M144 340l-1 -1M207 360l1 0M138 49l2 0M161 325l-1 -1M103 351l-2 -1M197 346l1 0M181 349l2 0M153 202l1 2M280 204l0 -1M274 210l1 2M354 152l2 2M262 342l0 2M101 337l-1 -1M211 232l-1 2M337 282l-2 1M115 318l-1 2M255 327l2 2M309 267l0 2M105 355l0 1M204 316l2 -1M365 224l0 2M232 285l-2 -1M380 197l2 0M90 184l-1 -1M289 73l1 0M348 200l-1 0M157 335l0 2M196 342l-2 2M305 209l1 2M182 266l-1 1M272 244l-2 2M368 188l0 -1M131 305l-1 2M116 360l-1 1M358 196l2 0M241 274l2 2M230 79l2 -1M146 355l-2 0M198 327l-1 2M350 276l1 0M221 274l-1 -1M141 331l-1 2M373 176l-1 0M248 244l-2 1M29 298l-1 -1M184 328l-1 0M366 220l1 1M219 307l0 2M294 340l2 2M341 228l2 1M164 297l-2 -1M290 144l0 1M127 357l-1 -1M325 270l1 1M321 306l-1 1M322 304l-1 1M359 235l-1 1M72 204l1 -1M261 291l-1 0M350 201l1 2M316 45l1 1M209 339l0 1M331 213l1 1M279 322l-1 0M312 279l-1 -1M286 338l2 0M172 267l2 -1M305 261l1 1M240 334l1 -1M314 262l1 2M197 377l2 0M169 353l2 0M341 226l-1 1M74 232l2 0M168 316l0 1M239 93l-1 -1M311 230l-1 -1M209 335l-2 1M375 179l0 1M97 312l-1 -1M221 286l2 2M310 310l1 1M370 205l-2 2M346 226l0 1M286 278l0 2M228 259l-2 2M312 274l1 2M347 208l-1 -1M162 330l1 0M106 309l-1 -1M351 190l1 1M90 334l-2 1M204 354l-2 -1M236 302l0 1M262 224l0 -1M324 280l1 2M243 241l1 2M241 355l1 0M362 226l0 1M266 123l-1 1M217 306l-2 -1M196 263l-2 0M209 337l1 0M124 341l0 -1M247 264l-2 1M309 328l2 0M260 337l0 -1M147 361l-2 2M160 327l2 2M363 214l-2 0M211 268l2 2M122 7l2 2M177 277l2 0M179 351l1 0M318 218l-2 0M263 219l0 2M258 271l1 0M303 227l-2 -1M293 242l-2 0M284 348l0 1M280 212l2 1M132 369l-2 0M234 326l-1 2M175 70l2 2M297 297l2 2M315 303l-2 2M302 264l-1 0M296 214l2 2M309 235l1 -1M268 269l1 -1M141 344l1 0M382 169l2 -1M269 216l-2 -1M293 283l0 2M92 300l1 0M270 324l-1 -1M243 6l2 2M207 366l-1 1M271 217l1 0M116 297l1 -1M193 356l1 1M310 216l-1 2M287 338l1 1M216 347l0 1M72 352l1 0M348 185l-2 -1M277 308l1 -1M348 277l-2 1M296 335l-2 2M313 184l1 0M344 291l1 2M313 273l-1 0M170 312l-2 0M354 217l2 0M209 368l2 0M236 352l-2 0M220 253l-1 2M141 376l-1 1M336 226l-2 2M225 326l-1 -1M353 275l-2 -1M343 286l1 0M308 306l2 0M372 163l2 -1M276 210l2 2M234 307l-2 2M76 353l-1 -1M277 351l-2 0M160 333l-2 -1M92 351l1 2M242 257l2 0M17 209l0 -1M258 110l0 2M283 341l1 0M130 350l-2 1M121 299l0 1M301 285l2 2M212 192l-2 2M126 322l0 -1M178 302l2 0M218 346l1 2M342 155l-2 -1M365 164l1 2M151 303l2 2M212 291l1 1M142 64l2 -1M110 359l2 0M245 232l-1 2M271 196l1 1M202 240l-2 0M254 288l-1 0M304 258l1 0M92 360l1 2M279 257l1 -1M323 265l2 0M260 304l-2 1M282 229l-1 2M169 287l2 2M296 268l-1 2M192 340l1 0M230 296l0 1M371 219l-2 0M326 287l-2 0M244 233l1 0M234 330l0 1M151 238l-1 1M282 207l-1 1M362 206l-2 2M312 300l0 2M79 222l1 0M269 131l-1 -1M309 249l2 -1M228 341l1 -1M217 236l-1 -1M340 224l-2 1M282 241l1 0M310 207l1 2M303 227l1 0M267 314l2 0M223 325l-2 -1M135 374l0 2M199 277l-2 -1M96 114l-1 2M292 254l0 2M169 345l1 0M182 361l1 -1M136 370l2 -1M223 264l2 2M247 312l2 0M317 303l2 0M314 206l2 2M337 262l2 -1M151 323l1 0M210 269l-2 0M147 358l-1 0M105 342l2 2M222 280l2 0M260 259l2 2M303 223l2 0M213 304l-2 -1M322 199l1 -1M221 328l1 -1M248 321l2 -1M345 248l1 2M180 297l2 1M371 180l-2 2M133 289l2 1M321 265l0 2M335 220l2 -1M171 347l-2 -1M329 181l1 -1M104 352l-2 2M247 246l-2 2M264 233l2 2M207 283l0 2M319 238l2 -1M235 361l-2 -1M97 323l-1 1M180 356l-1 2M20 118l-1 2M143 10l1 0M69 21l2 1M183 299l-2 1M180 330l-2 2M137 321l2 0M134 352l0 1M140 321l1 2M324 282l-2 0M330 288l-1 1M343 251l-2 1M259 353l-1 1M132 349l2 2M205 371l-2 2M297 298l-2 1M237 359l0 -1M308 313l2 2M247 356l2 0M137 363l-1 -1M342 249l0 2M152 328l0 -1M319 244l0 1M259 287l1 0M107 356l1 0M315 247l0 2M210 119l2 2M218 274l1 0M157 359l-2 0M352 240l-2 1M210 216l0 2M176 204l2 2M178 374l-1 0M310 331l1 0M262 344l0 2M337 302l-2 0M235 347l2 0M64 44l0 2M194 372l2 2M226 309l0 -1M314 277l1 2M308 268l-2 2M319 314l1 1M172 281l2 0M309 265l2 1M241 281l2 1M248 278l1 0M308 288l2 -1M308 94l-1 2M197 323l0 1M199 299l1 0M126 321l1 0M224 268l2 1M306 264l1 2M215 368l-1 0M179 282l-2 1M203 261l1 0M90 359l1 2M247 286l-1 -1M247 295l-1 1M343 184l-1 -1M252 253l-1 0M191 295l-1 -1M265 210l1 0M167 354l-2 -1M165 315l1 -1M350 224l1 0M145 376l0 1M259 305l-1 1M281 293l2 -1M286 271l-2 0M204 369l-1 0M232 274l-2 0M369 204l-2 1M169 364l-1 2M321 295l1 2M181 68l2 -1M176 267l1 1M311 306l2 -1M254 351l-1 -1M129 56l2 -1M200 258l2 -1M267 348l-2 1M178 282l2 -1M347 261l-1 2M212 365l-1 2M284 307l-2 -1M224 284l0 1M249 262l-1 0M354 211l1 2M333 311l2 2M307 326l-2 2M271 256l0 1M109 357l1 2M239 348l-1 1M161 307l1 -1M137 44l2 0M289 301l1 2M233 31l-2 -1M148 337l-2 1M203 355l0 -1M305 277l-1 2M192 351l-1 2M178 289l-1 0M227 343l2 -1M175 331l1 2M154 375l1 2M190 303l1 0M282 93l2 -1M38 310l-1 1M152 356l2 1M167 358l-2 0M267 226l2 0M219 270l-2 1M331 312l0 -1M142 351l-2 0M316 323l0 2M224 242l-2 2M220 340l1 0M14 86l2 2M181 309l-1 2M282 261l2 -1M143 324l1 2M233 315l2 -1M354 183l-2 2M332 269l-1 -1M242 366l0 -1M233 152l-2 2M350 199l2 1M233 368l-2 1M286 202l1 2M347 256l-2 2M154 319l0 2M120 363l1 -1M261 353l-2 -1M268 242l1 2M196 348l-2 2M270 242l0 -1M334 237l1 0M380 175l1 -1M125 308l-1 1M172 293l-1 2M198 67l-2 1M184 59l2 0M106 336l-2 2M141 328l-1 1M212 371l-2 0M238 268l0 1M74 329l-2 1M332 286l2 2M177 350l2 -1M97 364l-1 2M339 240l2 0M276 342l-1 0M286 268l1 0M210 349l1 1M195 294l1 -1M273 326l1 1M284 230l-1 1M255 302l1 0M184 345l1 0M76 329l2 1M159 376l0 -1M153 14l-2 1M218 332l1 2M222 295l-2 1M296 234l1 0M280 326l2 2M354 166l-2 0M302 198l-1 2M262 266l0 2M141 337l-1 0M263 269l1 -1M150 354l-1 0M182 285l2 1M291 207l-1 -1M280 289l-1 2M165 308l1 0M99 331l-1 -1M284 319l-2 -1M211 322l-2 -1M278 338l-1 1M234 302l1 0M244 273l1 2M278 230l-2 -1M144 79l1 0M249 239l-2 0M347 220l1 0M148 121l0 1M92 321l2 2M226 263l1 0M110 348l1 0M81 339l-1 -1M336 281l1 2M105 364l1 0M361 240l1 0M202 307l0 -1M136 365l-1 -1M65 113l0 1M316 304l1 0M270 230l-2 -1M341 249l1 2M233 317l-2 0M194 198l-1 2M352 279l2 2M331 216l-2 1M192 289l1 -1M272 303l2 2M51 28l1 0M178 325l1 0M334 218l1 0M271 231l1 1M328 226l1 2M243 253l-1 2M245 259l2 -1M174 294l1 0M353 232l-1 -1M186 278l2 0M329 239l-1 2M175 336l1 0M342 247l-2 1M245 322l-2 1M246 348l-1 1M249 247l0 -1M316 303l-2 2M137 368l-2 2M207 274l1 2M160 71l-2 -1M371 160l-1 -1M215 300l2 2M215 290l0 1M175 309l-1 1M197 336l1 2M99 148l0 2M254 254l1 1M358 172l-1 1M124 11l-2 1M202 311l2 2M324 210l-1 2M355 244l-1 -1M346 229l-1 1M272 267l2 1M170 80l0 1M377 193l-1 2M176 305l2 -1M280 322l0 1M316 243l2 1M373 164l1 -1M185 341l-2 0M331 308l-2 2M357 166l-2 -1M330 254l1 -1M251 91l0 1M90 335l-2 2M288 199l1 0M329 251l1 -1M198 120l1 2M174 373l0 1M345 206l1 1M354 217l0 -1M270 349l2 -1M344 251l2 2M212 311l1 1M58 46l-2 0M302 337l2 -1M251 282l0 -1M212 302l0 -1M285 306l-1 -1M299 249l1 0M344 200l2 2M207 328l1 2M119 364l-2 -1M89 329l0 2M156 281l0 -1M295 337l-2 -1M180 356l2 1M197 338l1 -1M240 280l2 0M270 307l1 0M116 326l-2 2M257 281l0 -1M237 318l2 0M161 351l2 -1M361 222l-2 1M289 324l0 -1M276 241l2 1M233 331l2 2M82 67l-1 2M170 365l0 2M131 19l-1 -1M111 348l-2 0M190 335l-2 1M179 367l-2 0M263 355l1 0M212 138l1 0M188 256l2 1M257 221l1 0M187 40l1 0M270 350l-1 -1M179 323l0 2M138 295l-1 0M318 160l-1 0M183 266l-2 -1M337 226l-1 1M294 283l-1 1M361 253l0 -1M291 259l2 -1M289 245l-2 1M278 217l-2 -1M351 206l-1 1M139 365l2 1M144 304l1 -1M182 350l1 0M351 240l-1 2M195 369l1 0M69 7l-1 0M325 251l0 -1M113 324l2 -1M117 343l1 1M235 271l-1 0M320 325l-1 1M329 265l1 0M237 269l1 -1M118 133l0 1M366 233l2 2M278 333l0 1M291 337l-2 0M211 322l0 2M335 219l1 0M371 192l-2 -1M275 129l2 0M286 311l-2 2M226 341l-1 2M293 196l-1 1M74 350l1 -1M207 353l2 1M245 235l2 0M219 300l1 -1M377 207l-1 0M272 305l-2 1M183 378l2 2M15 120l2 0M345 286l1 1M58 180l2 2M318 245l2 2M215 357l-1 -1M291 245l2 1M342 191l0 1M319 317l0 -1M333 202l2 0M188 329l-1 0M307 332l-1 0M239 292l1 -1M335 209l1 -1M244 299l1 2M230 324l2 -1M356 207l2 0M342 219l2 2M82 339l1 2M216 365l2 2M351 239l-1 2M166 312l2 2M154 336l0 -1M168 303l0 2M292 228l-2 2M270 332l-2 0M85 314l2 0M167 372l-1 2M276 319l-2 0M229 353l-1 2M240 246l-2 -1M287 304l-1 0M367 231l-1 1M320 286l-2 0M127 337l2 -1M124 359l2 2M285 235l-2 1M124 339l0 1M290 327l-1 0M170 282l-2 0M188 344l0 1M182 367l-1 -1M304 265l-1 2M287 344l1 -1M72 86l-1 -1M307 223l-1 1M204 299l-1 -1M374 195l2 0M308 217l-2 1M26 280l-1 2M303 240l2 1M260 152l1 0M319 245l-1 2M208 247l0 2M161 365l-2 -1M323 185l1 2M167 299l2 2M231 288l1 -1M352 223l0 -1M296 221l-2 0M166 336l-2 0M162 198l-2 0M153 367l2 0M368 201l-2 -1M216 306l1 1M135 337l1 0M258 297l2 1M108 314l1 -1M336 250l-1 -1M363 224l-1 0M207 276l0 2M244 316l2 0M311 312l-1 1M318 238l0 1M110 97l2 0M345 289l1 0M340 286l1 0M129 372l-2 2M226 311l1 0M208 257l1 -1M329 268l2 0M13 124l0 2M188 268l0 2M318 280l1 0M368 158l-2 2M152 349l1 2M140 285l-1 0M360 267l0 -1M293 341l2 -1M303 281l-1 -1M240 282l1 1M179 339l1 1M231 9l-1 -1M319 275l-1 1M302 252l0 1M361 244l1 0M351 261l-1 0M244 322l-1 0M290 218l1 0M292 300l-1 0M286 342l1 -1M253 238l-2 -1M135 353l2 2M209 296l-1 1M238 310l1 -1M213 299l0 -1M131 360l-1 1M293 179l-1 0M243 323l-2 -1M152 369l1 -1M132 315l1 1M188 344l2 -1M345 174l-2 1M343 251l0 -1M66 338l-2 2M3 5l2 2M139 306l1 2M338 208l0 2M366 235l-1 0M354 169l-1 1M187 272l-2 2M83 349l-2 -1M218 371l2 -1M249 232l-1 0M364 197l-2 -1M129 318l-2 0M257 221l-1 0M218 277l-2 1M254 266l0 -1M163 287l-2 -1M162 340l2 0M285 210l1 2M184 301l-2 2M253 322l2 0M86 322l-2 -1M281 336l2 2M306 316l-2 2M187 124l2 0M311 288l-2 0M179 333l1 -1M62 99l2 -1M260 248l0 2M155 58l-2 1M152 330l-2 -1M148 317l1 0M197 64l-2 -1M202 267l1 -1M306 222l0 2M121 342l-1 -1M328 317l1 0M253 288l2 1M164 314l1 -1M85 335l-2 -1M367 184l1 1M186 312l-1 2M103 354l0 1M144 340l0 1M221 263l-2 0M133 372l1 2M226 365l0 1M324 234l-1 2M261 306l1 -1M311 249l2 2M142 307l1 0M106 335l2 1M146 344l1 2M158 306l-1 0M285 223l-1 0M205 257l0 1M279 47l1 2M265 273l1 0M377 176l2 1M263 320l1 0M121 144l1 -1M201 368l0 2M121 334l-2 -1M217 338l-2 -1M331 174l-1 2M235 344l1 0M338 248l2 1M65 112l-2 -1M238 300l-2 0M144 334l0 1M326 286l1 1M230 354l2 2M265 278l1 -1M353 248l1 1M206 301l-1 -1M330 169l2 1M309 237l-2 2M132 375l2 1M181 341l-2 1M372 231l-1 1M237 304l2 1M170 292l-2 0M320 282l0 2M97 361l-1 0M143 329l1 -1M356 201l-1 0M153 319l-2 0M213 93l2 2M150 373l2 0M265 237l-2 1M162 373l-1 1M258 272l0 1M159 339l-2 0M109 341l2 -1M184 290l-1 2M276 214l-1 1M372 218l1 1M258 279l2 0M130 368l-1 -1M100 37l1 1M166 376l1 0M367 208l2 0M347 222l-2 2M321 264l1 0M194 307l-2 0M231 367l-2 0M232 310l1 0M189 296l-2 2M213 300l-1 -1M269 334l1 0M307 294l2 1M188 353l-1 2M221 355l-2 1M292 271l-1 -1M197 101l-1 -1M165 332l-2 1M255 288l-2 0M169 332l2 2M276 229l0 -1M229 277l-2 1M202 317l1 0M328 288l1 1M205 257l-1 0M327 236l0 -1M180 276l1 2M357 213l-1 -1M271 318l-1 0M276 157l2 -1M218 265l-2 2M370 221l2 0M283 287l1 1M328 95l1 2M174 346l-1 2M228 239l-2 2M222 347l-1 0M280 306l2 1M313 211l-1 -1M127 314l0 1M324 188l0 2M40 237l2 0M361 232l-2 1M270 347l0 -1M275 258l-2 -1M179 366l-2 2M277 239l2 1M243 321l2 -1M271 266l2 -1M313 290l2 0M144 328l2 -1M72 236l-1 -1M329 248l2 2M260 314l1 0M50 288l-2 0M369 214l1 2M119 221l2 1M259 243l2 -1M206 329l1 0M269 219l1 0M340 182l0 1M278 286l-1 2M277 212l2 1M313 228l-1 1M273 257l-1 2M262 215l-1 -1M195 252l-1 -1M300 312l2 -1M230 356l-1 -1M193 340l0 1M326 93l1 1M126 368l-2 1M358 209l1 1M359 225l1 2M98 363l0 1M268 344l-2 2M271 300l-2 -1M261 264l1 1M261 320l2 0M334 247l-2 2M164 318l-2 0M371 165l1 0M250 354l1 2M233 149l1 -1M319 195l1 2M143 343l1 1M169 198l1 0M136 337l-2 0M261 319l1 0M342 218l1 0M299 307l-2 0M348 228l-1 2M238 237l-2 2M369 181l2 0M287 207l-2 0M303 307l2 2M283 274l1 0M153 330l-1 2M69 339l0 -1M203 276l-2 2M270 290l0 1M322 196l1 0M332 241l2 2M216 331l0 2M258 282l-2 2M141 306l2 2M146 297l1 0M172 372l1 2M301 268l1 -1M342 77l2 0M170 66l-1 0M366 219l-1 2M352 211l2 1M258 312l-1 2M289 273l-1 2M175 348l-2 1M247 264l-2 0M343 292l-1 0M310 299l2 -1M245 291l2 1M354 244l0 2M269 341l0 -1M281 230l1 0M356 255l-1 1M260 308l-1 0M310 294l-2 1M20 218l0 -1M258 330l1 2M295 335l2 -1M160 348l-1 1M36 250l-1 2M288 272l-2 1M369 158l0 -1M226 366l2 1M122 366l0 -1M231 315l2 2M117 331l-1 0M166 119l-2 0M204 358l-1 2M153 301l2 1M378 189l-1 2M346 242l-2 1M243 345l2 1M349 191l1 0M101 358l1 -1M267 194l2 1M165 342l1 1M185 216l-2 1M101 335l0 1M175 333l2 1M222 276l1 0M278 350l2 2M73 333l1 0M158 274l1 1M378 208l-2 0M192 377l-1 -1M360 179l2 0M113 356l2 2M211 362l0 1M318 327l2 1M341 258l-1 0M127 329l1 0M164 352l-1 -1M316 287l-1 2M358 235l-2 0M169 369l2 -1M213 337l-2 -1M108 189l1 2M239 304l-1 1M310 324l-1 -1M142 293l2 -1M304 236l-1 -1M333 204l0 -1M197 342l0 -1M206 350l2 0M368 225l1 1M301 170l2 0M177 351l1 0M57 341l1 0M167 367l2 2M226 277l-2 -1M20 68l-2 0M301 246l-1 0M342 196l-1 2M303 322l1 0M287 294l1 1M364 248l2 -1M248 357l2 2M356 260l-1 2M73 351l1 0M139 345l1 2M302 294l2 1M225 269l1 0M342 258l-2 2M82 129l-1 0M267 342l2 1M322 319l-1 2M119 77l-1 1M304 285l-2 -1M263 325l-1 -1M198 280l0 2M274 334l2 0M307 267l2 0M223 305l-1 2M177 329l-1 1M310 313l-1 2M229 259l-1 0M330 290l1 2M70 352l1 2M221 372l2 2M194 358l0 2M359 200l2 1M312 280l2 2M287 323l-2 1M164 354l-1 0M153 270l1 0M233 268l1 0M170 284l0 2M197 352l0 2M223 235l-1 2M365 191l-1 1M252 308l0 1M195 354l1 0M365 193l2 2M330 253l2 2M128 361l1 0M191 302l1 2M275 287l-1 1M265 252l-1 -1M168 231l1 1M176 369l-1 -1M330 256l2 2M162 372l-1 1M235 279l1 0M141 295l-2 -1M237 267l1 -1M283 247l2 1M342 220l-1 -1M191 309l-1 2M210 287l0 1M263 237l2 1M134 337l1 -1M363 215l-2 0M343 212l1 0M220 353l2 0M197 314l2 0M341 113l0 1M334 304l-1 -1M242 336l-2 1M251 347l-2 0M352 260l1 0M326 213l1 0M111 359l-2 -1M214 370l1 0M96 342l2 1M149 334l-1 2M287 309l0 2M361 260l-1 -1M268 255l1 0M379 172l1 1M211 262l0 2M200 349l1 0M24 10l1 0M223 290l1 -1M146 355l1 -1M316 231l0 1M119 87l-2 -1M270 321l2 0M170 352l0 2M303 316l0 1M284 337l2 1M300 64l1 0M83 345l0 1M196 290l-2 1M265 307l0 2M227 322l0 2M208 332l1 -1M333 201l1 -1M304 304l-1 1M108 365l1 1M185 84l2 -1M315 302l-2 0M356 171l1 1M267 326l0 1M179 260l1 -1M211 316l-1 1M198 312l1 0M331 311l1 2M157 366l2 -1M317 269l-1 -1M208 333l-1 -1M310 315l1 2M311 213l2 2M87 290l-1 1M245 363l-1 2M160 303l1 1M262 329l2 -1M191 366l-2 2M103 340l1 2M296 317l0 -1M281 255l0 -1M131 359l-1 0M258 260l-1 0M129 315l-2 1M277 331l0 -1M192 288l-2 1M376 165l1 0M184 308l2 2M78 339l-2 2M257 283l-1 0M126 68l0 1M179 328l-1 1M150 323l2 2M235 207l2 -1M221 290l2 1M268 291l0 1M333 134l2 1M271 217l2 2M149 329l1 -1M262 246l-1 2M177 276l0 1M183 335l-2 1M328 191l1 0M156 296l-2 -1M263 277l2 -1M319 184l-2 1M212 349l-1 -1M160 50l2 -1M275 303l1 -1M288 343l1 0M264 250l-1 2M365 216l-1 -1M147 344l-1 2M245 343l2 -1M281 265l1 1M126 85l-1 1M81 342l0 2M319 212l-2 -1M174 359l0 -1M244 241l-1 -1M153 366l0 1M324 322l2 2M305 281l2 1M146 281l0 -1M314 212l2 -1M321 156l1 2M301 291l-1 0M143 282l2 0M108 367l-2 1M237 272l-1 -1M150 349l-1 0M251 240l-2 -1M321 252l1 2M107 256l1 -1M211 366l2 0M286 223l0 -1M191 260l2 0M56 115l-2 1M383 179l1 0M269 287l-1 1M155 345l-2 -1M100 344l1 0M279 136l2 0M342 177l-2 -1M163 370l-2 -1M131 365l0 -1M253 331l1 1M36 40l2 -1M216 108l2 1M203 261l-1 -1M194 257l-2 1M188 56l0 2M272 262l-1 0M191 302l0 2M199 55l-2 1M219 280l-2 0M277 332l1 0M161 341l0 -1M206 330l2 2M358 251l1 1M181 374l0 -1M212 305l1 0M321 259l-2 0M211 373l2 -1M38 214l-1 1M111 309l1 0M105 344l-1 1M270 232l0 2M12 282l1 2M343 260l-1 2M374 194l0 1M257 301l2 0M32 238l1 1M244 299l0 1M164 299l-2 2M207 260l0 2M282 222l2 1M247 321l2 1M279 343l-1 -1M264 276l-1 0M166 272l1 0M268 284l0 1M278 286l1 0M340 236l-2 1M173 375l-2 2M313 219l-1 0M309 281l-1 1M63 332l1 0M233 34l2 2M284 322l1 1M74 351l0 -1M138 370l-1 2M347 289l2 1M284 299l2 0M157 361l0 1M342 259l2 1M80 345l-2 1M212 268l-2 2M157 324l1 0M115 47l-1 1M215 320l2 1M168 30l2 -1M300 332l-1 1M140 346l-2 -1M245 312l-1 -1M248 289l1 0M317 280l0 -1M329 219l1 2M336 298l-1 2M174 343l1 0M293 211l-2 0M141 324l0 2M250 281l-2 1M134 327l1 2M343 218l0 1M282 334l2 1M137 344l-1 1M225 278l-2 1M364 199l-1 0M157 291l-1 2M197 355l-2 1M350 282l0 -1M362 232l-2 2M171 364l0 -1M276 250l1 -1M135 342l1 1M360 217l0 1M189 323l2 0M61 16l-2 -1M343 199l1 1M252 254l2 -1M337 288l-2 -1M293 213l1 0M346 191l-2 -1M133 332l0 1M85 331l-2 2M275 340l-1 -1M137 356l1 2M197 320l-1 -1M267 211l2 1M149 348l1 0M335 264l-2 2M335 232l-2 -1M69 207l-1 2M79 91l2 2M284 306l-2 2M257 359l-1 1M296 329l1 0M368 159l-2 -1M255 271l1 0M280 298l-1 0M358 221l-2 2M244 357l-1 1M224 253l-2 -1M239 323l-1 1M160 319l-2 0M137 327l-1 -1M163 333l-1 2M273 319l-1 0M196 334l1 0M269 286l-1 1M317 216l0 2M280 205l1 1M108 343l-2 -1M281 318l2 -1M104 332l-2 0M314 223l-2 0M159 371l2 1M208 273l2 1M293 326l-1 1M256 338l1 2M151 329l2 -1M357 130l0 2M316 81l0 2M217 289l2 2M298 266l-1 2M119 312l1 2M162 287l-1 2M228 274l1 -1M209 339l2 0M354 206l-1 1M173 50l1 -1M269 275l1 1M218 167l0 1M323 200l1 0M91 361l-2 0M124 359l2 1M268 266l2 -1M100 348l2 0M154 56l1 0M210 310l2 -1M259 335l1 2M100 365l0 1M327 233l1 1M331 230l-2 1M271 342l1 2M346 260l1 2M219 73l0 1M253 269l-1 2M112 335l-2 0M256 328l2 -1M354 261l2 -1M275 275l-2 0M236 307l1 1M142 80l-2 0M342 189l2 1M189 350l0 2M279 296l1 0M353 273l0 -1M295 327l-2 0M224 333l1 -1M125 351l-1 -1M167 354l2 1M113 322l2 -1M244 256l2 -1M236 244l2 -1M151 378l-1 0M268 345l-1 2M275 299l1 0M29 28l1 2M204 344l2 -1M107 355l-1 1M155 203l1 -1M359 262l0 2M206 288l1 2M342 247l2 -1M305 243l1 0M328 293l2 1M235 254l2 0M347 266l-1 2M221 370l0 -1M266 344l-1 1M130 336l-2 -1M176 350l-2 -1M317 114l-1 0M360 171l1 0M255 290l1 2M212 360l-2 1M301 219l1 2M122 317l0 2M230 332l2 2M347 257l1 -1M272 312l-2 1M221 363l1 1M366 160l-1 0M240 291l1 0M83 145l1 0M190 341l-1 1M289 222l2 1M185 376l2 -1M333 225l-2 0M358 219l-1 0M170 349l-2 1M277 27l2 2M68 59l-1 0M140 360l1 -1M273 257l-2 0M148 252l-2 -1M310 266l-1 1M317 190l-1 -1M229 344l2 1M96 359l1 -1M299 319l-2 1M276 215l2 -1M140 335l1 0M200 344l1 2M173 327l-1 2M224 249l-2 0M338 240l-2 0M235 325l-1 0M169 341l0 2M278 277l2 -1M319 236l2 -1M279 57l-2 0M73 312l1 2M223 281l1 0M258 282l0 -1M279 287l-2 0M259 206l-2 1M22 54l0 1M215 271l-2 -1M328 224l0 -1M340 276l0 1M326 181l-2 -1M135 332l0 2M210 250l-1 2M53 333l1 2M316 227l1 0M304 319l-2 0M115 347l1 0M216 304l2 2M190 257l-1 -1M365 176l2 1M342 280l2 1M132 329l0 2M207 291l-2 -1M360 160l-1 0M357 255l1 0M256 352l1 2M305 254l-2 1M380 203l1 0M223 300l-1 0M296 340l-1 1M183 337l-1 0M158 366l1 0M175 314l0 2M270 319l1 1M374 214l1 -1M318 247l-2 1M187 322l1 0M313 262l0 -1M300 207l0 1M281 281l1 1M250 357l-1 2M293 207l2 1M354 240l2 0M365 244l-1 0M311 320l0 1M237 236l2 2M117 307l1 0M180 142l2 -1M196 347l1 1M221 265l-2 1M252 277l1 1M200 10l2 1M72 340l-2 0M317 288l-1 1M373 187l-1 0M121 136l0 2M189 257l2 -1M252 342l1 0M272 280l2 1M143 367l0 2M220 250l2 1M158 243l2 1M340 267l1 0M309 250l2 0M218 355l2 0M367 191l-1 -1M132 361l2 1M190 107l-1 1M289 261l-1 -1M244 291l1 0M166 73l2 0M306 249l2 1M285 311l-2 2M224 365l-1 1M219 295l2 1M281 349l-1 1M297 207l0 2M190 285l-1 0M235 321l-1 1M304 274l-1 1M267 243l-2 0M311 202l0 -1M186 366l-2 2M121 348l-1 0M171 314l1 0M164 321l0 1M106 365l-2 0M339 279l-2 1M232 331l-2 1M378 174l-2 0M235 260l0 1M142 97l0 -1M168 359l2 1M257 348l1 1M228 271l0 2M79 353l1 -1M124 357l-1 1M201 292l-1 0M222 296l2 0M306 277l0 2M347 204l-2 -1M234 290l2 2M297 214l-1 -1M112 339l1 -1M261 213l0 1M263 316l0 2M283 242l-2 2M288 298l0 1M324 321l-2 2M236 229l-2 0M220 340l-1 1M181 353l2 2M152 293l-2 -1M187 115l2 0M380 186l2 1M153 294l2 1M158 378l-2 1M336 273l1 0M70 331l-2 2M352 266l-2 1M175 332l0 2M314 293l-1 0M268 341l-1 2M267 288l2 0M179 262l-2 1M372 203l-1 0M307 329l2 -1M208 358l0 -1M108 358l1 2M237 304l-1 -1M198 301l1 0M275 207l0 1M166 352l-1 -1M308 255l1 -1M261 141l2 2M245 342l-1 1M318 212l-1 2M365 225l1 -1M276 275l1 0M348 285l0 2M252 315l0 1M262 318l0 2M378 206l-2 1M296 271l-1 1M282 239l1 1M240 62l1 -1M264 255l2 2M147 330l0 1M357 189l-2 1M238 265l-1 1M89 185l-1 0M153 370l2 0M173 344l-2 1M43 311l-2 -1M281 337l1 2M326 295l2 0M46 193l-2 2M373 169l-1 2M72 349l-1 -1M126 209l1 0M293 238l-2 1M278 301l0 -1M368 215l0 2M176 306l-1 -1M367 187l1 0M87 318l1 0M267 273l-1 -1M194 345l-2 2M209 297l-2 1M83 238l0 1M172 376l-2 0M317 304l1 1M200 292l0 2M91 361l2 0M104 330l1 0M107 103l1 -1M171 365l-1 -1M242 273l-1 2M148 349l1 0M133 350l2 0M233 252l1 0M124 339l0 1M211 368l-1 2M299 248l2 -1M250 236l1 -1M166 373l2 2M307 254l2 1M338 226l2 2M349 207l1 1M354 224l1 -1M197 272l0 1M180 336l-1 -1M172 343l0 -1M242 314l-2 1M223 348l-1 1M336 172l-2 2M239 307l-2 1M252 264l1 0M234 290l1 0M100 363l1 2M74 346l-2 -1M344 109l2 2M344 265l2 2M236 327l-2 1M163 355l2 1M330 265l-1 1M109 311l-2 2M42 18l2 0M360 185l1 2M307 308l1 0M302 120l1 -1M194 345l0 2M160 319l2 0M359 255l1 2M152 354l1 0M215 344l-1 -1M224 133l-1 -1M271 317l-2 1M382 186l0 1M315 280l2 0M227 235l-1 -1M141 315l1 1M285 224l-2 0M227 361l1 -1M163 333l2 0M227 279l-1 -1M290 251l-1 2M323 216l1 0M210 309l2 -1M347 245l1 2M228 294l-1 2M303 225l2 2M121 169l-2 0M283 329l0 1M344 269l1 2M162 299l2 1M107 337l-2 2M200 375l2 2M116 345l-1 1M122 314l-1 1M351 227l1 0M236 305l-2 0M208 328l2 1M261 219l1 2M143 360l1 2M20 52l-1 -1M200 26l-2 1M325 284l-1 0M110 303l-2 2M288 249l2 2M333 266l-2 -1M170 320l-2 2M314 246l-1 -1M237 303l1 -1M357 228l-2 1M223 369l1 1M277 303l-2 1M180 336l0 1M86 150l-1 1M49 173l1 1M291 265l1 0M345 213l1 2M317 227l2 0M349 227l0 1M164 363l-2 2M318 326l-2 -1M230 331l-2 0M365 248l-2 1M148 352l0 2M306 321l-1 1M181 344l2 2M95 354l-1 0M233 354l0 2M284 310l-1 0M23 24l2 1M350 191l2 2M99 346l1 0M331 230l0 1M245 293l1 2M308 203l-2 -1M269 352l-2 1M286 327l1 0M196 319l1 -1M319 282l2 2M241 278l1 -1M266 332l-1 2M240 338l1 2M209 354l1 2M179 316l0 1M334 279l2 1M334 301l-1 1M229 349l0 1M155 342l-2 -1M258 215l0 1M96 320l-2 0M311 229l2 2M45 166l1 0M36 143l1 -1M117 342l-1 2M313 207l-2 1M281 297l-1 -1M97 289l-2 2M330 75l-1 -1M315 241l0 -1M288 235l-1 2M366 218l1 0M178 338l-1 2M315 250l-1 -1M105 343l-1 1M65 65l1 2M266 342l-2 -1M360 138l0 2M126 344l2 -1M344 128l-2 0M262 341l-2 0M343 218l1 1M175 379l-2 -1M223 252l2 -1M275 303l2 1M289 334l-1 0M294 221l1 0M88 187l1 0M140 358l1 2M201 276l-1 2M222 275l0 2M32 307l1 1M245 339l0 1M172 329l-1 0M182 370l1 -1M177 322l0 2M150 333l-1 0M255 355l0 -1M355 230l-2 -1M84 351l-2 0M273 310l0 1M341 293l2 -1M145 310l1 0M84 323l-1 -1M334 300l0 1M162 331l-2 0M238 239l-1 2M320 293l2 0M317 272l-1 -1M168 374l0 1M374 192l-2 0M299 247l0 -1M348 194l2 -1M234 287l-2 -1M204 302l-1 1M288 328l-1 2M263 278l1 1M4 212l2 1M367 224l-1 -1M245 280l2 0M293 246l-2 -1M246 358l1 1M318 283l1 0M202 376l1 -1M310 252l-1 2M352 236l-2 2M311 298l0 2M202 277l-2 1M336 281l1 1M240 247l0 2M339 201l-1 0M324 250l-1 2M248 336l1 0M186 314l0 2M165 306l-1 -1M266 249l-2 2M85 357l-2 2M262 274l-1 2M189 323l-1 1M339 297l-2 -1M296 325l1 0M342 294l0 -1M364 255l0 2M90 317l-2 0M364 214l2 1M298 218l1 -1M348 241l1 -1M203 309l-1 0M315 328l-2 0M280 256l1 -1M260 292l-1 2M278 256l-2 0M295 280l2 0M198 341l1 0M57 113l1 0M37 239l1 0M296 226l0 1M193 357l2 2M139 271l-2 0M224 106l-1 -1M3 102l0 1M128 331l1 0M263 272l-2 1M168 326l0 1M357 227l-2 2M263 321l0 2M197 299l0 1M204 361l2 2M147 324l-2 -1M203 322l2 1M335 267l-2 1M178 140l2 -1M312 295l1 1M172 365l-1 2M358 223l1 -1M62 332l2 1M118 358l1 2M128 352l-2 1M264 309l-1 2M162 308l1 -1M332 229l2 0M116 369l-1 2M276 241l2 1M142 351l-1 1M118 167l2 1M227 354l-1 2M163 324l2 1M118 35l-2 1M221 282l1 0M366 183l2 0M234 342l-1 2M266 267l-1 1M363 209l0 2M134 332l-2 1M143 373l1 2M71 350l1 0M127 337l2 1M347 222l-1 0M161 253l-1 -1M131 363l-2 -1M254 334l1 1M378 206l-2 2M217 330l1 0M280 345l1 0M129 319l1 1M317 275l1 0M208 264l1 -1M365 249l2 2M329 286l-1 0M98 336l1 1M240 261l1 0M190 324l2 -1M260 269l-1 0M258 191l-1 1M369 238l0 2M236 289l2 0M310 51l0 1M265 228l0 2M161 287l2 -1M152 295l1 0M139 357l2 1M38 319l-2 -1M311 93l2 0M336 306l2 2M247 305l2 2M322 266l0 1M256 321l0 -1M60 334l-2 1M358 250l-2 0M214 263l-2 2M123 330l2 0M352 206l-1 0M346 94l0 -1M207 293l-1 1M178 327l0 1M203 316l1 0M195 265l2 0M123 369l2 2M157 333l-1 0M287 260l-1 -1M312 207l0 2M311 259l2 2M90 311l2 0M316 315l-2 0M185 315l-2 2M225 163l-2 1M304 231l2 0M182 20l-2 1M304 252l0 -1M350 171l2 2M305 277l-1 2M241 340l1 2M120 320l-1 1M271 322l2 1M253 244l1 0M164 359l1 0M322 228l-1 1M283 313l1 1M174 377l0 -1M128 333l-2 1M80 347l1 0M184 369l0 2M203 327l2 -1M173 347l-2 2M184 279l0 2M311 190l-1 0M219 301l2 -1M164 87l-2 -1M166 336l2 -1M285 228l0 1M111 307l0 2M71 351l0 1M320 218l1 0M41 26l2 -1M304 260l-1 0M118 337l2 -1M243 363l2 2M108 346l1 -1M223 358l-1 0M200 292l-2 -1M322 70l2 2M357 235l-1 0M259 278l0 -1M171 300l-1 2M306 237l1 0M173 33l1 0M201 368l-2 2M314 279l1 2M243 269l-2 2M282 308l-2 0M363 200l-1 1M126 340l1 1M296 272l0 1M299 314l-1 0M359 252l2 2M225 234l-2 2M255 276l1 2M278 239l2 2M366 187l2 -1M346 223l1 0M252 338l2 2M320 307l2 0M130 342l1 0M353 240l-1 -1M283 325l0 1M375 183l1 2M377 216l1 1M55 329l2 -1M355 238l2 -1M235 313l0 1M246 251l1 2M340 172l1 1M299 203l-1 -1M175 277l-1 2M107 353l-2 1M97 69l-1 -1M325 229l2 2M238 310l2 0M198 360l-1 1M100 161l-2 -1M123 358l0 2M356 255l0 -1M205 346l1 1M261 335l2 2M197 334l1 1M218 316l1 0M328 303l-1 2M167 296l0 1M226 156l1 1M226 369l1 2M206 290l-1 1M206 306l-1 2M179 151l1 0M225 370l1 0M348 207l0 1M225 292l1 0M17 33l-1 -1M378 214l1 0M236 356l-1 -1M259 344l1 1M301 273l-2 0M231 64l1 0M325 247l-2 2M307 299l2 1M110 316l-1 2M354 276l-1 0M165 351l-2 2M128 361l-1 2M253 295l2 1M173 351l-2 1M112 343l0 2M365 249l-1 0M371 200l1 0M354 241l-2 -1M250 259l-1 1M307 286l-1 1M301 245l2 -1M220 362l0 2M278 280l-1 0M312 257l0 2M282 253l1 0M193 346l-1 0M150 362l2 1M282 286l1 0M189 327l-2 -1M140 292l-2 1M270 341l2 2M240 242l0 1M364 158l-1 1M159 347l-2 -1M173 294l-2 0M340 288l-2 1M248 279l1 2M345 193l-2 2M267 336l-1 -1M218 351l0 1M202 313l-2 2M273 247l1 0M199 301l-1 0M176 344l1 1M215 374l0 2M195 292l1 0M80 33l2 0M118 345l1 -1M178 363l1 0M202 298l2 0M237 336l-1 0M251 359l0 -1M154 303l-1 -1M196 351l-2 1M165 378l-2 1M207 299l-1 -1M102 351l-2 0M203 140l2 1M145 320l2 -1M313 271l-2 1M279 263l1 0M339 262l-2 1M235 357l1 1M358 252l2 1M346 221l-1 -1M286 338l0 2M219 252l0 -1M75 333l0 2M209 60l2 1M348 282l-2 0M232 330l1 -1M160 377l0 -1M324 299l1 2M159 354l-1 0M280 247l2 0M366 198l1 2M294 311l1 -1M319 237l2 0M288 242l1 1M285 275l-1 1M72 305l2 2M148 362l-1 1M237 144l2 1M243 297l2 0M296 243l2 1M217 280l2 0M283 290l-1 0M354 266l2 0M241 299l1 0M241 322l2 2M261 225l0 1M341 171l-1 2M317 244l1 0M117 326l-2 -1M287 109l2 -1M141 306l-1 -1M334 244l-1 0M306 270l0 -1M201 249l-2 2M236 205l2 1M102 346l-1 -1M291 103l-1 1M355 220l2 1M203 164l1 -1M219 332l-2 2M165 342l2 0M211 347l0 1M152 238l-2 0M208 190l-1 -1M296 263l1 2M136 365l-2 0M323 209l1 2M231 304l-1 0M188 321l2 0M100 301l2 2M243 289l1 -1M113 354l-1 2M323 221l-1 1M238 284l2 1M25 260l-2 0M284 143l1 1M250 302l2 0M89 307l1 2M223 264l-1 0M155 306l2 1M135 358l2 -1M264 343l2 -1M239 250l0 1M347 278l1 2M286 245l0 -1M351 181l2 2M359 142l-2 1M225 148l-1 0M218 336l2 1M231 319l1 2M295 282l2 1M256 225l-2 2M263 326l1 0M315 268l1 2M337 240l-1 0M268 340l0 -1M319 293l0 -1M329 282l-2 -1M121 341l0 2M231 367l-1 2M368 236l-2 1M282 278l1 -1M251 324l-1 2M256 346l0 1M210 347l-2 1M256 229l-2 -1M317 291l1 0M176 364l-2 0M317 308l-2 -1M26 121l-1 0M140 294l0 1M341 251l-1 2M296 243l1 0M360 245l2 2M151 345l-2 0M216 318l-1 0M224 315l2 1M217 259l0 -1M107 361l1 0M289 271l1 1M379 176l2 2M208 290l0 -1M66 349l2 -1M347 241l-2 0M316 228l-1 0M170 374l2 -1M316 229l0 -1M136 361l1 2M178 278l-1 2M370 231l-1 1M173 315l-1 1M285 289l-1 1M316 244l-1 0M359 210l-2 2M213 331l0 2M212 356l2 0M229 353l2 0M343 280l1 0M12 94l1 1M110 335l1 0M377 178l1 0M328 231l0 -1M178 360l-1 0M147 108l0 2M326 315l1 1M359 267l2 1M220 277l-1 0M255 342l0 2M146 360l2 2M229 63l0 2M196 316l1 0M289 168l0 2M212 375l0 1M122 326l1 -1M67 154l-2 0M197 258l2 2M228 286l-2 2M168 327l-2 2M250 355l0 -1M328 283l1 -1M240 365l-1 0M243 360l-1 1M290 304l0 2M167 328l1 0M172 365l-2 0M138 354l-1 1M214 306l2 -1M89 333l-1 0M195 347l-1 2M195 299l0 -1M199 323l0 2M232 302l-2 0M129 351l0 -1M137 371l0 -1M343 257l-2 -1M253 306l-2 0M218 314l2 2M172 335l1 0M323 315l-1 -1M273 346l-1 0M253 360l0 2M261 303l-1 2M149 313l1 0M175 324l0 -1M337 200l-2 1M202 346l1 -1M263 231l-1 2M223 356l-1 -1M295 239l-2 1M162 182l1 0M97 196l-2 2M233 281l2 0M145 350l-2 0M96 333l-2 -1M288 279l-2 1M204 151l-2 1M131 325l-2 2M191 335l-2 1M278 292l-1 0M161 371l1 0M346 204l2 -1M270 330l2 1M197 358l-1 -1M183 373l0 1M226 192l-1 1M334 238l-2 1M322 311l1 2M226 332l1 0M214 374l2 -1M254 286l-2 2M337 307l2 -1M50 279l-1 1M299 330l1 -1M313 308l-2 -1M314 258l-2 0M119 309l-1 2M163 329l0 -1M202 303l-2 2M132 365l1 2M87 69l2 1M353 270l1 0M258 360l-1 0M275 345l2 0M337 244l2 -1M261 279l1 1M124 311l-1 0M351 283l0 -1M108 340l-1 0M167 271l-1 1M275 289l-2 2M346 264l0 2M113 323l1 1M25 245l0 -1M124 372l-2 0M182 299l-1 1M221 345l2 2M254 304l0 2M341 173l1 0M174 311l1 0M153 337l-1 1M116 171l0 -1M156 347l-1 1M210 336l-1 1M235 314l1 0M270 265l2 1M258 342l1 1M337 195l1 2M341 151l0 2M252 261l2 -1M220 313l1 0M257 261l-1 1M208 343l-1 0M360 199l-2 -1M258 347l-1 2M245 337l-1 1M231 248l-2 0M25 238l-1 1M244 281l-1 2M67 183l-1 2M164 315l2 0M304 330l-1 0M343 272l-1 1M219 349l0 1M179 343l0 -1M158 302l1 2M246 108l-2 1M210 298l-1 2M169 337l-1 0M174 339l0 1M307 241l-2 2M256 257l-1 0M191 287l1 1M321 252l-1 1M329 306l-2 1M339 239l0 1M160 353l2 2M255 356l0 1M359 260l2 -1M373 154l-1 -1M290 274l-2 2M230 311l-1 0M206 274l-2 1M161 359l-2 1M295 155l1 0M297 277l1 1M51 50l2 2M293 319l1 -1M152 339l2 0M298 199l-2 0M231 320l-1 0M170 377l1 1M359 174l0 -1M334 251l2 0M317 237l-2 0M118 342l2 -1M297 212l-2 -1M242 204l-1 -1M372 212l-1 -1M335 300l-1 2M280 242l1 1M344 178l-2 -1M59 167l-2 1M277 299l1 0M205 333l-1 1M314 249l2 -1M202 333l2 -1M220 288l-1 2M205 338l-2 0M175 303l1 -1M240 285l0 -1M268 307l-1 -1M315 305l0 2M238 250l-1 2M261 273l2 0M364 116l2 1M272 269l1 2M263 304l-2 1M276 278l0 2M322 309l2 1M239 285l1 1M268 243l1 0M364 226l0 -1M338 278l-1 -1M247 306l-1 0M254 175l1 1M254 337l1 -1M286 219l-1 0M212 291l2 0M365 230l-2 1M125 354l-2 0M293 239l-2 -1M269 345l2 2M210 368l-2 1M215 293l-2 -1M131 227l-1 0M112 327l1 0M81 261l1 0M238 310l2 1M105 355l1 -1M210 340l1 0M290 309l0 -1M360 214l-2 -1M185 296l2 1M264 218l0 -1M147 373l2 0M379 159l2 -1M341 242l0 2M301 272l-1 -1M270 256l-2 0M221 251l2 1M270 309l1 0M156 320l-2 1M67 59l1 0M338 282l-1 1M197 356l-2 -1M199 334l-2 2M124 351l-2 0M3 139l1 1M365 252l0 -1M334 308l-1 -1M273 209l-1 0M153 292l1 0M133 363l-1 -1M342 186l-2 0M334 187l1 -1M176 61l-2 0M255 251l-2 1M257 283l-2 0M197 305l2 1M248 345l1 -1M119 11l1 -1M346 289l-2 2M144 356l0 -1M205 325l0 2M284 99l0 -1M249 278l-1 1M243 311l2 0M353 182l2 0M143 353l-1 0M335 188l-2 0M4 257l-2 2M264 221l2 -1M277 204l2 0M230 276l-2 1M297 301l-1 -1M188 323l0 2M225 304l-1 2M193 127l1 0M117 313l2 0M334 256l-1 1M329 291l1 0M292 196l1 2M243 102l1 -1M333 286l0 -1M122 342l2 1M126 293l-1 2M102 318l2 2M334 306l1 0M269 261l1 2M17 65l2 -1M241 295l-2 -1M187 364l-1 -1M224 370l-1 0M321 240l2 2M195 291l-1 -1M313 242l-1 -1M378 196l2 1M257 282l-1 0M151 358l1 1M315 208l-2 -1M376 216l0 1M176 312l0 1M303 267l2 2M350 252l-1 2M288 344l-1 1M165 50l-1 1M170 333l-2 0M267 252l1 0M272 324l2 -1M336 229l-1 0M113 360l2 0M341 193l1 -1M375 151l-1 0M222 301l-2 0M314 309l1 2M178 334l-2 -1M343 252l-2 2M190 349l0 1M205 373l0 1M205 318l0 2M219 352l-2 2M118 344l2 2M303 335l-1 2M349 227l2 2M158 285l0 2M72 352l1 1M75 259l2 1M200 372l-1 2M291 327l1 0M241 251l2 -1M217 328l-2 -1M306 211l-2 2M31 291l-1 2M205 308l2 0M247 287l-1 2M322 252l-2 0M238 341l-2 -1M151 353l1 1M201 301l-2 0M300 267l1 1M180 372l-2 2M358 125l0 -1M176 343l2 -1M353 274l2 1M147 335l0 2M160 365l-2 2M162 267l-2 2M297 327l0 -1M331 263l-2 1M219 248l-1 2M12 221l-1 1M206 354l-2 1M157 311l1 1M247 274l0 -1M270 267l-2 0M312 267l-1 0M51 37l-2 2M319 62l1 2M324 281l-1 2M210 365l0 1M249 33l-1 2M252 327l2 -1M240 271l-1 2M155 378l2 -1M172 367l-1 -1M269 259l-1 2M332 208l-2 0M105 353l-1 2M264 284l0 -1M246 228l-1 0M348 235l-1 1M317 255l1 1M303 329l2 1M54 317l1 0M87 14l0 2M145 327l0 1M147 311l1 -1M233 343l-2 -1M199 363l2 0M292 243l0 2M253 241l2 0M303 321l2 2M152 12l2 0M317 224l2 0M95 339l1 0M69 328l2 1M216 255l0 2M181 295l2 -1M373 197l2 2M282 270l1 0M324 282l0 2M169 89l0 2M82 324l-1 1M293 283l-1 0M160 347l-2 2M290 279l1 -1M175 293l2 1M176 377l-2 -1M91 316l1 0M136 349l-1 -1M194 325l0 2M181 358l2 2M295 332l2 -1M340 236l0 2M238 231l-2 1M156 363l2 -1M228 263l1 2M271 271l2 -1M232 350l-2 0M264 236l1 1M262 330l2 1M220 304l0 -1M214 329l-1 -1M282 307l2 2M320 186l-1 2M310 300l-2 2M296 270l2 0M168 284l1 0M5 233l1 2M177 336l1 1M300 199l-2 0M173 280l1 -1M350 237l2 1M238 346l-1 -1M237 324l0 1M291 163l-1 2M188 291l2 0M239 271l1 -1M101 346l0 2M118 185l-1 -1M172 309l-2 -1M315 289l0 2M129 359l-1 -1M215 358l1 0M198 361l2 1M221 350l0 1M233 351l-1 0M113 312l2 0M212 285l2 1M213 103l-2 0M354 280l2 -1M294 227l1 0M253 303l2 1M84 343l1 0M347 205l-2 1M242 273l-1 2M309 274l1 0M215 311l-2 1M195 265l1 2M307 257l1 2M335 245l2 -1M232 84l-2 0M255 337l2 1M157 339l0 1M348 174l1 -1M157 185l-2 -1M246 230l-1 -1M336 285l1 0M168 344l-2 0M184 335l2 2M205 373l1 0M177 296l0 1M252 279l-1 -1M184 362l-1 -1M121 266l-2 2M228 294l0 1M130 358l1 1M356 227l1 0M161 298l0 1M317 203l1 0M322 263l-2 1M303 310l-1 0M189 308l-1 2M173 296l-1 1M173 316l0 -1M342 246l-2 1M228 304l1 1M251 349l1 0M233 259l2 2M265 311l1 2M315 232l-1 1M159 378l0 -1M43 41l1 2M142 351l1 1M170 344l-1 1M378 208l2 2M162 330l1 1M349 225l2 1M315 222l-2 -1M350 266l-2 -1M334 203l0 -1M302 312l-1 1M266 316l-2 -1M181 309l2 0M196 360l0 1M171 316l-1 2M279 258l1 2M209 269l2 2M248 337l-2 -1M229 305l-1 0M236 243l-2 2M266 320l1 0M225 311l1 2M270 318l-2 -1M292 282l1 1M321 228l-2 0M70 346l0 1M220 80l-1 -1M235 337l1 2M261 254l0 1M168 333l-1 1M166 356l-1 1M105 327l1 2M261 345l0 2M172 356l2 2M339 236l-2 2M211 352l1 -1M343 272l-2 -1M354 216l-2 0M344 247l1 0M139 294l-1 -1M27 188l-2 -1M226 243l-2 -1M306 250l1 1M368 175l-2 2M295 208l2 2M250 244l2 0M345 172l1 1M232 287l-2 1M146 288l0 -1M188 367l2 1M185 303l-1 -1M348 283l0 2M145 341l2 -1M154 299l2 2M133 110l1 1M162 356l0 2M252 351l-1 -1M228 326l-2 1M150 301l1 2M127 327l-2 2M69 335l1 2M182 326l2 2M370 195l2 0M369 157l-2 0M223 364l-1 0M128 363l-2 -1M303 310l-2 -1M353 212l1 0M300 215l-2 0M214 334l1 2M63 59l1 0M251 301l2 0M325 228l-1 0M292 225l1 1M180 189l-2 1M342 260l-2 -1M102 172l-2 1M193 320l1 0M361 227l-2 0M367 157l-2 -1M165 316l1 1M292 340l2 2M53 213l2 0M180 345l-2 1M86 359l-2 -1M300 223l-1 -1M113 367l-2 2M115 369l0 -1M230 217l-2 1M269 295l2 2M352 196l-1 2M133 326l-1 2M278 345l2 0M284 244l-2 2M381 165l-2 2M252 296l-2 2M316 321l1 0M234 274l1 0M241 291l-1 -1M249 298l1 2M98 362l1 0M337 189l2 -1M325 256l-1 2M265 221l-1 2M295 54l-2 -1M199 273l-1 1M276 256l2 -1M191 275l-2 2M175 103l-2 -1M193 265l1 0M95 358l-2 0M326 311l-2 2M235 329l-1 -1M226 344l-2 -1M291 273l1 0M267 356l2 2M212 289l1 -1M218 293l-1 1M109 122l2 2M381 173l2 -1M205 351l1 0M239 325l-2 -1M322 277l0 2M300 300l1 -1M288 289l0 2M154 315l1 1M174 308l0 1M171 281l0 2M209 335l1 0M308 295l-2 2M241 363l2 1M343 227l-1 1M278 306l-1 2M226 82l-2 -1M177 336l1 2M307 296l-2 2M168 369l0 1M265 247l-1 2M296 331l-2 1M288 249l2 1M146 355l-1 2M273 166l-1 0M296 270l-1 1M321 324l2 -1M333 261l0 -1M113 311l2 -1M345 274l1 1M166 338l0 -1M70 350l-1 -1M144 332l-1 -1M255 309l2 2M236 282l1 -1M197 343l2 2M250 345l0 2M245 283l-2 0M351 270l-1 -1M142 344l-1 0M298 252l-1 1M155 318l-1 -1M288 316l0 1M99 313l-1 1M269 221l-2 2M198 258l1 0M367 173l-2 -1M331 266l-1 0M174 321l0 -1M155 305l1 1M176 321l-2 1M179 345l1 -1M144 370l0 1M107 215l-1 0M133 362l-1 -1M269 256l0 2M179 300l0 1M307 262l-1 2M242 366l2 0M221 307l-1 1M255 243l2 2M142 244l2 0M343 244l1 0M64 337l-2 0M186 375l1 1M260 349l-1 -1M325 263l0 2M334 184l0 -1M352 227l-1 0M343 283l-2 1M174 324l2 1M136 301l0 -1M209 325l-2 -1M265 314l0 1M297 259l2 2M246 275l2 -1M216 358l1 0M279 270l-1 1M94 323l0 1M265 113l1 0M329 256l-1 0M296 225l1 -1M347 227l-2 1M114 167l-1 -1M287 313l2 -1M154 306l0 -1M70 350l-1 0M80 329l1 1M267 270l-1 1M339 218l-2 1M343 175l0 1M249 363l0 -1M247 352l1 1M283 345l2 0M337 202l-1 -1M71 352l1 0M157 141l-2 0M274 278l0 1M198 377l1 1M354 263l2 0M146 319l2 0M334 241l2 2M136 156l2 0M250 344l-1 1M186 289l2 -1M176 339l-2 0M221 358l-1 2M265 231l-2 1M299 266l2 -1M273 333l0 2M165 113l1 0M355 210l-1 0M172 312l-2 0M303 304l-2 -1M170 356l-1 2M236 312l-1 0M338 223l2 -1M220 298l1 1M355 248l-1 2M213 257l-1 0M255 277l2 -1M308 253l-2 2M285 296l1 0M315 290l2 1M378 189l-1 1M57 47l-1 0M145 166l-1 1M189 346l-1 0M173 344l2 1M304 291l1 1M339 193l2 0M185 363l2 2M260 286l-2 2M199 289l2 0M199 265l2 1M112 276l1 0M267 300l2 -1M239 289l-2 1M271 338l-1 0M337 272l2 0M311 258l0 1M155 330l-2 2M312 209l-1 1M252 180l-1 0M341 239l1 0M323 320l2 0M121 345l2 2M237 268l1 0M250 317l-2 -1M323 182l2 2M282 268l-2 2M246 345l-2 -1M315 212l-1 0M356 183l-2 0M285 286l1 1M311 303l-1 0M199 375l-2 2M78 270l-2 2M161 328l1 0M150 345l2 -1M257 330l-1 -1M145 345l1 -1M256 329l-1 -1M137 372l2 1M214 149l-1 2M243 361l2 1M353 229l-1 1M291 311l1 2M252 235l1 2M234 291l-2 1M163 339l0 2M97 345l2 -1M221 287l2 -1M321 289l-2 -1M223 304l1 1M152 358l-1 -1M217 286l-2 0M83 348l1 0M181 356l2 2M275 288l1 -1M340 249l-1 0M244 315l-1 2M347 197l-1 0M256 296l2 1M280 339l-2 0M154 158l2 0"/>
<path stroke="#f0e600" stroke-width="1.7" d="M239.1 308.4h0M222.3 63.1h0M355 231.6h0M316.7 270.7h0M272.7 226.4h0M328.7 287h0M123.7 332.2h0M149.2 328.2h0M219.9 358.4h0M99.4 358.6h0M28.8 19.9h0M150.3 155.3h0M122.3 341.3h0M309.9 278.7h0M68.1 203.9h0M129.1 64.7h0M201.8 18.6h0M23.3 7.7h0M105.2 319h0M254.5 310.7h0M368.1 187.9h0M299 308.1h0M152.7 377.2h0M189.7 351.3h0M199.6 258.3h0M331.6 308h0M203.5 341.7h0M308.8 204.7h0M340.1 180.9h0M126.5 294.2h0M330.8 205.9h0M260.6 229.6h0M305 191.6h0M166.4 238.5h0M202.7 273.9h0M278.9 260.5h0M241.7 312h0M218.3 199h0M234.7 70.4h0M56.3 332.9h0M237.6 243.1h0M179.9 272.7h0M272.9 326.8h0M265.2 243h0M32 21.4h0M171.7 348.6h0M358.3 256h0M142.3 346.2h0M319 219.6h0M34.1 261.7h0M337.6 289.9h0M335.9 221.8h0M77.8 65.6h0M291.2 255.7h0M161.7 271.2h0M214 241.8h0M287 265h0M160 181.9h0M337.3 174.6h0M236.5 299.1h0M19.1 255.7h0M280.3 267.4h0M315.6 100h0M196.9 54.3h0M340.5 176.4h0M323.1 231.4h0M177.6 106.3h0M275.9 209.2h0M254.2 285h0M305.3 224.1h0M131.3 352.8h0M275.1 63.6h0M252.2 191.8h0M192.5 290.1h0M304.7 293.5h0M249.3 226.4h0M96.8 312.6h0M103.4 47.6h0M8 62.5h0M110.8 368.5h0M92.8 298.5h0M246.9 303.5h0M92.7 317.5h0M331.8 295.5h0M179.2 347.1h0M103.2 283.8h0M372.8 206.8h0M229 353.9h0M196.9 335.6h0M168.3 302.5h0M298.4 125h0M319.7 268h0M234 345h0M233.4 294.8h0M136.9 315.1h0M302.7 294.5h0M221.9 337.7h0M124.1 221.6h0M136.6 310.6h0M184.2 369.3h0M40.6 184.2h0M187.9 271.6h0M285 185.3h0M265.7 337h0M273.3 219.8h0M306.5 240.7h0M191.3 368.4h0M194.7 168.8h0M89.2 330h0M233.9 275.2h0M79.6 113.2h0M219.3 346h0M231.2 356.1h0M368.7 189.7h0M149.6 351.4h0M249.2 272.5h0M279 334.4h0M308.6 297.2h0M226.1 328.4h0M358.7 201.6h0M259.9 289.3h0M236.3 357.3h0M223.3 341.6h0M156.2 30.6h0M303.5 283.6h0M211.6 246.4h0M236.1 342.3h0M18.1 95.3h0M109.9 89.2h0M198.8 272.7h0M258.4 265.8h0M179.3 275.9h0M331.7 230.4h0M207.8 272h0M335.7 228.1h0M149.6 284.6h0M274.4 233.6h0M169 304.7h0M217 355.8h0M257.8 225.2h0M246.2 312.3h0M225.4 357h0M232.2 346.1h0M380.4 186.7h0M66 331.5h0M4.9 86.9h0M244.2 324.1h0M368.8 196.3h0M314.5 286.1h0M219.1 333.1h0M267.5 316.9h0M269.5 311.4h0M8.3 12.6h0M377.4 206.8h0M288.1 268.5h0M188.1 304h0M356.9 199.1h0M46.2 267.8h0M51.2 101.3h0M350.6 284.6h0M170.2 271.2h0M345.5 247.6h0M236.8 251.2h0M311 256.8h0M130.6 296.7h0M330.6 115.6h0M225.4 324.9h0M185.6 149.2h0M214.4 241h0M372.3 165.7h0M239.7 332.8h0M352.4 246.4h0M357.9 219.8h0M64.2 54.7h0M260.9 300.2h0M356.5 273.8h0M286.6 109.3h0M114 164.3h0M216 348.3h0M185 341.7h0M339.6 192.8h0M80.5 257.2h0M315.3 325.9h0M338 238.6h0M272.3 95.9h0M347.8 259.3h0M318.5 231.1h0M187 271.7h0M176.4 317.3h0M275.9 239.9h0M199 275.9h0M47.9 270h0M258.8 344.1h0M199.3 337.2h0M342.9 194.8h0M243.8 280.6h0M8.6 263.1h0M199.4 330.8h0M299.8 204h0M159.4 276h0M111.3 345.4h0M202.2 145.7h0M308.4 306.2h0M216.9 277.1h0M207.6 303.9h0M46.2 226.4h0M54.3 189.3h0M268.4 49.1h0M314.3 133.2h0M143.7 313.8h0M29.5 37.7h0M381.6 194.7h0M267.8 341.2h0M243.8 261.4h0M187.1 371.9h0M220.6 256.9h0M175.8 318.1h0M276.4 94.4h0M119.1 242.1h0M129.4 302.7h0M258.1 354h0M330.1 246.4h0M270.3 71h0M228.2 236h0M166.5 321.7h0M269.2 284.4h0M179.7 266.1h0M258.2 350.1h0M162.7 121.9h0M373.4 150.2h0M325.4 233h0M97.9 298.1h0M30 315.7h0M53.2 334.8h0M176.1 378h0M97.9 360.3h0M238 296.7h0M167.2 279.7h0M235.8 225.2h0M64.5 326h0M159.7 310.5h0M292.6 322.2h0M157 301.7h0M306.4 326.1h0M241.4 313.9h0M212.1 250.4h0M218.5 365.7h0M28.9 39.5h0M62.4 241.7h0M276.8 222.3h0M364.8 206.2h0M295.6 305h0M310.1 209.2h0M264.5 249.5h0M340.5 215.8h0M317.7 290.3h0M355.5 253.5h0M235.2 272.6h0M314.6 285.8h0M96.4 326.5h0M82.2 324h0M306.5 333.1h0M80.4 305h0M86.6 38.7h0M216.9 265.1h0M259.3 349.1h0M16.2 179.5h0M257.8 312.2h0M158.7 112h0M238.6 254.3h0M263.8 235h0M155.3 370.9h0M93.1 353.8h0M189.4 261.5h0M173.5 309.7h0M382.8 177.2h0M316.6 198.9h0M148.7 276.9h0M201.2 362.1h0M340 265.4h0M354.8 236.3h0M210.5 292.1h0M187.5 275.5h0M74 119.3h0M321.3 183.6h0M207.4 209.9h0M119.9 190.9h0M284.1 297.2h0M277.8 238.5h0M346.1 206.4h0M315.4 199.2h0M197.3 354.5h0M33.5 273h0M204.9 352.6h0M336.1 226.7h0M272 251.1h0M157.1 300.8h0M253.1 319.7h0M149.7 277.9h0M293.9 210h0M71.4 328.7h0M93.6 325.9h0M296.9 322.6h0M316.8 238.9h0M223.3 288.8h0M204.8 273.3h0M273.4 347.8h0M330.2 302.3h0M127.5 354.9h0M61.6 165.2h0M337.3 203.3h0M178.8 106.6h0M275.4 313.2h0M123.8 366.6h0M286.9 40.5h0M243.3 280.5h0M104.7 366.5h0M215.2 307.7h0M330.3 312.2h0M235.1 340h0M251.7 280.1h0M289.4 250.7h0M322.5 215h0M290.1 201.4h0M185.9 116.8h0M119.7 40.7h0M218.9 133.6h0M234.7 342.7h0M368 222.1h0M152.1 363.7h0M205.2 348.7h0M311.4 271.2h0M73.1 223.9h0M97.4 323.1h0M132.5 329.6h0M163.5 349.8h0M180.3 331.7h0M157.7 374.4h0M346.5 194.4h0M228.2 360.1h0M141.9 41.8h0M188.4 339.3h0M338.8 284.2h0M365.3 171h0M271.1 318.6h0M62.2 25.9h0M140.2 355h0M119.6 305.3h0M159 340.1h0M347 198.5h0M342.7 246.1h0M348.4 177.2h0M201.6 321.4h0M260.6 358.6h0M121 332.2h0M304.6 247.3h0M136.4 205.9h0M164.9 349.2h0M310.4 324.9h0M264 212.2h0M264.1 277.4h0M7.1 197.8h0M163.9 371.6h0M232.8 346.3h0M246.2 260.1h0M256.2 285.8h0M301.7 296.7h0M206.9 127.2h0M250.6 276.2h0M220.8 261.2h0M216.8 237.8h0M21 76.8h0M169.2 372.4h0M292.7 262.6h0M106 333.2h0M342.9 240.7h0M340.6 168.2h0M117.4 156.9h0M72.5 346.7h0M214.7 337.6h0M339.5 264.6h0M344.2 224.2h0M259.6 257.2h0M199.7 363h0M309.9 227.8h0M259.6 249.7h0M98.1 361.3h0M248.7 266.3h0M225.3 298.9h0M202.7 315.1h0M298.4 174.6h0M255.8 331.4h0M200 339.7h0M241.5 326.3h0M268.8 240.2h0M235.4 336.4h0M312 238.9h0M154.9 295.4h0M275.1 140.3h0M48.1 211h0M206.4 299.3h0M334.3 224.7h0M186.9 309.1h0M297 255.6h0M306.4 269.8h0M6.8 198.7h0M266.7 352.9h0M370.3 238.6h0M103.9 349.2h0M169.2 363.2h0M142.2 301.5h0M173 112h0M269.4 227.3h0M205.4 259.9h0M261.7 229.6h0M72.1 343.9h0M281.9 306.4h0M291.6 217.7h0M46.3 104.7h0M242.6 305h0M200 371h0M57.7 253.3h0M57.3 257.5h0M292.8 337.5h0M155.4 132h0M324.2 246.1h0M130 364.5h0M352.1 213.3h0M223.4 318.4h0M212.8 368.1h0M164 336.1h0M227.5 282.8h0M123.4 295.3h0M13.7 216.2h0M336.6 196.7h0M200.4 81.1h0M380 206.8h0M275.8 306.2h0M25.7 298.3h0M312.3 187h0M300.2 299.4h0M211.8 349.1h0M202.1 365.8h0M287.8 310.2h0M283.2 145.1h0M151 285.1h0M132.8 304.8h0M293.9 124.8h0M208.6 65.9h0M366.1 209.8h0M362.6 198.7h0M210.1 337.9h0M330.7 222.4h0M133.7 343.4h0M128.3 313.4h0M269.9 176.1h0M240.3 348.6h0M308.9 40.8h0M370 230.9h0M140.6 286.9h0M290.1 206.4h0M193.6 135.3h0M357.3 212h0M97.1 13.9h0M31.1 202.8h0M246.5 117.1h0M251.7 240.2h0M346.5 220.5h0M222.4 292.4h0M228.1 266.3h0M67.6 340h0M217.2 373.8h0M285.5 84.7h0M260.3 229.3h0M293.7 107.2h0M286.3 333.4h0M145.6 347.7h0M171.5 292.5h0M171.5 277.7h0M209.6 276.7h0M325.9 205h0M312.3 222.1h0M171.2 271.1h0M145.2 325h0M183.5 43.9h0M190 351.9h0M328.4 68.1h0M171.5 275.1h0M185.9 360.7h0M217.1 264.5h0M302.1 240.5h0M206.7 271.6h0M93 156.3h0M119.7 321.7h0M305.9 264.9h0M139.3 334h0M240.6 61.8h0M84.9 345.6h0M52.6 229.7h0M252.6 314.1h0M209.7 356.4h0M131.2 218h0M108.5 310.7h0M267.6 326.5h0M134.8 181.5h0M63.4 348h0M363.9 191.6h0M362 175.3h0M242.6 300.7h0M156.6 295.7h0M220 273h0M205.7 295.2h0M344.6 179.2h0M223.6 256.2h0M255.5 225.4h0M292.5 233.5h0M41.8 148.6h0M184.9 315.3h0M130.9 274.8h0M316 311.6h0M31.2 160.5h0M279.2 305.7h0M90.2 258.6h0M329.9 252.2h0M285.2 202.7h0M115.3 312.3h0M346.7 249.3h0M44.3 243.1h0M133.5 103.6h0M25.6 194.8h0M183.3 286.1h0M220.3 247.7h0M42.2 173.9h0M265.7 267.4h0M216.1 366.4h0M208 191.7h0M193.5 335.8h0M184.9 271.7h0M193.3 323.8h0M264.4 336.2h0M25.6 150.6h0M174.9 216.8h0M263.2 316.5h0M199.5 318.5h0M261.1 54.1h0M17.4 88.5h0M153.5 32.3h0M116.2 301.6h0M213.5 200.8h0M342 210.8h0M121.9 299.9h0M176.6 28.8h0M304.3 223.4h0M125.7 340.9h0M149.7 55.4h0M228.4 11h0M238.3 342.3h0"/>
<path stroke="#fff" stroke-width="2.1" stroke-linecap="butt" d="M31.2 343.7L46.5 335.7M75.5 318.3L105.0 301.9M134.1 284.4L163.8 268.2M192.9 250.6L223.1 234.1M252.1 216.7L281.9 201.0M311.4 183.3L340.9 167.1M369.5 150.2L385.2 141.7"/>
<path stroke="#fff" stroke-width="1.6" stroke-linecap="butt" d="M312.2 380.6H382.0"/>
</g></g>
</g>
<g id="panelG">
<text x="1730.3" y="2042.2" font-size="34.8" fill="#231f20" stroke="#231f20" stroke-width="0.56">G</text>
<text x="1904.2" y="2047.6" font-size="24" text-anchor="middle" stroke="#000" stroke-width="0.38">Mesenchyme</text>
<text x="1767.1" y="2266.1" font-size="20.6" text-anchor="middle" stroke="#000" stroke-width="0.33" transform="rotate(-90 1767.1 2266.1)">14 DPA expression</text>
<path d="M1807.0 2189.9L1807.3 2335.6C1807.5 2336.8 1807.8 2340.3 1808.2 2343.0C1808.6 2345.7 1809.2 2347.5 1809.9 2351.5C1810.7 2355.6 1811.6 2362.1 1812.6 2367.4C1813.5 2372.7 1814.8 2378.0 1815.7 2383.3C1816.7 2388.6 1817.4 2393.9 1818.5 2399.2C1819.7 2404.5 1820.8 2409.8 1822.5 2415.1C1824.2 2420.4 1827.2 2427.1 1828.6 2431.0C1830.0 2435.0 1830.3 2436.6 1830.8 2439.0C1831.4 2441.4 1831.9 2443.6 1832.0 2445.3C1832.1 2447.1 1831.6 2448.9 1831.5 2449.6L1782.5 2449.6C1782.4 2448.9 1781.9 2447.1 1782.0 2445.3C1782.1 2443.6 1782.6 2441.4 1783.2 2439.0C1783.7 2436.6 1784.0 2435.0 1785.4 2431.0C1786.8 2427.1 1789.8 2420.4 1791.5 2415.1C1793.2 2409.8 1794.3 2404.5 1795.5 2399.2C1796.6 2393.9 1797.3 2388.6 1798.3 2383.3C1799.2 2378.0 1800.5 2372.7 1801.4 2367.4C1802.4 2362.1 1803.3 2355.6 1804.1 2351.5C1804.8 2347.5 1805.4 2345.7 1805.8 2343.0C1806.2 2340.3 1806.5 2336.8 1806.7 2335.6L1807.0 2189.9Z" fill="#ff0000" stroke="#231f20" stroke-width="1.5" stroke-linejoin="round"/>
<path d="M1863.0 2100.2L1863.3 2215.0C1863.4 2217.8 1863.7 2226.5 1864.0 2232.0C1864.3 2237.5 1864.7 2242.7 1865.2 2248.0C1865.7 2253.3 1866.2 2258.7 1866.8 2264.0C1867.4 2269.3 1868.1 2274.7 1869.1 2280.0C1870.1 2285.3 1871.5 2290.6 1872.8 2295.9C1874.1 2301.2 1875.5 2306.5 1876.9 2311.8C1878.3 2317.1 1880.0 2322.4 1881.3 2327.7C1882.6 2333.0 1883.8 2338.3 1884.8 2343.6C1885.8 2348.9 1886.7 2354.2 1887.2 2359.5C1887.7 2364.8 1888.0 2370.1 1888.0 2375.4C1888.0 2380.7 1887.8 2386.0 1887.1 2391.3C1886.4 2396.6 1884.7 2402.7 1883.7 2407.2C1882.7 2411.7 1881.7 2414.3 1881.1 2418.3C1880.5 2422.3 1880.2 2425.8 1880.0 2431.0C1879.8 2436.2 1880.0 2446.5 1880.0 2449.6L1846.0 2449.6C1846.0 2446.5 1846.2 2436.2 1846.0 2431.0C1845.8 2425.8 1845.5 2422.3 1844.9 2418.3C1844.3 2414.3 1843.3 2411.7 1842.3 2407.2C1841.3 2402.7 1839.6 2396.6 1838.9 2391.3C1838.2 2386.0 1838.0 2380.7 1838.0 2375.4C1838.0 2370.1 1838.3 2364.8 1838.8 2359.5C1839.3 2354.2 1840.2 2348.9 1841.2 2343.6C1842.2 2338.3 1843.4 2333.0 1844.7 2327.7C1846.0 2322.4 1847.7 2317.1 1849.1 2311.8C1850.5 2306.5 1851.9 2301.2 1853.2 2295.9C1854.5 2290.6 1855.9 2285.3 1856.9 2280.0C1857.9 2274.7 1858.6 2269.3 1859.2 2264.0C1859.8 2258.7 1860.3 2253.3 1860.8 2248.0C1861.3 2242.7 1861.7 2237.5 1862.0 2232.0C1862.3 2226.5 1862.6 2217.8 1862.7 2215.0L1863.0 2100.2Z" fill="#ebb900" stroke="#231f20" stroke-width="1.5" stroke-linejoin="round"/>
<path d="M1946.8 2249.3L1947.1 2362.7C1947.2 2363.8 1947.5 2366.9 1947.8 2369.0C1948.1 2371.1 1948.2 2371.7 1948.8 2375.4C1949.3 2379.1 1950.1 2386.0 1951.2 2391.3C1952.2 2396.6 1954.0 2403.2 1955.1 2407.2C1956.3 2411.2 1957.0 2412.5 1958.3 2415.1C1959.7 2417.8 1961.5 2420.4 1963.1 2423.1C1964.7 2425.7 1966.5 2428.4 1967.9 2431.0C1969.2 2433.7 1970.3 2436.6 1971.0 2439.0C1971.8 2441.4 1972.2 2443.6 1972.3 2445.3C1972.4 2447.1 1971.9 2448.9 1971.8 2449.6L1921.8 2449.6C1921.7 2448.9 1921.2 2447.1 1921.3 2445.3C1921.4 2443.6 1921.8 2441.4 1922.6 2439.0C1923.3 2436.6 1924.4 2433.7 1925.7 2431.0C1927.1 2428.4 1928.9 2425.7 1930.5 2423.1C1932.1 2420.4 1933.9 2417.8 1935.3 2415.1C1936.6 2412.5 1937.3 2411.2 1938.5 2407.2C1939.6 2403.2 1941.4 2396.6 1942.4 2391.3C1943.5 2386.0 1944.3 2379.1 1944.8 2375.4C1945.4 2371.7 1945.5 2371.1 1945.8 2369.0C1946.1 2366.9 1946.4 2363.8 1946.5 2362.7L1946.8 2249.3Z" fill="#ff0000" stroke="#231f20" stroke-width="1.5" stroke-linejoin="round"/>
<path d="M2002.6 2166.6L2002.9 2303.8C2003.0 2305.0 2003.2 2308.3 2003.6 2311.0C2004.0 2313.7 2004.4 2315.6 2005.1 2319.7C2005.9 2323.9 2006.8 2330.3 2007.9 2335.6C2009.1 2340.9 2010.6 2346.2 2011.9 2351.5C2013.2 2356.8 2014.7 2362.1 2015.9 2367.4C2017.1 2372.7 2018.3 2378.0 2019.1 2383.3C2020.0 2388.6 2020.2 2393.9 2020.9 2399.2C2021.6 2404.5 2022.3 2409.8 2023.3 2415.1C2024.2 2420.4 2025.9 2427.1 2026.7 2431.0C2027.4 2435.0 2027.5 2436.6 2027.8 2439.0C2028.1 2441.4 2028.4 2443.6 2028.4 2445.3C2028.4 2447.1 2027.9 2448.9 2027.8 2449.6L1977.4 2449.6C1977.3 2448.9 1976.8 2447.1 1976.8 2445.3C1976.8 2443.6 1977.1 2441.4 1977.4 2439.0C1977.7 2436.6 1977.8 2435.0 1978.5 2431.0C1979.3 2427.1 1981.0 2420.4 1981.9 2415.1C1982.9 2409.8 1983.6 2404.5 1984.3 2399.2C1985.0 2393.9 1985.2 2388.6 1986.1 2383.3C1986.9 2378.0 1988.1 2372.7 1989.3 2367.4C1990.5 2362.1 1992.0 2356.8 1993.3 2351.5C1994.6 2346.2 1996.1 2340.9 1997.3 2335.6C1998.4 2330.3 1999.3 2323.9 2000.1 2319.7C2000.8 2315.6 2001.2 2313.7 2001.6 2311.0C2002.0 2308.3 2002.2 2305.0 2002.3 2303.8L2002.6 2166.6Z" fill="#ebb900" stroke="#231f20" stroke-width="1.5" stroke-linejoin="round"/>
<path d="M1780.7 2083.2V2449.6H2028.8" stroke="#231f20" stroke-width="1.6" fill="none"/>
<path d="M1807.7 2083.7H1862.9M1947.3 2149.3H2002.4" stroke="#000" stroke-width="1.6" fill="none"/>
<circle cx="1863" cy="2384.9" r="2.5" fill="#231f20"/>
<circle cx="1807" cy="2449.6" r="2.5" fill="#231f20"/>
<circle cx="1946.8" cy="2449.6" r="2.5" fill="#231f20"/>
<circle cx="2002.6" cy="2449.6" r="2.5" fill="#231f20"/>
<text x="1835.3" y="2085.2" font-size="22" text-anchor="middle" stroke="#000" stroke-width="0.35" font-weight="bold">*</text>
<text x="1974.8" y="2151.0" font-size="22" text-anchor="middle" stroke="#000" stroke-width="0.35" font-weight="bold">*</text>
<text x="1835.5" y="2472.8" font-size="20" text-anchor="middle" fill="#231f20" stroke="#231f20" stroke-width="0.32" font-style="italic">Meis1</text>
<text x="1975.2" y="2472.8" font-size="20" text-anchor="middle" fill="#231f20" stroke="#231f20" stroke-width="0.32" font-style="italic">Meis2</text>
<rect x="1817.1" y="2499.3" width="16.2" height="15.8" fill="#ff0000" stroke="#231f20" stroke-width="1.4"/>
<rect x="1905.5" y="2499.3" width="16.2" height="15.8" fill="#ebb900" stroke="#231f20" stroke-width="1.4"/>
<text x="1867.6" y="2502.3" font-size="16.7" text-anchor="middle" stroke="#000" stroke-width="0.27">Distal</text>
<text x="1867.8" y="2523.2" font-size="16.7" text-anchor="middle" stroke="#000" stroke-width="0.27">DMSO</text>
<text x="1959.6" y="2502.3" font-size="16.7" text-anchor="middle" stroke="#000" stroke-width="0.27">Distal</text>
<text x="1963.0" y="2523.2" font-size="16.7" text-anchor="middle" stroke="#000" stroke-width="0.27">1 µM TAL</text>
</g>
</svg>
</body></html>
